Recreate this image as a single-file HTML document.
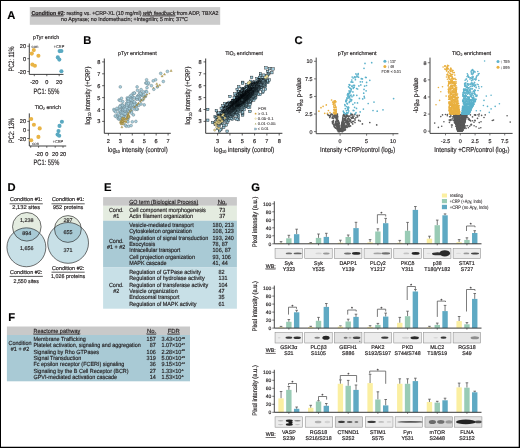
<!DOCTYPE html><html><head><meta charset="utf-8"><style>html,body{margin:0;padding:0;background:#fff;width:520px;height:448px;overflow:hidden}svg{display:block;will-change:transform;font-family:"Liberation Sans",sans-serif}text{stroke:#231f20;stroke-width:0.17px;text-rendering:geometricPrecision}</style></head><body><svg width="520" height="448" viewBox="0 0 520 448" font-family="Liberation Sans, sans-serif" fill="#231f20"><rect x="0.00" y="0.00" width="520.00" height="448.00" fill="#fff"/>
<defs><filter id="blr" x="-20%" y="-50%" width="140%" height="200%"><feGaussianBlur stdDeviation="0.55"/></filter></defs>
<rect x="29.80" y="7.10" width="190.40" height="17.70" fill="#cbcbcb"/>
<text x="125" y="14.6" font-size="5.6" text-anchor="middle" textLength="187" lengthAdjust="spacingAndGlyphs"><tspan font-weight="bold" text-decoration="underline">Condition #2</tspan>: resting vs. +CRP-XL (10 mg/ml) <tspan font-style="italic" text-decoration="underline">with feedback</tspan> from ADP, TBXA2</text>
<text x="124.5" y="20.5" font-size="5.6" text-anchor="middle" textLength="127" lengthAdjust="spacingAndGlyphs">no Apyrase; no Indomethacin; +Integrilin; 5 min; 37&#176;C</text>
<text x="7.2" y="19.2" font-size="11.2" font-weight="bold" fill="#000">A</text>
<text x="83.2" y="44.2" font-size="11.2" font-weight="bold" fill="#000">B</text>
<text x="294.6" y="44.2" font-size="11.2" font-weight="bold" fill="#000">C</text>
<text x="7.4" y="190.8" font-size="11.2" font-weight="bold" fill="#000">D</text>
<text x="104.0" y="191.3" font-size="11.2" font-weight="bold" fill="#000">E</text>
<text x="8.3" y="320.5" font-size="11.2" font-weight="bold" fill="#000">F</text>
<text x="251.3" y="190.9" font-size="11.2" font-weight="bold" fill="#000">G</text>
<line x1="29.30" y1="43.50" x2="29.30" y2="74.40" stroke="#2b2b2b" stroke-width="0.9"/>
<line x1="29.30" y1="74.40" x2="63.50" y2="74.40" stroke="#2b2b2b" stroke-width="0.9"/>
<line x1="27.30" y1="46.20" x2="29.30" y2="46.20" stroke="#2b2b2b" stroke-width="0.7"/>
<text x="26.10" y="48.22" font-size="5.6" text-anchor="end">20</text>
<line x1="27.30" y1="58.70" x2="29.30" y2="58.70" stroke="#2b2b2b" stroke-width="0.7"/>
<text x="26.10" y="60.72" font-size="5.6" text-anchor="end">0</text>
<line x1="27.30" y1="71.50" x2="29.30" y2="71.50" stroke="#2b2b2b" stroke-width="0.7"/>
<text x="26.10" y="73.52" font-size="5.6" text-anchor="end">-20</text>
<line x1="34.30" y1="74.40" x2="34.30" y2="76.20" stroke="#2b2b2b" stroke-width="0.7"/>
<line x1="46.80" y1="74.40" x2="46.80" y2="76.20" stroke="#2b2b2b" stroke-width="0.7"/>
<line x1="59.20" y1="74.40" x2="59.20" y2="76.20" stroke="#2b2b2b" stroke-width="0.7"/>
<text x="34.30" y="84.02" font-size="5.6" text-anchor="middle">-20</text>
<text x="46.80" y="84.02" font-size="5.6" text-anchor="middle">0</text>
<text x="59.20" y="84.02" font-size="5.6" text-anchor="middle">20</text>
<text x="46.10" y="38.91" font-size="5.3" text-anchor="middle">pTyr enrich</text>
<text x="46.40" y="93.71" font-size="7.8" text-anchor="middle" textLength="25.80" lengthAdjust="spacingAndGlyphs">PC1: 55%</text>
<text x="0" y="2.81" font-size="7.8" text-anchor="middle" textLength="25.00" lengthAdjust="spacingAndGlyphs" transform="translate(11.60,59.00) rotate(-90)">PC2: 11%</text>
<circle cx="33.8" cy="50.1" r="2.05" fill="#e9b445"/>
<circle cx="31.8" cy="53.6" r="2.05" fill="#e9b445"/>
<circle cx="38.4" cy="55.7" r="2.05" fill="#e9b445"/>
<circle cx="32.4" cy="64.6" r="2.05" fill="#e9b445"/>
<circle cx="34.9" cy="65.7" r="2.05" fill="#e9b445"/>
<circle cx="59.6" cy="51.1" r="2.05" fill="#5aa9c1"/>
<circle cx="61.4" cy="51.0" r="2.05" fill="#5aa9c1"/>
<circle cx="57.8" cy="57.4" r="2.05" fill="#5aa9c1"/>
<circle cx="59.3" cy="59.6" r="2.05" fill="#5aa9c1"/>
<circle cx="61.4" cy="71.3" r="2.05" fill="#5aa9c1"/>
<text x="35.00" y="47.71" font-size="4.2" text-anchor="middle" textLength="7.00" lengthAdjust="spacingAndGlyphs" style="stroke-width:0.05px">con</text>
<text x="59.00" y="47.71" font-size="4.2" text-anchor="middle" textLength="10.50" lengthAdjust="spacingAndGlyphs" style="stroke-width:0.05px">+CRP</text>
<line x1="29.30" y1="113.40" x2="29.30" y2="146.00" stroke="#2b2b2b" stroke-width="0.9"/>
<line x1="29.30" y1="146.00" x2="66.20" y2="146.00" stroke="#2b2b2b" stroke-width="0.9"/>
<line x1="27.30" y1="121.40" x2="29.30" y2="121.40" stroke="#2b2b2b" stroke-width="0.7"/>
<text x="26.10" y="123.42" font-size="5.6" text-anchor="end">20</text>
<line x1="27.30" y1="130.20" x2="29.30" y2="130.20" stroke="#2b2b2b" stroke-width="0.7"/>
<text x="26.10" y="132.22" font-size="5.6" text-anchor="end">0</text>
<line x1="27.30" y1="138.50" x2="29.30" y2="138.50" stroke="#2b2b2b" stroke-width="0.7"/>
<text x="26.10" y="140.52" font-size="5.6" text-anchor="end">-20</text>
<line x1="30.70" y1="146.00" x2="30.70" y2="147.80" stroke="#2b2b2b" stroke-width="0.7"/>
<line x1="38.60" y1="146.00" x2="38.60" y2="147.80" stroke="#2b2b2b" stroke-width="0.7"/>
<line x1="46.80" y1="146.00" x2="46.80" y2="147.80" stroke="#2b2b2b" stroke-width="0.7"/>
<line x1="55.20" y1="146.00" x2="55.20" y2="147.80" stroke="#2b2b2b" stroke-width="0.7"/>
<line x1="63.00" y1="146.00" x2="63.00" y2="147.80" stroke="#2b2b2b" stroke-width="0.7"/>
<text x="39.00" y="155.72" font-size="5.6" text-anchor="middle">-20</text>
<text x="46.80" y="155.72" font-size="5.6" text-anchor="middle">0</text>
<text x="55.20" y="155.72" font-size="5.6" text-anchor="middle">20</text>
<text x="63.00" y="155.72" font-size="5.6" text-anchor="middle">20</text>
<text x="47.80" y="108.81" font-size="5.3" text-anchor="middle">TiO<tspan font-size="3.4" dy="1.2">2</tspan><tspan dy="-1.2"> enrich</tspan></text>
<text x="46.40" y="164.61" font-size="7.8" text-anchor="middle" textLength="25.80" lengthAdjust="spacingAndGlyphs">PC1: 55%</text>
<text x="0" y="2.81" font-size="7.8" text-anchor="middle" textLength="25.00" lengthAdjust="spacingAndGlyphs" transform="translate(11.60,130.50) rotate(-90)">PC2: 13%</text>
<circle cx="31.2" cy="119.0" r="2.05" fill="#e9b445"/>
<circle cx="33.9" cy="124.8" r="2.05" fill="#e9b445"/>
<circle cx="39.7" cy="128.4" r="2.05" fill="#e9b445"/>
<circle cx="38.4" cy="136.9" r="2.05" fill="#e9b445"/>
<circle cx="31.2" cy="140.3" r="2.05" fill="#e9b445"/>
<circle cx="61.9" cy="121.7" r="2.05" fill="#5aa9c1"/>
<circle cx="59.5" cy="125.9" r="2.05" fill="#5aa9c1"/>
<circle cx="58.5" cy="131.1" r="2.05" fill="#5aa9c1"/>
<circle cx="57.6" cy="134.6" r="2.05" fill="#5aa9c1"/>
<circle cx="59.2" cy="135.8" r="2.05" fill="#5aa9c1"/>
<text x="35.70" y="145.11" font-size="4.2" text-anchor="middle" textLength="7.00" lengthAdjust="spacingAndGlyphs" style="stroke-width:0.05px">con</text>
<text x="57.90" y="142.71" font-size="4.2" text-anchor="middle" textLength="10.50" lengthAdjust="spacingAndGlyphs" style="stroke-width:0.05px">+CRP</text>
<line x1="104.30" y1="58.50" x2="104.30" y2="133.30" stroke="#222" stroke-width="0.9"/>
<line x1="104.30" y1="133.30" x2="170.80" y2="133.30" stroke="#222" stroke-width="0.9"/>
<line x1="102.10" y1="121.40" x2="104.30" y2="121.40" stroke="#222" stroke-width="0.7"/>
<text x="100.30" y="123.42" font-size="5.6" text-anchor="end">3</text>
<line x1="102.10" y1="109.50" x2="104.30" y2="109.50" stroke="#222" stroke-width="0.7"/>
<text x="100.30" y="111.52" font-size="5.6" text-anchor="end">4</text>
<line x1="102.10" y1="97.60" x2="104.30" y2="97.60" stroke="#222" stroke-width="0.7"/>
<text x="100.30" y="99.62" font-size="5.6" text-anchor="end">5</text>
<line x1="102.10" y1="85.70" x2="104.30" y2="85.70" stroke="#222" stroke-width="0.7"/>
<text x="100.30" y="87.72" font-size="5.6" text-anchor="end">6</text>
<line x1="102.10" y1="73.80" x2="104.30" y2="73.80" stroke="#222" stroke-width="0.7"/>
<text x="100.30" y="75.82" font-size="5.6" text-anchor="end">7</text>
<line x1="102.10" y1="61.90" x2="104.30" y2="61.90" stroke="#222" stroke-width="0.7"/>
<text x="100.30" y="63.92" font-size="5.6" text-anchor="end">8</text>
<line x1="108.40" y1="133.30" x2="108.40" y2="135.50" stroke="#222" stroke-width="0.7"/>
<text x="108.40" y="142.92" font-size="5.6" text-anchor="middle">2</text>
<line x1="120.34" y1="133.30" x2="120.34" y2="135.50" stroke="#222" stroke-width="0.7"/>
<text x="120.34" y="142.92" font-size="5.6" text-anchor="middle">3</text>
<line x1="132.28" y1="133.30" x2="132.28" y2="135.50" stroke="#222" stroke-width="0.7"/>
<text x="132.28" y="142.92" font-size="5.6" text-anchor="middle">4</text>
<line x1="144.22" y1="133.30" x2="144.22" y2="135.50" stroke="#222" stroke-width="0.7"/>
<text x="144.22" y="142.92" font-size="5.6" text-anchor="middle">5</text>
<line x1="156.16" y1="133.30" x2="156.16" y2="135.50" stroke="#222" stroke-width="0.7"/>
<text x="156.16" y="142.92" font-size="5.6" text-anchor="middle">6</text>
<line x1="168.10" y1="133.30" x2="168.10" y2="135.50" stroke="#222" stroke-width="0.7"/>
<text x="168.10" y="142.92" font-size="5.6" text-anchor="middle">7</text>
<text x="118.00" y="54.91" font-size="5.3" textLength="38.70" lengthAdjust="spacingAndGlyphs">pTyr enrichment</text>
<text x="137.70" y="151.7" font-size="7.0" text-anchor="middle" textLength="60.0" lengthAdjust="spacingAndGlyphs">log<tspan font-size="4.4" dy="1.5">10</tspan><tspan dy="-1.5"> intensity (control)</tspan></text>
<text transform="translate(87.1,95.6) rotate(-90)" x="0" y="2.4" font-size="7.0" text-anchor="middle" textLength="58" lengthAdjust="spacingAndGlyphs">log<tspan font-size="4.4" dy="1.5">10</tspan><tspan dy="-1.5"> intensity (+CRP)</tspan></text>
<line x1="205.70" y1="58.50" x2="205.70" y2="133.30" stroke="#222" stroke-width="0.9"/>
<line x1="205.70" y1="133.30" x2="282.40" y2="133.30" stroke="#222" stroke-width="0.9"/>
<line x1="203.50" y1="121.40" x2="205.70" y2="121.40" stroke="#222" stroke-width="0.7"/>
<text x="201.70" y="123.42" font-size="5.6" text-anchor="end">3</text>
<line x1="203.50" y1="109.50" x2="205.70" y2="109.50" stroke="#222" stroke-width="0.7"/>
<text x="201.70" y="111.52" font-size="5.6" text-anchor="end">4</text>
<line x1="203.50" y1="97.60" x2="205.70" y2="97.60" stroke="#222" stroke-width="0.7"/>
<text x="201.70" y="99.62" font-size="5.6" text-anchor="end">5</text>
<line x1="203.50" y1="85.70" x2="205.70" y2="85.70" stroke="#222" stroke-width="0.7"/>
<text x="201.70" y="87.72" font-size="5.6" text-anchor="end">6</text>
<line x1="203.50" y1="73.80" x2="205.70" y2="73.80" stroke="#222" stroke-width="0.7"/>
<text x="201.70" y="75.82" font-size="5.6" text-anchor="end">7</text>
<line x1="203.50" y1="61.90" x2="205.70" y2="61.90" stroke="#222" stroke-width="0.7"/>
<text x="201.70" y="63.92" font-size="5.6" text-anchor="end">8</text>
<line x1="217.60" y1="133.30" x2="217.60" y2="135.50" stroke="#222" stroke-width="0.7"/>
<text x="217.60" y="142.92" font-size="5.6" text-anchor="middle">3</text>
<line x1="229.92" y1="133.30" x2="229.92" y2="135.50" stroke="#222" stroke-width="0.7"/>
<text x="229.92" y="142.92" font-size="5.6" text-anchor="middle">4</text>
<line x1="242.24" y1="133.30" x2="242.24" y2="135.50" stroke="#222" stroke-width="0.7"/>
<text x="242.24" y="142.92" font-size="5.6" text-anchor="middle">5</text>
<line x1="254.56" y1="133.30" x2="254.56" y2="135.50" stroke="#222" stroke-width="0.7"/>
<text x="254.56" y="142.92" font-size="5.6" text-anchor="middle">6</text>
<line x1="266.88" y1="133.30" x2="266.88" y2="135.50" stroke="#222" stroke-width="0.7"/>
<text x="266.88" y="142.92" font-size="5.6" text-anchor="middle">7</text>
<line x1="279.20" y1="133.30" x2="279.20" y2="135.50" stroke="#222" stroke-width="0.7"/>
<text x="279.20" y="142.92" font-size="5.6" text-anchor="middle">8</text>
<text x="225.20" y="54.91" font-size="5.3" textLength="37.80" lengthAdjust="spacingAndGlyphs">TiO<tspan font-size="3.4" dy="1.2">2</tspan><tspan dy="-1.2"> enrichment</tspan></text>
<text x="244.10" y="151.7" font-size="7.0" text-anchor="middle" textLength="60.4" lengthAdjust="spacingAndGlyphs">log<tspan font-size="4.4" dy="1.5">10</tspan><tspan dy="-1.5"> intensity (control)</tspan></text>
<text transform="translate(187.9,95.6) rotate(-90)" x="0" y="2.4" font-size="7.0" text-anchor="middle" textLength="58" lengthAdjust="spacingAndGlyphs">log<tspan font-size="4.4" dy="1.5">10</tspan><tspan dy="-1.5"> intensity (+CRP)</tspan></text>
<g fill="#a8cfdd" stroke="#5d7780" stroke-width="0.42"><circle cx="126.5" cy="103.7" r="1.4"/><circle cx="119.8" cy="107.4" r="1.4"/><circle cx="130.6" cy="105.8" r="1.4"/><circle cx="130.0" cy="103.8" r="1.4"/><circle cx="118.1" cy="116.4" r="1.4"/><circle cx="120.5" cy="111.9" r="1.4"/><circle cx="128.4" cy="105.2" r="1.4"/><circle cx="124.3" cy="111.9" r="1.4"/><circle cx="132.6" cy="96.8" r="1.4"/><circle cx="127.9" cy="108.9" r="1.4"/><circle cx="145.8" cy="83.1" r="1.4"/><circle cx="125.8" cy="105.6" r="1.4"/><circle cx="122.3" cy="108.1" r="1.4"/><circle cx="137.9" cy="96.0" r="1.4"/><circle cx="123.3" cy="116.7" r="1.4"/><circle cx="127.4" cy="110.7" r="1.4"/><circle cx="130.9" cy="102.8" r="1.4"/><circle cx="123.9" cy="109.3" r="1.4"/><circle cx="133.9" cy="105.9" r="1.4"/><circle cx="131.7" cy="101.9" r="1.4"/><circle cx="128.9" cy="108.7" r="1.4"/><circle cx="134.4" cy="93.1" r="1.4"/><circle cx="124.8" cy="114.7" r="1.4"/><circle cx="140.0" cy="99.9" r="1.4"/><circle cx="135.2" cy="104.3" r="1.4"/><circle cx="121.5" cy="98.3" r="1.4"/><circle cx="128.3" cy="106.4" r="1.4"/><circle cx="129.6" cy="108.3" r="1.4"/><circle cx="118.2" cy="118.7" r="1.4"/><circle cx="131.4" cy="111.4" r="1.4"/><circle cx="140.0" cy="100.1" r="1.4"/><circle cx="131.9" cy="96.5" r="1.4"/><circle cx="131.6" cy="113.1" r="1.4"/><circle cx="143.4" cy="91.8" r="1.4"/><circle cx="129.3" cy="106.6" r="1.4"/><circle cx="134.5" cy="103.1" r="1.4"/><circle cx="133.1" cy="93.4" r="1.4"/><circle cx="125.7" cy="109.0" r="1.4"/><circle cx="127.7" cy="107.5" r="1.4"/><circle cx="129.1" cy="106.8" r="1.4"/><circle cx="122.9" cy="109.5" r="1.4"/><circle cx="136.4" cy="98.9" r="1.4"/><circle cx="121.8" cy="111.6" r="1.4"/><circle cx="139.9" cy="92.3" r="1.4"/><circle cx="120.1" cy="119.0" r="1.4"/><circle cx="140.4" cy="94.9" r="1.4"/><circle cx="138.0" cy="96.1" r="1.4"/><circle cx="128.2" cy="109.6" r="1.4"/><circle cx="127.2" cy="98.0" r="1.4"/><circle cx="122.5" cy="119.5" r="1.4"/><circle cx="123.2" cy="110.2" r="1.4"/><circle cx="129.6" cy="101.9" r="1.4"/><circle cx="131.8" cy="103.8" r="1.4"/><circle cx="128.3" cy="106.0" r="1.4"/><circle cx="127.4" cy="118.5" r="1.4"/><circle cx="134.2" cy="106.8" r="1.4"/><circle cx="130.2" cy="110.5" r="1.4"/><circle cx="119.0" cy="119.0" r="1.4"/><circle cx="141.1" cy="94.4" r="1.4"/><circle cx="137.3" cy="109.3" r="1.4"/><circle cx="127.8" cy="108.8" r="1.4"/><circle cx="132.8" cy="101.5" r="1.4"/><circle cx="119.4" cy="110.5" r="1.4"/><circle cx="122.8" cy="109.5" r="1.4"/><circle cx="126.8" cy="107.6" r="1.4"/><circle cx="122.5" cy="111.1" r="1.4"/><circle cx="120.9" cy="113.1" r="1.4"/><circle cx="140.0" cy="96.3" r="1.4"/><circle cx="132.3" cy="101.0" r="1.4"/><circle cx="127.0" cy="104.5" r="1.4"/><circle cx="127.3" cy="100.3" r="1.4"/><circle cx="147.8" cy="84.2" r="1.4"/><circle cx="129.2" cy="107.9" r="1.4"/><circle cx="120.9" cy="112.2" r="1.4"/><circle cx="126.9" cy="108.5" r="1.4"/><circle cx="122.8" cy="101.6" r="1.4"/><circle cx="117.2" cy="109.5" r="1.4"/><circle cx="122.3" cy="113.1" r="1.4"/><circle cx="130.8" cy="98.5" r="1.4"/><circle cx="146.0" cy="91.4" r="1.4"/><circle cx="139.6" cy="98.8" r="1.4"/><circle cx="127.3" cy="110.9" r="1.4"/><circle cx="122.9" cy="109.9" r="1.4"/><circle cx="136.7" cy="105.9" r="1.4"/><circle cx="126.6" cy="106.3" r="1.4"/><circle cx="146.7" cy="82.8" r="1.4"/><circle cx="139.2" cy="94.6" r="1.4"/><circle cx="135.5" cy="109.4" r="1.4"/><circle cx="124.4" cy="114.2" r="1.4"/><circle cx="117.6" cy="115.6" r="1.4"/><circle cx="117.5" cy="115.8" r="1.4"/><circle cx="134.3" cy="97.9" r="1.4"/><circle cx="144.2" cy="104.9" r="1.4"/><circle cx="147.0" cy="87.7" r="1.4"/><circle cx="144.1" cy="96.2" r="1.4"/><circle cx="124.4" cy="106.9" r="1.4"/><circle cx="123.7" cy="108.2" r="1.4"/><circle cx="141.1" cy="89.6" r="1.4"/><circle cx="138.7" cy="105.4" r="1.4"/><circle cx="137.3" cy="98.4" r="1.4"/><circle cx="120.3" cy="118.7" r="1.4"/><circle cx="136.8" cy="109.0" r="1.4"/><circle cx="135.8" cy="103.6" r="1.4"/><circle cx="137.0" cy="99.1" r="1.4"/><circle cx="126.7" cy="103.6" r="1.4"/><circle cx="127.8" cy="119.5" r="1.4"/><circle cx="128.0" cy="99.2" r="1.4"/><circle cx="123.0" cy="113.4" r="1.4"/><circle cx="121.7" cy="105.4" r="1.4"/><circle cx="137.5" cy="90.3" r="1.4"/><circle cx="122.3" cy="104.8" r="1.4"/><circle cx="133.4" cy="114.9" r="1.4"/><circle cx="127.0" cy="110.0" r="1.4"/><circle cx="116.4" cy="116.7" r="1.4"/><circle cx="145.3" cy="96.5" r="1.4"/><circle cx="142.8" cy="99.9" r="1.4"/><circle cx="128.6" cy="99.8" r="1.4"/><circle cx="124.0" cy="116.6" r="1.4"/><circle cx="125.0" cy="110.1" r="1.4"/><circle cx="131.7" cy="100.2" r="1.4"/><circle cx="125.2" cy="111.3" r="1.4"/><circle cx="141.6" cy="94.6" r="1.4"/><circle cx="127.1" cy="113.8" r="1.4"/><circle cx="141.3" cy="94.4" r="1.4"/><circle cx="128.3" cy="101.3" r="1.4"/><circle cx="130.5" cy="107.6" r="1.4"/><circle cx="130.3" cy="99.5" r="1.4"/><circle cx="123.3" cy="109.8" r="1.4"/><circle cx="115.2" cy="116.0" r="1.4"/><circle cx="129.3" cy="108.6" r="1.4"/><circle cx="135.1" cy="105.2" r="1.4"/><circle cx="130.2" cy="106.5" r="1.4"/><circle cx="131.0" cy="103.8" r="1.4"/><circle cx="131.1" cy="106.5" r="1.4"/><circle cx="124.9" cy="110.6" r="1.4"/><circle cx="130.0" cy="96.6" r="1.4"/><circle cx="131.2" cy="103.5" r="1.4"/><circle cx="128.7" cy="117.1" r="1.4"/><circle cx="132.3" cy="109.3" r="1.4"/><circle cx="134.3" cy="101.9" r="1.4"/><circle cx="128.9" cy="111.6" r="1.4"/><circle cx="143.2" cy="95.8" r="1.4"/><circle cx="134.4" cy="93.1" r="1.4"/><circle cx="125.2" cy="117.3" r="1.4"/><circle cx="131.1" cy="95.3" r="1.4"/><circle cx="122.1" cy="114.8" r="1.4"/><circle cx="121.6" cy="113.7" r="1.4"/><circle cx="124.7" cy="108.6" r="1.4"/><circle cx="119.8" cy="117.5" r="1.4"/><circle cx="141.0" cy="104.0" r="1.4"/><circle cx="122.6" cy="112.6" r="1.4"/><circle cx="122.2" cy="118.5" r="1.4"/><circle cx="140.4" cy="93.4" r="1.4"/><circle cx="143.9" cy="94.7" r="1.4"/><circle cx="127.9" cy="121.9" r="1.4"/><circle cx="138.4" cy="97.2" r="1.4"/><circle cx="122.8" cy="116.4" r="1.4"/><circle cx="126.8" cy="105.2" r="1.4"/><circle cx="123.7" cy="113.5" r="1.4"/><circle cx="116.9" cy="108.3" r="1.4"/><circle cx="131.0" cy="105.2" r="1.4"/><circle cx="126.6" cy="107.5" r="1.4"/><circle cx="132.6" cy="104.9" r="1.4"/><circle cx="146.7" cy="92.0" r="1.4"/><circle cx="137.0" cy="97.3" r="1.4"/><circle cx="125.3" cy="109.3" r="1.4"/><circle cx="118.2" cy="113.8" r="1.4"/><circle cx="121.8" cy="115.6" r="1.4"/><circle cx="128.3" cy="98.6" r="1.4"/><circle cx="125.1" cy="113.9" r="1.4"/><circle cx="122.4" cy="105.5" r="1.4"/><circle cx="134.5" cy="104.7" r="1.4"/><circle cx="120.5" cy="105.6" r="1.4"/><circle cx="128.4" cy="103.7" r="1.4"/><circle cx="119.8" cy="106.7" r="1.4"/><circle cx="120.3" cy="86.9" r="1.4"/><circle cx="167.4" cy="71.4" r="1.4"/><circle cx="160.7" cy="73.4" r="1.4"/><circle cx="148.5" cy="83.0" r="1.4"/><circle cx="153.2" cy="80.9" r="1.4"/><circle cx="155.6" cy="79.8" r="1.4"/><circle cx="163.3" cy="81.5" r="1.4"/><circle cx="137.1" cy="86.9" r="1.4"/><circle cx="146.6" cy="79.8" r="1.4"/><circle cx="151.4" cy="85.7" r="1.4"/><circle cx="126.3" cy="126.2" r="1.4"/><circle cx="128.7" cy="126.2" r="1.4"/><circle cx="131.1" cy="125.6" r="1.4"/><circle cx="125.1" cy="125.0" r="1.4"/><circle cx="132.3" cy="121.8" r="1.4"/><circle cx="135.9" cy="121.4" r="1.4"/><circle cx="113.9" cy="109.5" r="1.4"/><circle cx="114.4" cy="110.7" r="1.4"/><circle cx="115.6" cy="111.9" r="1.4"/><circle cx="119.1" cy="100.0" r="1.4"/><circle cx="120.3" cy="100.6" r="1.4"/><circle cx="153.8" cy="89.3" r="1.4"/><circle cx="157.4" cy="86.9" r="1.4"/></g>
<g fill="#d3bb66" stroke="#7a6a30" stroke-width="0.3"><path d="M127.0 117.1l1.10 1.90h-2.20z"/><path d="M121.0 121.4l1.10 1.90h-2.20z"/><path d="M127.6 116.0l1.10 1.90h-2.20z"/><path d="M124.1 120.2l1.10 1.90h-2.20z"/><path d="M128.1 112.6l1.10 1.90h-2.20z"/><path d="M122.6 118.5l1.10 1.90h-2.20z"/><path d="M122.3 118.7l1.10 1.90h-2.20z"/><path d="M121.3 121.3l1.10 1.90h-2.20z"/><path d="M122.0 120.3l1.10 1.90h-2.20z"/><path d="M122.9 121.2l1.10 1.90h-2.20z"/><path d="M122.8 116.8l1.10 1.90h-2.20z"/><path d="M124.5 117.5l1.10 1.90h-2.20z"/><path d="M120.5 120.7l1.10 1.90h-2.20z"/><path d="M122.4 117.0l1.10 1.90h-2.20z"/><path d="M124.9 117.7l1.10 1.90h-2.20z"/><path d="M121.9 125.9l1.10 1.90h-2.20z"/><path d="M121.2 120.9l1.10 1.90h-2.20z"/><path d="M127.2 118.0l1.10 1.90h-2.20z"/><path d="M127.3 114.6l1.10 1.90h-2.20z"/><path d="M123.6 122.6l1.10 1.90h-2.20z"/><path d="M128.6 114.5l1.10 1.90h-2.20z"/><path d="M123.2 118.1l1.10 1.90h-2.20z"/><path d="M125.7 120.2l1.10 1.90h-2.20z"/><path d="M123.7 119.6l1.10 1.90h-2.20z"/><path d="M121.4 120.9l1.10 1.90h-2.20z"/><path d="M120.9 122.1l1.10 1.90h-2.20z"/><path d="M121.7 122.9l1.10 1.90h-2.20z"/><path d="M121.0 119.5l1.10 1.90h-2.20z"/><path d="M125.9 120.6l1.10 1.90h-2.20z"/><path d="M122.7 120.1l1.10 1.90h-2.20z"/><path d="M124.2 117.0l1.10 1.90h-2.20z"/><path d="M121.7 122.8l1.10 1.90h-2.20z"/><path d="M128.4 114.0l1.10 1.90h-2.20z"/><path d="M128.5 116.0l1.10 1.90h-2.20z"/><path d="M128.4 115.0l1.10 1.90h-2.20z"/><path d="M136.5 104.6l0.66 1.14h-1.32z"/><path d="M138.3 102.8l0.66 1.14h-1.32z"/><path d="M140.6 101.0l0.66 1.14h-1.32z"/><path d="M141.4 99.7l0.66 1.14h-1.32z"/><path d="M128.8 112.3l0.66 1.14h-1.32z"/><path d="M138.7 102.1l0.66 1.14h-1.32z"/><path d="M129.7 110.7l0.66 1.14h-1.32z"/><path d="M134.5 106.4l0.66 1.14h-1.32z"/><path d="M143.4 98.9l0.66 1.14h-1.32z"/><path d="M145.2 96.1l0.66 1.14h-1.32z"/><path d="M146.7 93.9l0.66 1.14h-1.32z"/><path d="M136.9 104.7l0.66 1.14h-1.32z"/><path d="M153.4 87.1l0.66 1.14h-1.32z"/><path d="M144.8 95.4l0.66 1.14h-1.32z"/><path d="M129.8 110.5l0.66 1.14h-1.32z"/><path d="M144.4 98.0l0.66 1.14h-1.32z"/><path d="M147.1 93.9l0.66 1.14h-1.32z"/><path d="M141.8 99.6l0.66 1.14h-1.32z"/><path d="M141.3 99.1l0.66 1.14h-1.32z"/><path d="M149.4 92.8l0.66 1.14h-1.32z"/><path d="M143.3 96.9l0.66 1.14h-1.32z"/><path d="M146.1 95.7l0.66 1.14h-1.32z"/><path d="M134.5 106.2l0.66 1.14h-1.32z"/><path d="M137.7 103.3l0.66 1.14h-1.32z"/><path d="M131.3 109.3l0.66 1.14h-1.32z"/><path d="M162.1 75.0l1.1 1.9h-2.2z"/><path d="M156.8 82.7l1.1 1.9h-2.2z"/><path d="M159.7 83.9l1.1 1.9h-2.2z"/><path d="M171.1 69.6l1.1 1.9h-2.2z"/><path d="M157.4 85.1l1.1 1.9h-2.2z"/><path d="M164.5 73.2l1.1 1.9h-2.2z"/></g>
<g stroke="#050a0c" stroke-width="0.38"><rect x="206.5" y="108.2" width="2.5" height="2.5" fill="#9cc8d8"/><rect x="225.9" y="130.0" width="2.5" height="2.5" fill="#9cc8d8"/><rect x="248.7" y="110.2" width="2.5" height="2.5" fill="#9cc8d8"/><rect x="241.5" y="81.1" width="2.5" height="2.5" fill="#9cc8d8"/><rect x="237.2" y="118.4" width="2.5" height="2.5" fill="#9cc8d8"/><rect x="241.4" y="82.0" width="2.5" height="2.5" fill="#9cc8d8"/><rect x="237.5" y="85.5" width="2.5" height="2.5" fill="#9cc8d8"/><rect x="241.4" y="113.7" width="2.5" height="2.5" fill="#9cc8d8"/><rect x="250.4" y="76.1" width="2.5" height="2.5" fill="#9cc8d8"/><rect x="235.8" y="117.9" width="2.5" height="2.5" fill="#9cc8d8"/><rect x="235.9" y="88.2" width="2.5" height="2.5" fill="#9cc8d8"/><rect x="228.7" y="95.2" width="2.5" height="2.5" fill="#9cc8d8"/><rect x="241.4" y="112.4" width="2.5" height="2.5" fill="#9cc8d8"/><rect x="237.3" y="115.4" width="2.5" height="2.5" fill="#9cc8d8"/><rect x="264.8" y="66.6" width="2.5" height="2.5" fill="#9cc8d8"/><rect x="248.4" y="105.9" width="2.5" height="2.5" fill="#9cc8d8"/><rect x="241.0" y="111.8" width="2.5" height="2.5" fill="#9cc8d8"/><rect x="234.3" y="117.3" width="2.5" height="2.5" fill="#9cc8d8"/><rect x="218.2" y="129.7" width="2.5" height="2.5" fill="#9cc8d8"/><rect x="222.5" y="126.1" width="2.5" height="2.5" fill="#9cc8d8"/><rect x="247.0" y="106.3" width="2.5" height="2.5" fill="#9cc8d8"/><rect x="219.7" y="127.9" width="2.5" height="2.5" fill="#9cc8d8"/><rect x="241.4" y="110.8" width="2.5" height="2.5" fill="#9cc8d8"/><rect x="218.8" y="128.5" width="2.5" height="2.5" fill="#9cc8d8"/><rect x="237.3" y="114.1" width="2.5" height="2.5" fill="#9cc8d8"/><rect x="215.1" y="109.4" width="2.5" height="2.5" fill="#9cc8d8"/><rect x="225.0" y="123.7" width="2.5" height="2.5" fill="#9cc8d8"/><rect x="233.6" y="92.8" width="2.5" height="2.5" fill="#9cc8d8"/><rect x="259.3" y="72.5" width="2.5" height="2.5" fill="#9cc8d8"/><rect x="240.7" y="87.3" width="2.5" height="2.5" fill="#9cc8d8"/><rect x="249.6" y="80.1" width="2.5" height="2.5" fill="#9cc8d8"/><rect x="247.2" y="82.1" width="2.5" height="2.5" fill="#9cc8d8"/><rect x="245.8" y="83.3" width="2.5" height="2.5" fill="#9cc8d8"/><rect x="223.7" y="102.3" width="2.5" height="2.5" fill="#9cc8d8"/><rect x="206.5" y="119.0" width="2.5" height="2.5" fill="#9cc8d8"/><rect x="237.5" y="90.5" width="2.5" height="2.5" fill="#9cc8d8"/><rect x="231.1" y="117.8" width="2.5" height="2.5" fill="#9cc8d8"/><rect x="237.8" y="90.3" width="2.5" height="2.5" fill="#9cc8d8"/><rect x="242.7" y="108.4" width="2.5" height="2.5" fill="#9cc8d8"/><rect x="221.6" y="104.7" width="2.5" height="2.5" fill="#9cc8d8"/><rect x="236.1" y="91.9" width="2.5" height="2.5" fill="#9cc8d8"/><rect x="248.8" y="103.0" width="2.5" height="2.5" fill="#9cc8d8"/><rect x="222.5" y="124.1" width="2.5" height="2.5" fill="#9cc8d8"/><rect x="268.4" y="67.4" width="2.5" height="2.5" fill="#9cc8d8"/><rect x="261.5" y="91.0" width="2.5" height="2.5" fill="#9cc8d8"/><rect x="226.4" y="120.7" width="2.5" height="2.5" fill="#9cc8d8"/><rect x="236.3" y="112.9" width="2.5" height="2.5" fill="#9cc8d8"/><rect x="220.0" y="107.1" width="2.5" height="2.5" fill="#9cc8d8"/><rect x="259.2" y="74.3" width="2.5" height="2.5" fill="#9cc8d8"/><rect x="242.3" y="87.5" width="2.5" height="2.5" fill="#9cc8d8"/><rect x="258.8" y="93.2" width="2.5" height="2.5" fill="#9cc8d8"/><rect x="244.2" y="86.0" width="2.5" height="2.5" fill="#9cc8d8"/><rect x="249.7" y="81.6" width="2.5" height="2.5" fill="#9cc8d8"/><rect x="264.3" y="87.9" width="2.5" height="2.5" fill="#9cc8d8"/><rect x="247.2" y="83.8" width="2.5" height="2.5" fill="#9cc8d8"/><rect x="262.0" y="90.0" width="2.5" height="2.5" fill="#9cc8d8"/><rect x="252.5" y="98.7" width="2.5" height="2.5" fill="#9cc8d8"/><rect x="235.7" y="112.9" width="2.5" height="2.5" fill="#9cc8d8"/><rect x="216.3" y="127.3" width="2.5" height="2.5" fill="#9cc8d8"/><rect x="244.8" y="105.3" width="2.5" height="2.5" fill="#9cc8d8"/><rect x="255.8" y="77.3" width="2.5" height="2.5" fill="#9cc8d8"/><rect x="249.4" y="101.3" width="2.5" height="2.5" fill="#9cc8d8"/><rect x="230.0" y="117.3" width="2.5" height="2.5" fill="#9cc8d8"/><rect x="241.8" y="88.3" width="2.5" height="2.5" fill="#9cc8d8"/><rect x="234.4" y="113.6" width="2.5" height="2.5" fill="#9cc8d8"/><rect x="242.0" y="88.4" width="2.5" height="2.5" fill="#9cc8d8"/><rect x="242.2" y="88.2" width="2.5" height="2.5" fill="#9cc8d8"/><rect x="245.2" y="104.7" width="2.5" height="2.5" fill="#9cc8d8"/><rect x="229.8" y="117.2" width="2.5" height="2.5" fill="#9cc8d8"/><rect x="227.4" y="119.0" width="2.5" height="2.5" fill="#9cc8d8"/><rect x="253.7" y="97.2" width="2.5" height="2.5" fill="#9cc8d8"/><rect x="254.5" y="96.3" width="2.5" height="2.5" fill="#9cc8d8"/><rect x="266.4" y="70.2" width="2.5" height="2.5" fill="#9cc8d8"/><rect x="237.2" y="111.2" width="2.5" height="2.5" fill="#9cc8d8"/><rect x="240.3" y="90.1" width="2.5" height="2.5" fill="#9cc8d8"/><rect x="239.5" y="90.8" width="2.5" height="2.5" fill="#9cc8d8"/><rect x="244.9" y="104.6" width="2.5" height="2.5" fill="#9cc8d8"/><rect x="250.8" y="81.7" width="2.5" height="2.5" fill="#9cc8d8"/><rect x="234.8" y="94.9" width="2.5" height="2.5" fill="#9cc8d8"/><rect x="238.4" y="110.0" width="2.5" height="2.5" fill="#9cc8d8"/><rect x="258.2" y="76.1" width="2.5" height="2.5" fill="#9cc8d8"/><rect x="233.0" y="96.5" width="2.5" height="2.5" fill="#9cc8d8"/><rect x="227.9" y="101.1" width="2.5" height="2.5" fill="#9cc8d8"/><rect x="245.7" y="85.9" width="2.5" height="2.5" fill="#9cc8d8"/><rect x="243.0" y="106.0" width="2.5" height="2.5" fill="#9cc8d8"/><rect x="243.7" y="87.5" width="2.5" height="2.5" fill="#9cc8d8"/><rect x="237.7" y="92.6" width="2.5" height="2.5" fill="#9cc8d8"/><rect x="240.8" y="107.8" width="2.5" height="2.5" fill="#9cc8d8"/><rect x="235.8" y="111.9" width="2.5" height="2.5" fill="#9cc8d8"/><rect x="239.5" y="91.2" width="2.5" height="2.5" fill="#9cc8d8"/><rect x="271.8" y="67.7" width="2.5" height="2.5" fill="#9cc8d8"/><rect x="240.5" y="90.4" width="2.5" height="2.5" fill="#9cc8d8"/><rect x="246.0" y="85.9" width="2.5" height="2.5" fill="#9cc8d8"/><rect x="216.5" y="112.3" width="2.5" height="2.5" fill="#9cc8d8"/><rect x="237.3" y="93.1" width="2.5" height="2.5" fill="#9cc8d8"/><rect x="240.6" y="107.7" width="2.5" height="2.5" fill="#9cc8d8"/><rect x="249.6" y="83.1" width="2.5" height="2.5" fill="#9cc8d8"/><rect x="242.9" y="88.5" width="2.5" height="2.5" fill="#9cc8d8"/><rect x="249.1" y="83.6" width="2.5" height="2.5" fill="#9cc8d8"/><rect x="227.1" y="102.3" width="2.5" height="2.5" fill="#9cc8d8"/><rect x="248.9" y="100.5" width="2.5" height="2.5" fill="#9cc8d8"/><rect x="235.0" y="112.2" width="2.5" height="2.5" fill="#9cc8d8"/><rect x="224.6" y="120.1" width="2.5" height="2.5" fill="#9cc8d8"/><rect x="225.8" y="103.5" width="2.5" height="2.5" fill="#9cc8d8"/><rect x="236.6" y="94.0" width="2.5" height="2.5" fill="#9cc8d8"/><rect x="262.5" y="73.9" width="2.5" height="2.5" fill="#9cc8d8"/><rect x="238.5" y="109.3" width="2.5" height="2.5" fill="#9cc8d8"/><rect x="213.9" y="115.4" width="2.5" height="2.5" fill="#9cc8d8"/><rect x="226.8" y="102.7" width="2.5" height="2.5" fill="#9cc8d8"/><rect x="222.5" y="106.8" width="2.5" height="2.5" fill="#9cc8d8"/><rect x="257.2" y="92.8" width="2.5" height="2.5" fill="#9cc8d8"/><rect x="248.3" y="84.5" width="2.5" height="2.5" fill="#9cc8d8"/><rect x="236.7" y="94.0" width="2.5" height="2.5" fill="#9cc8d8"/><rect x="235.9" y="111.2" width="2.5" height="2.5" fill="#9cc8d8"/><rect x="253.7" y="80.4" width="2.5" height="2.5" fill="#9cc8d8"/><rect x="217.8" y="124.4" width="2.5" height="2.5" fill="#9cc8d8"/><rect x="246.1" y="102.7" width="2.5" height="2.5" fill="#9cc8d8"/><rect x="243.5" y="104.9" width="2.5" height="2.5" fill="#9cc8d8"/><rect x="242.4" y="89.4" width="2.5" height="2.5" fill="#9cc8d8"/><rect x="245.2" y="87.0" width="2.5" height="2.5" fill="#9cc8d8"/><rect x="217.6" y="111.8" width="2.5" height="2.5" fill="#9cc8d8"/><rect x="254.1" y="95.5" width="2.5" height="2.5" fill="#9cc8d8"/><rect x="249.8" y="99.4" width="2.5" height="2.5" fill="#9cc8d8"/><rect x="236.6" y="94.3" width="2.5" height="2.5" fill="#9cc8d8"/><rect x="238.8" y="92.4" width="2.5" height="2.5" fill="#9cc8d8"/><rect x="244.7" y="103.7" width="2.5" height="2.5" fill="#9cc8d8"/><rect x="235.3" y="111.4" width="2.5" height="2.5" fill="#9cc8d8"/><rect x="239.5" y="108.1" width="2.5" height="2.5" fill="#9cc8d8"/><rect x="236.1" y="110.8" width="2.5" height="2.5" fill="#9cc8d8"/><rect x="225.0" y="119.2" width="2.5" height="2.5" fill="#9cc8d8"/><rect x="231.3" y="114.5" width="2.5" height="2.5" fill="#9cc8d8"/><rect x="248.3" y="100.5" width="2.5" height="2.5" fill="#9cc8d8"/><rect x="243.6" y="88.6" width="2.5" height="2.5" fill="#9cc8d8"/><rect x="250.7" y="83.0" width="2.5" height="2.5" fill="#9cc8d8"/><rect x="243.4" y="88.7" width="2.5" height="2.5" fill="#9cc8d8"/><rect x="226.4" y="103.7" width="2.5" height="2.5" fill="#9cc8d8"/><rect x="253.9" y="95.3" width="2.5" height="2.5" fill="#9cc8d8"/><rect x="231.6" y="114.1" width="2.5" height="2.5" fill="#9cc8d8"/><rect x="257.1" y="78.4" width="2.5" height="2.5" fill="#9cc8d8"/><rect x="239.0" y="92.6" width="2.5" height="2.5" fill="#9cc8d8"/><rect x="247.8" y="85.5" width="2.5" height="2.5" fill="#9cc8d8"/><rect x="228.2" y="116.6" width="2.5" height="2.5" fill="#9cc8d8"/><rect x="240.0" y="91.8" width="2.5" height="2.5" fill="#9cc8d8"/><rect x="224.7" y="105.4" width="2.5" height="2.5" fill="#9cc8d8"/><rect x="244.9" y="103.1" width="2.5" height="2.5" fill="#9cc8d8"/><rect x="250.2" y="98.5" width="2.5" height="2.5" fill="#9cc8d8"/><rect x="227.6" y="102.8" width="2.5" height="2.5" fill="#9cc8d8"/><rect x="251.0" y="83.1" width="2.5" height="2.5" fill="#9cc8d8"/><rect x="230.3" y="114.9" width="2.5" height="2.5" fill="#9cc8d8"/><rect x="239.6" y="92.3" width="2.5" height="2.5" fill="#9cc8d8"/><rect x="221.1" y="121.5" width="2.5" height="2.5" fill="#9cc8d8"/><rect x="232.1" y="113.4" width="2.5" height="2.5" fill="#9cc8d8"/><rect x="248.7" y="99.8" width="2.5" height="2.5" fill="#9cc8d8"/><rect x="248.5" y="99.9" width="2.5" height="2.5" fill="#9cc8d8"/><rect x="248.6" y="99.8" width="2.5" height="2.5" fill="#9cc8d8"/><rect x="224.4" y="106.0" width="2.5" height="2.5" fill="#9cc8d8"/><rect x="232.2" y="113.3" width="2.5" height="2.5" fill="#9cc8d8"/><rect x="238.2" y="93.5" width="2.5" height="2.5" fill="#9cc8d8"/><rect x="264.3" y="84.7" width="2.5" height="2.5" fill="#9cc8d8"/><rect x="239.5" y="107.4" width="2.5" height="2.5" fill="#9cc8d8"/><rect x="223.2" y="107.2" width="2.5" height="2.5" fill="#9cc8d8"/><rect x="251.7" y="82.8" width="2.5" height="2.5" fill="#9cc8d8"/><rect x="244.3" y="88.6" width="2.5" height="2.5" fill="#9cc8d8"/><rect x="249.8" y="84.3" width="2.5" height="2.5" fill="#9cc8d8"/><rect x="218.0" y="123.2" width="2.5" height="2.5" fill="#9cc8d8"/><rect x="244.2" y="88.6" width="2.5" height="2.5" fill="#9cc8d8"/><rect x="248.9" y="85.0" width="2.5" height="2.5" fill="#9cc8d8"/><rect x="219.2" y="122.4" width="2.5" height="2.5" fill="#9cc8d8"/><rect x="244.2" y="103.4" width="2.5" height="2.5" fill="#9cc8d8"/><rect x="246.9" y="101.1" width="2.5" height="2.5" fill="#9cc8d8"/><rect x="246.1" y="87.3" width="2.5" height="2.5" fill="#9cc8d8"/><rect x="267.5" y="72.5" width="2.5" height="2.5" fill="#9cc8d8"/><rect x="235.7" y="96.0" width="2.5" height="2.5" fill="#9cc8d8"/><rect x="223.6" y="107.1" width="2.5" height="2.5" fill="#9cc8d8"/><rect x="231.1" y="100.1" width="2.5" height="2.5" fill="#9cc8d8"/><rect x="240.7" y="91.8" width="2.5" height="2.5" fill="#9cc8d8"/><rect x="248.2" y="85.7" width="2.5" height="2.5" fill="#9cc8d8"/><rect x="270.6" y="71.4" width="2.5" height="2.5" fill="#9cc8d8"/><rect x="242.2" y="104.9" width="2.5" height="2.5" fill="#9cc8d8"/><rect x="241.1" y="105.8" width="2.5" height="2.5" fill="#9cc8d8"/><rect x="245.7" y="87.8" width="2.5" height="2.5" fill="#9cc8d8"/><rect x="230.7" y="114.0" width="2.5" height="2.5" fill="#9cc8d8"/><rect x="253.1" y="82.1" width="2.5" height="2.5" fill="#9cc8d8"/><rect x="238.0" y="108.2" width="2.5" height="2.5" fill="#9cc8d8"/><rect x="240.2" y="92.3" width="2.5" height="2.5" fill="#9cc8d8"/><rect x="250.6" y="97.5" width="2.5" height="2.5" fill="#9cc8d8"/><rect x="240.8" y="106.0" width="2.5" height="2.5" fill="#9cc8d8"/><rect x="243.3" y="89.8" width="2.5" height="2.5" fill="#9cc8d8"/><rect x="244.7" y="102.7" width="2.5" height="2.5" fill="#9cc8d8"/><rect x="261.3" y="76.5" width="2.5" height="2.5" fill="#9cc8d8"/><rect x="231.6" y="99.8" width="2.5" height="2.5" fill="#9cc8d8"/><rect x="250.8" y="97.3" width="2.5" height="2.5" fill="#9cc8d8"/><rect x="225.6" y="117.7" width="2.5" height="2.5" fill="#9cc8d8"/><rect x="251.4" y="83.5" width="2.5" height="2.5" fill="#9cc8d8"/><rect x="218.9" y="122.1" width="2.5" height="2.5" fill="#9cc8d8"/><rect x="254.4" y="81.3" width="2.5" height="2.5" fill="#9cc8d8"/><rect x="266.9" y="73.3" width="2.5" height="2.5" fill="#9cc8d8"/><rect x="230.8" y="113.8" width="2.5" height="2.5" fill="#9cc8d8"/><rect x="247.9" y="86.2" width="2.5" height="2.5" fill="#9cc8d8"/><rect x="225.9" y="117.3" width="2.5" height="2.5" fill="#9cc8d8"/><rect x="249.7" y="84.8" width="2.5" height="2.5" fill="#9cc8d8"/><rect x="238.6" y="107.6" width="2.5" height="2.5" fill="#9cc8d8"/><rect x="258.1" y="78.8" width="2.5" height="2.5" fill="#9cc8d8"/><rect x="211.4" y="121.3" width="2.5" height="2.5" fill="#9cc8d8"/><rect x="266.6" y="81.3" width="2.5" height="2.5" fill="#9cc8d8"/><rect x="231.7" y="99.9" width="2.5" height="2.5" fill="#9cc8d8"/><rect x="252.4" y="82.9" width="2.5" height="2.5" fill="#9cc8d8"/><rect x="244.1" y="89.3" width="2.5" height="2.5" fill="#9cc8d8"/><rect x="238.2" y="94.3" width="2.5" height="2.5" fill="#9cc8d8"/><rect x="248.2" y="86.1" width="2.5" height="2.5" fill="#9cc8d8"/><rect x="234.7" y="110.6" width="2.5" height="2.5" fill="#9cc8d8"/><rect x="220.2" y="111.0" width="2.5" height="2.5" fill="#9cc8d8"/><rect x="225.9" y="105.3" width="2.5" height="2.5" fill="#9cc8d8"/><rect x="247.0" y="87.1" width="2.5" height="2.5" fill="#9cc8d8"/><rect x="247.2" y="100.2" width="2.5" height="2.5" fill="#9cc8d8"/><rect x="218.6" y="121.9" width="2.5" height="2.5" fill="#9cc8d8"/><rect x="220.0" y="111.3" width="2.5" height="2.5" fill="#9cc8d8"/><rect x="238.9" y="107.3" width="2.5" height="2.5" fill="#9cc8d8"/><rect x="215.0" y="116.8" width="2.5" height="2.5" fill="#9cc8d8"/><rect x="224.8" y="106.4" width="2.5" height="2.5" fill="#9cc8d8"/><rect x="229.2" y="102.3" width="2.5" height="2.5" fill="#9cc8d8"/><rect x="251.8" y="83.4" width="2.5" height="2.5" fill="#9cc8d8"/><rect x="252.7" y="95.2" width="2.5" height="2.5" fill="#9cc8d8"/><rect x="234.2" y="111.0" width="2.5" height="2.5" fill="#9cc8d8"/><rect x="223.5" y="107.7" width="2.5" height="2.5" fill="#9cc8d8"/><rect x="224.8" y="106.5" width="2.5" height="2.5" fill="#9cc8d8"/><rect x="238.7" y="93.9" width="2.5" height="2.5" fill="#9cc8d8"/><rect x="235.7" y="96.5" width="2.5" height="2.5" fill="#9cc8d8"/><rect x="240.4" y="106.0" width="2.5" height="2.5" fill="#9cc8d8"/><rect x="240.5" y="92.4" width="2.5" height="2.5" fill="#9cc8d8"/><rect x="252.9" y="95.0" width="2.5" height="2.5" fill="#9cc8d8"/><rect x="258.3" y="78.8" width="2.5" height="2.5" fill="#9cc8d8"/><rect x="260.1" y="88.0" width="2.5" height="2.5" fill="#9cc8d8"/><rect x="249.9" y="84.9" width="2.5" height="2.5" fill="#9cc8d8"/><rect x="243.2" y="103.6" width="2.5" height="2.5" fill="#9cc8d8"/><rect x="244.0" y="102.9" width="2.5" height="2.5" fill="#9cc8d8"/><rect x="231.7" y="112.8" width="2.5" height="2.5" fill="#9cc8d8"/><rect x="246.7" y="100.5" width="2.5" height="2.5" fill="#9cc8d8"/><rect x="215.1" y="117.0" width="2.5" height="2.5" fill="#9cc8d8"/><rect x="234.6" y="110.6" width="2.5" height="2.5" fill="#9cc8d8"/><rect x="241.2" y="105.2" width="2.5" height="2.5" fill="#9cc8d8"/><rect x="243.1" y="103.6" width="2.5" height="2.5" fill="#9cc8d8"/><rect x="265.7" y="74.6" width="2.5" height="2.5" fill="#9cc8d8"/><rect x="220.1" y="111.4" width="2.5" height="2.5" fill="#9cc8d8"/><rect x="266.1" y="81.2" width="2.5" height="2.5" fill="#9cc8d8"/><rect x="249.3" y="98.1" width="2.5" height="2.5" fill="#9cc8d8"/><rect x="221.9" y="109.6" width="2.5" height="2.5" fill="#9cc8d8"/><rect x="220.0" y="120.7" width="2.5" height="2.5" fill="#9cc8d8"/><rect x="250.8" y="96.8" width="2.5" height="2.5" fill="#9cc8d8"/><rect x="236.1" y="96.4" width="2.5" height="2.5" fill="#9cc8d8"/><rect x="268.0" y="78.8" width="2.5" height="2.5" fill="#9cc8d8"/><rect x="251.7" y="95.9" width="2.5" height="2.5" fill="#9cc8d8"/><rect x="250.3" y="97.1" width="2.5" height="2.5" fill="#9cc8d8"/><rect x="252.2" y="83.4" width="2.5" height="2.5" fill="#9cc8d8"/><rect x="237.3" y="95.4" width="2.5" height="2.5" fill="#9cc8d8"/><rect x="241.5" y="104.8" width="2.5" height="2.5" fill="#9cc8d8"/><rect x="254.1" y="93.6" width="2.5" height="2.5" fill="#9cc8d8"/><rect x="229.0" y="114.6" width="2.5" height="2.5" fill="#9cc8d8"/><rect x="228.2" y="115.2" width="2.5" height="2.5" fill="#9cc8d8"/><rect x="225.1" y="106.5" width="2.5" height="2.5" fill="#9cc8d8"/><rect x="223.5" y="108.1" width="2.5" height="2.5" fill="#9cc8d8"/><rect x="243.1" y="90.5" width="2.5" height="2.5" fill="#9cc8d8"/><rect x="248.9" y="98.3" width="2.5" height="2.5" fill="#9cc8d8"/><rect x="235.3" y="109.8" width="2.5" height="2.5" fill="#9cc8d8"/><rect x="247.9" y="86.8" width="2.5" height="2.5" fill="#9cc8d8"/><rect x="263.1" y="84.5" width="2.5" height="2.5" fill="#9cc8d8"/><rect x="230.6" y="113.3" width="2.5" height="2.5" fill="#9cc8d8"/><rect x="226.9" y="116.0" width="2.5" height="2.5" fill="#9cc8d8"/><rect x="250.9" y="96.6" width="2.5" height="2.5" fill="#9cc8d8"/><rect x="252.1" y="83.6" width="2.5" height="2.5" fill="#9cc8d8"/><rect x="232.5" y="99.7" width="2.5" height="2.5" fill="#9cc8d8"/><rect x="225.8" y="116.7" width="2.5" height="2.5" fill="#9cc8d8"/><rect x="253.4" y="82.7" width="2.5" height="2.5" fill="#9cc8d8"/><rect x="251.6" y="84.0" width="2.5" height="2.5" fill="#9cc8d8"/><rect x="258.7" y="79.0" width="2.5" height="2.5" fill="#9cc8d8"/><rect x="218.0" y="114.0" width="2.5" height="2.5" fill="#9cc8d8"/><rect x="235.8" y="109.3" width="2.5" height="2.5" fill="#9cc8d8"/><rect x="232.9" y="99.3" width="2.5" height="2.5" fill="#9cc8d8"/><rect x="255.0" y="92.6" width="2.5" height="2.5" fill="#9cc8d8"/><rect x="238.1" y="94.8" width="2.5" height="2.5" fill="#9cc8d8"/><rect x="239.9" y="93.3" width="2.5" height="2.5" fill="#9cc8d8"/><rect x="238.4" y="94.6" width="2.5" height="2.5" fill="#9cc8d8"/><rect x="236.6" y="108.6" width="2.5" height="2.5" fill="#9cc8d8"/><rect x="239.9" y="105.9" width="2.5" height="2.5" fill="#9cc8d8"/><rect x="248.4" y="86.5" width="2.5" height="2.5" fill="#9cc8d8"/><rect x="232.2" y="100.0" width="2.5" height="2.5" fill="#9cc8d8"/><rect x="232.6" y="99.7" width="2.5" height="2.5" fill="#9cc8d8"/><rect x="241.7" y="91.9" width="2.5" height="2.5" fill="#9cc8d8"/><rect x="259.6" y="78.6" width="2.5" height="2.5" fill="#9cc8d8"/><rect x="236.3" y="96.5" width="2.5" height="2.5" fill="#9cc8d8"/><rect x="214.1" y="122.8" width="2.5" height="2.5" fill="#9cc8d8"/><rect x="214.0" y="122.8" width="2.5" height="2.5" fill="#9cc8d8"/><rect x="249.0" y="98.1" width="2.5" height="2.5" fill="#9cc8d8"/><rect x="248.8" y="98.2" width="2.5" height="2.5" fill="#9cc8d8"/><rect x="251.4" y="84.3" width="2.5" height="2.5" fill="#9cc8d8"/><rect x="220.5" y="119.9" width="2.5" height="2.5" fill="#9cc8d8"/><rect x="237.0" y="95.9" width="2.5" height="2.5" fill="#9cc8d8"/><rect x="231.3" y="112.6" width="2.5" height="2.5" fill="#9cc8d8"/><rect x="234.3" y="110.3" width="2.5" height="2.5" fill="#9cc8d8"/><rect x="242.5" y="91.3" width="2.5" height="2.5" fill="#9cc8d8"/><rect x="230.8" y="101.4" width="2.5" height="2.5" fill="#9cc8d8"/><rect x="252.5" y="83.5" width="2.5" height="2.5" fill="#9cc8d8"/><rect x="238.2" y="94.9" width="2.5" height="2.5" fill="#9cc8d8"/><rect x="254.0" y="93.4" width="2.5" height="2.5" fill="#9cc8d8"/><rect x="242.4" y="103.7" width="2.5" height="2.5" fill="#9cc8d8"/><rect x="248.1" y="86.9" width="2.5" height="2.5" fill="#9cc8d8"/><rect x="245.5" y="101.0" width="2.5" height="2.5" fill="#9cc8d8"/><rect x="221.6" y="110.5" width="2.5" height="2.5" fill="#9cc8d8"/><rect x="230.2" y="102.0" width="2.5" height="2.5" fill="#9cc8d8"/><rect x="231.7" y="112.2" width="2.5" height="2.5" fill="#9cc8d8"/><rect x="261.2" y="86.1" width="2.5" height="2.5" fill="#9cc8d8"/><rect x="243.5" y="90.6" width="2.5" height="2.5" fill="#9cc8d8"/><rect x="248.3" y="86.8" width="2.5" height="2.5" fill="#9cc8d8"/><rect x="246.6" y="100.0" width="2.5" height="2.5" fill="#9cc8d8"/><rect x="217.7" y="115.0" width="2.5" height="2.5" fill="#9cc8d8"/><rect x="229.5" y="102.8" width="2.5" height="2.5" fill="#9cc8d8"/><rect x="252.3" y="83.8" width="2.5" height="2.5" fill="#9cc8d8"/><rect x="247.5" y="99.2" width="2.5" height="2.5" fill="#9cc8d8"/><rect x="244.0" y="102.2" width="2.5" height="2.5" fill="#9cc8d8"/><rect x="242.8" y="103.2" width="2.5" height="2.5" fill="#9cc8d8"/><rect x="265.5" y="75.9" width="2.5" height="2.5" fill="#9cc8d8"/><rect x="256.1" y="91.2" width="2.5" height="2.5" fill="#9cc8d8"/><rect x="224.5" y="107.7" width="2.5" height="2.5" fill="#9cc8d8"/><rect x="235.4" y="109.3" width="2.5" height="2.5" fill="#9cc8d8"/><rect x="241.5" y="92.3" width="2.5" height="2.5" fill="#9cc8d8"/><rect x="223.3" y="117.9" width="2.5" height="2.5" fill="#9cc8d8"/><rect x="227.5" y="115.1" width="2.5" height="2.5" fill="#9cc8d8"/><rect x="238.9" y="106.4" width="2.5" height="2.5" fill="#9cc8d8"/><rect x="230.7" y="101.7" width="2.5" height="2.5" fill="#9cc8d8"/><rect x="228.1" y="114.7" width="2.5" height="2.5" fill="#9cc8d8"/><rect x="254.6" y="82.3" width="2.5" height="2.5" fill="#9cc8d8"/><rect x="262.8" y="84.0" width="2.5" height="2.5" fill="#9cc8d8"/><rect x="236.2" y="108.6" width="2.5" height="2.5" fill="#9cc8d8"/><rect x="238.2" y="95.1" width="2.5" height="2.5" fill="#9cc8d8"/><rect x="255.0" y="82.0" width="2.5" height="2.5" fill="#9cc8d8"/><rect x="241.2" y="92.6" width="2.5" height="2.5" fill="#9cc8d8"/><rect x="217.9" y="114.9" width="2.5" height="2.5" fill="#9cc8d8"/><rect x="248.4" y="86.8" width="2.5" height="2.5" fill="#9cc8d8"/><rect x="243.7" y="90.5" width="2.5" height="2.5" fill="#9cc8d8"/><rect x="230.0" y="102.4" width="2.5" height="2.5" fill="#9cc8d8"/><rect x="243.8" y="90.5" width="2.5" height="2.5" fill="#9cc8d8"/><rect x="251.5" y="95.4" width="2.5" height="2.5" fill="#9cc8d8"/><rect x="248.6" y="98.0" width="2.5" height="2.5" fill="#9cc8d8"/><rect x="242.4" y="91.7" width="2.5" height="2.5" fill="#9cc8d8"/><rect x="228.8" y="103.6" width="2.5" height="2.5" fill="#9cc8d8"/><rect x="214.8" y="120.2" width="2.5" height="2.5" fill="#9cc8d8"/><rect x="228.5" y="103.9" width="2.5" height="2.5" fill="#9cc8d8"/><rect x="221.3" y="119.0" width="2.5" height="2.5" fill="#9cc8d8"/><rect x="240.0" y="93.7" width="2.5" height="2.5" fill="#9cc8d8"/><rect x="246.0" y="100.4" width="2.5" height="2.5" fill="#9cc8d8"/><rect x="253.7" y="83.1" width="2.5" height="2.5" fill="#9cc8d8"/><rect x="226.0" y="116.0" width="2.5" height="2.5" fill="#9cc8d8"/><rect x="228.3" y="104.2" width="2.5" height="2.5" fill="#9cc8d8"/><rect x="265.8" y="79.8" width="2.5" height="2.5" fill="#9cc8d8"/><rect x="254.5" y="92.4" width="2.5" height="2.5" fill="#9cc8d8"/><rect x="237.6" y="107.3" width="2.5" height="2.5" fill="#9cc8d8"/><rect x="242.1" y="103.6" width="2.5" height="2.5" fill="#9cc8d8"/><rect x="218.8" y="120.2" width="2.5" height="2.5" fill="#9cc8d8"/><rect x="255.1" y="91.9" width="2.5" height="2.5" fill="#9cc8d8"/><rect x="263.4" y="83.0" width="2.5" height="2.5" fill="#9cc8d8"/><rect x="218.1" y="115.0" width="2.5" height="2.5" fill="#9cc8d8"/><rect x="242.6" y="103.1" width="2.5" height="2.5" fill="#9cc8d8"/><rect x="252.8" y="83.8" width="2.5" height="2.5" fill="#9cc8d8"/><rect x="252.9" y="83.7" width="2.5" height="2.5" fill="#9cc8d8"/><rect x="249.8" y="86.0" width="2.5" height="2.5" fill="#9cc8d8"/><rect x="248.5" y="98.0" width="2.5" height="2.5" fill="#9cc8d8"/><rect x="236.3" y="97.0" width="2.5" height="2.5" fill="#9cc8d8"/><rect x="265.9" y="79.5" width="2.5" height="2.5" fill="#9cc8d8"/><rect x="228.6" y="114.1" width="2.5" height="2.5" fill="#9cc8d8"/><rect x="237.9" y="95.6" width="2.5" height="2.5" fill="#9cc8d8"/><rect x="241.3" y="92.8" width="2.5" height="2.5" fill="#9cc8d8"/><rect x="237.6" y="107.2" width="2.5" height="2.5" fill="#9cc8d8"/><rect x="251.6" y="95.1" width="2.5" height="2.5" fill="#9cc8d8"/><rect x="220.7" y="119.1" width="2.5" height="2.5" fill="#9cc8d8"/><rect x="253.8" y="83.2" width="2.5" height="2.5" fill="#9cc8d8"/><rect x="226.4" y="115.5" width="2.5" height="2.5" fill="#9cc8d8"/><rect x="232.5" y="111.1" width="2.5" height="2.5" fill="#9cc8d8"/><rect x="254.7" y="82.5" width="2.5" height="2.5" fill="#9cc8d8"/><rect x="221.3" y="118.7" width="2.5" height="2.5" fill="#9cc8d8"/><rect x="254.4" y="92.4" width="2.5" height="2.5" fill="#9cc8d8"/><rect x="250.4" y="96.2" width="2.5" height="2.5" fill="#9cc8d8"/><rect x="255.9" y="91.0" width="2.5" height="2.5" fill="#9cc8d8"/><rect x="237.2" y="96.2" width="2.5" height="2.5" fill="#9cc8d8"/><rect x="250.2" y="85.8" width="2.5" height="2.5" fill="#9cc8d8"/><rect x="228.1" y="114.3" width="2.5" height="2.5" fill="#9cc8d8"/><rect x="259.3" y="79.6" width="2.5" height="2.5" fill="#9cc8d8"/><rect x="239.3" y="105.8" width="2.5" height="2.5" fill="#9cc8d8"/><rect x="231.8" y="101.1" width="2.5" height="2.5" fill="#9cc8d8"/><rect x="230.4" y="112.6" width="2.5" height="2.5" fill="#9cc8d8"/><rect x="248.0" y="87.5" width="2.5" height="2.5" fill="#9cc8d8"/><rect x="250.5" y="96.0" width="2.5" height="2.5" fill="#9cc8d8"/><rect x="228.8" y="104.0" width="2.5" height="2.5" fill="#9cc8d8"/><rect x="236.5" y="97.0" width="2.5" height="2.5" fill="#9cc8d8"/><rect x="243.3" y="102.4" width="2.5" height="2.5" fill="#9cc8d8"/><rect x="216.3" y="120.2" width="2.5" height="2.5" fill="#9cc8d8"/><rect x="243.0" y="102.7" width="2.5" height="2.5" fill="#9cc8d8"/><rect x="219.0" y="119.7" width="2.5" height="2.5" fill="#9cc8d8"/><rect x="263.5" y="82.4" width="2.5" height="2.5" fill="#9cc8d8"/><rect x="251.8" y="84.7" width="2.5" height="2.5" fill="#9cc8d8"/><rect x="231.2" y="101.7" width="2.5" height="2.5" fill="#9cc8d8"/><rect x="251.3" y="85.1" width="2.5" height="2.5" fill="#9cc8d8"/><rect x="246.7" y="99.4" width="2.5" height="2.5" fill="#9cc8d8"/><rect x="242.7" y="91.7" width="2.5" height="2.5" fill="#9cc8d8"/><rect x="262.1" y="78.3" width="2.5" height="2.5" fill="#9cc8d8"/><rect x="224.8" y="116.4" width="2.5" height="2.5" fill="#9cc8d8"/><rect x="250.5" y="96.0" width="2.5" height="2.5" fill="#9cc8d8"/><rect x="239.2" y="94.6" width="2.5" height="2.5" fill="#9cc8d8"/><rect x="248.9" y="86.9" width="2.5" height="2.5" fill="#9cc8d8"/><rect x="258.4" y="80.3" width="2.5" height="2.5" fill="#9cc8d8"/><rect x="242.9" y="102.6" width="2.5" height="2.5" fill="#9cc8d8"/><rect x="245.5" y="100.4" width="2.5" height="2.5" fill="#9cc8d8"/><rect x="216.3" y="118.8" width="2.5" height="2.5" fill="#9cc8d8"/><rect x="260.3" y="86.2" width="2.5" height="2.5" fill="#9cc8d8"/><rect x="231.5" y="111.7" width="2.5" height="2.5" fill="#9cc8d8"/><rect x="220.5" y="118.9" width="2.5" height="2.5" fill="#9cc8d8"/><rect x="216.3" y="118.9" width="2.5" height="2.5" fill="#9cc8d8"/><rect x="251.0" y="95.4" width="2.5" height="2.5" fill="#9cc8d8"/><rect x="249.4" y="96.9" width="2.5" height="2.5" fill="#9cc8d8"/><rect x="251.6" y="94.8" width="2.5" height="2.5" fill="#9cc8d8"/><rect x="230.5" y="102.5" width="2.5" height="2.5" fill="#9cc8d8"/><rect x="248.6" y="87.2" width="2.5" height="2.5" fill="#9cc8d8"/><rect x="230.8" y="112.2" width="2.5" height="2.5" fill="#9cc8d8"/><rect x="257.7" y="80.9" width="2.5" height="2.5" fill="#9cc8d8"/><rect x="218.9" y="114.7" width="2.5" height="2.5" fill="#9cc8d8"/><rect x="248.8" y="97.4" width="2.5" height="2.5" fill="#9cc8d8"/><rect x="218.5" y="115.3" width="2.5" height="2.5" fill="#9cc8d8"/><rect x="262.2" y="78.4" width="2.5" height="2.5" fill="#9cc8d8"/><rect x="218.5" y="115.2" width="2.5" height="2.5" fill="#9cc8d8"/><rect x="235.6" y="97.9" width="2.5" height="2.5" fill="#9cc8d8"/><rect x="221.0" y="112.2" width="2.5" height="2.5" fill="#9cc8d8"/><rect x="264.0" y="81.3" width="2.5" height="2.5" fill="#9cc8d8"/><rect x="249.2" y="97.0" width="2.5" height="2.5" fill="#9cc8d8"/><rect x="236.6" y="107.7" width="2.5" height="2.5" fill="#9cc8d8"/><rect x="248.5" y="87.3" width="2.5" height="2.5" fill="#9cc8d8"/><rect x="242.7" y="91.9" width="2.5" height="2.5" fill="#9cc8d8"/><rect x="254.6" y="83.0" width="2.5" height="2.5" fill="#9cc8d8"/><rect x="238.3" y="106.3" width="2.5" height="2.5" fill="#9cc8d8"/><rect x="239.2" y="105.6" width="2.5" height="2.5" fill="#9cc8d8"/><rect x="247.2" y="98.7" width="2.5" height="2.5" fill="#9cc8d8"/><rect x="261.4" y="79.0" width="2.5" height="2.5" fill="#9cc8d8"/><rect x="260.6" y="79.3" width="2.5" height="2.5" fill="#9cc8d8"/><rect x="231.2" y="102.0" width="2.5" height="2.5" fill="#9cc8d8"/><rect x="230.9" y="112.0" width="2.5" height="2.5" fill="#9cc8d8"/><rect x="219.2" y="119.0" width="2.5" height="2.5" fill="#9cc8d8"/><rect x="263.3" y="78.3" width="2.5" height="2.5" fill="#9cc8d8"/><rect x="237.3" y="96.6" width="2.5" height="2.5" fill="#9cc8d8"/><rect x="222.7" y="110.5" width="2.5" height="2.5" fill="#9cc8d8"/><rect x="264.3" y="78.4" width="2.5" height="2.5" fill="#9cc8d8"/><rect x="234.6" y="109.1" width="2.5" height="2.5" fill="#9cc8d8"/><rect x="244.4" y="101.2" width="2.5" height="2.5" fill="#9cc8d8"/><rect x="232.7" y="110.6" width="2.5" height="2.5" fill="#9cc8d8"/><rect x="260.5" y="85.5" width="2.5" height="2.5" fill="#9cc8d8"/><rect x="243.5" y="91.4" width="2.5" height="2.5" fill="#9cc8d8"/><rect x="226.6" y="106.5" width="2.5" height="2.5" fill="#9cc8d8"/><rect x="235.7" y="108.2" width="2.5" height="2.5" fill="#9cc8d8"/><rect x="225.2" y="107.9" width="2.5" height="2.5" fill="#9cc8d8"/><rect x="232.0" y="101.3" width="2.5" height="2.5" fill="#9cc8d8"/><rect x="234.4" y="99.2" width="2.5" height="2.5" fill="#9cc8d8"/><rect x="230.3" y="103.0" width="2.5" height="2.5" fill="#9cc8d8"/><rect x="235.1" y="108.7" width="2.5" height="2.5" fill="#9cc8d8"/><rect x="233.8" y="99.7" width="2.5" height="2.5" fill="#9cc8d8"/><rect x="251.1" y="85.6" width="2.5" height="2.5" fill="#9cc8d8"/><rect x="240.7" y="104.2" width="2.5" height="2.5" fill="#9cc8d8"/><rect x="223.9" y="109.3" width="2.5" height="2.5" fill="#9cc8d8"/><rect x="262.7" y="82.6" width="2.5" height="2.5" fill="#9cc8d8"/><rect x="247.3" y="88.5" width="2.5" height="2.5" fill="#9cc8d8"/><rect x="257.1" y="81.6" width="2.5" height="2.5" fill="#9cc8d8"/><rect x="235.2" y="108.6" width="2.5" height="2.5" fill="#9cc8d8"/><rect x="237.8" y="106.5" width="2.5" height="2.5" fill="#9cc8d8"/><rect x="242.7" y="92.1" width="2.5" height="2.5" fill="#9cc8d8"/><rect x="228.8" y="104.4" width="2.5" height="2.5" fill="#9cc8d8"/><rect x="256.6" y="81.9" width="2.5" height="2.5" fill="#9cc8d8"/><rect x="246.1" y="99.6" width="2.5" height="2.5" fill="#9cc8d8"/><rect x="222.2" y="111.2" width="2.5" height="2.5" fill="#9cc8d8"/><rect x="232.8" y="110.4" width="2.5" height="2.5" fill="#9cc8d8"/><rect x="263.0" y="82.1" width="2.5" height="2.5" fill="#9cc8d8"/><rect x="230.5" y="102.8" width="2.5" height="2.5" fill="#9cc8d8"/><rect x="238.0" y="96.1" width="2.5" height="2.5" fill="#9cc8d8"/><rect x="217.9" y="117.6" width="2.5" height="2.5" fill="#9cc8d8"/><rect x="257.2" y="88.9" width="2.5" height="2.5" fill="#9cc8d8"/><rect x="233.3" y="110.0" width="2.5" height="2.5" fill="#9cc8d8"/><rect x="240.9" y="103.9" width="2.5" height="2.5" fill="#9cc8d8"/><rect x="258.1" y="81.0" width="2.5" height="2.5" fill="#9cc8d8"/><rect x="236.2" y="107.8" width="2.5" height="2.5" fill="#9cc8d8"/><rect x="264.0" y="80.1" width="2.5" height="2.5" fill="#9cc8d8"/><rect x="262.0" y="83.4" width="2.5" height="2.5" fill="#9cc8d8"/><rect x="250.6" y="86.0" width="2.5" height="2.5" fill="#9cc8d8"/><rect x="235.2" y="98.6" width="2.5" height="2.5" fill="#9cc8d8"/><rect x="247.1" y="98.6" width="2.5" height="2.5" fill="#9cc8d8"/><rect x="225.2" y="108.1" width="2.5" height="2.5" fill="#9cc8d8"/><rect x="232.4" y="110.6" width="2.5" height="2.5" fill="#9cc8d8"/><rect x="231.6" y="111.2" width="2.5" height="2.5" fill="#9cc8d8"/><rect x="246.3" y="89.3" width="2.5" height="2.5" fill="#9cc8d8"/><rect x="225.7" y="115.2" width="2.5" height="2.5" fill="#9cc8d8"/><rect x="252.3" y="93.8" width="2.5" height="2.5" fill="#9cc8d8"/><rect x="228.1" y="105.2" width="2.5" height="2.5" fill="#9cc8d8"/><rect x="262.1" y="83.1" width="2.5" height="2.5" fill="#9cc8d8"/><rect x="222.0" y="111.8" width="2.5" height="2.5" fill="#9cc8d8"/><rect x="244.7" y="100.6" width="2.5" height="2.5" fill="#9cc8d8"/><rect x="255.2" y="90.9" width="2.5" height="2.5" fill="#9cc8d8"/><rect x="227.9" y="105.4" width="2.5" height="2.5" fill="#9cc8d8"/><rect x="263.5" y="79.6" width="2.5" height="2.5" fill="#9cc8d8"/><rect x="263.5" y="80.5" width="2.5" height="2.5" fill="#9cc8d8"/><rect x="260.5" y="85.0" width="2.5" height="2.5" fill="#9cc8d8"/><rect x="254.4" y="83.6" width="2.5" height="2.5" fill="#9cc8d8"/><rect x="238.7" y="95.6" width="2.5" height="2.5" fill="#9cc8d8"/><rect x="248.8" y="87.5" width="2.5" height="2.5" fill="#9cc8d8"/><rect x="255.7" y="82.7" width="2.5" height="2.5" fill="#9cc8d8"/><rect x="241.0" y="93.7" width="2.5" height="2.5" fill="#9cc8d8"/><rect x="220.3" y="117.9" width="2.5" height="2.5" fill="#9cc8d8"/><rect x="253.8" y="92.2" width="2.5" height="2.5" fill="#9cc8d8"/><rect x="247.9" y="88.2" width="2.5" height="2.5" fill="#9cc8d8"/><rect x="238.0" y="96.3" width="2.5" height="2.5" fill="#9cc8d8"/><rect x="227.0" y="106.4" width="2.5" height="2.5" fill="#9cc8d8"/><rect x="233.7" y="109.5" width="2.5" height="2.5" fill="#9cc8d8"/><rect x="226.6" y="106.8" width="2.5" height="2.5" fill="#9cc8d8"/><rect x="246.0" y="99.4" width="2.5" height="2.5" fill="#9cc8d8"/><rect x="263.2" y="80.9" width="2.5" height="2.5" fill="#9cc8d8"/><rect x="252.2" y="85.1" width="2.5" height="2.5" fill="#9cc8d8"/><rect x="257.4" y="88.5" width="2.5" height="2.5" fill="#9cc8d8"/><rect x="225.2" y="115.4" width="2.5" height="2.5" fill="#9cc8d8"/><rect x="254.2" y="91.7" width="2.5" height="2.5" fill="#9cc8d8"/><rect x="254.4" y="83.6" width="2.5" height="2.5" fill="#9cc8d8"/><rect x="249.5" y="96.2" width="2.5" height="2.5" fill="#9cc8d8"/><rect x="262.3" y="79.6" width="2.5" height="2.5" fill="#9cc8d8"/><rect x="219.6" y="117.8" width="2.5" height="2.5" fill="#9cc8d8"/><rect x="260.9" y="84.4" width="2.5" height="2.5" fill="#9cc8d8"/><rect x="234.7" y="99.2" width="2.5" height="2.5" fill="#9cc8d8"/><rect x="262.2" y="82.5" width="2.5" height="2.5" fill="#9cc8d8"/><rect x="244.2" y="101.0" width="2.5" height="2.5" fill="#9cc8d8"/><rect x="242.0" y="102.9" width="2.5" height="2.5" fill="#9cc8d8"/><rect x="241.9" y="102.9" width="2.5" height="2.5" fill="#9cc8d8"/><rect x="256.9" y="82.1" width="2.5" height="2.5" fill="#9cc8d8"/><rect x="227.1" y="106.5" width="2.5" height="2.5" fill="#9cc8d8"/><rect x="244.5" y="100.7" width="2.5" height="2.5" fill="#9cc8d8"/><rect x="254.6" y="83.5" width="2.5" height="2.5" fill="#9cc8d8"/><rect x="236.2" y="97.9" width="2.5" height="2.5" fill="#9cc8d8"/><rect x="248.9" y="87.6" width="2.5" height="2.5" fill="#9cc8d8"/><rect x="253.1" y="84.6" width="2.5" height="2.5" fill="#9cc8d8"/><rect x="235.7" y="98.4" width="2.5" height="2.5" fill="#9cc8d8"/><rect x="240.6" y="94.2" width="2.5" height="2.5" fill="#9cc8d8"/><rect x="251.3" y="85.8" width="2.5" height="2.5" fill="#9cc8d8"/><rect x="256.3" y="82.5" width="2.5" height="2.5" fill="#9cc8d8"/><rect x="262.5" y="81.8" width="2.5" height="2.5" fill="#9cc8d8"/><rect x="259.4" y="80.8" width="2.5" height="2.5" fill="#9cc8d8"/><rect x="229.7" y="103.9" width="2.5" height="2.5" fill="#9cc8d8"/><rect x="262.8" y="80.7" width="2.5" height="2.5" fill="#9cc8d8"/><rect x="231.5" y="102.2" width="2.5" height="2.5" fill="#9cc8d8"/><rect x="244.6" y="90.9" width="2.5" height="2.5" fill="#9cc8d8"/><rect x="247.3" y="98.2" width="2.5" height="2.5" fill="#9cc8d8"/><rect x="262.7" y="80.3" width="2.5" height="2.5" fill="#9cc8d8"/><rect x="231.7" y="102.0" width="2.5" height="2.5" fill="#9cc8d8"/><rect x="220.5" y="117.4" width="2.5" height="2.5" fill="#9cc8d8"/><rect x="225.5" y="115.0" width="2.5" height="2.5" fill="#9cc8d8"/><rect x="242.2" y="102.5" width="2.5" height="2.5" fill="#9cc8d8"/><rect x="261.7" y="80.1" width="2.5" height="2.5" fill="#9cc8d8"/><rect x="232.4" y="101.4" width="2.5" height="2.5" fill="#9cc8d8"/><rect x="222.3" y="111.8" width="2.5" height="2.5" fill="#9cc8d8"/><rect x="233.4" y="109.5" width="2.5" height="2.5" fill="#9cc8d8"/><rect x="232.8" y="101.1" width="2.5" height="2.5" fill="#9cc8d8"/><rect x="234.8" y="99.2" width="2.5" height="2.5" fill="#9cc8d8"/><rect x="262.3" y="81.8" width="2.5" height="2.5" fill="#9cc8d8"/><rect x="255.4" y="90.4" width="2.5" height="2.5" fill="#9cc8d8"/><rect x="246.5" y="98.8" width="2.5" height="2.5" fill="#9cc8d8"/><rect x="247.0" y="89.1" width="2.5" height="2.5" fill="#9cc8d8"/><rect x="232.6" y="110.1" width="2.5" height="2.5" fill="#9cc8d8"/><rect x="227.5" y="106.2" width="2.5" height="2.5" fill="#9cc8d8"/><rect x="256.3" y="82.7" width="2.5" height="2.5" fill="#9cc8d8"/><rect x="242.3" y="92.8" width="2.5" height="2.5" fill="#9cc8d8"/><rect x="243.8" y="101.2" width="2.5" height="2.5" fill="#9cc8d8"/><rect x="236.3" y="98.0" width="2.5" height="2.5" fill="#9cc8d8"/><rect x="255.7" y="90.0" width="2.5" height="2.5" fill="#9cc8d8"/><rect x="253.4" y="92.2" width="2.5" height="2.5" fill="#9cc8d8"/><rect x="220.0" y="115.4" width="2.5" height="2.5" fill="#9cc8d8"/><rect x="222.4" y="116.5" width="2.5" height="2.5" fill="#9cc8d8"/><rect x="257.4" y="82.1" width="2.5" height="2.5" fill="#9cc8d8"/><rect x="238.8" y="105.3" width="2.5" height="2.5" fill="#9cc8d8"/><rect x="259.6" y="85.6" width="2.5" height="2.5" fill="#9cc8d8"/><rect x="224.0" y="110.0" width="2.5" height="2.5" fill="#9cc8d8"/><rect x="225.8" y="114.6" width="2.5" height="2.5" fill="#9cc8d8"/><rect x="231.0" y="111.2" width="2.5" height="2.5" fill="#9cc8d8"/><rect x="224.8" y="109.1" width="2.5" height="2.5" fill="#9cc8d8"/><rect x="231.3" y="111.0" width="2.5" height="2.5" fill="#9cc8d8"/><rect x="219.9" y="116.1" width="2.5" height="2.5" fill="#9cc8d8"/><rect x="242.4" y="92.9" width="2.5" height="2.5" fill="#9cc8d8"/><rect x="244.1" y="100.8" width="2.5" height="2.5" fill="#9cc8d8"/><rect x="228.0" y="105.8" width="2.5" height="2.5" fill="#9cc8d8"/><rect x="261.0" y="83.6" width="2.5" height="2.5" fill="#9cc8d8"/><rect x="235.5" y="98.7" width="2.5" height="2.5" fill="#9cc8d8"/><rect x="249.3" y="96.1" width="2.5" height="2.5" fill="#9cc8d8"/><rect x="261.3" y="83.1" width="2.5" height="2.5" fill="#9cc8d8"/><rect x="240.6" y="94.3" width="2.5" height="2.5" fill="#9cc8d8"/><rect x="255.5" y="90.0" width="2.5" height="2.5" fill="#9cc8d8"/><rect x="256.8" y="82.5" width="2.5" height="2.5" fill="#9cc8d8"/><rect x="233.9" y="100.2" width="2.5" height="2.5" fill="#9cc8d8"/><rect x="242.4" y="92.9" width="2.5" height="2.5" fill="#9cc8d8"/><rect x="226.9" y="113.9" width="2.5" height="2.5" fill="#9cc8d8"/><rect x="249.1" y="87.7" width="2.5" height="2.5" fill="#9cc8d8"/><rect x="221.4" y="116.7" width="2.5" height="2.5" fill="#9cc8d8"/><rect x="250.1" y="95.4" width="2.5" height="2.5" fill="#9cc8d8"/><rect x="261.9" y="81.1" width="2.5" height="2.5" fill="#9cc8d8"/><rect x="245.1" y="99.9" width="2.5" height="2.5" fill="#9cc8d8"/><rect x="220.1" y="116.2" width="2.5" height="2.5" fill="#9cc8d8"/><rect x="254.7" y="83.8" width="2.5" height="2.5" fill="#9cc8d8"/><rect x="231.4" y="110.8" width="2.5" height="2.5" fill="#9cc8d8"/><rect x="254.1" y="91.5" width="2.5" height="2.5" fill="#9cc8d8"/><rect x="241.5" y="102.9" width="2.5" height="2.5" fill="#9cc8d8"/><rect x="247.5" y="97.8" width="2.5" height="2.5" fill="#9cc8d8"/><rect x="246.0" y="99.1" width="2.5" height="2.5" fill="#9cc8d8"/><rect x="248.4" y="88.3" width="2.5" height="2.5" fill="#9cc8d8"/><rect x="243.0" y="101.6" width="2.5" height="2.5" fill="#9cc8d8"/><rect x="240.8" y="103.6" width="2.5" height="2.5" fill="#9cc8d8"/><rect x="230.7" y="111.3" width="2.5" height="2.5" fill="#9cc8d8"/><rect x="223.5" y="110.8" width="2.5" height="2.5" fill="#9cc8d8"/><rect x="243.6" y="92.0" width="2.5" height="2.5" fill="#9cc8d8"/><rect x="242.9" y="92.6" width="2.5" height="2.5" fill="#9cc8d8"/><rect x="240.0" y="94.9" width="2.5" height="2.5" fill="#9cc8d8"/><rect x="243.6" y="101.1" width="2.5" height="2.5" fill="#9cc8d8"/><rect x="227.5" y="113.5" width="2.5" height="2.5" fill="#9cc8d8"/><rect x="240.5" y="94.6" width="2.5" height="2.5" fill="#9cc8d8"/><rect x="241.6" y="102.9" width="2.5" height="2.5" fill="#9cc8d8"/><rect x="231.8" y="102.3" width="2.5" height="2.5" fill="#9cc8d8"/><rect x="230.4" y="111.5" width="2.5" height="2.5" fill="#9cc8d8"/><rect x="254.5" y="84.0" width="2.5" height="2.5" fill="#9cc8d8"/><rect x="239.0" y="105.0" width="2.5" height="2.5" fill="#9cc8d8"/><rect x="258.4" y="81.8" width="2.5" height="2.5" fill="#9cc8d8"/><rect x="248.5" y="96.8" width="2.5" height="2.5" fill="#9cc8d8"/><rect x="223.4" y="111.0" width="2.5" height="2.5" fill="#9cc8d8"/><rect x="235.4" y="99.0" width="2.5" height="2.5" fill="#9cc8d8"/><rect x="233.6" y="109.1" width="2.5" height="2.5" fill="#9cc8d8"/><rect x="223.7" y="110.6" width="2.5" height="2.5" fill="#9cc8d8"/><rect x="258.5" y="81.8" width="2.5" height="2.5" fill="#9cc8d8"/><rect x="234.8" y="108.2" width="2.5" height="2.5" fill="#9cc8d8"/><rect x="253.3" y="92.1" width="2.5" height="2.5" fill="#9cc8d8"/><rect x="243.7" y="92.0" width="2.5" height="2.5" fill="#9cc8d8"/><rect x="235.0" y="99.3" width="2.5" height="2.5" fill="#9cc8d8"/><rect x="236.4" y="98.1" width="2.5" height="2.5" fill="#9cc8d8"/><rect x="242.9" y="92.6" width="2.5" height="2.5" fill="#9cc8d8"/><rect x="237.0" y="106.5" width="2.5" height="2.5" fill="#9cc8d8"/><rect x="256.2" y="83.1" width="2.5" height="2.5" fill="#9cc8d8"/><rect x="220.8" y="114.7" width="2.5" height="2.5" fill="#9cc8d8"/><rect x="223.2" y="111.3" width="2.5" height="2.5" fill="#9cc8d8"/><rect x="244.5" y="91.3" width="2.5" height="2.5" fill="#9cc8d8"/><rect x="254.1" y="91.4" width="2.5" height="2.5" fill="#9cc8d8"/><rect x="232.6" y="101.5" width="2.5" height="2.5" fill="#9cc8d8"/><rect x="223.3" y="111.1" width="2.5" height="2.5" fill="#9cc8d8"/><rect x="254.9" y="90.5" width="2.5" height="2.5" fill="#9cc8d8"/><rect x="244.4" y="91.4" width="2.5" height="2.5" fill="#9cc8d8"/><rect x="243.7" y="101.0" width="2.5" height="2.5" fill="#9cc8d8"/><rect x="244.1" y="91.6" width="2.5" height="2.5" fill="#9cc8d8"/><rect x="241.2" y="103.1" width="2.5" height="2.5" fill="#9cc8d8"/><rect x="221.8" y="116.1" width="2.5" height="2.5" fill="#9cc8d8"/><rect x="228.6" y="112.6" width="2.5" height="2.5" fill="#9cc8d8"/><rect x="260.9" y="83.0" width="2.5" height="2.5" fill="#9cc8d8"/><rect x="231.3" y="102.8" width="2.5" height="2.5" fill="#9cc8d8"/><rect x="232.1" y="110.2" width="2.5" height="2.5" fill="#9cc8d8"/><rect x="235.8" y="107.4" width="2.5" height="2.5" fill="#9cc8d8"/><rect x="228.0" y="106.1" width="2.5" height="2.5" fill="#9cc8d8"/><rect x="239.7" y="95.3" width="2.5" height="2.5" fill="#9cc8d8"/><rect x="253.4" y="84.9" width="2.5" height="2.5" fill="#9cc8d8"/><rect x="231.6" y="110.5" width="2.5" height="2.5" fill="#9cc8d8"/><rect x="246.6" y="98.4" width="2.5" height="2.5" fill="#9cc8d8"/><rect x="222.9" y="115.7" width="2.5" height="2.5" fill="#9cc8d8"/><rect x="245.4" y="90.7" width="2.5" height="2.5" fill="#9cc8d8"/><rect x="230.3" y="103.8" width="2.5" height="2.5" fill="#9cc8d8"/><rect x="229.2" y="112.1" width="2.5" height="2.5" fill="#9cc8d8"/><rect x="245.7" y="99.2" width="2.5" height="2.5" fill="#9cc8d8"/><rect x="253.9" y="91.4" width="2.5" height="2.5" fill="#9cc8d8"/><rect x="260.9" y="81.7" width="2.5" height="2.5" fill="#9cc8d8"/><rect x="228.5" y="112.6" width="2.5" height="2.5" fill="#9cc8d8"/><rect x="221.8" y="116.0" width="2.5" height="2.5" fill="#9cc8d8"/><rect x="221.0" y="115.4" width="2.5" height="2.5" fill="#9cc8d8"/><rect x="230.7" y="103.4" width="2.5" height="2.5" fill="#9cc8d8"/><rect x="233.8" y="100.6" width="2.5" height="2.5" fill="#9cc8d8"/><rect x="257.8" y="82.4" width="2.5" height="2.5" fill="#9cc8d8"/><rect x="227.2" y="113.4" width="2.5" height="2.5" fill="#9cc8d8"/><rect x="257.7" y="82.4" width="2.5" height="2.5" fill="#9cc8d8"/><rect x="238.1" y="96.7" width="2.5" height="2.5" fill="#9cc8d8"/><rect x="223.8" y="115.3" width="2.5" height="2.5" fill="#9cc8d8"/><rect x="240.9" y="94.4" width="2.5" height="2.5" fill="#9cc8d8"/><rect x="239.9" y="104.1" width="2.5" height="2.5" fill="#9cc8d8"/><rect x="243.6" y="100.9" width="2.5" height="2.5" fill="#9cc8d8"/><rect x="257.7" y="87.3" width="2.5" height="2.5" fill="#9cc8d8"/><rect x="238.7" y="96.2" width="2.5" height="2.5" fill="#9cc8d8"/><rect x="244.2" y="100.4" width="2.5" height="2.5" fill="#9cc8d8"/><rect x="246.3" y="90.1" width="2.5" height="2.5" fill="#9cc8d8"/><rect x="221.4" y="114.3" width="2.5" height="2.5" fill="#9cc8d8"/><rect x="260.8" y="82.2" width="2.5" height="2.5" fill="#9cc8d8"/><rect x="245.7" y="99.1" width="2.5" height="2.5" fill="#9cc8d8"/><rect x="227.0" y="107.3" width="2.5" height="2.5" fill="#9cc8d8"/><rect x="250.3" y="94.8" width="2.5" height="2.5" fill="#9cc8d8"/><rect x="259.1" y="81.9" width="2.5" height="2.5" fill="#9cc8d8"/><rect x="253.4" y="91.9" width="2.5" height="2.5" fill="#9cc8d8"/><rect x="237.1" y="106.3" width="2.5" height="2.5" fill="#9cc8d8"/><rect x="232.5" y="109.8" width="2.5" height="2.5" fill="#9cc8d8"/><rect x="254.9" y="84.0" width="2.5" height="2.5" fill="#9cc8d8"/><rect x="236.1" y="98.5" width="2.5" height="2.5" fill="#9cc8d8"/><rect x="222.4" y="112.7" width="2.5" height="2.5" fill="#9cc8d8"/><rect x="259.0" y="82.0" width="2.5" height="2.5" fill="#9cc8d8"/><rect x="257.0" y="87.9" width="2.5" height="2.5" fill="#9cc8d8"/><rect x="259.3" y="81.9" width="2.5" height="2.5" fill="#9cc8d8"/><rect x="233.3" y="101.1" width="2.5" height="2.5" fill="#9cc8d8"/><rect x="254.4" y="90.8" width="2.5" height="2.5" fill="#9cc8d8"/><rect x="230.3" y="111.3" width="2.5" height="2.5" fill="#9cc8d8"/><rect x="246.1" y="98.7" width="2.5" height="2.5" fill="#9cc8d8"/><rect x="258.6" y="82.2" width="2.5" height="2.5" fill="#9cc8d8"/><rect x="250.8" y="86.8" width="2.5" height="2.5" fill="#9cc8d8"/><rect x="234.4" y="100.1" width="2.5" height="2.5" fill="#9cc8d8"/><rect x="233.6" y="108.9" width="2.5" height="2.5" fill="#9cc8d8"/><rect x="224.7" y="109.9" width="2.5" height="2.5" fill="#9cc8d8"/><rect x="260.3" y="83.2" width="2.5" height="2.5" fill="#9cc8d8"/><rect x="257.0" y="87.9" width="2.5" height="2.5" fill="#9cc8d8"/><rect x="253.9" y="84.8" width="2.5" height="2.5" fill="#9cc8d8"/><rect x="231.3" y="110.5" width="2.5" height="2.5" fill="#9cc8d8"/><rect x="228.6" y="112.4" width="2.5" height="2.5" fill="#9cc8d8"/><rect x="242.5" y="101.8" width="2.5" height="2.5" fill="#9cc8d8"/><rect x="229.3" y="111.9" width="2.5" height="2.5" fill="#9cc8d8"/><rect x="247.3" y="97.6" width="2.5" height="2.5" fill="#9cc8d8"/><rect x="243.7" y="92.2" width="2.5" height="2.5" fill="#9cc8d8"/><rect x="225.4" y="114.2" width="2.5" height="2.5" fill="#9cc8d8"/><rect x="228.9" y="112.1" width="2.5" height="2.5" fill="#9cc8d8"/><rect x="254.1" y="91.0" width="2.5" height="2.5" fill="#9cc8d8"/><rect x="258.7" y="82.3" width="2.5" height="2.5" fill="#9cc8d8"/><rect x="229.0" y="105.4" width="2.5" height="2.5" fill="#9cc8d8"/><rect x="221.7" y="114.8" width="2.5" height="2.5" fill="#9cc8d8"/><rect x="238.9" y="96.2" width="2.5" height="2.5" fill="#9cc8d8"/><rect x="235.9" y="107.1" width="2.5" height="2.5" fill="#9cc8d8"/><rect x="257.8" y="86.9" width="2.5" height="2.5" fill="#9cc8d8"/><rect x="246.9" y="97.9" width="2.5" height="2.5" fill="#9cc8d8"/><rect x="233.9" y="108.6" width="2.5" height="2.5" fill="#9cc8d8"/><rect x="228.4" y="106.0" width="2.5" height="2.5" fill="#9cc8d8"/><rect x="241.1" y="94.3" width="2.5" height="2.5" fill="#9cc8d8"/><rect x="250.5" y="87.1" width="2.5" height="2.5" fill="#9cc8d8"/><rect x="238.9" y="104.8" width="2.5" height="2.5" fill="#9cc8d8"/><rect x="234.8" y="107.9" width="2.5" height="2.5" fill="#9cc8d8"/><rect x="245.8" y="90.6" width="2.5" height="2.5" fill="#9cc8d8"/><rect x="233.7" y="108.8" width="2.5" height="2.5" fill="#9cc8d8"/><rect x="238.5" y="96.6" width="2.5" height="2.5" fill="#9cc8d8"/><rect x="247.1" y="97.7" width="2.5" height="2.5" fill="#9cc8d8"/><rect x="243.9" y="100.6" width="2.5" height="2.5" fill="#9cc8d8"/><rect x="260.1" y="83.0" width="2.5" height="2.5" fill="#9cc8d8"/><rect x="246.7" y="89.9" width="2.5" height="2.5" fill="#9cc8d8"/><rect x="223.8" y="114.8" width="2.5" height="2.5" fill="#9cc8d8"/><rect x="260.0" y="82.7" width="2.5" height="2.5" fill="#9cc8d8"/><rect x="242.9" y="92.9" width="2.5" height="2.5" fill="#9cc8d8"/><rect x="242.9" y="101.4" width="2.5" height="2.5" fill="#9cc8d8"/><rect x="222.1" y="114.0" width="2.5" height="2.5" fill="#9cc8d8"/><rect x="252.7" y="85.7" width="2.5" height="2.5" fill="#9cc8d8"/><rect x="235.1" y="107.6" width="2.5" height="2.5" fill="#9cc8d8"/><rect x="251.8" y="93.2" width="2.5" height="2.5" fill="#9cc8d8"/><rect x="232.8" y="109.4" width="2.5" height="2.5" fill="#9cc8d8"/><rect x="230.2" y="111.2" width="2.5" height="2.5" fill="#9cc8d8"/><rect x="254.9" y="84.3" width="2.5" height="2.5" fill="#9cc8d8"/><rect x="259.4" y="84.4" width="2.5" height="2.5" fill="#9cc8d8"/><rect x="248.3" y="96.6" width="2.5" height="2.5" fill="#9cc8d8"/><rect x="256.2" y="88.6" width="2.5" height="2.5" fill="#9cc8d8"/><rect x="258.1" y="82.7" width="2.5" height="2.5" fill="#9cc8d8"/><rect x="253.5" y="85.2" width="2.5" height="2.5" fill="#9cc8d8"/><rect x="241.2" y="102.8" width="2.5" height="2.5" fill="#9cc8d8"/><rect x="222.5" y="114.9" width="2.5" height="2.5" fill="#9cc8d8"/><rect x="249.9" y="87.6" width="2.5" height="2.5" fill="#9cc8d8"/><rect x="244.8" y="99.7" width="2.5" height="2.5" fill="#9cc8d8"/><rect x="241.3" y="102.7" width="2.5" height="2.5" fill="#9cc8d8"/><rect x="256.4" y="83.5" width="2.5" height="2.5" fill="#9cc8d8"/><rect x="250.1" y="94.9" width="2.5" height="2.5" fill="#9cc8d8"/><rect x="252.1" y="92.9" width="2.5" height="2.5" fill="#9cc8d8"/><rect x="225.5" y="109.2" width="2.5" height="2.5" fill="#9cc8d8"/><rect x="223.3" y="112.1" width="2.5" height="2.5" fill="#9cc8d8"/><rect x="222.9" y="114.8" width="2.5" height="2.5" fill="#9cc8d8"/><rect x="244.9" y="99.6" width="2.5" height="2.5" fill="#9cc8d8"/><rect x="232.4" y="109.6" width="2.5" height="2.5" fill="#9cc8d8"/><rect x="245.8" y="90.7" width="2.5" height="2.5" fill="#9cc8d8"/><rect x="259.7" y="83.2" width="2.5" height="2.5" fill="#9cc8d8"/><rect x="233.7" y="100.9" width="2.5" height="2.5" fill="#9cc8d8"/><rect x="237.6" y="105.7" width="2.5" height="2.5" fill="#9cc8d8"/><rect x="236.1" y="98.7" width="2.5" height="2.5" fill="#9cc8d8"/><rect x="255.9" y="83.8" width="2.5" height="2.5" fill="#9cc8d8"/><rect x="222.9" y="114.7" width="2.5" height="2.5" fill="#9cc8d8"/><rect x="252.6" y="92.4" width="2.5" height="2.5" fill="#9cc8d8"/><rect x="232.7" y="101.9" width="2.5" height="2.5" fill="#9cc8d8"/><rect x="229.4" y="105.2" width="2.5" height="2.5" fill="#9cc8d8"/><rect x="244.3" y="91.9" width="2.5" height="2.5" fill="#9cc8d8"/><rect x="253.3" y="85.4" width="2.5" height="2.5" fill="#9cc8d8"/><rect x="255.5" y="84.1" width="2.5" height="2.5" fill="#9cc8d8"/><rect x="229.8" y="111.3" width="2.5" height="2.5" fill="#9cc8d8"/><rect x="259.5" y="83.7" width="2.5" height="2.5" fill="#9cc8d8"/><rect x="225.6" y="113.8" width="2.5" height="2.5" fill="#9cc8d8"/><rect x="226.2" y="108.6" width="2.5" height="2.5" fill="#9cc8d8"/><rect x="240.9" y="94.7" width="2.5" height="2.5" fill="#9cc8d8"/><rect x="254.6" y="90.2" width="2.5" height="2.5" fill="#9cc8d8"/><rect x="222.9" y="114.6" width="2.5" height="2.5" fill="#9cc8d8"/><rect x="241.3" y="102.5" width="2.5" height="2.5" fill="#9cc8d8"/><rect x="244.7" y="99.7" width="2.5" height="2.5" fill="#9cc8d8"/><rect x="234.6" y="100.2" width="2.5" height="2.5" fill="#9cc8d8"/><rect x="239.3" y="104.2" width="2.5" height="2.5" fill="#9cc8d8"/><rect x="232.5" y="102.1" width="2.5" height="2.5" fill="#9cc8d8"/><rect x="248.4" y="96.3" width="2.5" height="2.5" fill="#9cc8d8"/><rect x="228.7" y="112.0" width="2.5" height="2.5" fill="#9cc8d8"/><rect x="253.3" y="85.5" width="2.5" height="2.5" fill="#9cc8d8"/><rect x="257.7" y="86.5" width="2.5" height="2.5" fill="#9cc8d8"/><rect x="226.4" y="108.4" width="2.5" height="2.5" fill="#9cc8d8"/><rect x="258.5" y="83.1" width="2.5" height="2.5" fill="#9cc8d8"/><rect x="235.0" y="107.6" width="2.5" height="2.5" fill="#9cc8d8"/><rect x="246.7" y="97.9" width="2.5" height="2.5" fill="#9bc7d7"/><rect x="229.2" y="105.4" width="2.5" height="2.5" fill="#9bc7d7"/><rect x="225.2" y="113.8" width="2.5" height="2.5" fill="#9bc7d7"/><rect x="236.3" y="106.5" width="2.5" height="2.5" fill="#9bc7d7"/><rect x="258.5" y="85.2" width="2.5" height="2.5" fill="#9bc7d7"/><rect x="242.1" y="93.8" width="2.5" height="2.5" fill="#9bc7d7"/><rect x="229.5" y="111.4" width="2.5" height="2.5" fill="#9bc7d6"/><rect x="226.1" y="113.4" width="2.5" height="2.5" fill="#9bc6d6"/><rect x="257.7" y="83.3" width="2.5" height="2.5" fill="#9bc7d7"/><rect x="243.1" y="101.0" width="2.5" height="2.5" fill="#9bc6d6"/><rect x="234.7" y="107.7" width="2.5" height="2.5" fill="#9ac6d6"/><rect x="229.8" y="104.9" width="2.5" height="2.5" fill="#9ac6d6"/><rect x="224.1" y="111.3" width="2.5" height="2.5" fill="#9ac6d6"/><rect x="246.9" y="97.6" width="2.5" height="2.5" fill="#9ac6d6"/><rect x="247.2" y="89.8" width="2.5" height="2.5" fill="#9ac6d6"/><rect x="247.4" y="97.2" width="2.5" height="2.5" fill="#9ac6d6"/><rect x="258.3" y="83.3" width="2.5" height="2.5" fill="#9ac6d5"/><rect x="240.6" y="95.0" width="2.5" height="2.5" fill="#9ac6d5"/><rect x="244.7" y="99.6" width="2.5" height="2.5" fill="#9ac5d5"/><rect x="233.8" y="108.4" width="2.5" height="2.5" fill="#9ac6d5"/><rect x="229.3" y="105.4" width="2.5" height="2.5" fill="#9ac5d5"/><rect x="243.9" y="100.3" width="2.5" height="2.5" fill="#99c5d5"/><rect x="255.8" y="88.7" width="2.5" height="2.5" fill="#99c5d4"/><rect x="229.4" y="111.4" width="2.5" height="2.5" fill="#9ac5d5"/><rect x="249.7" y="95.0" width="2.5" height="2.5" fill="#99c5d5"/><rect x="226.8" y="112.9" width="2.5" height="2.5" fill="#99c4d4"/><rect x="229.1" y="111.6" width="2.5" height="2.5" fill="#99c5d5"/><rect x="256.5" y="87.8" width="2.5" height="2.5" fill="#99c4d4"/><rect x="242.2" y="93.7" width="2.5" height="2.5" fill="#99c4d4"/><rect x="255.9" y="84.2" width="2.5" height="2.5" fill="#98c4d3"/><rect x="245.6" y="91.1" width="2.5" height="2.5" fill="#98c4d3"/><rect x="233.4" y="108.6" width="2.5" height="2.5" fill="#98c3d3"/><rect x="252.0" y="92.7" width="2.5" height="2.5" fill="#98c4d3"/><rect x="228.9" y="105.9" width="2.5" height="2.5" fill="#98c3d3"/><rect x="223.9" y="111.9" width="2.5" height="2.5" fill="#98c4d3"/><rect x="237.4" y="97.9" width="2.5" height="2.5" fill="#98c4d3"/><rect x="249.6" y="95.0" width="2.5" height="2.5" fill="#98c4d3"/><rect x="241.1" y="94.7" width="2.5" height="2.5" fill="#98c4d3"/><rect x="258.6" y="83.9" width="2.5" height="2.5" fill="#98c3d3"/><rect x="232.0" y="102.8" width="2.5" height="2.5" fill="#97c2d2"/><rect x="224.9" y="110.5" width="2.5" height="2.5" fill="#98c3d3"/><rect x="249.2" y="88.4" width="2.5" height="2.5" fill="#97c2d2"/><rect x="256.7" y="87.4" width="2.5" height="2.5" fill="#98c3d3"/><rect x="231.3" y="110.0" width="2.5" height="2.5" fill="#97c2d2"/><rect x="231.3" y="110.0" width="2.5" height="2.5" fill="#97c2d2"/><rect x="235.8" y="106.8" width="2.5" height="2.5" fill="#97c2d2"/><rect x="228.9" y="111.6" width="2.5" height="2.5" fill="#97c2d1"/><rect x="243.0" y="100.9" width="2.5" height="2.5" fill="#97c2d1"/><rect x="234.0" y="101.0" width="2.5" height="2.5" fill="#97c2d1"/><rect x="238.7" y="104.5" width="2.5" height="2.5" fill="#96c1d0"/><rect x="257.4" y="83.8" width="2.5" height="2.5" fill="#96c1d0"/><rect x="236.4" y="106.3" width="2.5" height="2.5" fill="#97c2d1"/><rect x="231.3" y="110.0" width="2.5" height="2.5" fill="#97c2d1"/><rect x="232.9" y="108.9" width="2.5" height="2.5" fill="#97c2d1"/><rect x="238.3" y="104.8" width="2.5" height="2.5" fill="#97c1d1"/><rect x="224.5" y="113.7" width="2.5" height="2.5" fill="#96c0d0"/><rect x="238.2" y="104.9" width="2.5" height="2.5" fill="#95c0cf"/><rect x="250.0" y="94.5" width="2.5" height="2.5" fill="#95c0cf"/><rect x="229.9" y="110.9" width="2.5" height="2.5" fill="#95c0cf"/><rect x="231.7" y="103.2" width="2.5" height="2.5" fill="#96c1d1"/><rect x="252.6" y="86.2" width="2.5" height="2.5" fill="#95c0cf"/><rect x="251.4" y="93.1" width="2.5" height="2.5" fill="#95c0cf"/><rect x="257.0" y="86.9" width="2.5" height="2.5" fill="#95c0cf"/><rect x="244.5" y="92.1" width="2.5" height="2.5" fill="#94becd"/><rect x="253.3" y="91.2" width="2.5" height="2.5" fill="#95bfce"/><rect x="223.8" y="112.8" width="2.5" height="2.5" fill="#95c0cf"/><rect x="242.2" y="93.9" width="2.5" height="2.5" fill="#95bfcf"/><rect x="240.2" y="95.6" width="2.5" height="2.5" fill="#95bfcf"/><rect x="247.7" y="89.7" width="2.5" height="2.5" fill="#94becd"/><rect x="254.4" y="90.0" width="2.5" height="2.5" fill="#94becd"/><rect x="224.4" y="113.4" width="2.5" height="2.5" fill="#93bdcc"/><rect x="246.0" y="98.2" width="2.5" height="2.5" fill="#95bfce"/><rect x="242.4" y="93.8" width="2.5" height="2.5" fill="#95bfce"/><rect x="248.4" y="89.1" width="2.5" height="2.5" fill="#92bccb"/><rect x="235.4" y="99.8" width="2.5" height="2.5" fill="#94becd"/><rect x="250.7" y="93.8" width="2.5" height="2.5" fill="#94becd"/><rect x="246.5" y="90.5" width="2.5" height="2.5" fill="#92bccb"/><rect x="250.0" y="88.0" width="2.5" height="2.5" fill="#94becd"/><rect x="249.5" y="94.9" width="2.5" height="2.5" fill="#92bccb"/><rect x="226.8" y="112.6" width="2.5" height="2.5" fill="#92bbca"/><rect x="239.3" y="96.4" width="2.5" height="2.5" fill="#92bccb"/><rect x="252.3" y="92.2" width="2.5" height="2.5" fill="#92bccb"/><rect x="238.6" y="97.0" width="2.5" height="2.5" fill="#94becd"/><rect x="244.0" y="100.0" width="2.5" height="2.5" fill="#92bccb"/><rect x="247.5" y="96.8" width="2.5" height="2.5" fill="#92bbca"/><rect x="225.2" y="110.6" width="2.5" height="2.5" fill="#91bbca"/><rect x="228.9" y="111.4" width="2.5" height="2.5" fill="#92bbca"/><rect x="237.3" y="105.4" width="2.5" height="2.5" fill="#93bdcc"/><rect x="251.1" y="87.4" width="2.5" height="2.5" fill="#92bccb"/><rect x="242.5" y="93.7" width="2.5" height="2.5" fill="#91bbca"/><rect x="227.3" y="108.0" width="2.5" height="2.5" fill="#93bdcc"/><rect x="248.1" y="96.2" width="2.5" height="2.5" fill="#93bccc"/><rect x="246.7" y="97.5" width="2.5" height="2.5" fill="#92bccb"/><rect x="257.5" y="84.4" width="2.5" height="2.5" fill="#91bac9"/><rect x="229.0" y="111.3" width="2.5" height="2.5" fill="#91bbca"/><rect x="237.8" y="105.1" width="2.5" height="2.5" fill="#92bbca"/><rect x="227.0" y="108.3" width="2.5" height="2.5" fill="#90b9c8"/><rect x="244.5" y="92.2" width="2.5" height="2.5" fill="#91bac9"/><rect x="229.3" y="111.1" width="2.5" height="2.5" fill="#92bccb"/><rect x="241.0" y="95.0" width="2.5" height="2.5" fill="#91bac9"/><rect x="225.1" y="113.1" width="2.5" height="2.5" fill="#90b9c8"/><rect x="257.5" y="85.5" width="2.5" height="2.5" fill="#91bbca"/><rect x="238.9" y="96.8" width="2.5" height="2.5" fill="#91bbca"/><rect x="228.1" y="107.1" width="2.5" height="2.5" fill="#90bac9"/><rect x="245.8" y="98.3" width="2.5" height="2.5" fill="#8fb8c7"/><rect x="232.7" y="108.8" width="2.5" height="2.5" fill="#90b9c8"/><rect x="241.9" y="101.7" width="2.5" height="2.5" fill="#91bbca"/><rect x="224.4" y="112.5" width="2.5" height="2.5" fill="#90b9c8"/><rect x="256.3" y="84.6" width="2.5" height="2.5" fill="#90bac9"/><rect x="248.4" y="89.3" width="2.5" height="2.5" fill="#90b9c8"/><rect x="257.3" y="85.8" width="2.5" height="2.5" fill="#8fb8c7"/><rect x="233.3" y="101.8" width="2.5" height="2.5" fill="#91bbca"/><rect x="234.8" y="107.3" width="2.5" height="2.5" fill="#90b9c8"/><rect x="250.3" y="94.1" width="2.5" height="2.5" fill="#90b9c8"/><rect x="249.4" y="94.9" width="2.5" height="2.5" fill="#8fb8c7"/><rect x="257.5" y="85.3" width="2.5" height="2.5" fill="#8eb7c6"/><rect x="253.9" y="85.7" width="2.5" height="2.5" fill="#8fb9c7"/><rect x="253.2" y="91.1" width="2.5" height="2.5" fill="#8fb8c6"/><rect x="251.4" y="87.2" width="2.5" height="2.5" fill="#90b9c8"/><rect x="227.4" y="108.0" width="2.5" height="2.5" fill="#90b9c8"/><rect x="232.8" y="102.4" width="2.5" height="2.5" fill="#8fb8c7"/><rect x="252.4" y="91.9" width="2.5" height="2.5" fill="#8fb8c6"/><rect x="227.8" y="111.8" width="2.5" height="2.5" fill="#90b9c8"/><rect x="241.7" y="94.5" width="2.5" height="2.5" fill="#8eb6c5"/><rect x="224.6" y="112.4" width="2.5" height="2.5" fill="#8eb7c6"/><rect x="227.9" y="111.8" width="2.5" height="2.5" fill="#8fb8c7"/><rect x="255.4" y="88.5" width="2.5" height="2.5" fill="#8fb8c7"/><rect x="233.6" y="101.6" width="2.5" height="2.5" fill="#8db5c4"/><rect x="256.7" y="86.7" width="2.5" height="2.5" fill="#8cb5c3"/><rect x="245.2" y="91.7" width="2.5" height="2.5" fill="#8cb4c3"/><rect x="255.4" y="85.0" width="2.5" height="2.5" fill="#8fb8c7"/><rect x="228.1" y="111.7" width="2.5" height="2.5" fill="#8fb8c7"/><rect x="234.5" y="107.5" width="2.5" height="2.5" fill="#8db6c4"/><rect x="242.2" y="94.1" width="2.5" height="2.5" fill="#8fb8c7"/><rect x="227.9" y="111.7" width="2.5" height="2.5" fill="#8cb4c3"/><rect x="241.6" y="101.8" width="2.5" height="2.5" fill="#8cb5c4"/><rect x="253.5" y="90.6" width="2.5" height="2.5" fill="#8eb6c5"/><rect x="237.2" y="98.3" width="2.5" height="2.5" fill="#8db6c5"/><rect x="256.6" y="84.9" width="2.5" height="2.5" fill="#8cb4c3"/><rect x="225.1" y="111.3" width="2.5" height="2.5" fill="#8eb7c6"/><rect x="255.9" y="87.7" width="2.5" height="2.5" fill="#8db6c4"/><rect x="238.3" y="104.6" width="2.5" height="2.5" fill="#8bb3c2"/><rect x="232.3" y="102.9" width="2.5" height="2.5" fill="#8cb4c2"/><rect x="235.2" y="100.2" width="2.5" height="2.5" fill="#8cb4c3"/><rect x="240.3" y="102.9" width="2.5" height="2.5" fill="#8eb7c5"/><rect x="235.0" y="107.0" width="2.5" height="2.5" fill="#8db6c5"/><rect x="251.7" y="92.5" width="2.5" height="2.5" fill="#8db6c4"/><rect x="236.6" y="98.9" width="2.5" height="2.5" fill="#8eb7c6"/><rect x="239.7" y="103.4" width="2.5" height="2.5" fill="#8bb3c2"/><rect x="225.0" y="112.2" width="2.5" height="2.5" fill="#8bb4c2"/><rect x="237.4" y="98.2" width="2.5" height="2.5" fill="#8ab2c0"/><rect x="239.0" y="96.9" width="2.5" height="2.5" fill="#8bb4c2"/><rect x="233.8" y="101.5" width="2.5" height="2.5" fill="#8ab1c0"/><rect x="242.7" y="93.8" width="2.5" height="2.5" fill="#8cb4c2"/><rect x="236.6" y="98.9" width="2.5" height="2.5" fill="#8bb4c2"/><rect x="243.0" y="100.6" width="2.5" height="2.5" fill="#8cb5c3"/><rect x="237.7" y="104.9" width="2.5" height="2.5" fill="#8cb4c2"/><rect x="247.8" y="96.3" width="2.5" height="2.5" fill="#89b1bf"/><rect x="254.9" y="85.4" width="2.5" height="2.5" fill="#8bb3c2"/><rect x="256.3" y="87.0" width="2.5" height="2.5" fill="#8db6c5"/><rect x="255.6" y="85.2" width="2.5" height="2.5" fill="#8cb4c3"/><rect x="238.2" y="97.6" width="2.5" height="2.5" fill="#8cb5c3"/><rect x="236.5" y="105.9" width="2.5" height="2.5" fill="#8ab2c1"/><rect x="232.7" y="102.6" width="2.5" height="2.5" fill="#8bb3c1"/><rect x="232.9" y="102.3" width="2.5" height="2.5" fill="#8bb3c1"/><rect x="250.2" y="94.0" width="2.5" height="2.5" fill="#89b0be"/><rect x="232.8" y="102.5" width="2.5" height="2.5" fill="#89b1bf"/><rect x="242.5" y="101.0" width="2.5" height="2.5" fill="#8cb5c4"/><rect x="256.5" y="85.1" width="2.5" height="2.5" fill="#8db5c4"/><rect x="236.5" y="99.0" width="2.5" height="2.5" fill="#89b1bf"/><rect x="256.3" y="87.0" width="2.5" height="2.5" fill="#8ab2c0"/><rect x="244.9" y="98.9" width="2.5" height="2.5" fill="#8ab1c0"/><rect x="244.9" y="92.0" width="2.5" height="2.5" fill="#8ab2c1"/><rect x="233.5" y="108.1" width="2.5" height="2.5" fill="#8db5c4"/><rect x="243.2" y="93.4" width="2.5" height="2.5" fill="#8ab2c1"/><rect x="228.8" y="111.1" width="2.5" height="2.5" fill="#88b0be"/><rect x="235.1" y="100.4" width="2.5" height="2.5" fill="#89b1bf"/><rect x="256.6" y="85.3" width="2.5" height="2.5" fill="#8cb4c3"/><rect x="243.5" y="100.1" width="2.5" height="2.5" fill="#8cb4c2"/><rect x="236.4" y="105.9" width="2.5" height="2.5" fill="#87afbd"/><rect x="256.7" y="85.4" width="2.5" height="2.5" fill="#89b1bf"/><rect x="247.0" y="90.5" width="2.5" height="2.5" fill="#8bb3c2"/><rect x="256.7" y="85.8" width="2.5" height="2.5" fill="#88b0be"/><rect x="250.8" y="87.8" width="2.5" height="2.5" fill="#87aebc"/><rect x="242.3" y="101.1" width="2.5" height="2.5" fill="#87aebc"/><rect x="236.6" y="99.0" width="2.5" height="2.5" fill="#88afbd"/><rect x="248.5" y="89.4" width="2.5" height="2.5" fill="#87aebc"/><rect x="225.8" y="112.1" width="2.5" height="2.5" fill="#8bb3c1"/><rect x="229.6" y="110.6" width="2.5" height="2.5" fill="#89b0be"/><rect x="236.4" y="99.2" width="2.5" height="2.5" fill="#86adbc"/><rect x="227.4" y="111.7" width="2.5" height="2.5" fill="#89b1bf"/><rect x="240.6" y="102.5" width="2.5" height="2.5" fill="#8ab2c0"/><rect x="238.5" y="97.4" width="2.5" height="2.5" fill="#86adbb"/><rect x="236.8" y="105.6" width="2.5" height="2.5" fill="#87aebc"/><rect x="226.3" y="109.8" width="2.5" height="2.5" fill="#8bb3c1"/><rect x="253.3" y="90.7" width="2.5" height="2.5" fill="#8ab2c1"/><rect x="249.4" y="94.7" width="2.5" height="2.5" fill="#88afbd"/><rect x="230.9" y="109.8" width="2.5" height="2.5" fill="#85acba"/><rect x="246.2" y="97.6" width="2.5" height="2.5" fill="#87aebc"/><rect x="232.5" y="102.9" width="2.5" height="2.5" fill="#86acba"/><rect x="250.1" y="94.0" width="2.5" height="2.5" fill="#8ab2c0"/><rect x="225.9" y="110.5" width="2.5" height="2.5" fill="#87aebc"/><rect x="255.9" y="85.4" width="2.5" height="2.5" fill="#89b1bf"/><rect x="236.5" y="105.7" width="2.5" height="2.5" fill="#88b0be"/><rect x="232.0" y="109.0" width="2.5" height="2.5" fill="#89b1bf"/><rect x="232.2" y="103.2" width="2.5" height="2.5" fill="#87afbd"/><rect x="237.6" y="104.9" width="2.5" height="2.5" fill="#8ab2c0"/><rect x="230.3" y="105.1" width="2.5" height="2.5" fill="#86adbb"/><rect x="229.8" y="110.4" width="2.5" height="2.5" fill="#86adbb"/><rect x="233.5" y="101.9" width="2.5" height="2.5" fill="#84abb9"/><rect x="227.0" y="111.8" width="2.5" height="2.5" fill="#85acba"/><rect x="254.7" y="88.9" width="2.5" height="2.5" fill="#89b1bf"/><rect x="249.2" y="89.0" width="2.5" height="2.5" fill="#85abb9"/><rect x="225.8" y="111.9" width="2.5" height="2.5" fill="#86adbc"/><rect x="240.3" y="102.7" width="2.5" height="2.5" fill="#84abb8"/><rect x="244.2" y="99.4" width="2.5" height="2.5" fill="#86aebc"/><rect x="238.2" y="97.6" width="2.5" height="2.5" fill="#89b0bf"/><rect x="231.5" y="103.9" width="2.5" height="2.5" fill="#85acba"/><rect x="241.7" y="94.7" width="2.5" height="2.5" fill="#88b0be"/><rect x="244.5" y="99.1" width="2.5" height="2.5" fill="#83a9b7"/><rect x="230.5" y="105.0" width="2.5" height="2.5" fill="#86adbb"/><rect x="245.4" y="91.8" width="2.5" height="2.5" fill="#83aab8"/><rect x="242.2" y="101.2" width="2.5" height="2.5" fill="#86adbb"/><rect x="242.4" y="100.9" width="2.5" height="2.5" fill="#87aebc"/><rect x="251.9" y="92.1" width="2.5" height="2.5" fill="#84abb9"/><rect x="250.8" y="93.2" width="2.5" height="2.5" fill="#84abb8"/><rect x="242.4" y="100.9" width="2.5" height="2.5" fill="#86acba"/><rect x="249.0" y="95.0" width="2.5" height="2.5" fill="#87aebc"/><rect x="233.9" y="107.6" width="2.5" height="2.5" fill="#86acba"/><rect x="244.8" y="92.3" width="2.5" height="2.5" fill="#84aab8"/><rect x="227.6" y="108.3" width="2.5" height="2.5" fill="#87aebc"/><rect x="252.9" y="86.7" width="2.5" height="2.5" fill="#87aebc"/><rect x="231.7" y="103.8" width="2.5" height="2.5" fill="#85acba"/><rect x="244.5" y="92.5" width="2.5" height="2.5" fill="#84aab8"/><rect x="249.3" y="89.0" width="2.5" height="2.5" fill="#87afbd"/><rect x="255.9" y="85.8" width="2.5" height="2.5" fill="#86adbb"/><rect x="250.7" y="93.2" width="2.5" height="2.5" fill="#81a7b5"/><rect x="255.4" y="85.8" width="2.5" height="2.5" fill="#86adbb"/><rect x="256.0" y="85.9" width="2.5" height="2.5" fill="#82a9b6"/><rect x="256.0" y="86.6" width="2.5" height="2.5" fill="#85acba"/><rect x="254.0" y="89.6" width="2.5" height="2.5" fill="#87aebc"/><rect x="245.2" y="92.0" width="2.5" height="2.5" fill="#84abb8"/><rect x="248.2" y="95.7" width="2.5" height="2.5" fill="#81a7b5"/><rect x="250.0" y="88.5" width="2.5" height="2.5" fill="#82a8b6"/><rect x="226.3" y="111.7" width="2.5" height="2.5" fill="#87aebc"/><rect x="236.6" y="99.1" width="2.5" height="2.5" fill="#82a8b6"/><rect x="233.0" y="108.2" width="2.5" height="2.5" fill="#83a9b6"/><rect x="236.8" y="105.5" width="2.5" height="2.5" fill="#84aab8"/><rect x="230.6" y="109.8" width="2.5" height="2.5" fill="#82a8b6"/><rect x="233.9" y="101.7" width="2.5" height="2.5" fill="#83a9b6"/><rect x="254.7" y="88.7" width="2.5" height="2.5" fill="#85acb9"/><rect x="235.8" y="106.2" width="2.5" height="2.5" fill="#81a7b5"/><rect x="240.9" y="95.4" width="2.5" height="2.5" fill="#85acba"/><rect x="255.8" y="86.7" width="2.5" height="2.5" fill="#84aab8"/><rect x="239.5" y="96.6" width="2.5" height="2.5" fill="#80a5b3"/><rect x="233.3" y="102.3" width="2.5" height="2.5" fill="#82a8b5"/><rect x="252.0" y="87.4" width="2.5" height="2.5" fill="#82a8b6"/><rect x="240.7" y="95.7" width="2.5" height="2.5" fill="#81a6b4"/><rect x="245.3" y="98.3" width="2.5" height="2.5" fill="#82a8b6"/><rect x="250.9" y="88.0" width="2.5" height="2.5" fill="#83a9b7"/><rect x="235.2" y="100.5" width="2.5" height="2.5" fill="#82a8b5"/><rect x="227.0" y="109.3" width="2.5" height="2.5" fill="#85acba"/><rect x="229.4" y="106.3" width="2.5" height="2.5" fill="#83a9b7"/><rect x="230.5" y="105.2" width="2.5" height="2.5" fill="#85acba"/><rect x="239.2" y="96.9" width="2.5" height="2.5" fill="#7ea3b0"/><rect x="243.8" y="93.2" width="2.5" height="2.5" fill="#7ea4b1"/><rect x="226.2" y="110.9" width="2.5" height="2.5" fill="#80a6b3"/><rect x="252.2" y="91.6" width="2.5" height="2.5" fill="#84aab8"/><rect x="243.4" y="93.5" width="2.5" height="2.5" fill="#7ea3b1"/><rect x="255.6" y="86.2" width="2.5" height="2.5" fill="#83a9b6"/><rect x="233.5" y="107.8" width="2.5" height="2.5" fill="#7fa4b1"/><rect x="249.9" y="88.7" width="2.5" height="2.5" fill="#80a5b2"/><rect x="247.4" y="90.4" width="2.5" height="2.5" fill="#80a5b3"/><rect x="255.2" y="87.8" width="2.5" height="2.5" fill="#7fa4b1"/><rect x="242.5" y="100.7" width="2.5" height="2.5" fill="#82a8b5"/><rect x="249.0" y="89.3" width="2.5" height="2.5" fill="#7da2af"/><rect x="226.8" y="109.7" width="2.5" height="2.5" fill="#80a5b2"/><rect x="229.9" y="105.8" width="2.5" height="2.5" fill="#7ea3b0"/><rect x="240.6" y="102.3" width="2.5" height="2.5" fill="#7da2af"/><rect x="239.8" y="103.0" width="2.5" height="2.5" fill="#82a8b5"/><rect x="253.9" y="89.4" width="2.5" height="2.5" fill="#80a6b3"/><rect x="246.3" y="97.3" width="2.5" height="2.5" fill="#81a6b4"/><rect x="227.9" y="111.0" width="2.5" height="2.5" fill="#83a9b7"/><rect x="254.7" y="88.4" width="2.5" height="2.5" fill="#7ca0ad"/><rect x="238.3" y="97.8" width="2.5" height="2.5" fill="#7da2af"/><rect x="252.1" y="91.5" width="2.5" height="2.5" fill="#7fa4b1"/><rect x="229.8" y="110.0" width="2.5" height="2.5" fill="#7ea3b1"/><rect x="249.1" y="94.7" width="2.5" height="2.5" fill="#7ba0ad"/><rect x="232.6" y="108.3" width="2.5" height="2.5" fill="#82a8b6"/><rect x="237.0" y="105.1" width="2.5" height="2.5" fill="#7fa5b2"/><rect x="244.5" y="98.9" width="2.5" height="2.5" fill="#7da1ae"/><rect x="230.7" y="105.0" width="2.5" height="2.5" fill="#7ea3b0"/><rect x="255.2" y="86.5" width="2.5" height="2.5" fill="#7ea3b0"/><rect x="250.5" y="88.4" width="2.5" height="2.5" fill="#80a5b2"/><rect x="235.9" y="99.9" width="2.5" height="2.5" fill="#80a5b3"/><rect x="228.7" y="110.5" width="2.5" height="2.5" fill="#7ca0ad"/><rect x="235.4" y="100.4" width="2.5" height="2.5" fill="#7fa4b1"/><rect x="228.5" y="107.6" width="2.5" height="2.5" fill="#799daa"/><rect x="244.1" y="99.2" width="2.5" height="2.5" fill="#7a9eab"/><rect x="255.1" y="86.6" width="2.5" height="2.5" fill="#799daa"/><rect x="244.4" y="99.0" width="2.5" height="2.5" fill="#7fa4b1"/><rect x="244.3" y="92.9" width="2.5" height="2.5" fill="#7da1af"/><rect x="227.6" y="110.9" width="2.5" height="2.5" fill="#80a6b3"/><rect x="238.2" y="97.9" width="2.5" height="2.5" fill="#7ea3b0"/><rect x="227.0" y="110.9" width="2.5" height="2.5" fill="#80a6b3"/><rect x="240.8" y="102.1" width="2.5" height="2.5" fill="#7da1ae"/><rect x="230.4" y="105.4" width="2.5" height="2.5" fill="#799ca9"/><rect x="227.6" y="108.8" width="2.5" height="2.5" fill="#7a9eab"/><rect x="227.1" y="109.5" width="2.5" height="2.5" fill="#7ea3b0"/><rect x="238.8" y="97.4" width="2.5" height="2.5" fill="#7ea3b1"/><rect x="250.4" y="93.2" width="2.5" height="2.5" fill="#789ca9"/><rect x="252.2" y="87.5" width="2.5" height="2.5" fill="#80a6b3"/><rect x="227.2" y="110.9" width="2.5" height="2.5" fill="#799daa"/><rect x="243.0" y="93.9" width="2.5" height="2.5" fill="#799da9"/><rect x="252.9" y="87.1" width="2.5" height="2.5" fill="#80a5b3"/><rect x="250.7" y="88.4" width="2.5" height="2.5" fill="#779ba7"/><rect x="247.8" y="95.8" width="2.5" height="2.5" fill="#7a9eab"/><rect x="235.0" y="100.9" width="2.5" height="2.5" fill="#7ca1ae"/><rect x="246.1" y="97.4" width="2.5" height="2.5" fill="#7ca0ad"/><rect x="230.4" y="105.4" width="2.5" height="2.5" fill="#7a9eab"/><rect x="245.5" y="92.0" width="2.5" height="2.5" fill="#7a9fac"/><rect x="229.9" y="109.8" width="2.5" height="2.5" fill="#779aa7"/><rect x="252.5" y="90.9" width="2.5" height="2.5" fill="#769aa6"/><rect x="241.0" y="95.6" width="2.5" height="2.5" fill="#7ca0ad"/><rect x="242.0" y="94.8" width="2.5" height="2.5" fill="#7fa4b1"/><rect x="230.1" y="109.7" width="2.5" height="2.5" fill="#779ba7"/><rect x="254.9" y="87.2" width="2.5" height="2.5" fill="#789ca9"/><rect x="228.6" y="107.7" width="2.5" height="2.5" fill="#789ca8"/><rect x="244.5" y="98.8" width="2.5" height="2.5" fill="#7ea3b0"/><rect x="239.5" y="103.0" width="2.5" height="2.5" fill="#7ea3b0"/><rect x="242.1" y="100.9" width="2.5" height="2.5" fill="#7699a5"/><rect x="243.4" y="93.7" width="2.5" height="2.5" fill="#7b9fac"/><rect x="254.7" y="87.0" width="2.5" height="2.5" fill="#7a9eaa"/><rect x="238.2" y="98.0" width="2.5" height="2.5" fill="#7597a4"/><rect x="247.3" y="90.8" width="2.5" height="2.5" fill="#7ca1ae"/><rect x="227.8" y="110.6" width="2.5" height="2.5" fill="#789ba8"/><rect x="236.8" y="105.1" width="2.5" height="2.5" fill="#7da2b0"/><rect x="253.0" y="90.2" width="2.5" height="2.5" fill="#789ca9"/><rect x="241.8" y="101.2" width="2.5" height="2.5" fill="#779aa6"/><rect x="250.2" y="93.4" width="2.5" height="2.5" fill="#7ca1ae"/><rect x="228.2" y="110.5" width="2.5" height="2.5" fill="#7699a6"/><rect x="250.7" y="92.8" width="2.5" height="2.5" fill="#7497a3"/><rect x="252.2" y="87.6" width="2.5" height="2.5" fill="#7598a5"/><rect x="233.0" y="107.9" width="2.5" height="2.5" fill="#7598a5"/><rect x="233.7" y="102.2" width="2.5" height="2.5" fill="#7496a3"/><rect x="251.9" y="87.8" width="2.5" height="2.5" fill="#7699a6"/><rect x="241.0" y="95.7" width="2.5" height="2.5" fill="#779ba8"/><rect x="232.5" y="103.4" width="2.5" height="2.5" fill="#7597a4"/><rect x="247.6" y="90.6" width="2.5" height="2.5" fill="#7597a4"/><rect x="227.9" y="110.4" width="2.5" height="2.5" fill="#769aa6"/><rect x="240.4" y="96.1" width="2.5" height="2.5" fill="#7699a6"/><rect x="241.6" y="95.2" width="2.5" height="2.5" fill="#7b9fac"/><rect x="250.7" y="88.5" width="2.5" height="2.5" fill="#799ca9"/><rect x="239.4" y="103.1" width="2.5" height="2.5" fill="#799da9"/><rect x="240.6" y="96.1" width="2.5" height="2.5" fill="#7396a2"/><rect x="239.2" y="97.2" width="2.5" height="2.5" fill="#7496a3"/><rect x="254.5" y="87.4" width="2.5" height="2.5" fill="#799da9"/><rect x="236.0" y="100.0" width="2.5" height="2.5" fill="#71939f"/><rect x="246.0" y="91.8" width="2.5" height="2.5" fill="#7b9fac"/><rect x="228.5" y="108.0" width="2.5" height="2.5" fill="#7b9fac"/><rect x="254.5" y="87.5" width="2.5" height="2.5" fill="#789ca9"/><rect x="228.8" y="107.5" width="2.5" height="2.5" fill="#7b9fac"/><rect x="254.2" y="87.2" width="2.5" height="2.5" fill="#7294a0"/><rect x="247.5" y="95.9" width="2.5" height="2.5" fill="#789ba8"/><rect x="236.2" y="99.9" width="2.5" height="2.5" fill="#779ba7"/><rect x="239.4" y="103.0" width="2.5" height="2.5" fill="#7294a0"/><rect x="230.2" y="105.9" width="2.5" height="2.5" fill="#7598a4"/><rect x="245.1" y="98.1" width="2.5" height="2.5" fill="#7496a3"/><rect x="253.2" y="87.4" width="2.5" height="2.5" fill="#7699a5"/><rect x="237.8" y="98.4" width="2.5" height="2.5" fill="#7598a5"/><rect x="238.3" y="98.1" width="2.5" height="2.5" fill="#70919d"/><rect x="237.5" y="104.5" width="2.5" height="2.5" fill="#779aa7"/><rect x="246.8" y="96.6" width="2.5" height="2.5" fill="#7496a3"/><rect x="228.1" y="110.1" width="2.5" height="2.5" fill="#7497a3"/><rect x="237.2" y="104.7" width="2.5" height="2.5" fill="#789ca8"/><rect x="228.0" y="110.0" width="2.5" height="2.5" fill="#789ba8"/><rect x="250.4" y="88.8" width="2.5" height="2.5" fill="#7496a3"/><rect x="237.8" y="98.5" width="2.5" height="2.5" fill="#70929e"/><rect x="235.9" y="100.2" width="2.5" height="2.5" fill="#7597a4"/><rect x="229.0" y="109.9" width="2.5" height="2.5" fill="#799ca9"/><rect x="236.8" y="105.0" width="2.5" height="2.5" fill="#6f909c"/><rect x="247.2" y="91.0" width="2.5" height="2.5" fill="#789ba8"/><rect x="242.4" y="100.5" width="2.5" height="2.5" fill="#6f919c"/><rect x="244.4" y="93.1" width="2.5" height="2.5" fill="#799ca9"/><rect x="242.7" y="100.2" width="2.5" height="2.5" fill="#7294a0"/><rect x="234.4" y="101.7" width="2.5" height="2.5" fill="#779ba7"/><rect x="238.6" y="103.6" width="2.5" height="2.5" fill="#7699a6"/><rect x="251.2" y="92.0" width="2.5" height="2.5" fill="#7497a3"/><rect x="249.8" y="93.6" width="2.5" height="2.5" fill="#70929e"/><rect x="230.6" y="105.6" width="2.5" height="2.5" fill="#7496a3"/><rect x="228.6" y="108.1" width="2.5" height="2.5" fill="#7497a3"/><rect x="228.5" y="110.0" width="2.5" height="2.5" fill="#7497a3"/><rect x="230.7" y="109.1" width="2.5" height="2.5" fill="#7395a1"/><rect x="247.4" y="96.0" width="2.5" height="2.5" fill="#7598a4"/><rect x="236.9" y="99.3" width="2.5" height="2.5" fill="#6d8e9a"/><rect x="253.8" y="87.6" width="2.5" height="2.5" fill="#7699a5"/><rect x="240.5" y="96.2" width="2.5" height="2.5" fill="#769aa6"/><rect x="253.9" y="87.8" width="2.5" height="2.5" fill="#7294a0"/><rect x="247.9" y="95.4" width="2.5" height="2.5" fill="#7496a2"/><rect x="231.7" y="108.5" width="2.5" height="2.5" fill="#6f909c"/><rect x="242.9" y="94.3" width="2.5" height="2.5" fill="#779aa7"/><rect x="228.8" y="109.8" width="2.5" height="2.5" fill="#6f919d"/><rect x="241.1" y="101.5" width="2.5" height="2.5" fill="#7395a2"/><rect x="236.8" y="99.5" width="2.5" height="2.5" fill="#6c8d98"/><rect x="229.9" y="109.4" width="2.5" height="2.5" fill="#7396a2"/><rect x="238.4" y="98.1" width="2.5" height="2.5" fill="#7294a0"/><rect x="251.8" y="88.2" width="2.5" height="2.5" fill="#7396a2"/><rect x="234.9" y="106.3" width="2.5" height="2.5" fill="#71929e"/><rect x="239.6" y="102.8" width="2.5" height="2.5" fill="#7496a2"/><rect x="236.9" y="99.4" width="2.5" height="2.5" fill="#6f909c"/><rect x="245.8" y="92.1" width="2.5" height="2.5" fill="#7294a0"/><rect x="241.6" y="101.1" width="2.5" height="2.5" fill="#6e8f9b"/><rect x="248.8" y="94.5" width="2.5" height="2.5" fill="#7395a2"/><rect x="233.3" y="102.8" width="2.5" height="2.5" fill="#71939f"/><rect x="245.0" y="92.7" width="2.5" height="2.5" fill="#70919d"/><rect x="253.4" y="89.1" width="2.5" height="2.5" fill="#6e8f9a"/><rect x="229.2" y="107.5" width="2.5" height="2.5" fill="#6e8f9b"/><rect x="246.3" y="91.7" width="2.5" height="2.5" fill="#71939f"/><rect x="242.4" y="94.8" width="2.5" height="2.5" fill="#7598a5"/><rect x="253.1" y="87.8" width="2.5" height="2.5" fill="#7597a4"/><rect x="234.1" y="102.1" width="2.5" height="2.5" fill="#7497a3"/><rect x="239.9" y="96.8" width="2.5" height="2.5" fill="#7396a2"/><rect x="236.0" y="105.4" width="2.5" height="2.5" fill="#7396a2"/><rect x="253.6" y="88.2" width="2.5" height="2.5" fill="#6d8e9a"/><rect x="239.4" y="102.8" width="2.5" height="2.5" fill="#71939f"/><rect x="248.2" y="90.4" width="2.5" height="2.5" fill="#6a8a95"/><rect x="230.3" y="106.1" width="2.5" height="2.5" fill="#7294a1"/><rect x="238.5" y="98.0" width="2.5" height="2.5" fill="#7294a0"/><rect x="237.3" y="104.5" width="2.5" height="2.5" fill="#7395a1"/><rect x="229.2" y="107.5" width="2.5" height="2.5" fill="#7396a2"/><rect x="234.6" y="101.6" width="2.5" height="2.5" fill="#6c8d99"/><rect x="253.4" y="88.0" width="2.5" height="2.5" fill="#6d8f9a"/><rect x="248.7" y="94.5" width="2.5" height="2.5" fill="#7294a0"/><rect x="253.5" y="88.1" width="2.5" height="2.5" fill="#6a8b96"/><rect x="232.7" y="103.5" width="2.5" height="2.5" fill="#6c8d98"/><rect x="252.1" y="90.8" width="2.5" height="2.5" fill="#6f909c"/><rect x="228.7" y="109.5" width="2.5" height="2.5" fill="#6d8e99"/><rect x="228.9" y="108.1" width="2.5" height="2.5" fill="#6c8c98"/><rect x="236.0" y="105.4" width="2.5" height="2.5" fill="#6e909c"/><rect x="238.9" y="97.7" width="2.5" height="2.5" fill="#7395a2"/><rect x="233.5" y="102.8" width="2.5" height="2.5" fill="#6f919d"/><rect x="240.9" y="96.0" width="2.5" height="2.5" fill="#688792"/><rect x="229.8" y="106.7" width="2.5" height="2.5" fill="#6f909c"/><rect x="241.4" y="101.2" width="2.5" height="2.5" fill="#6b8c98"/><rect x="231.4" y="104.9" width="2.5" height="2.5" fill="#7395a1"/><rect x="246.8" y="91.5" width="2.5" height="2.5" fill="#698a95"/><rect x="252.3" y="90.5" width="2.5" height="2.5" fill="#688893"/><rect x="249.0" y="90.0" width="2.5" height="2.5" fill="#6f909c"/><rect x="228.8" y="108.3" width="2.5" height="2.5" fill="#6f909c"/><rect x="228.7" y="109.3" width="2.5" height="2.5" fill="#6d8e99"/><rect x="240.3" y="96.5" width="2.5" height="2.5" fill="#70929e"/><rect x="253.3" y="88.9" width="2.5" height="2.5" fill="#70929e"/><rect x="243.3" y="99.5" width="2.5" height="2.5" fill="#71939f"/><rect x="241.5" y="95.5" width="2.5" height="2.5" fill="#6a8a95"/><rect x="244.7" y="98.3" width="2.5" height="2.5" fill="#6c8d98"/><rect x="229.2" y="109.3" width="2.5" height="2.5" fill="#668590"/><rect x="240.6" y="101.8" width="2.5" height="2.5" fill="#668590"/><rect x="233.0" y="103.3" width="2.5" height="2.5" fill="#678691"/><rect x="236.5" y="105.0" width="2.5" height="2.5" fill="#668590"/><rect x="250.3" y="89.2" width="2.5" height="2.5" fill="#678792"/><rect x="237.3" y="104.4" width="2.5" height="2.5" fill="#7294a0"/><rect x="231.6" y="108.3" width="2.5" height="2.5" fill="#71929e"/><rect x="245.2" y="92.7" width="2.5" height="2.5" fill="#65848f"/><rect x="237.3" y="99.2" width="2.5" height="2.5" fill="#668691"/><rect x="230.4" y="106.1" width="2.5" height="2.5" fill="#698a95"/><rect x="251.3" y="88.7" width="2.5" height="2.5" fill="#698995"/><rect x="250.4" y="92.7" width="2.5" height="2.5" fill="#6c8c98"/><rect x="243.9" y="93.7" width="2.5" height="2.5" fill="#6c8c98"/><rect x="252.6" y="89.9" width="2.5" height="2.5" fill="#70919d"/><rect x="242.1" y="95.1" width="2.5" height="2.5" fill="#6a8a95"/><rect x="250.9" y="92.1" width="2.5" height="2.5" fill="#6e8f9a"/><rect x="243.9" y="99.0" width="2.5" height="2.5" fill="#70919d"/><rect x="229.3" y="109.1" width="2.5" height="2.5" fill="#65848f"/><rect x="234.7" y="106.3" width="2.5" height="2.5" fill="#698994"/><rect x="236.0" y="105.3" width="2.5" height="2.5" fill="#65848f"/><rect x="241.1" y="101.3" width="2.5" height="2.5" fill="#6d8e99"/><rect x="252.4" y="88.4" width="2.5" height="2.5" fill="#698994"/><rect x="245.4" y="97.5" width="2.5" height="2.5" fill="#6d8e9a"/><rect x="245.9" y="97.2" width="2.5" height="2.5" fill="#65848f"/><rect x="251.8" y="91.0" width="2.5" height="2.5" fill="#6e8f9b"/><rect x="230.6" y="106.0" width="2.5" height="2.5" fill="#688792"/><rect x="252.5" y="88.4" width="2.5" height="2.5" fill="#698994"/><rect x="240.0" y="96.9" width="2.5" height="2.5" fill="#6c8d98"/><rect x="229.1" y="108.9" width="2.5" height="2.5" fill="#6f919d"/><rect x="239.9" y="102.3" width="2.5" height="2.5" fill="#6a8a95"/><rect x="241.1" y="96.0" width="2.5" height="2.5" fill="#698994"/><rect x="251.6" y="88.7" width="2.5" height="2.5" fill="#65848e"/><rect x="237.7" y="104.0" width="2.5" height="2.5" fill="#6d8e9a"/><rect x="248.0" y="90.7" width="2.5" height="2.5" fill="#6d8f9a"/><rect x="229.5" y="107.6" width="2.5" height="2.5" fill="#6c8c98"/><rect x="244.5" y="98.3" width="2.5" height="2.5" fill="#64838e"/><rect x="252.7" y="89.5" width="2.5" height="2.5" fill="#6c8d99"/><rect x="229.5" y="107.6" width="2.5" height="2.5" fill="#678691"/><rect x="249.4" y="89.9" width="2.5" height="2.5" fill="#6f919d"/><rect x="243.9" y="98.9" width="2.5" height="2.5" fill="#6f909c"/><rect x="236.0" y="105.3" width="2.5" height="2.5" fill="#65858f"/><rect x="238.4" y="103.5" width="2.5" height="2.5" fill="#688894"/><rect x="234.6" y="106.2" width="2.5" height="2.5" fill="#6e8f9b"/><rect x="231.8" y="104.7" width="2.5" height="2.5" fill="#698994"/><rect x="241.3" y="101.1" width="2.5" height="2.5" fill="#62808b"/><rect x="241.2" y="101.2" width="2.5" height="2.5" fill="#6a8a95"/><rect x="234.1" y="102.2" width="2.5" height="2.5" fill="#678792"/><rect x="248.6" y="90.4" width="2.5" height="2.5" fill="#698994"/><rect x="251.2" y="91.6" width="2.5" height="2.5" fill="#688793"/><rect x="248.3" y="90.6" width="2.5" height="2.5" fill="#6e909b"/><rect x="233.1" y="107.3" width="2.5" height="2.5" fill="#62808b"/><rect x="243.4" y="99.3" width="2.5" height="2.5" fill="#668691"/><rect x="252.7" y="89.3" width="2.5" height="2.5" fill="#6a8a95"/><rect x="243.0" y="94.5" width="2.5" height="2.5" fill="#6b8b97"/><rect x="248.3" y="90.6" width="2.5" height="2.5" fill="#6c8d98"/><rect x="230.9" y="108.5" width="2.5" height="2.5" fill="#617f8a"/><rect x="237.0" y="104.6" width="2.5" height="2.5" fill="#62818b"/><rect x="252.5" y="88.6" width="2.5" height="2.5" fill="#698994"/><rect x="230.8" y="105.9" width="2.5" height="2.5" fill="#668590"/><rect x="248.0" y="90.8" width="2.5" height="2.5" fill="#668691"/><rect x="240.0" y="102.1" width="2.5" height="2.5" fill="#6c8c98"/><rect x="252.7" y="88.8" width="2.5" height="2.5" fill="#6e8f9b"/><rect x="235.8" y="105.4" width="2.5" height="2.5" fill="#63828d"/><rect x="246.6" y="91.8" width="2.5" height="2.5" fill="#6c8d98"/><rect x="232.1" y="107.8" width="2.5" height="2.5" fill="#668590"/><rect x="252.0" y="88.7" width="2.5" height="2.5" fill="#6e8f9b"/><rect x="238.1" y="98.6" width="2.5" height="2.5" fill="#6e8f9b"/><rect x="248.2" y="90.7" width="2.5" height="2.5" fill="#6b8c97"/><rect x="233.7" y="102.7" width="2.5" height="2.5" fill="#64828d"/><rect x="229.4" y="108.4" width="2.5" height="2.5" fill="#64838e"/><rect x="229.4" y="108.1" width="2.5" height="2.5" fill="#5e7c86"/><rect x="229.6" y="108.7" width="2.5" height="2.5" fill="#63828d"/><rect x="245.0" y="97.8" width="2.5" height="2.5" fill="#65848f"/><rect x="252.3" y="89.9" width="2.5" height="2.5" fill="#6d8e9a"/><rect x="249.8" y="89.8" width="2.5" height="2.5" fill="#5f7c86"/><rect x="240.3" y="101.8" width="2.5" height="2.5" fill="#668590"/><rect x="234.2" y="102.3" width="2.5" height="2.5" fill="#607e88"/><rect x="245.2" y="92.8" width="2.5" height="2.5" fill="#6c8d99"/><rect x="241.2" y="101.1" width="2.5" height="2.5" fill="#607e89"/><rect x="230.2" y="106.8" width="2.5" height="2.5" fill="#658590"/><rect x="237.0" y="99.6" width="2.5" height="2.5" fill="#698a95"/><rect x="246.5" y="96.4" width="2.5" height="2.5" fill="#668691"/><rect x="229.5" y="108.0" width="2.5" height="2.5" fill="#6c8c98"/><rect x="234.0" y="102.5" width="2.5" height="2.5" fill="#64828d"/><rect x="242.7" y="99.9" width="2.5" height="2.5" fill="#698994"/><rect x="229.7" y="108.6" width="2.5" height="2.5" fill="#617f8a"/><rect x="244.8" y="98.0" width="2.5" height="2.5" fill="#6a8a95"/><rect x="237.6" y="104.0" width="2.5" height="2.5" fill="#61808a"/><rect x="242.9" y="94.6" width="2.5" height="2.5" fill="#62808b"/><rect x="237.9" y="103.8" width="2.5" height="2.5" fill="#617f89"/><rect x="233.6" y="102.9" width="2.5" height="2.5" fill="#5d7a84"/><rect x="232.3" y="107.6" width="2.5" height="2.5" fill="#678691"/><rect x="250.6" y="89.4" width="2.5" height="2.5" fill="#617f89"/><rect x="231.7" y="107.9" width="2.5" height="2.5" fill="#65848f"/><rect x="237.0" y="104.4" width="2.5" height="2.5" fill="#5d7a84"/><rect x="241.3" y="95.9" width="2.5" height="2.5" fill="#5e7b85"/><rect x="251.4" y="89.1" width="2.5" height="2.5" fill="#5f7c87"/><rect x="250.9" y="91.7" width="2.5" height="2.5" fill="#617f8a"/><rect x="235.2" y="105.7" width="2.5" height="2.5" fill="#678691"/><rect x="252.0" y="90.1" width="2.5" height="2.5" fill="#5c7983"/><rect x="251.5" y="89.1" width="2.5" height="2.5" fill="#5b7882"/><rect x="251.7" y="89.1" width="2.5" height="2.5" fill="#5b7882"/><rect x="243.8" y="98.8" width="2.5" height="2.5" fill="#65848f"/><rect x="250.4" y="92.2" width="2.5" height="2.5" fill="#5d7a84"/><rect x="246.1" y="92.3" width="2.5" height="2.5" fill="#5f7d87"/><rect x="241.6" y="100.7" width="2.5" height="2.5" fill="#5d7a84"/><rect x="239.9" y="102.1" width="2.5" height="2.5" fill="#5d7a85"/><rect x="251.9" y="89.1" width="2.5" height="2.5" fill="#63818c"/><rect x="232.5" y="107.4" width="2.5" height="2.5" fill="#64838d"/><rect x="232.9" y="107.2" width="2.5" height="2.5" fill="#5d7a84"/><rect x="245.4" y="92.7" width="2.5" height="2.5" fill="#5f7d87"/><rect x="251.3" y="89.2" width="2.5" height="2.5" fill="#617f8a"/><rect x="232.9" y="103.8" width="2.5" height="2.5" fill="#5b7882"/><rect x="244.1" y="93.8" width="2.5" height="2.5" fill="#698994"/><rect x="244.3" y="93.6" width="2.5" height="2.5" fill="#698995"/><rect x="251.8" y="89.2" width="2.5" height="2.5" fill="#62808b"/><rect x="237.3" y="99.5" width="2.5" height="2.5" fill="#688893"/><rect x="238.0" y="103.6" width="2.5" height="2.5" fill="#5b7882"/><rect x="239.7" y="102.3" width="2.5" height="2.5" fill="#688893"/><rect x="230.4" y="106.9" width="2.5" height="2.5" fill="#5a7781"/><rect x="252.0" y="89.5" width="2.5" height="2.5" fill="#65848f"/><rect x="250.5" y="92.1" width="2.5" height="2.5" fill="#678691"/><rect x="234.2" y="102.4" width="2.5" height="2.5" fill="#5c7983"/><rect x="237.6" y="99.2" width="2.5" height="2.5" fill="#5d7b85"/><rect x="237.5" y="99.3" width="2.5" height="2.5" fill="#62808a"/><rect x="235.9" y="105.1" width="2.5" height="2.5" fill="#5e7c86"/><rect x="239.5" y="97.5" width="2.5" height="2.5" fill="#5f7d87"/><rect x="250.7" y="91.8" width="2.5" height="2.5" fill="#58747e"/><rect x="233.4" y="106.8" width="2.5" height="2.5" fill="#607e88"/><rect x="241.9" y="100.4" width="2.5" height="2.5" fill="#5f7d87"/><rect x="240.6" y="101.5" width="2.5" height="2.5" fill="#607e89"/><rect x="247.4" y="91.4" width="2.5" height="2.5" fill="#617f8a"/><rect x="232.5" y="104.3" width="2.5" height="2.5" fill="#5c7984"/><rect x="247.5" y="95.2" width="2.5" height="2.5" fill="#668691"/><rect x="251.4" y="89.4" width="2.5" height="2.5" fill="#5c7983"/><rect x="244.6" y="93.5" width="2.5" height="2.5" fill="#58747e"/><rect x="231.6" y="105.3" width="2.5" height="2.5" fill="#5b7781"/><rect x="243.2" y="99.3" width="2.5" height="2.5" fill="#5f7c86"/><rect x="240.8" y="96.5" width="2.5" height="2.5" fill="#62808a"/><rect x="249.6" y="93.0" width="2.5" height="2.5" fill="#668590"/><rect x="241.8" y="95.7" width="2.5" height="2.5" fill="#668590"/><rect x="234.0" y="102.7" width="2.5" height="2.5" fill="#5e7b86"/><rect x="251.7" y="89.5" width="2.5" height="2.5" fill="#58747e"/><rect x="240.1" y="101.9" width="2.5" height="2.5" fill="#58747e"/><rect x="249.0" y="93.7" width="2.5" height="2.5" fill="#64838e"/><rect x="245.5" y="92.8" width="2.5" height="2.5" fill="#5a7780"/><rect x="230.5" y="106.9" width="2.5" height="2.5" fill="#59757f"/><rect x="244.9" y="97.7" width="2.5" height="2.5" fill="#5f7c87"/><rect x="244.8" y="93.3" width="2.5" height="2.5" fill="#58747d"/><rect x="247.5" y="91.4" width="2.5" height="2.5" fill="#64828d"/><rect x="239.1" y="97.9" width="2.5" height="2.5" fill="#617f8a"/><rect x="241.8" y="95.7" width="2.5" height="2.5" fill="#5e7b85"/><rect x="249.0" y="90.5" width="2.5" height="2.5" fill="#5a7680"/><rect x="238.8" y="102.9" width="2.5" height="2.5" fill="#5f7c86"/><rect x="244.3" y="98.3" width="2.5" height="2.5" fill="#617f8a"/><rect x="230.5" y="107.9" width="2.5" height="2.5" fill="#57737d"/><rect x="230.4" y="107.8" width="2.5" height="2.5" fill="#607d88"/><rect x="249.0" y="90.5" width="2.5" height="2.5" fill="#5f7d87"/><rect x="234.2" y="106.2" width="2.5" height="2.5" fill="#62818c"/><rect x="249.5" y="93.1" width="2.5" height="2.5" fill="#5e7b85"/><rect x="234.6" y="105.9" width="2.5" height="2.5" fill="#5a7680"/><rect x="241.4" y="96.0" width="2.5" height="2.5" fill="#5f7d88"/><rect x="243.8" y="94.1" width="2.5" height="2.5" fill="#5a7780"/><rect x="232.4" y="107.3" width="2.5" height="2.5" fill="#5d7a84"/><rect x="230.5" y="107.3" width="2.5" height="2.5" fill="#658590"/><rect x="242.8" y="94.9" width="2.5" height="2.5" fill="#546f79"/><rect x="246.5" y="92.1" width="2.5" height="2.5" fill="#607e89"/><rect x="232.0" y="105.0" width="2.5" height="2.5" fill="#5c7983"/><rect x="251.5" y="90.2" width="2.5" height="2.5" fill="#546f78"/><rect x="248.3" y="94.4" width="2.5" height="2.5" fill="#61808a"/><rect x="230.7" y="107.7" width="2.5" height="2.5" fill="#64838e"/><rect x="233.1" y="103.7" width="2.5" height="2.5" fill="#617f8a"/><rect x="231.0" y="106.3" width="2.5" height="2.5" fill="#62808b"/><rect x="235.4" y="101.4" width="2.5" height="2.5" fill="#55717a"/><rect x="238.0" y="103.5" width="2.5" height="2.5" fill="#5b7882"/><rect x="238.1" y="103.3" width="2.5" height="2.5" fill="#64828d"/><rect x="245.6" y="97.0" width="2.5" height="2.5" fill="#5f7d88"/><rect x="239.3" y="97.9" width="2.5" height="2.5" fill="#5b7882"/><rect x="248.5" y="90.9" width="2.5" height="2.5" fill="#617f8a"/><rect x="244.5" y="93.6" width="2.5" height="2.5" fill="#5f7c86"/><rect x="232.4" y="107.2" width="2.5" height="2.5" fill="#536e78"/><rect x="250.3" y="92.0" width="2.5" height="2.5" fill="#5c7983"/><rect x="232.1" y="105.0" width="2.5" height="2.5" fill="#607e88"/><rect x="239.7" y="97.5" width="2.5" height="2.5" fill="#59757f"/><rect x="232.3" y="107.2" width="2.5" height="2.5" fill="#62808b"/><rect x="246.6" y="96.0" width="2.5" height="2.5" fill="#5a7781"/><rect x="232.2" y="104.9" width="2.5" height="2.5" fill="#58747e"/><rect x="233.0" y="103.9" width="2.5" height="2.5" fill="#62808b"/><rect x="230.8" y="106.8" width="2.5" height="2.5" fill="#597680"/><rect x="239.1" y="102.5" width="2.5" height="2.5" fill="#5e7b85"/><rect x="234.5" y="105.9" width="2.5" height="2.5" fill="#56717b"/><rect x="234.1" y="106.2" width="2.5" height="2.5" fill="#58747e"/><rect x="232.9" y="104.0" width="2.5" height="2.5" fill="#536d76"/><rect x="249.4" y="90.4" width="2.5" height="2.5" fill="#58747e"/><rect x="251.1" y="90.7" width="2.5" height="2.5" fill="#607e88"/><rect x="230.7" y="107.3" width="2.5" height="2.5" fill="#607e88"/><rect x="244.2" y="98.2" width="2.5" height="2.5" fill="#56727b"/><rect x="245.2" y="93.1" width="2.5" height="2.5" fill="#546f79"/><rect x="233.2" y="103.7" width="2.5" height="2.5" fill="#62808b"/><rect x="243.2" y="94.7" width="2.5" height="2.5" fill="#5b7882"/><rect x="251.2" y="90.0" width="2.5" height="2.5" fill="#5e7b86"/><rect x="238.6" y="98.5" width="2.5" height="2.5" fill="#5a7781"/><rect x="238.2" y="98.8" width="2.5" height="2.5" fill="#536d77"/><rect x="238.1" y="99.0" width="2.5" height="2.5" fill="#59757e"/><rect x="248.6" y="93.9" width="2.5" height="2.5" fill="#55707a"/><rect x="242.5" y="99.7" width="2.5" height="2.5" fill="#557079"/><rect x="248.5" y="94.0" width="2.5" height="2.5" fill="#5e7b85"/><rect x="250.3" y="90.1" width="2.5" height="2.5" fill="#57737d"/><rect x="245.7" y="92.8" width="2.5" height="2.5" fill="#5c7882"/><rect x="244.5" y="97.9" width="2.5" height="2.5" fill="#5a7680"/><rect x="232.6" y="107.0" width="2.5" height="2.5" fill="#59757e"/><rect x="236.0" y="100.9" width="2.5" height="2.5" fill="#56717b"/><rect x="232.4" y="104.7" width="2.5" height="2.5" fill="#5f7d87"/><rect x="246.2" y="96.4" width="2.5" height="2.5" fill="#526d76"/><rect x="250.8" y="90.1" width="2.5" height="2.5" fill="#5f7d87"/><rect x="231.8" y="107.3" width="2.5" height="2.5" fill="#5c7983"/><rect x="231.0" y="107.3" width="2.5" height="2.5" fill="#526c75"/><rect x="233.6" y="103.3" width="2.5" height="2.5" fill="#4f6871"/><rect x="231.0" y="107.3" width="2.5" height="2.5" fill="#5b7781"/><rect x="235.2" y="101.7" width="2.5" height="2.5" fill="#4f6972"/><rect x="232.9" y="106.7" width="2.5" height="2.5" fill="#617f89"/><rect x="237.6" y="103.7" width="2.5" height="2.5" fill="#4f6971"/><rect x="250.6" y="91.3" width="2.5" height="2.5" fill="#5d7b85"/><rect x="250.4" y="90.2" width="2.5" height="2.5" fill="#607e89"/><rect x="247.5" y="91.6" width="2.5" height="2.5" fill="#526d76"/><rect x="248.2" y="94.3" width="2.5" height="2.5" fill="#5e7b86"/><rect x="243.6" y="98.7" width="2.5" height="2.5" fill="#526d76"/><rect x="231.8" y="105.6" width="2.5" height="2.5" fill="#617f89"/><rect x="231.8" y="105.6" width="2.5" height="2.5" fill="#5e7c86"/><rect x="250.7" y="90.2" width="2.5" height="2.5" fill="#5a7680"/><rect x="232.1" y="105.1" width="2.5" height="2.5" fill="#5f7d87"/><rect x="240.1" y="97.3" width="2.5" height="2.5" fill="#57737d"/><rect x="243.0" y="99.3" width="2.5" height="2.5" fill="#5a7680"/><rect x="245.8" y="92.8" width="2.5" height="2.5" fill="#526d76"/><rect x="236.7" y="100.4" width="2.5" height="2.5" fill="#57727c"/><rect x="248.2" y="94.2" width="2.5" height="2.5" fill="#4d676f"/><rect x="238.8" y="98.4" width="2.5" height="2.5" fill="#506a72"/><rect x="235.2" y="105.3" width="2.5" height="2.5" fill="#5d7a84"/><rect x="239.2" y="102.4" width="2.5" height="2.5" fill="#4e6870"/><rect x="243.4" y="94.6" width="2.5" height="2.5" fill="#4e6871"/><rect x="250.7" y="90.3" width="2.5" height="2.5" fill="#557079"/><rect x="231.9" y="105.5" width="2.5" height="2.5" fill="#56717a"/><rect x="248.7" y="93.7" width="2.5" height="2.5" fill="#5c7a84"/><rect x="244.7" y="93.6" width="2.5" height="2.5" fill="#597680"/><rect x="231.4" y="107.1" width="2.5" height="2.5" fill="#5b7882"/><rect x="250.5" y="91.3" width="2.5" height="2.5" fill="#5c7983"/><rect x="249.8" y="92.4" width="2.5" height="2.5" fill="#546e78"/><rect x="236.1" y="100.9" width="2.5" height="2.5" fill="#59767f"/><rect x="245.0" y="97.4" width="2.5" height="2.5" fill="#506b74"/><rect x="250.4" y="91.6" width="2.5" height="2.5" fill="#546f79"/><rect x="237.0" y="104.0" width="2.5" height="2.5" fill="#4f6972"/><rect x="243.0" y="99.2" width="2.5" height="2.5" fill="#5e7b85"/><rect x="244.4" y="97.9" width="2.5" height="2.5" fill="#4e6871"/><rect x="245.8" y="92.9" width="2.5" height="2.5" fill="#55707a"/><rect x="246.5" y="92.4" width="2.5" height="2.5" fill="#526d76"/><rect x="250.5" y="90.4" width="2.5" height="2.5" fill="#5a7781"/><rect x="240.9" y="96.7" width="2.5" height="2.5" fill="#516b74"/><rect x="232.3" y="105.0" width="2.5" height="2.5" fill="#57727c"/><rect x="239.1" y="102.4" width="2.5" height="2.5" fill="#506a73"/><rect x="244.4" y="93.9" width="2.5" height="2.5" fill="#536e77"/><rect x="250.3" y="90.5" width="2.5" height="2.5" fill="#5c7983"/><rect x="244.5" y="97.9" width="2.5" height="2.5" fill="#58757e"/><rect x="250.5" y="91.0" width="2.5" height="2.5" fill="#4f6972"/><rect x="232.8" y="104.4" width="2.5" height="2.5" fill="#5e7c86"/><rect x="233.2" y="106.4" width="2.5" height="2.5" fill="#526c75"/><rect x="231.5" y="106.9" width="2.5" height="2.5" fill="#536e77"/><rect x="244.3" y="94.0" width="2.5" height="2.5" fill="#506a72"/><rect x="240.2" y="101.5" width="2.5" height="2.5" fill="#57737d"/><rect x="250.4" y="90.5" width="2.5" height="2.5" fill="#547079"/><rect x="237.7" y="103.4" width="2.5" height="2.5" fill="#546f78"/><rect x="233.8" y="103.3" width="2.5" height="2.5" fill="#4e6871"/><rect x="235.4" y="101.6" width="2.5" height="2.5" fill="#5c7983"/><rect x="243.0" y="95.0" width="2.5" height="2.5" fill="#536e77"/><rect x="238.1" y="103.1" width="2.5" height="2.5" fill="#58747e"/><rect x="238.0" y="99.2" width="2.5" height="2.5" fill="#516c75"/><rect x="235.0" y="102.1" width="2.5" height="2.5" fill="#58747d"/><rect x="232.8" y="104.4" width="2.5" height="2.5" fill="#59757f"/><rect x="232.4" y="105.0" width="2.5" height="2.5" fill="#58747e"/><rect x="248.3" y="94.0" width="2.5" height="2.5" fill="#4a636b"/><rect x="234.2" y="105.8" width="2.5" height="2.5" fill="#55717a"/><rect x="248.4" y="91.3" width="2.5" height="2.5" fill="#4a636c"/><rect x="249.0" y="93.1" width="2.5" height="2.5" fill="#4d6770"/><rect x="231.6" y="106.5" width="2.5" height="2.5" fill="#57737c"/><rect x="232.4" y="106.7" width="2.5" height="2.5" fill="#516b74"/><rect x="241.3" y="100.6" width="2.5" height="2.5" fill="#5c7a84"/><rect x="245.2" y="93.4" width="2.5" height="2.5" fill="#49626a"/><rect x="237.5" y="99.7" width="2.5" height="2.5" fill="#4f6972"/><rect x="247.0" y="92.1" width="2.5" height="2.5" fill="#5a7781"/><rect x="245.7" y="96.7" width="2.5" height="2.5" fill="#526c75"/><rect x="235.8" y="101.3" width="2.5" height="2.5" fill="#526d76"/><rect x="248.8" y="91.1" width="2.5" height="2.5" fill="#4e6871"/><rect x="249.6" y="90.8" width="2.5" height="2.5" fill="#56727b"/><rect x="233.1" y="104.2" width="2.5" height="2.5" fill="#49626a"/><rect x="231.7" y="106.5" width="2.5" height="2.5" fill="#4f6972"/><rect x="248.6" y="91.2" width="2.5" height="2.5" fill="#5a7781"/><rect x="245.9" y="96.4" width="2.5" height="2.5" fill="#4a636c"/><rect x="248.4" y="93.8" width="2.5" height="2.5" fill="#49616a"/><rect x="249.1" y="91.0" width="2.5" height="2.5" fill="#55707a"/><rect x="245.2" y="93.4" width="2.5" height="2.5" fill="#4c656e"/><rect x="248.5" y="91.3" width="2.5" height="2.5" fill="#496169"/><rect x="247.8" y="91.7" width="2.5" height="2.5" fill="#486169"/><rect x="236.0" y="104.6" width="2.5" height="2.5" fill="#5a7680"/><rect x="239.3" y="98.1" width="2.5" height="2.5" fill="#49626a"/><rect x="246.8" y="95.5" width="2.5" height="2.5" fill="#56717b"/><rect x="243.1" y="99.0" width="2.5" height="2.5" fill="#4a626b"/><rect x="249.6" y="92.3" width="2.5" height="2.5" fill="#4c656e"/><rect x="238.4" y="99.0" width="2.5" height="2.5" fill="#516b74"/><rect x="236.7" y="104.1" width="2.5" height="2.5" fill="#475f68"/><rect x="244.0" y="94.3" width="2.5" height="2.5" fill="#49626a"/><rect x="245.9" y="92.9" width="2.5" height="2.5" fill="#455d65"/><rect x="239.8" y="97.7" width="2.5" height="2.5" fill="#465e66"/><rect x="245.3" y="96.9" width="2.5" height="2.5" fill="#4e6871"/><rect x="235.6" y="101.5" width="2.5" height="2.5" fill="#4b646c"/><rect x="250.0" y="91.0" width="2.5" height="2.5" fill="#4c656e"/><rect x="249.5" y="91.0" width="2.5" height="2.5" fill="#526c76"/><rect x="239.4" y="102.1" width="2.5" height="2.5" fill="#506a73"/><rect x="233.8" y="105.9" width="2.5" height="2.5" fill="#506972"/><rect x="236.7" y="100.5" width="2.5" height="2.5" fill="#56717b"/><rect x="233.3" y="104.0" width="2.5" height="2.5" fill="#557079"/><rect x="249.0" y="91.1" width="2.5" height="2.5" fill="#486068"/><rect x="247.7" y="94.5" width="2.5" height="2.5" fill="#486068"/><rect x="248.1" y="94.1" width="2.5" height="2.5" fill="#4b646d"/><rect x="238.1" y="103.1" width="2.5" height="2.5" fill="#4b646d"/><rect x="241.4" y="100.4" width="2.5" height="2.5" fill="#4f6972"/><rect x="249.2" y="92.8" width="2.5" height="2.5" fill="#4e6770"/><rect x="248.1" y="94.1" width="2.5" height="2.5" fill="#4b646d"/><rect x="243.9" y="94.4" width="2.5" height="2.5" fill="#5a7680"/><rect x="245.7" y="96.6" width="2.5" height="2.5" fill="#506a73"/><rect x="237.0" y="100.3" width="2.5" height="2.5" fill="#445b63"/><rect x="244.5" y="97.7" width="2.5" height="2.5" fill="#55707a"/><rect x="234.3" y="102.9" width="2.5" height="2.5" fill="#4f6972"/><rect x="245.5" y="96.7" width="2.5" height="2.5" fill="#58737d"/><rect x="247.3" y="92.1" width="2.5" height="2.5" fill="#546e78"/><rect x="243.6" y="94.7" width="2.5" height="2.5" fill="#475f67"/><rect x="240.3" y="101.3" width="2.5" height="2.5" fill="#58747e"/><rect x="240.6" y="101.0" width="2.5" height="2.5" fill="#475f68"/><rect x="249.8" y="91.6" width="2.5" height="2.5" fill="#475f67"/><rect x="244.6" y="93.9" width="2.5" height="2.5" fill="#455d65"/><rect x="249.8" y="91.3" width="2.5" height="2.5" fill="#536e77"/><rect x="249.7" y="91.2" width="2.5" height="2.5" fill="#445b63"/><rect x="249.4" y="92.4" width="2.5" height="2.5" fill="#506a73"/><rect x="240.1" y="101.5" width="2.5" height="2.5" fill="#4e6871"/><rect x="233.6" y="103.8" width="2.5" height="2.5" fill="#435a62"/><rect x="245.5" y="93.3" width="2.5" height="2.5" fill="#4c656e"/><rect x="242.7" y="95.4" width="2.5" height="2.5" fill="#49616a"/><rect x="239.5" y="98.0" width="2.5" height="2.5" fill="#56717b"/><rect x="236.9" y="103.9" width="2.5" height="2.5" fill="#58747e"/><rect x="242.0" y="96.0" width="2.5" height="2.5" fill="#526d76"/><rect x="237.9" y="99.4" width="2.5" height="2.5" fill="#56717b"/><rect x="232.5" y="106.2" width="2.5" height="2.5" fill="#455d65"/><rect x="241.5" y="96.3" width="2.5" height="2.5" fill="#526d76"/><rect x="234.2" y="103.1" width="2.5" height="2.5" fill="#425961"/><rect x="232.6" y="105.3" width="2.5" height="2.5" fill="#496169"/><rect x="249.0" y="92.8" width="2.5" height="2.5" fill="#536e77"/><rect x="239.8" y="101.6" width="2.5" height="2.5" fill="#475f68"/><rect x="237.0" y="103.8" width="2.5" height="2.5" fill="#506a73"/><rect x="247.7" y="94.3" width="2.5" height="2.5" fill="#4b656d"/><rect x="247.6" y="94.5" width="2.5" height="2.5" fill="#56717b"/><rect x="248.9" y="91.4" width="2.5" height="2.5" fill="#445c64"/><rect x="249.6" y="91.8" width="2.5" height="2.5" fill="#455d65"/><rect x="237.2" y="103.6" width="2.5" height="2.5" fill="#4a636b"/><rect x="238.5" y="102.6" width="2.5" height="2.5" fill="#475f68"/><rect x="246.6" y="95.6" width="2.5" height="2.5" fill="#4f6972"/><rect x="248.6" y="93.3" width="2.5" height="2.5" fill="#546f79"/><rect x="232.4" y="106.0" width="2.5" height="2.5" fill="#506a73"/><rect x="234.7" y="105.3" width="2.5" height="2.5" fill="#465e66"/><rect x="238.3" y="99.1" width="2.5" height="2.5" fill="#4a636b"/><rect x="248.2" y="93.8" width="2.5" height="2.5" fill="#546f78"/><rect x="241.8" y="96.2" width="2.5" height="2.5" fill="#516c75"/><rect x="233.8" y="105.7" width="2.5" height="2.5" fill="#4b646d"/><rect x="243.2" y="98.7" width="2.5" height="2.5" fill="#56717b"/><rect x="237.5" y="99.9" width="2.5" height="2.5" fill="#55707a"/><rect x="242.4" y="99.5" width="2.5" height="2.5" fill="#4b646d"/><rect x="248.4" y="93.4" width="2.5" height="2.5" fill="#536d77"/><rect x="245.6" y="93.3" width="2.5" height="2.5" fill="#41575f"/><rect x="247.6" y="92.1" width="2.5" height="2.5" fill="#536d77"/><rect x="247.4" y="92.2" width="2.5" height="2.5" fill="#445b63"/><rect x="249.3" y="91.6" width="2.5" height="2.5" fill="#435a62"/><rect x="237.2" y="103.5" width="2.5" height="2.5" fill="#4e6871"/><rect x="246.9" y="95.1" width="2.5" height="2.5" fill="#49616a"/><rect x="237.1" y="100.3" width="2.5" height="2.5" fill="#3e545c"/><rect x="239.2" y="98.4" width="2.5" height="2.5" fill="#475f67"/><rect x="244.0" y="98.0" width="2.5" height="2.5" fill="#4c656e"/><rect x="246.9" y="95.1" width="2.5" height="2.5" fill="#3e545b"/><rect x="246.4" y="95.6" width="2.5" height="2.5" fill="#4f6971"/><rect x="242.1" y="95.9" width="2.5" height="2.5" fill="#3e545b"/><rect x="244.0" y="94.5" width="2.5" height="2.5" fill="#4d6770"/><rect x="235.7" y="101.7" width="2.5" height="2.5" fill="#4b646c"/><rect x="248.5" y="93.2" width="2.5" height="2.5" fill="#4d676f"/><rect x="241.4" y="96.6" width="2.5" height="2.5" fill="#455d65"/><rect x="233.7" y="103.9" width="2.5" height="2.5" fill="#40565d"/><rect x="241.7" y="96.3" width="2.5" height="2.5" fill="#445c63"/><rect x="233.0" y="105.0" width="2.5" height="2.5" fill="#506a73"/><rect x="243.1" y="95.2" width="2.5" height="2.5" fill="#3d535a"/><rect x="233.9" y="105.6" width="2.5" height="2.5" fill="#435a62"/><rect x="248.6" y="93.0" width="2.5" height="2.5" fill="#486169"/><rect x="247.8" y="94.1" width="2.5" height="2.5" fill="#40575e"/><rect x="240.8" y="97.1" width="2.5" height="2.5" fill="#526c76"/><rect x="232.8" y="105.7" width="2.5" height="2.5" fill="#465e66"/><rect x="238.3" y="102.7" width="2.5" height="2.5" fill="#425860"/><rect x="234.3" y="105.3" width="2.5" height="2.5" fill="#425860"/><rect x="233.5" y="104.2" width="2.5" height="2.5" fill="#445b63"/><rect x="233.0" y="105.7" width="2.5" height="2.5" fill="#536d76"/><rect x="243.5" y="98.3" width="2.5" height="2.5" fill="#496169"/><rect x="245.7" y="93.4" width="2.5" height="2.5" fill="#4d676f"/><rect x="244.1" y="94.5" width="2.5" height="2.5" fill="#455d65"/><rect x="245.9" y="96.1" width="2.5" height="2.5" fill="#4a636b"/><rect x="243.9" y="94.6" width="2.5" height="2.5" fill="#496169"/><rect x="241.3" y="100.2" width="2.5" height="2.5" fill="#475e66"/><rect x="239.3" y="98.4" width="2.5" height="2.5" fill="#455d65"/><rect x="234.8" y="105.0" width="2.5" height="2.5" fill="#3e545b"/><rect x="238.1" y="99.5" width="2.5" height="2.5" fill="#4c666e"/><rect x="243.6" y="94.8" width="2.5" height="2.5" fill="#4c656e"/><rect x="234.7" y="105.1" width="2.5" height="2.5" fill="#4e6871"/><rect x="244.0" y="94.6" width="2.5" height="2.5" fill="#506a73"/><rect x="240.3" y="101.1" width="2.5" height="2.5" fill="#3e545b"/><rect x="248.1" y="93.6" width="2.5" height="2.5" fill="#3c5259"/><rect x="234.5" y="103.1" width="2.5" height="2.5" fill="#506972"/><rect x="243.2" y="98.6" width="2.5" height="2.5" fill="#4a626b"/><rect x="248.9" y="92.4" width="2.5" height="2.5" fill="#3d5259"/><rect x="247.0" y="94.9" width="2.5" height="2.5" fill="#3d535a"/><rect x="236.9" y="100.6" width="2.5" height="2.5" fill="#3b5056"/><rect x="246.9" y="95.0" width="2.5" height="2.5" fill="#3a4f56"/><rect x="233.1" y="105.2" width="2.5" height="2.5" fill="#4b646c"/><rect x="247.7" y="92.2" width="2.5" height="2.5" fill="#516b74"/><rect x="233.2" y="105.1" width="2.5" height="2.5" fill="#4c656e"/><rect x="246.9" y="95.0" width="2.5" height="2.5" fill="#465d65"/><rect x="243.3" y="95.1" width="2.5" height="2.5" fill="#526c75"/><rect x="233.1" y="105.3" width="2.5" height="2.5" fill="#4c656d"/><rect x="238.1" y="99.5" width="2.5" height="2.5" fill="#465e66"/><rect x="234.2" y="103.5" width="2.5" height="2.5" fill="#41575f"/><rect x="233.2" y="105.1" width="2.5" height="2.5" fill="#4e6770"/><rect x="240.2" y="101.1" width="2.5" height="2.5" fill="#4e6871"/><rect x="242.7" y="99.0" width="2.5" height="2.5" fill="#49626a"/><rect x="246.3" y="95.5" width="2.5" height="2.5" fill="#4f6972"/><rect x="233.3" y="105.4" width="2.5" height="2.5" fill="#4e6871"/><rect x="240.1" y="97.8" width="2.5" height="2.5" fill="#4f6871"/><rect x="243.1" y="98.7" width="2.5" height="2.5" fill="#3d535a"/><rect x="233.3" y="105.2" width="2.5" height="2.5" fill="#3b5158"/><rect x="234.3" y="105.2" width="2.5" height="2.5" fill="#506a73"/><rect x="233.4" y="105.3" width="2.5" height="2.5" fill="#3d535a"/><rect x="247.3" y="92.5" width="2.5" height="2.5" fill="#3c5259"/><rect x="248.7" y="92.3" width="2.5" height="2.5" fill="#41575f"/><rect x="248.6" y="92.2" width="2.5" height="2.5" fill="#49626a"/><rect x="234.8" y="104.9" width="2.5" height="2.5" fill="#3d5259"/><rect x="243.9" y="94.7" width="2.5" height="2.5" fill="#4f6971"/><rect x="244.5" y="97.3" width="2.5" height="2.5" fill="#4f6972"/><rect x="238.3" y="99.4" width="2.5" height="2.5" fill="#394d54"/><rect x="233.5" y="105.2" width="2.5" height="2.5" fill="#4b646c"/><rect x="238.5" y="99.2" width="2.5" height="2.5" fill="#394e55"/><rect x="246.6" y="95.2" width="2.5" height="2.5" fill="#3d535a"/><rect x="242.6" y="99.1" width="2.5" height="2.5" fill="#4f6971"/><rect x="233.6" y="105.2" width="2.5" height="2.5" fill="#4d6770"/><rect x="241.2" y="100.2" width="2.5" height="2.5" fill="#40565d"/><rect x="243.1" y="95.4" width="2.5" height="2.5" fill="#4c656e"/><rect x="233.5" y="104.8" width="2.5" height="2.5" fill="#3f555c"/><rect x="248.5" y="92.4" width="2.5" height="2.5" fill="#3f555c"/><rect x="241.7" y="96.5" width="2.5" height="2.5" fill="#4a626b"/><rect x="240.9" y="97.1" width="2.5" height="2.5" fill="#435a62"/><rect x="247.3" y="92.6" width="2.5" height="2.5" fill="#4a626b"/><rect x="234.2" y="105.0" width="2.5" height="2.5" fill="#394d54"/><rect x="246.3" y="93.2" width="2.5" height="2.5" fill="#3f545c"/><rect x="233.9" y="104.2" width="2.5" height="2.5" fill="#3d525a"/><rect x="241.0" y="97.1" width="2.5" height="2.5" fill="#3f555c"/><rect x="246.0" y="95.7" width="2.5" height="2.5" fill="#4d666f"/><rect x="245.4" y="93.8" width="2.5" height="2.5" fill="#384c53"/><rect x="248.2" y="92.5" width="2.5" height="2.5" fill="#3a4f56"/><rect x="245.6" y="96.1" width="2.5" height="2.5" fill="#41585f"/><rect x="235.7" y="104.2" width="2.5" height="2.5" fill="#3f555c"/><rect x="233.8" y="104.5" width="2.5" height="2.5" fill="#41585f"/><rect x="239.0" y="101.9" width="2.5" height="2.5" fill="#3a4f56"/><rect x="240.6" y="100.7" width="2.5" height="2.5" fill="#40565e"/><rect x="248.2" y="92.8" width="2.5" height="2.5" fill="#475e66"/><rect x="247.7" y="93.8" width="2.5" height="2.5" fill="#40575e"/><rect x="245.6" y="93.7" width="2.5" height="2.5" fill="#486069"/><rect x="245.3" y="93.9" width="2.5" height="2.5" fill="#4d6770"/><rect x="241.0" y="100.4" width="2.5" height="2.5" fill="#40565e"/><rect x="242.7" y="95.8" width="2.5" height="2.5" fill="#374b52"/><rect x="235.7" y="102.0" width="2.5" height="2.5" fill="#3b5057"/><rect x="240.9" y="97.2" width="2.5" height="2.5" fill="#486068"/><rect x="240.6" y="100.7" width="2.5" height="2.5" fill="#40565e"/><rect x="248.1" y="93.0" width="2.5" height="2.5" fill="#3e545b"/><rect x="243.1" y="95.5" width="2.5" height="2.5" fill="#3e545b"/><rect x="237.0" y="100.7" width="2.5" height="2.5" fill="#41585f"/><rect x="240.3" y="100.9" width="2.5" height="2.5" fill="#40565d"/><rect x="235.4" y="102.4" width="2.5" height="2.5" fill="#3b5057"/><rect x="240.0" y="101.1" width="2.5" height="2.5" fill="#354950"/><rect x="242.7" y="95.8" width="2.5" height="2.5" fill="#3f555c"/><rect x="241.2" y="97.0" width="2.5" height="2.5" fill="#384c53"/><rect x="241.7" y="96.6" width="2.5" height="2.5" fill="#3b5057"/><rect x="237.6" y="100.2" width="2.5" height="2.5" fill="#49626a"/><rect x="245.1" y="96.6" width="2.5" height="2.5" fill="#465d65"/><rect x="247.5" y="93.8" width="2.5" height="2.5" fill="#445b63"/><rect x="238.9" y="102.0" width="2.5" height="2.5" fill="#435a61"/><rect x="246.9" y="93.0" width="2.5" height="2.5" fill="#3f555d"/><rect x="237.8" y="100.0" width="2.5" height="2.5" fill="#445c63"/><rect x="246.0" y="95.6" width="2.5" height="2.5" fill="#31444a"/><rect x="243.1" y="98.4" width="2.5" height="2.5" fill="#384c53"/><rect x="245.4" y="93.9" width="2.5" height="2.5" fill="#425860"/><rect x="245.8" y="93.6" width="2.5" height="2.5" fill="#394d54"/><rect x="245.9" y="95.8" width="2.5" height="2.5" fill="#33464c"/><rect x="235.9" y="101.9" width="2.5" height="2.5" fill="#475f67"/><rect x="236.7" y="101.1" width="2.5" height="2.5" fill="#3b4f56"/><rect x="247.4" y="93.9" width="2.5" height="2.5" fill="#31444a"/><rect x="247.0" y="94.4" width="2.5" height="2.5" fill="#41575f"/><rect x="235.0" y="103.0" width="2.5" height="2.5" fill="#33464d"/><rect x="239.1" y="101.8" width="2.5" height="2.5" fill="#35494f"/><rect x="245.0" y="96.6" width="2.5" height="2.5" fill="#425960"/><rect x="236.8" y="101.0" width="2.5" height="2.5" fill="#475f67"/><rect x="239.9" y="98.2" width="2.5" height="2.5" fill="#35484f"/><rect x="239.0" y="99.0" width="2.5" height="2.5" fill="#3f555d"/><rect x="240.5" y="100.7" width="2.5" height="2.5" fill="#41575f"/><rect x="236.4" y="101.5" width="2.5" height="2.5" fill="#3e535a"/><rect x="236.7" y="103.4" width="2.5" height="2.5" fill="#364a50"/><rect x="239.2" y="101.6" width="2.5" height="2.5" fill="#31444a"/><rect x="246.9" y="93.2" width="2.5" height="2.5" fill="#314349"/><rect x="247.3" y="93.1" width="2.5" height="2.5" fill="#35484f"/><rect x="242.5" y="96.1" width="2.5" height="2.5" fill="#455c64"/><rect x="244.0" y="95.0" width="2.5" height="2.5" fill="#3f555d"/><rect x="247.1" y="93.2" width="2.5" height="2.5" fill="#49626a"/><rect x="245.3" y="94.1" width="2.5" height="2.5" fill="#445b62"/><rect x="244.4" y="97.1" width="2.5" height="2.5" fill="#40565d"/><rect x="247.4" y="93.3" width="2.5" height="2.5" fill="#445b63"/><rect x="241.8" y="99.5" width="2.5" height="2.5" fill="#3c5158"/><rect x="242.9" y="98.5" width="2.5" height="2.5" fill="#455c64"/><rect x="243.8" y="97.6" width="2.5" height="2.5" fill="#364a51"/><rect x="235.4" y="104.0" width="2.5" height="2.5" fill="#3d535a"/><rect x="240.8" y="97.5" width="2.5" height="2.5" fill="#415860"/><rect x="242.7" y="95.9" width="2.5" height="2.5" fill="#35494f"/><rect x="244.0" y="97.5" width="2.5" height="2.5" fill="#3f555d"/><rect x="235.7" y="103.9" width="2.5" height="2.5" fill="#486068"/><rect x="246.6" y="93.4" width="2.5" height="2.5" fill="#314349"/><rect x="247.1" y="94.0" width="2.5" height="2.5" fill="#33464d"/><rect x="241.7" y="96.7" width="2.5" height="2.5" fill="#304248"/><rect x="240.5" y="100.5" width="2.5" height="2.5" fill="#40565d"/><rect x="234.8" y="103.6" width="2.5" height="2.5" fill="#40575e"/><rect x="247.1" y="93.8" width="2.5" height="2.5" fill="#34474e"/><rect x="242.6" y="98.7" width="2.5" height="2.5" fill="#435a62"/><rect x="236.1" y="103.6" width="2.5" height="2.5" fill="#2c3e43"/><rect x="235.0" y="104.0" width="2.5" height="2.5" fill="#35484f"/><rect x="240.8" y="100.3" width="2.5" height="2.5" fill="#374c52"/><rect x="239.5" y="101.3" width="2.5" height="2.5" fill="#455d65"/><rect x="241.8" y="96.7" width="2.5" height="2.5" fill="#3f555c"/><rect x="236.7" y="101.4" width="2.5" height="2.5" fill="#3a4f56"/><rect x="236.7" y="103.2" width="2.5" height="2.5" fill="#2b3c41"/><rect x="244.0" y="97.4" width="2.5" height="2.5" fill="#425961"/><rect x="239.8" y="101.0" width="2.5" height="2.5" fill="#364950"/><rect x="235.5" y="102.7" width="2.5" height="2.5" fill="#445b63"/><rect x="240.6" y="100.4" width="2.5" height="2.5" fill="#2b3c41"/><rect x="245.3" y="96.1" width="2.5" height="2.5" fill="#31444a"/><rect x="239.5" y="98.7" width="2.5" height="2.5" fill="#2f4147"/><rect x="240.4" y="97.9" width="2.5" height="2.5" fill="#314349"/><rect x="245.8" y="95.5" width="2.5" height="2.5" fill="#41575f"/><rect x="246.3" y="93.8" width="2.5" height="2.5" fill="#3f555c"/><rect x="246.4" y="94.7" width="2.5" height="2.5" fill="#455c64"/><rect x="246.7" y="93.7" width="2.5" height="2.5" fill="#364a50"/><rect x="243.4" y="97.9" width="2.5" height="2.5" fill="#435a62"/><rect x="239.0" y="101.6" width="2.5" height="2.5" fill="#40565e"/><rect x="235.7" y="103.7" width="2.5" height="2.5" fill="#40575e"/><rect x="246.5" y="93.7" width="2.5" height="2.5" fill="#2b3c42"/><rect x="239.6" y="98.7" width="2.5" height="2.5" fill="#2e4046"/><rect x="241.7" y="99.4" width="2.5" height="2.5" fill="#3d5259"/><rect x="239.9" y="98.3" width="2.5" height="2.5" fill="#293a3f"/><rect x="236.5" y="101.7" width="2.5" height="2.5" fill="#40575e"/><rect x="242.9" y="95.9" width="2.5" height="2.5" fill="#41575f"/><rect x="237.4" y="102.7" width="2.5" height="2.5" fill="#3a4f55"/><rect x="239.8" y="101.0" width="2.5" height="2.5" fill="#2d3f45"/><rect x="243.0" y="95.9" width="2.5" height="2.5" fill="#425860"/><rect x="240.1" y="100.7" width="2.5" height="2.5" fill="#2e4045"/><rect x="237.2" y="100.9" width="2.5" height="2.5" fill="#35484f"/><rect x="235.4" y="103.5" width="2.5" height="2.5" fill="#2d3f45"/><rect x="240.1" y="100.7" width="2.5" height="2.5" fill="#3a4f56"/><rect x="236.0" y="102.3" width="2.5" height="2.5" fill="#435a62"/><rect x="244.5" y="94.8" width="2.5" height="2.5" fill="#41575f"/><rect x="235.7" y="103.5" width="2.5" height="2.5" fill="#2f4147"/><rect x="244.3" y="95.0" width="2.5" height="2.5" fill="#35484f"/><rect x="241.6" y="99.5" width="2.5" height="2.5" fill="#2d3f45"/><rect x="237.1" y="101.1" width="2.5" height="2.5" fill="#3e545b"/><rect x="246.4" y="94.4" width="2.5" height="2.5" fill="#3b5158"/><rect x="237.3" y="102.7" width="2.5" height="2.5" fill="#3d535a"/><rect x="242.2" y="96.6" width="2.5" height="2.5" fill="#2a3b40"/><rect x="242.3" y="98.8" width="2.5" height="2.5" fill="#2e4046"/><rect x="235.8" y="102.8" width="2.5" height="2.5" fill="#3e545c"/><rect x="235.7" y="103.3" width="2.5" height="2.5" fill="#2e4045"/><rect x="239.1" y="99.2" width="2.5" height="2.5" fill="#425960"/><rect x="237.0" y="102.8" width="2.5" height="2.5" fill="#35494f"/><rect x="246.2" y="94.7" width="2.5" height="2.5" fill="#3b5158"/><rect x="244.2" y="97.0" width="2.5" height="2.5" fill="#2c3e44"/><rect x="244.2" y="97.0" width="2.5" height="2.5" fill="#2e4046"/><rect x="238.1" y="100.2" width="2.5" height="2.5" fill="#2f4147"/><rect x="235.7" y="103.2" width="2.5" height="2.5" fill="#3d535a"/><rect x="238.6" y="101.8" width="2.5" height="2.5" fill="#425860"/><rect x="239.9" y="100.8" width="2.5" height="2.5" fill="#304349"/><rect x="246.0" y="94.9" width="2.5" height="2.5" fill="#2f4146"/><rect x="239.1" y="99.2" width="2.5" height="2.5" fill="#435a61"/><rect x="245.8" y="94.3" width="2.5" height="2.5" fill="#2a3b41"/><rect x="241.9" y="96.9" width="2.5" height="2.5" fill="#29393f"/><rect x="238.1" y="100.2" width="2.5" height="2.5" fill="#384d54"/><rect x="244.6" y="96.6" width="2.5" height="2.5" fill="#34474d"/><rect x="236.4" y="103.1" width="2.5" height="2.5" fill="#304248"/><rect x="238.9" y="99.5" width="2.5" height="2.5" fill="#28383d"/><rect x="241.9" y="96.8" width="2.5" height="2.5" fill="#304248"/><rect x="245.4" y="95.6" width="2.5" height="2.5" fill="#34474e"/><rect x="246.0" y="94.7" width="2.5" height="2.5" fill="#2c3e44"/><rect x="246.0" y="94.7" width="2.5" height="2.5" fill="#35484f"/><rect x="245.9" y="94.9" width="2.5" height="2.5" fill="#425960"/><rect x="242.0" y="99.0" width="2.5" height="2.5" fill="#33464c"/><rect x="236.1" y="102.9" width="2.5" height="2.5" fill="#374b52"/><rect x="244.7" y="94.9" width="2.5" height="2.5" fill="#394e55"/><rect x="245.9" y="94.6" width="2.5" height="2.5" fill="#374c52"/><rect x="237.1" y="101.3" width="2.5" height="2.5" fill="#3c5259"/><rect x="236.8" y="101.7" width="2.5" height="2.5" fill="#3a4f56"/><rect x="242.9" y="96.1" width="2.5" height="2.5" fill="#2d3f44"/><rect x="245.7" y="94.5" width="2.5" height="2.5" fill="#293a3f"/><rect x="241.2" y="99.7" width="2.5" height="2.5" fill="#364950"/><rect x="236.9" y="102.7" width="2.5" height="2.5" fill="#2a3b41"/><rect x="237.1" y="101.4" width="2.5" height="2.5" fill="#3f555d"/><rect x="245.4" y="95.5" width="2.5" height="2.5" fill="#34474e"/><rect x="241.3" y="99.5" width="2.5" height="2.5" fill="#2d3f45"/><rect x="236.4" y="102.3" width="2.5" height="2.5" fill="#2c3d43"/><rect x="245.3" y="94.7" width="2.5" height="2.5" fill="#384c53"/><rect x="236.2" y="102.7" width="2.5" height="2.5" fill="#3e545b"/><rect x="236.2" y="102.6" width="2.5" height="2.5" fill="#27373c"/><rect x="240.3" y="98.2" width="2.5" height="2.5" fill="#31444a"/><rect x="237.1" y="101.4" width="2.5" height="2.5" fill="#304248"/><rect x="237.4" y="102.4" width="2.5" height="2.5" fill="#394d54"/><rect x="240.6" y="100.1" width="2.5" height="2.5" fill="#40565d"/><rect x="245.6" y="95.0" width="2.5" height="2.5" fill="#32454b"/><rect x="236.4" y="102.5" width="2.5" height="2.5" fill="#374b52"/><rect x="237.0" y="102.5" width="2.5" height="2.5" fill="#293a3f"/><rect x="243.4" y="97.5" width="2.5" height="2.5" fill="#2f4248"/><rect x="237.1" y="101.5" width="2.5" height="2.5" fill="#2d3e44"/><rect x="242.3" y="98.6" width="2.5" height="2.5" fill="#32454b"/><rect x="245.2" y="94.9" width="2.5" height="2.5" fill="#2d3f44"/><rect x="236.9" y="102.5" width="2.5" height="2.5" fill="#3f555c"/><rect x="239.0" y="101.3" width="2.5" height="2.5" fill="#26363b"/><rect x="245.0" y="95.7" width="2.5" height="2.5" fill="#32454b"/><rect x="244.8" y="95.1" width="2.5" height="2.5" fill="#31444a"/><rect x="237.1" y="101.6" width="2.5" height="2.5" fill="#3d535a"/><rect x="241.7" y="97.2" width="2.5" height="2.5" fill="#40575e"/><rect x="236.7" y="102.3" width="2.5" height="2.5" fill="#2e4046"/><rect x="238.2" y="100.4" width="2.5" height="2.5" fill="#2e3f45"/><rect x="244.3" y="95.4" width="2.5" height="2.5" fill="#2f4248"/><rect x="243.8" y="95.7" width="2.5" height="2.5" fill="#3b5158"/><rect x="241.9" y="97.1" width="2.5" height="2.5" fill="#35484f"/><rect x="243.9" y="96.9" width="2.5" height="2.5" fill="#2c3e44"/><rect x="240.5" y="100.1" width="2.5" height="2.5" fill="#304349"/><rect x="242.0" y="98.8" width="2.5" height="2.5" fill="#28393e"/><rect x="242.1" y="96.9" width="2.5" height="2.5" fill="#40575e"/><rect x="239.9" y="98.8" width="2.5" height="2.5" fill="#2c3e43"/><rect x="244.9" y="95.8" width="2.5" height="2.5" fill="#435a61"/><rect x="244.2" y="96.6" width="2.5" height="2.5" fill="#314349"/><rect x="244.8" y="95.9" width="2.5" height="2.5" fill="#33474d"/><rect x="239.8" y="98.8" width="2.5" height="2.5" fill="#41575f"/><rect x="240.9" y="99.7" width="2.5" height="2.5" fill="#374b51"/><rect x="237.0" y="102.0" width="2.5" height="2.5" fill="#2f4248"/><rect x="237.4" y="101.4" width="2.5" height="2.5" fill="#293a40"/><rect x="244.3" y="95.5" width="2.5" height="2.5" fill="#41575f"/><rect x="238.4" y="101.6" width="2.5" height="2.5" fill="#34474e"/><rect x="238.6" y="101.4" width="2.5" height="2.5" fill="#2c3d43"/><rect x="238.3" y="100.3" width="2.5" height="2.5" fill="#40565d"/><rect x="238.8" y="99.8" width="2.5" height="2.5" fill="#29393f"/><rect x="237.9" y="101.8" width="2.5" height="2.5" fill="#27383d"/><rect x="243.9" y="95.8" width="2.5" height="2.5" fill="#394d54"/><rect x="240.4" y="100.0" width="2.5" height="2.5" fill="#3d525a"/><rect x="238.2" y="100.5" width="2.5" height="2.5" fill="#3f555c"/><rect x="244.7" y="95.8" width="2.5" height="2.5" fill="#3d5259"/><rect x="239.5" y="99.2" width="2.5" height="2.5" fill="#374b51"/><rect x="243.2" y="96.2" width="2.5" height="2.5" fill="#2e4046"/><rect x="244.0" y="96.7" width="2.5" height="2.5" fill="#27383d"/><rect x="244.5" y="96.0" width="2.5" height="2.5" fill="#33464c"/><rect x="238.9" y="99.7" width="2.5" height="2.5" fill="#27373c"/><rect x="244.7" y="95.7" width="2.5" height="2.5" fill="#364a51"/><rect x="244.7" y="95.7" width="2.5" height="2.5" fill="#304248"/><rect x="239.0" y="99.7" width="2.5" height="2.5" fill="#435a62"/><rect x="243.4" y="97.3" width="2.5" height="2.5" fill="#374b51"/><rect x="239.4" y="99.3" width="2.5" height="2.5" fill="#425961"/><rect x="243.8" y="95.9" width="2.5" height="2.5" fill="#3f555d"/><rect x="244.5" y="95.8" width="2.5" height="2.5" fill="#2b3c42"/><rect x="237.5" y="101.5" width="2.5" height="2.5" fill="#40565d"/><rect x="239.7" y="100.6" width="2.5" height="2.5" fill="#3a4f56"/><rect x="240.9" y="98.0" width="2.5" height="2.5" fill="#33474d"/><rect x="242.6" y="98.1" width="2.5" height="2.5" fill="#34474d"/><rect x="241.4" y="99.1" width="2.5" height="2.5" fill="#425961"/><rect x="238.0" y="101.6" width="2.5" height="2.5" fill="#40565d"/><rect x="243.6" y="96.1" width="2.5" height="2.5" fill="#2f4147"/><rect x="239.0" y="101.0" width="2.5" height="2.5" fill="#374b52"/><rect x="237.7" y="101.5" width="2.5" height="2.5" fill="#40575e"/><rect x="237.7" y="101.4" width="2.5" height="2.5" fill="#35494f"/><rect x="239.4" y="100.7" width="2.5" height="2.5" fill="#384c53"/><rect x="243.1" y="97.6" width="2.5" height="2.5" fill="#26363b"/><rect x="241.4" y="99.1" width="2.5" height="2.5" fill="#425860"/><rect x="244.0" y="96.5" width="2.5" height="2.5" fill="#3e535b"/><rect x="244.1" y="96.1" width="2.5" height="2.5" fill="#41575f"/><rect x="238.7" y="100.2" width="2.5" height="2.5" fill="#33464c"/><rect x="242.9" y="97.6" width="2.5" height="2.5" fill="#27373c"/><rect x="238.8" y="100.1" width="2.5" height="2.5" fill="#2c3e43"/><rect x="237.9" y="101.3" width="2.5" height="2.5" fill="#40565d"/><rect x="238.3" y="101.3" width="2.5" height="2.5" fill="#33464d"/><rect x="238.1" y="101.0" width="2.5" height="2.5" fill="#384d54"/><rect x="243.9" y="96.3" width="2.5" height="2.5" fill="#26363b"/><rect x="238.4" y="100.6" width="2.5" height="2.5" fill="#2e4046"/><rect x="238.2" y="101.2" width="2.5" height="2.5" fill="#31444a"/><rect x="243.0" y="96.6" width="2.5" height="2.5" fill="#3b5158"/><rect x="243.7" y="96.4" width="2.5" height="2.5" fill="#364a51"/><rect x="241.3" y="97.9" width="2.5" height="2.5" fill="#33474d"/><rect x="238.3" y="100.9" width="2.5" height="2.5" fill="#384c53"/><rect x="238.3" y="101.0" width="2.5" height="2.5" fill="#32454c"/><rect x="238.3" y="100.9" width="2.5" height="2.5" fill="#40575e"/><rect x="243.6" y="96.5" width="2.5" height="2.5" fill="#374b51"/><rect x="242.5" y="97.0" width="2.5" height="2.5" fill="#26363b"/><rect x="243.0" y="97.5" width="2.5" height="2.5" fill="#374b52"/><rect x="243.5" y="96.7" width="2.5" height="2.5" fill="#34484e"/><rect x="241.8" y="97.5" width="2.5" height="2.5" fill="#2d3e44"/><rect x="240.5" y="98.6" width="2.5" height="2.5" fill="#2b3c42"/><rect x="239.6" y="99.4" width="2.5" height="2.5" fill="#2d3f45"/><rect x="243.4" y="96.9" width="2.5" height="2.5" fill="#384c53"/><rect x="238.7" y="100.5" width="2.5" height="2.5" fill="#2e4046"/><rect x="240.3" y="99.8" width="2.5" height="2.5" fill="#3d535a"/><rect x="239.0" y="100.1" width="2.5" height="2.5" fill="#31434a"/><rect x="242.5" y="97.1" width="2.5" height="2.5" fill="#435961"/><rect x="239.6" y="99.4" width="2.5" height="2.5" fill="#3d535a"/><rect x="242.2" y="98.1" width="2.5" height="2.5" fill="#3e545b"/><rect x="239.3" y="99.8" width="2.5" height="2.5" fill="#394d54"/><rect x="242.5" y="97.1" width="2.5" height="2.5" fill="#2d3f45"/><rect x="242.5" y="97.8" width="2.5" height="2.5" fill="#425961"/><rect x="239.0" y="100.6" width="2.5" height="2.5" fill="#293a3f"/><rect x="242.7" y="97.5" width="2.5" height="2.5" fill="#40575e"/><rect x="239.2" y="100.0" width="2.5" height="2.5" fill="#27373c"/><rect x="239.4" y="99.8" width="2.5" height="2.5" fill="#27373d"/><rect x="239.8" y="99.3" width="2.5" height="2.5" fill="#31444a"/><rect x="240.8" y="99.4" width="2.5" height="2.5" fill="#2a3b41"/><rect x="239.2" y="100.0" width="2.5" height="2.5" fill="#27383d"/><rect x="239.8" y="99.4" width="2.5" height="2.5" fill="#364a50"/><rect x="239.1" y="100.2" width="2.5" height="2.5" fill="#2a3b40"/><rect x="241.9" y="97.6" width="2.5" height="2.5" fill="#425960"/><rect x="239.3" y="100.1" width="2.5" height="2.5" fill="#2c3d43"/><rect x="239.2" y="100.2" width="2.5" height="2.5" fill="#304248"/><rect x="241.8" y="97.7" width="2.5" height="2.5" fill="#2c3e43"/><rect x="239.2" y="100.3" width="2.5" height="2.5" fill="#3f555c"/><rect x="240.5" y="98.7" width="2.5" height="2.5" fill="#41575e"/><rect x="239.3" y="100.1" width="2.5" height="2.5" fill="#34474d"/><rect x="242.7" y="97.3" width="2.5" height="2.5" fill="#31444a"/><rect x="241.3" y="98.1" width="2.5" height="2.5" fill="#2f4147"/><rect x="241.5" y="98.6" width="2.5" height="2.5" fill="#3e535b"/><rect x="239.7" y="100.0" width="2.5" height="2.5" fill="#32454b"/><rect x="241.7" y="98.4" width="2.5" height="2.5" fill="#26373c"/><rect x="242.4" y="97.5" width="2.5" height="2.5" fill="#3c5158"/><rect x="240.8" y="99.2" width="2.5" height="2.5" fill="#2b3c42"/><rect x="242.0" y="97.7" width="2.5" height="2.5" fill="#27373c"/><rect x="242.4" y="97.6" width="2.5" height="2.5" fill="#2f4147"/><rect x="241.9" y="98.1" width="2.5" height="2.5" fill="#364a50"/><rect x="240.4" y="99.5" width="2.5" height="2.5" fill="#374b51"/><rect x="240.6" y="98.8" width="2.5" height="2.5" fill="#35494f"/><rect x="240.9" y="99.1" width="2.5" height="2.5" fill="#3f555d"/><rect x="241.4" y="98.2" width="2.5" height="2.5" fill="#41575f"/><rect x="241.7" y="98.3" width="2.5" height="2.5" fill="#3b5057"/><rect x="240.2" y="99.3" width="2.5" height="2.5" fill="#3e545b"/><rect x="241.6" y="98.4" width="2.5" height="2.5" fill="#28393e"/><rect x="241.7" y="98.1" width="2.5" height="2.5" fill="#384d54"/><rect x="240.4" y="99.1" width="2.5" height="2.5" fill="#293a3f"/><rect x="241.4" y="98.4" width="2.5" height="2.5" fill="#32454c"/><rect x="240.8" y="98.8" width="2.5" height="2.5" fill="#29393f"/><rect x="240.7" y="99.0" width="2.5" height="2.5" fill="#29393f"/><rect x="241.0" y="98.7" width="2.5" height="2.5" fill="#2e4046"/></g>
<g fill="#eedc98" stroke="#5e5225" stroke-width="0.35"><circle cx="219.2" cy="121.5" r="1.1"/><circle cx="217.8" cy="119.9" r="1.1"/><circle cx="223.2" cy="114.5" r="1.1"/><circle cx="218.1" cy="121.8" r="1.1"/><circle cx="218.9" cy="128.4" r="1.1"/><circle cx="224.9" cy="117.9" r="1.1"/><circle cx="218.3" cy="116.8" r="1.1"/><circle cx="220.0" cy="122.4" r="1.1"/><circle cx="220.4" cy="119.1" r="1.1"/><circle cx="219.6" cy="117.3" r="1.1"/><circle cx="222.5" cy="115.5" r="1.1"/><circle cx="221.8" cy="120.7" r="1.1"/><circle cx="220.3" cy="118.8" r="1.1"/><circle cx="215.2" cy="123.6" r="1.1"/><circle cx="216.4" cy="122.0" r="1.1"/><circle cx="215.9" cy="125.1" r="1.1"/><circle cx="219.1" cy="118.7" r="1.1"/><circle cx="216.9" cy="122.7" r="1.1"/><circle cx="216.8" cy="127.5" r="1.1"/><circle cx="214.7" cy="130.1" r="1.1"/><circle cx="222.0" cy="121.3" r="1.1"/><circle cx="218.9" cy="123.3" r="1.1"/></g>
<circle cx="249.6" cy="82.1" r="1.2" fill="#f5eaa8" stroke="#8b7a3a" stroke-width="0.3"/>
<circle cx="248.4" cy="83.3" r="1.2" fill="#f5eaa8" stroke="#8b7a3a" stroke-width="0.3"/>
<circle cx="265.6" cy="77.4" r="1.2" fill="#f5eaa8" stroke="#8b7a3a" stroke-width="0.3"/>
<circle cx="266.9" cy="76.2" r="1.2" fill="#f5eaa8" stroke="#8b7a3a" stroke-width="0.3"/>
<text x="258.20" y="109.84" font-size="4.0" style="stroke-width:0.05px">FDR</text>
<circle cx="255.6" cy="113.7" r="0.9" fill="#d4a640"/>
<circle cx="255.6" cy="118.6" r="0.9" fill="#f7f0c0" stroke="#b5a86a" stroke-width="0.2"/>
<path d="M255.6 122.8l0.9 1.7h-1.8z" fill="#b0b070"/>
<rect x="254.6" y="128" width="2" height="2" fill="#9fc6d6" stroke="#456" stroke-width="0.2"/>
<text x="257.80" y="115.14" font-size="4.0" textLength="10.00" lengthAdjust="spacingAndGlyphs" style="stroke-width:0.05px">&gt; 0.1</text>
<text x="257.80" y="120.04" font-size="4.0" textLength="16.00" lengthAdjust="spacingAndGlyphs" style="stroke-width:0.05px">0.05-0.1</text>
<text x="257.80" y="125.24" font-size="4.0" textLength="17.70" lengthAdjust="spacingAndGlyphs" style="stroke-width:0.05px">0.01-0.05</text>
<text x="257.80" y="130.44" font-size="4.0" textLength="11.00" lengthAdjust="spacingAndGlyphs" style="stroke-width:0.05px">&lt; 0.01</text>
<line x1="316.20" y1="57.60" x2="316.20" y2="133.70" stroke="#444" stroke-width="1.0"/>
<line x1="316.20" y1="133.70" x2="398.40" y2="133.70" stroke="#444" stroke-width="1.0"/>
<line x1="314.00" y1="61.30" x2="316.20" y2="61.30" stroke="#444" stroke-width="0.7"/>
<text x="312.60" y="63.24" font-size="5.4" text-anchor="end">10</text>
<line x1="314.00" y1="78.88" x2="316.20" y2="78.88" stroke="#444" stroke-width="0.7"/>
<text x="312.60" y="80.82" font-size="5.4" text-anchor="end">7.5</text>
<line x1="314.00" y1="96.45" x2="316.20" y2="96.45" stroke="#444" stroke-width="0.7"/>
<text x="312.60" y="98.39" font-size="5.4" text-anchor="end">5</text>
<line x1="314.00" y1="114.02" x2="316.20" y2="114.02" stroke="#444" stroke-width="0.7"/>
<text x="312.60" y="115.97" font-size="5.4" text-anchor="end">2.5</text>
<line x1="314.00" y1="131.60" x2="316.20" y2="131.60" stroke="#444" stroke-width="0.7"/>
<text x="312.60" y="133.54" font-size="5.4" text-anchor="end">0</text>
<line x1="340.10" y1="133.70" x2="340.10" y2="135.70" stroke="#444" stroke-width="0.7"/>
<text x="340.10" y="142.74" font-size="5.4" text-anchor="middle">0</text>
<line x1="366.60" y1="133.70" x2="366.60" y2="135.70" stroke="#444" stroke-width="0.7"/>
<text x="366.60" y="142.74" font-size="5.4" text-anchor="middle">5</text>
<line x1="393.10" y1="133.70" x2="393.10" y2="135.70" stroke="#444" stroke-width="0.7"/>
<text x="393.10" y="142.74" font-size="5.4" text-anchor="middle">10</text>
<text x="337.80" y="54.71" font-size="5.3" textLength="38.70" lengthAdjust="spacingAndGlyphs">pTyr enrichment</text>
<text x="357.60" y="151.5" font-size="7.0" text-anchor="middle" textLength="75.2" lengthAdjust="spacingAndGlyphs">Intensity +CRP/control (log<tspan font-size="4.4" dy="1.5">2</tspan><tspan dy="-1.5">)</tspan></text>
<text transform="translate(298.7,95.5) rotate(-90)" x="0" y="2.3" font-size="6.8" text-anchor="middle" textLength="35.5" lengthAdjust="spacingAndGlyphs">-log<tspan font-size="4.4" dy="1.5">10</tspan><tspan dy="-1.5"> p-value</tspan></text>
<line x1="430.00" y1="57.60" x2="430.00" y2="133.40" stroke="#444" stroke-width="1.0"/>
<line x1="430.00" y1="133.40" x2="512.60" y2="133.40" stroke="#444" stroke-width="1.0"/>
<line x1="427.80" y1="62.72" x2="430.00" y2="62.72" stroke="#444" stroke-width="0.7"/>
<text x="426.40" y="64.66" font-size="5.4" text-anchor="end">8</text>
<line x1="427.80" y1="79.84" x2="430.00" y2="79.84" stroke="#444" stroke-width="0.7"/>
<text x="426.40" y="81.78" font-size="5.4" text-anchor="end">6</text>
<line x1="427.80" y1="96.96" x2="430.00" y2="96.96" stroke="#444" stroke-width="0.7"/>
<text x="426.40" y="98.90" font-size="5.4" text-anchor="end">4</text>
<line x1="427.80" y1="114.08" x2="430.00" y2="114.08" stroke="#444" stroke-width="0.7"/>
<text x="426.40" y="116.02" font-size="5.4" text-anchor="end">2</text>
<line x1="427.80" y1="131.20" x2="430.00" y2="131.20" stroke="#444" stroke-width="0.7"/>
<text x="426.40" y="133.14" font-size="5.4" text-anchor="end">0</text>
<line x1="445.50" y1="133.40" x2="445.50" y2="135.40" stroke="#444" stroke-width="0.7"/>
<text x="445.50" y="142.74" font-size="5.4" text-anchor="middle">-2.5</text>
<line x1="460.30" y1="133.40" x2="460.30" y2="135.40" stroke="#444" stroke-width="0.7"/>
<text x="460.30" y="142.74" font-size="5.4" text-anchor="middle">0</text>
<line x1="475.10" y1="133.40" x2="475.10" y2="135.40" stroke="#444" stroke-width="0.7"/>
<text x="475.10" y="142.74" font-size="5.4" text-anchor="middle">2.5</text>
<line x1="489.90" y1="133.40" x2="489.90" y2="135.40" stroke="#444" stroke-width="0.7"/>
<text x="489.90" y="142.74" font-size="5.4" text-anchor="middle">5</text>
<line x1="504.70" y1="133.40" x2="504.70" y2="135.40" stroke="#444" stroke-width="0.7"/>
<text x="504.70" y="142.74" font-size="5.4" text-anchor="middle">7.5</text>
<text x="452.00" y="54.71" font-size="5.3" textLength="39.00" lengthAdjust="spacingAndGlyphs">TiO<tspan font-size="3.4" dy="1.2">2</tspan><tspan dy="-1.2"> enrichment</tspan></text>
<text x="471.85" y="151.5" font-size="7.0" text-anchor="middle" textLength="75.1" lengthAdjust="spacingAndGlyphs">Intensity +CRP/control (log<tspan font-size="4.4" dy="1.5">2</tspan><tspan dy="-1.5">)</tspan></text>
<text transform="translate(415.5,95.5) rotate(-90)" x="0" y="2.3" font-size="6.8" text-anchor="middle" textLength="35.5" lengthAdjust="spacingAndGlyphs">-log<tspan font-size="4.4" dy="1.5">10</tspan><tspan dy="-1.5"> p-value</tspan></text>
<g fill="#595959"><circle cx="339.2" cy="131.5" r="0.85"/><circle cx="342.5" cy="126.6" r="0.85"/><circle cx="352.6" cy="117.1" r="0.85"/><circle cx="349.0" cy="123.8" r="0.85"/><circle cx="339.9" cy="130.1" r="0.85"/><circle cx="334.4" cy="115.4" r="0.85"/><circle cx="341.9" cy="130.3" r="0.85"/><circle cx="340.8" cy="129.3" r="0.85"/><circle cx="337.4" cy="129.8" r="0.85"/><circle cx="341.3" cy="126.6" r="0.85"/><circle cx="336.0" cy="128.2" r="0.85"/><circle cx="344.4" cy="130.3" r="0.85"/><circle cx="343.6" cy="114.5" r="0.85"/><circle cx="338.6" cy="124.0" r="0.85"/><circle cx="343.1" cy="128.1" r="0.85"/><circle cx="339.7" cy="129.9" r="0.85"/><circle cx="347.4" cy="115.5" r="0.85"/><circle cx="344.8" cy="114.8" r="0.85"/><circle cx="337.6" cy="128.0" r="0.85"/><circle cx="348.8" cy="121.9" r="0.85"/><circle cx="335.4" cy="123.1" r="0.85"/><circle cx="334.3" cy="115.0" r="0.85"/><circle cx="341.8" cy="129.8" r="0.85"/><circle cx="337.6" cy="117.9" r="0.85"/><circle cx="346.3" cy="121.7" r="0.85"/><circle cx="337.1" cy="128.5" r="0.85"/><circle cx="336.8" cy="124.6" r="0.85"/><circle cx="335.3" cy="127.8" r="0.85"/><circle cx="350.1" cy="121.5" r="0.85"/><circle cx="337.6" cy="124.8" r="0.85"/><circle cx="348.1" cy="126.2" r="0.85"/><circle cx="341.8" cy="127.2" r="0.85"/><circle cx="342.4" cy="131.5" r="0.85"/><circle cx="345.0" cy="126.7" r="0.85"/><circle cx="346.6" cy="126.8" r="0.85"/><circle cx="341.8" cy="129.8" r="0.85"/><circle cx="337.9" cy="127.6" r="0.85"/><circle cx="338.6" cy="123.2" r="0.85"/><circle cx="347.8" cy="121.3" r="0.85"/><circle cx="341.4" cy="125.5" r="0.85"/><circle cx="338.6" cy="129.9" r="0.85"/><circle cx="336.6" cy="123.3" r="0.85"/><circle cx="332.9" cy="116.3" r="0.85"/><circle cx="349.2" cy="123.5" r="0.85"/><circle cx="347.7" cy="121.1" r="0.85"/><circle cx="329.5" cy="115.7" r="0.85"/><circle cx="345.7" cy="126.9" r="0.85"/><circle cx="346.7" cy="114.7" r="0.85"/><circle cx="342.0" cy="123.2" r="0.85"/><circle cx="347.2" cy="123.0" r="0.85"/><circle cx="345.3" cy="126.5" r="0.85"/><circle cx="349.0" cy="125.8" r="0.85"/><circle cx="343.4" cy="126.0" r="0.85"/><circle cx="336.4" cy="117.2" r="0.85"/><circle cx="341.9" cy="125.6" r="0.85"/><circle cx="352.6" cy="114.5" r="0.85"/><circle cx="337.9" cy="125.3" r="0.85"/><circle cx="338.6" cy="122.1" r="0.85"/><circle cx="337.5" cy="128.1" r="0.85"/><circle cx="341.4" cy="129.2" r="0.85"/><circle cx="345.1" cy="122.5" r="0.85"/><circle cx="342.9" cy="119.0" r="0.85"/><circle cx="349.3" cy="120.8" r="0.85"/><circle cx="328.4" cy="115.3" r="0.85"/><circle cx="340.9" cy="128.4" r="0.85"/><circle cx="335.3" cy="117.5" r="0.85"/><circle cx="338.1" cy="123.7" r="0.85"/><circle cx="342.6" cy="120.1" r="0.85"/><circle cx="341.9" cy="127.7" r="0.85"/><circle cx="342.4" cy="127.3" r="0.85"/><circle cx="344.1" cy="115.1" r="0.85"/><circle cx="338.5" cy="128.4" r="0.85"/><circle cx="347.0" cy="127.5" r="0.85"/><circle cx="339.8" cy="130.8" r="0.85"/><circle cx="338.2" cy="127.0" r="0.85"/><circle cx="332.3" cy="114.5" r="0.85"/><circle cx="344.8" cy="129.9" r="0.85"/><circle cx="337.0" cy="116.3" r="0.85"/><circle cx="352.5" cy="116.0" r="0.85"/><circle cx="340.5" cy="130.8" r="0.85"/><circle cx="344.6" cy="119.2" r="0.85"/><circle cx="337.2" cy="121.4" r="0.85"/><circle cx="345.4" cy="117.8" r="0.85"/><circle cx="342.2" cy="128.5" r="0.85"/><circle cx="335.6" cy="124.7" r="0.85"/><circle cx="327.7" cy="114.4" r="0.85"/><circle cx="335.0" cy="125.5" r="0.85"/><circle cx="351.8" cy="114.6" r="0.85"/><circle cx="338.8" cy="123.1" r="0.85"/><circle cx="338.8" cy="123.2" r="0.85"/><circle cx="338.2" cy="131.5" r="0.85"/><circle cx="345.6" cy="120.5" r="0.85"/><circle cx="343.0" cy="130.5" r="0.85"/><circle cx="347.9" cy="124.1" r="0.85"/><circle cx="344.3" cy="123.8" r="0.85"/><circle cx="344.7" cy="119.2" r="0.85"/><circle cx="333.5" cy="118.5" r="0.85"/><circle cx="350.5" cy="125.9" r="0.85"/><circle cx="336.3" cy="118.4" r="0.85"/><circle cx="341.6" cy="124.9" r="0.85"/><circle cx="342.1" cy="122.8" r="0.85"/><circle cx="350.0" cy="119.5" r="0.85"/><circle cx="334.0" cy="125.1" r="0.85"/><circle cx="344.5" cy="116.5" r="0.85"/><circle cx="343.5" cy="123.7" r="0.85"/><circle cx="353.6" cy="121.3" r="0.85"/><circle cx="341.8" cy="129.2" r="0.85"/><circle cx="348.2" cy="121.9" r="0.85"/><circle cx="342.4" cy="127.2" r="0.85"/><circle cx="348.6" cy="118.3" r="0.85"/><circle cx="337.4" cy="114.1" r="0.85"/><circle cx="349.8" cy="116.1" r="0.85"/><circle cx="345.7" cy="117.4" r="0.85"/><circle cx="330.9" cy="114.3" r="0.85"/><circle cx="335.6" cy="117.4" r="0.85"/><circle cx="338.0" cy="126.1" r="0.85"/><circle cx="348.6" cy="118.2" r="0.85"/><circle cx="346.9" cy="127.2" r="0.85"/><circle cx="342.1" cy="125.8" r="0.85"/><circle cx="343.6" cy="128.0" r="0.85"/><circle cx="342.3" cy="124.6" r="0.85"/><circle cx="339.1" cy="131.6" r="0.85"/><circle cx="341.6" cy="129.1" r="0.85"/><circle cx="342.2" cy="127.8" r="0.85"/><circle cx="345.1" cy="119.1" r="0.85"/><circle cx="341.6" cy="131.3" r="0.85"/><circle cx="345.5" cy="122.2" r="0.85"/><circle cx="343.0" cy="116.1" r="0.85"/><circle cx="335.6" cy="121.4" r="0.85"/><circle cx="329.8" cy="117.4" r="0.85"/><circle cx="339.3" cy="127.0" r="0.85"/><circle cx="338.8" cy="130.3" r="0.85"/><circle cx="336.0" cy="115.2" r="0.85"/><circle cx="342.7" cy="125.9" r="0.85"/><circle cx="338.3" cy="120.5" r="0.85"/><circle cx="342.6" cy="122.2" r="0.85"/><circle cx="340.6" cy="131.1" r="0.85"/><circle cx="344.2" cy="115.5" r="0.85"/><circle cx="338.9" cy="125.3" r="0.85"/><circle cx="348.7" cy="126.3" r="0.85"/><circle cx="347.4" cy="118.9" r="0.85"/><circle cx="344.5" cy="123.5" r="0.85"/><circle cx="342.6" cy="125.5" r="0.85"/><circle cx="338.1" cy="126.4" r="0.85"/><circle cx="336.8" cy="128.7" r="0.85"/><circle cx="341.5" cy="129.0" r="0.85"/><circle cx="342.5" cy="122.2" r="0.85"/><circle cx="335.9" cy="123.9" r="0.85"/><circle cx="337.4" cy="120.4" r="0.85"/><circle cx="334.6" cy="127.1" r="0.85"/><circle cx="346.1" cy="116.5" r="0.85"/><circle cx="337.3" cy="124.5" r="0.85"/><circle cx="335.1" cy="115.0" r="0.85"/><circle cx="341.6" cy="128.9" r="0.85"/><circle cx="335.5" cy="123.9" r="0.85"/><circle cx="347.0" cy="123.4" r="0.85"/><circle cx="337.1" cy="119.1" r="0.85"/><circle cx="344.8" cy="119.5" r="0.85"/><circle cx="343.0" cy="130.7" r="0.85"/><circle cx="338.1" cy="130.1" r="0.85"/><circle cx="343.6" cy="124.2" r="0.85"/><circle cx="346.0" cy="114.4" r="0.85"/><circle cx="344.3" cy="123.0" r="0.85"/><circle cx="353.0" cy="117.7" r="0.85"/><circle cx="343.0" cy="128.0" r="0.85"/><circle cx="333.1" cy="122.1" r="0.85"/><circle cx="333.7" cy="124.6" r="0.85"/><circle cx="347.7" cy="122.6" r="0.85"/><circle cx="342.3" cy="121.4" r="0.85"/><circle cx="337.0" cy="126.6" r="0.85"/><circle cx="339.4" cy="128.5" r="0.85"/><circle cx="342.0" cy="129.2" r="0.85"/><circle cx="336.9" cy="124.3" r="0.85"/><circle cx="339.4" cy="128.0" r="0.85"/><circle cx="339.5" cy="129.6" r="0.85"/><circle cx="335.3" cy="124.3" r="0.85"/><circle cx="337.5" cy="116.5" r="0.85"/><circle cx="332.3" cy="114.7" r="0.85"/><circle cx="355.0" cy="118.8" r="0.85"/><circle cx="345.4" cy="129.7" r="0.85"/><circle cx="346.7" cy="116.1" r="0.85"/><circle cx="343.7" cy="123.5" r="0.85"/><circle cx="339.1" cy="127.9" r="0.85"/><circle cx="341.4" cy="129.8" r="0.85"/><circle cx="344.9" cy="126.3" r="0.85"/><circle cx="337.9" cy="124.9" r="0.85"/><circle cx="342.6" cy="127.4" r="0.85"/><circle cx="337.3" cy="114.6" r="0.85"/><circle cx="330.5" cy="116.0" r="0.85"/><circle cx="332.6" cy="121.9" r="0.85"/><circle cx="344.4" cy="125.0" r="0.85"/><circle cx="346.4" cy="115.2" r="0.85"/><circle cx="347.8" cy="120.1" r="0.85"/><circle cx="342.4" cy="131.4" r="0.85"/><circle cx="339.6" cy="128.9" r="0.85"/><circle cx="332.9" cy="122.9" r="0.85"/><circle cx="346.1" cy="125.2" r="0.85"/><circle cx="337.6" cy="125.0" r="0.85"/><circle cx="352.4" cy="121.7" r="0.85"/><circle cx="336.9" cy="126.8" r="0.85"/><circle cx="350.7" cy="120.2" r="0.85"/><circle cx="353.0" cy="117.8" r="0.85"/><circle cx="342.7" cy="130.0" r="0.85"/><circle cx="338.5" cy="130.4" r="0.85"/><circle cx="342.0" cy="127.1" r="0.85"/><circle cx="352.7" cy="123.9" r="0.85"/><circle cx="344.8" cy="127.1" r="0.85"/><circle cx="351.4" cy="122.4" r="0.85"/><circle cx="342.7" cy="119.0" r="0.85"/><circle cx="341.2" cy="128.5" r="0.85"/><circle cx="336.8" cy="121.0" r="0.85"/><circle cx="351.1" cy="117.6" r="0.85"/><circle cx="343.6" cy="115.5" r="0.85"/><circle cx="337.2" cy="116.0" r="0.85"/><circle cx="333.4" cy="120.7" r="0.85"/><circle cx="353.0" cy="118.0" r="0.85"/><circle cx="343.7" cy="115.3" r="0.85"/><circle cx="342.8" cy="126.0" r="0.85"/><circle cx="339.5" cy="129.4" r="0.85"/><circle cx="335.3" cy="124.1" r="0.85"/><circle cx="341.1" cy="128.6" r="0.85"/><circle cx="343.2" cy="121.2" r="0.85"/><circle cx="346.7" cy="121.3" r="0.85"/><circle cx="344.7" cy="129.1" r="0.85"/><circle cx="337.2" cy="121.5" r="0.85"/><circle cx="334.8" cy="116.4" r="0.85"/><circle cx="338.9" cy="123.4" r="0.85"/><circle cx="341.7" cy="130.3" r="0.85"/><circle cx="339.3" cy="127.3" r="0.85"/><circle cx="342.9" cy="130.6" r="0.85"/><circle cx="339.5" cy="128.9" r="0.85"/><circle cx="345.2" cy="126.9" r="0.85"/><circle cx="338.3" cy="122.4" r="0.85"/><circle cx="344.5" cy="125.4" r="0.85"/><circle cx="339.2" cy="130.1" r="0.85"/><circle cx="349.0" cy="119.2" r="0.85"/><circle cx="338.1" cy="129.2" r="0.85"/><circle cx="331.4" cy="114.1" r="0.85"/><circle cx="348.5" cy="124.4" r="0.85"/><circle cx="341.2" cy="130.4" r="0.85"/><circle cx="345.5" cy="118.9" r="0.85"/><circle cx="343.1" cy="129.6" r="0.85"/><circle cx="355.0" cy="122.5" r="0.85"/><circle cx="345.1" cy="128.1" r="0.85"/><circle cx="342.0" cy="127.8" r="0.85"/><circle cx="345.9" cy="116.3" r="0.85"/><circle cx="347.7" cy="124.4" r="0.85"/><circle cx="342.3" cy="125.2" r="0.85"/><circle cx="338.3" cy="123.3" r="0.85"/><circle cx="337.7" cy="127.4" r="0.85"/><circle cx="333.0" cy="121.5" r="0.85"/><circle cx="342.2" cy="122.8" r="0.85"/><circle cx="339.0" cy="126.7" r="0.85"/><circle cx="333.9" cy="117.0" r="0.85"/><circle cx="348.0" cy="125.9" r="0.85"/><circle cx="346.3" cy="125.5" r="0.85"/><circle cx="338.0" cy="127.6" r="0.85"/><circle cx="344.9" cy="120.5" r="0.85"/><circle cx="336.1" cy="125.8" r="0.85"/><circle cx="349.2" cy="124.7" r="0.85"/><circle cx="342.0" cy="128.9" r="0.85"/><circle cx="338.6" cy="128.4" r="0.85"/><circle cx="338.6" cy="121.8" r="0.85"/><circle cx="344.9" cy="127.4" r="0.85"/><circle cx="338.5" cy="127.9" r="0.85"/><circle cx="336.6" cy="119.8" r="0.85"/><circle cx="337.2" cy="123.6" r="0.85"/><circle cx="342.8" cy="119.0" r="0.85"/><circle cx="342.1" cy="126.4" r="0.85"/><circle cx="342.9" cy="125.7" r="0.85"/><circle cx="340.9" cy="129.1" r="0.85"/><circle cx="333.9" cy="115.9" r="0.85"/><circle cx="335.7" cy="122.9" r="0.85"/><circle cx="337.5" cy="116.4" r="0.85"/><circle cx="342.9" cy="128.8" r="0.85"/><circle cx="336.6" cy="118.9" r="0.85"/><circle cx="355.0" cy="120.1" r="0.85"/><circle cx="337.8" cy="129.5" r="0.85"/><circle cx="330.4" cy="115.9" r="0.85"/><circle cx="341.3" cy="130.2" r="0.85"/><circle cx="337.6" cy="120.1" r="0.85"/><circle cx="344.3" cy="127.7" r="0.85"/><circle cx="337.4" cy="115.8" r="0.85"/><circle cx="332.6" cy="117.8" r="0.85"/><circle cx="338.8" cy="123.9" r="0.85"/><circle cx="342.4" cy="128.4" r="0.85"/><circle cx="347.8" cy="116.4" r="0.85"/><circle cx="334.9" cy="114.4" r="0.85"/><circle cx="332.5" cy="123.1" r="0.85"/><circle cx="341.3" cy="129.6" r="0.85"/><circle cx="338.4" cy="125.8" r="0.85"/><circle cx="342.8" cy="129.3" r="0.85"/><circle cx="340.7" cy="130.6" r="0.85"/><circle cx="338.8" cy="128.5" r="0.85"/><circle cx="342.1" cy="123.9" r="0.85"/><circle cx="343.2" cy="122.3" r="0.85"/><circle cx="334.1" cy="126.3" r="0.85"/><circle cx="343.0" cy="118.5" r="0.85"/><circle cx="343.1" cy="126.2" r="0.85"/><circle cx="341.5" cy="125.6" r="0.85"/><circle cx="342.7" cy="120.9" r="0.85"/><circle cx="342.5" cy="125.2" r="0.85"/><circle cx="336.3" cy="123.1" r="0.85"/><circle cx="344.4" cy="120.1" r="0.85"/><circle cx="333.3" cy="124.3" r="0.85"/><circle cx="341.9" cy="126.0" r="0.85"/><circle cx="344.0" cy="126.1" r="0.85"/><circle cx="349.4" cy="126.5" r="0.85"/><circle cx="346.7" cy="120.1" r="0.85"/><circle cx="332.4" cy="121.5" r="0.85"/><circle cx="343.9" cy="121.1" r="0.85"/><circle cx="344.7" cy="118.7" r="0.85"/><circle cx="351.5" cy="114.2" r="0.85"/><circle cx="345.8" cy="117.2" r="0.85"/><circle cx="350.9" cy="114.9" r="0.85"/><circle cx="341.7" cy="124.9" r="0.85"/><circle cx="348.8" cy="116.2" r="0.85"/><circle cx="341.7" cy="124.3" r="0.85"/><circle cx="336.8" cy="125.5" r="0.85"/><circle cx="348.4" cy="126.3" r="0.85"/><circle cx="339.1" cy="125.3" r="0.85"/><circle cx="335.4" cy="117.3" r="0.85"/><circle cx="340.1" cy="131.3" r="0.85"/><circle cx="336.0" cy="116.1" r="0.85"/><circle cx="342.6" cy="124.2" r="0.85"/><circle cx="339.8" cy="130.4" r="0.85"/><circle cx="339.4" cy="127.4" r="0.85"/><circle cx="332.2" cy="117.9" r="0.85"/><circle cx="342.8" cy="117.7" r="0.85"/><circle cx="346.5" cy="122.1" r="0.85"/><circle cx="358.7" cy="120.4" r="0.85"/><circle cx="360.2" cy="121.1" r="0.85"/><circle cx="369.8" cy="122.5" r="0.85"/><circle cx="376.7" cy="124.9" r="0.85"/><circle cx="353.9" cy="116.1" r="0.85"/><circle cx="356.0" cy="117.5" r="0.85"/><circle cx="351.8" cy="118.2" r="0.85"/><circle cx="362.4" cy="123.9" r="0.85"/><circle cx="357.1" cy="115.4" r="0.85"/><circle cx="354.9" cy="114.4" r="0.85"/><circle cx="359.2" cy="115.4" r="0.85"/><circle cx="357.6" cy="116.8" r="0.85"/></g>
<g fill="#5cb2cb"><circle cx="349.8" cy="92.9" r="0.85"/><circle cx="348.7" cy="96.0" r="0.85"/><circle cx="347.1" cy="98.7" r="0.85"/><circle cx="360.3" cy="81.8" r="0.85"/><circle cx="349.7" cy="85.2" r="0.85"/><circle cx="351.3" cy="89.2" r="0.85"/><circle cx="355.4" cy="113.8" r="0.85"/><circle cx="364.2" cy="96.4" r="0.85"/><circle cx="364.6" cy="86.1" r="0.85"/><circle cx="349.2" cy="102.5" r="0.85"/><circle cx="350.9" cy="101.3" r="0.85"/><circle cx="362.7" cy="98.9" r="0.85"/><circle cx="352.9" cy="104.3" r="0.85"/><circle cx="348.6" cy="93.5" r="0.85"/><circle cx="347.8" cy="109.0" r="0.85"/><circle cx="357.6" cy="89.0" r="0.85"/><circle cx="346.9" cy="112.5" r="0.85"/><circle cx="356.1" cy="76.8" r="0.85"/><circle cx="352.8" cy="82.2" r="0.85"/><circle cx="346.7" cy="112.9" r="0.85"/><circle cx="350.6" cy="91.5" r="0.85"/><circle cx="366.2" cy="77.5" r="0.85"/><circle cx="354.5" cy="85.4" r="0.85"/><circle cx="346.6" cy="100.1" r="0.85"/><circle cx="348.4" cy="97.9" r="0.85"/><circle cx="354.6" cy="107.3" r="0.85"/><circle cx="351.0" cy="82.0" r="0.85"/><circle cx="346.6" cy="106.5" r="0.85"/><circle cx="348.7" cy="107.4" r="0.85"/><circle cx="358.5" cy="77.2" r="0.85"/><circle cx="352.0" cy="86.4" r="0.85"/><circle cx="355.9" cy="73.9" r="0.85"/><circle cx="345.8" cy="101.6" r="0.85"/><circle cx="358.9" cy="85.9" r="0.85"/><circle cx="361.3" cy="78.7" r="0.85"/><circle cx="348.5" cy="108.0" r="0.85"/><circle cx="350.9" cy="99.9" r="0.85"/><circle cx="351.5" cy="99.6" r="0.85"/><circle cx="350.5" cy="95.7" r="0.85"/><circle cx="350.0" cy="91.7" r="0.85"/><circle cx="351.1" cy="95.0" r="0.85"/><circle cx="356.6" cy="88.5" r="0.85"/><circle cx="344.8" cy="104.5" r="0.85"/><circle cx="349.3" cy="96.4" r="0.85"/><circle cx="343.7" cy="112.8" r="0.85"/><circle cx="347.5" cy="113.4" r="0.85"/><circle cx="356.8" cy="75.0" r="0.85"/><circle cx="347.4" cy="103.9" r="0.85"/><circle cx="350.1" cy="99.1" r="0.85"/><circle cx="351.9" cy="86.0" r="0.85"/><circle cx="349.6" cy="97.7" r="0.85"/><circle cx="357.3" cy="76.6" r="0.85"/><circle cx="347.4" cy="94.9" r="0.85"/><circle cx="352.2" cy="77.0" r="0.85"/><circle cx="348.2" cy="107.1" r="0.85"/><circle cx="363.7" cy="93.2" r="0.85"/><circle cx="347.9" cy="96.4" r="0.85"/><circle cx="353.7" cy="95.1" r="0.85"/><circle cx="347.5" cy="107.9" r="0.85"/><circle cx="353.4" cy="85.3" r="0.85"/><circle cx="348.0" cy="93.5" r="0.85"/><circle cx="349.1" cy="90.9" r="0.85"/><circle cx="348.7" cy="110.9" r="0.85"/><circle cx="365.5" cy="77.3" r="0.85"/><circle cx="349.6" cy="92.4" r="0.85"/><circle cx="366.5" cy="85.5" r="0.85"/><circle cx="353.2" cy="78.0" r="0.85"/><circle cx="358.2" cy="73.6" r="0.85"/><circle cx="347.0" cy="97.9" r="0.85"/><circle cx="348.6" cy="86.8" r="0.85"/><circle cx="349.5" cy="101.3" r="0.85"/><circle cx="359.4" cy="98.4" r="0.85"/><circle cx="346.8" cy="103.0" r="0.85"/><circle cx="354.8" cy="102.8" r="0.85"/><circle cx="355.4" cy="79.7" r="0.85"/><circle cx="355.1" cy="77.7" r="0.85"/><circle cx="351.0" cy="90.7" r="0.85"/><circle cx="349.7" cy="87.8" r="0.85"/><circle cx="346.3" cy="100.9" r="0.85"/><circle cx="348.1" cy="109.5" r="0.85"/><circle cx="351.6" cy="100.1" r="0.85"/><circle cx="350.4" cy="88.6" r="0.85"/><circle cx="357.5" cy="102.9" r="0.85"/><circle cx="346.5" cy="100.3" r="0.85"/><circle cx="353.2" cy="110.4" r="0.85"/><circle cx="349.2" cy="84.6" r="0.85"/><circle cx="353.4" cy="88.3" r="0.85"/><circle cx="346.2" cy="100.1" r="0.85"/><circle cx="351.8" cy="80.0" r="0.85"/><circle cx="362.3" cy="81.8" r="0.85"/><circle cx="351.6" cy="81.8" r="0.85"/><circle cx="345.6" cy="113.8" r="0.85"/><circle cx="345.3" cy="108.6" r="0.85"/><circle cx="347.9" cy="109.9" r="0.85"/><circle cx="346.3" cy="100.8" r="0.85"/><circle cx="345.1" cy="105.7" r="0.85"/><circle cx="348.4" cy="94.9" r="0.85"/><circle cx="354.2" cy="87.2" r="0.85"/><circle cx="348.4" cy="93.7" r="0.85"/><circle cx="348.8" cy="93.9" r="0.85"/><circle cx="353.5" cy="95.6" r="0.85"/><circle cx="346.4" cy="110.6" r="0.85"/><circle cx="352.9" cy="91.9" r="0.85"/><circle cx="349.6" cy="84.9" r="0.85"/><circle cx="354.5" cy="76.9" r="0.85"/><circle cx="356.8" cy="95.3" r="0.85"/><circle cx="353.3" cy="87.7" r="0.85"/><circle cx="352.0" cy="96.7" r="0.85"/><circle cx="345.1" cy="113.8" r="0.85"/><circle cx="360.8" cy="84.9" r="0.85"/><circle cx="364.0" cy="68.3" r="0.85"/><circle cx="365.0" cy="63.4" r="0.85"/><circle cx="371.7" cy="62.7" r="0.85"/><circle cx="366.6" cy="82.4" r="0.85"/><circle cx="364.0" cy="89.4" r="0.85"/><circle cx="366.1" cy="90.8" r="0.85"/><circle cx="368.2" cy="103.5" r="0.85"/><circle cx="374.0" cy="102.1" r="0.85"/><circle cx="377.2" cy="111.2" r="0.85"/><circle cx="383.0" cy="109.8" r="0.85"/><circle cx="393.6" cy="98.6" r="0.85"/><circle cx="364.5" cy="97.9" r="0.85"/><circle cx="369.8" cy="80.3" r="0.85"/><circle cx="362.4" cy="78.9" r="0.85"/><circle cx="358.1" cy="74.7" r="0.85"/><circle cx="356.5" cy="108.4" r="0.85"/><circle cx="373.0" cy="110.5" r="0.85"/><circle cx="363.4" cy="109.1" r="0.85"/><circle cx="360.2" cy="111.9" r="0.85"/><circle cx="350.7" cy="113.3" r="0.85"/><circle cx="346.5" cy="113.3" r="0.85"/><circle cx="344.3" cy="112.6" r="0.85"/><circle cx="343.3" cy="111.2" r="0.85"/><circle cx="348.1" cy="112.6" r="0.85"/><circle cx="356.0" cy="112.6" r="0.85"/><circle cx="353.9" cy="110.5" r="0.85"/></g>
<g fill="#e9b040"><circle cx="318.9" cy="111.2" r="0.85"/><circle cx="321.0" cy="107.7" r="0.85"/><circle cx="323.1" cy="106.3" r="0.85"/><circle cx="326.3" cy="104.9" r="0.85"/><circle cx="324.7" cy="113.3" r="0.85"/><circle cx="331.6" cy="100.0" r="0.85"/><circle cx="332.7" cy="102.1" r="0.85"/><circle cx="333.2" cy="104.2" r="0.85"/><circle cx="328.4" cy="110.5" r="0.85"/><circle cx="330.0" cy="112.6" r="0.85"/><circle cx="327.4" cy="113.3" r="0.85"/><circle cx="334.0" cy="102.8" r="0.85"/><circle cx="335.1" cy="112.7" r="0.85"/><circle cx="335.0" cy="104.1" r="0.85"/><circle cx="334.1" cy="101.1" r="0.85"/><circle cx="333.6" cy="112.6" r="0.85"/><circle cx="335.2" cy="105.6" r="0.85"/><circle cx="335.2" cy="101.6" r="0.85"/><circle cx="334.1" cy="113.4" r="0.85"/><circle cx="335.0" cy="110.2" r="0.85"/><circle cx="334.6" cy="109.7" r="0.85"/><circle cx="336.0" cy="111.1" r="0.85"/><circle cx="335.5" cy="107.3" r="0.85"/><circle cx="334.3" cy="101.8" r="0.85"/><circle cx="334.2" cy="110.9" r="0.85"/><circle cx="334.0" cy="105.3" r="0.85"/><circle cx="335.5" cy="110.1" r="0.85"/><circle cx="333.8" cy="106.9" r="0.85"/><circle cx="334.5" cy="107.5" r="0.85"/><circle cx="335.4" cy="113.7" r="0.85"/><circle cx="333.6" cy="103.4" r="0.85"/><circle cx="336.0" cy="113.1" r="0.85"/><circle cx="334.1" cy="109.3" r="0.85"/><circle cx="335.9" cy="110.8" r="0.85"/><circle cx="336.3" cy="113.1" r="0.85"/><circle cx="336.1" cy="113.4" r="0.85"/><circle cx="335.2" cy="100.8" r="0.85"/><circle cx="335.6" cy="101.8" r="0.85"/><circle cx="334.5" cy="101.1" r="0.85"/><circle cx="336.1" cy="111.2" r="0.85"/><circle cx="335.7" cy="101.7" r="0.85"/><circle cx="334.1" cy="109.7" r="0.85"/><circle cx="335.7" cy="107.2" r="0.85"/><circle cx="336.2" cy="109.2" r="0.85"/><circle cx="334.8" cy="112.4" r="0.85"/><circle cx="334.3" cy="102.4" r="0.85"/><circle cx="334.2" cy="102.1" r="0.85"/><circle cx="335.8" cy="107.2" r="0.85"/><circle cx="334.4" cy="113.7" r="0.85"/></g>
<g fill="#595959"><circle cx="462.2" cy="128.4" r="0.8"/><circle cx="466.2" cy="114.7" r="0.8"/><circle cx="463.6" cy="125.4" r="0.8"/><circle cx="458.8" cy="122.7" r="0.8"/><circle cx="464.1" cy="115.4" r="0.8"/><circle cx="457.6" cy="118.9" r="0.8"/><circle cx="458.1" cy="128.6" r="0.8"/><circle cx="457.7" cy="125.7" r="0.8"/><circle cx="458.1" cy="120.6" r="0.8"/><circle cx="462.9" cy="126.6" r="0.8"/><circle cx="455.7" cy="123.9" r="0.8"/><circle cx="460.4" cy="130.9" r="0.8"/><circle cx="460.5" cy="130.3" r="0.8"/><circle cx="460.0" cy="130.4" r="0.8"/><circle cx="462.6" cy="126.5" r="0.8"/><circle cx="464.2" cy="114.5" r="0.8"/><circle cx="466.2" cy="115.1" r="0.8"/><circle cx="462.7" cy="123.1" r="0.8"/><circle cx="458.2" cy="127.4" r="0.8"/><circle cx="457.7" cy="114.2" r="0.8"/><circle cx="459.6" cy="131.0" r="0.8"/><circle cx="454.8" cy="115.9" r="0.8"/><circle cx="461.0" cy="121.4" r="0.8"/><circle cx="457.8" cy="116.5" r="0.8"/><circle cx="464.9" cy="120.0" r="0.8"/><circle cx="460.9" cy="114.5" r="0.8"/><circle cx="461.4" cy="124.4" r="0.8"/><circle cx="462.1" cy="118.1" r="0.8"/><circle cx="458.7" cy="118.9" r="0.8"/><circle cx="458.3" cy="118.3" r="0.8"/><circle cx="457.1" cy="126.2" r="0.8"/><circle cx="456.7" cy="120.8" r="0.8"/><circle cx="458.5" cy="125.4" r="0.8"/><circle cx="459.3" cy="123.8" r="0.8"/><circle cx="459.0" cy="120.9" r="0.8"/><circle cx="463.3" cy="120.9" r="0.8"/><circle cx="457.4" cy="124.2" r="0.8"/><circle cx="457.1" cy="126.6" r="0.8"/><circle cx="456.4" cy="125.3" r="0.8"/><circle cx="461.8" cy="128.5" r="0.8"/><circle cx="461.2" cy="122.5" r="0.8"/><circle cx="462.8" cy="122.8" r="0.8"/><circle cx="455.8" cy="118.9" r="0.8"/><circle cx="457.6" cy="120.9" r="0.8"/><circle cx="458.5" cy="117.8" r="0.8"/><circle cx="456.6" cy="126.4" r="0.8"/><circle cx="454.8" cy="114.3" r="0.8"/><circle cx="463.4" cy="125.9" r="0.8"/><circle cx="459.6" cy="129.8" r="0.8"/><circle cx="461.7" cy="122.8" r="0.8"/><circle cx="465.7" cy="117.3" r="0.8"/><circle cx="456.6" cy="124.7" r="0.8"/><circle cx="456.5" cy="126.6" r="0.8"/><circle cx="461.0" cy="125.6" r="0.8"/><circle cx="454.8" cy="115.6" r="0.8"/><circle cx="463.2" cy="125.6" r="0.8"/><circle cx="459.0" cy="120.3" r="0.8"/><circle cx="457.5" cy="129.4" r="0.8"/><circle cx="461.0" cy="126.5" r="0.8"/><circle cx="460.2" cy="129.7" r="0.8"/><circle cx="453.9" cy="116.8" r="0.8"/><circle cx="459.4" cy="125.3" r="0.8"/><circle cx="462.6" cy="120.0" r="0.8"/><circle cx="459.3" cy="118.9" r="0.8"/><circle cx="461.2" cy="124.4" r="0.8"/><circle cx="464.1" cy="122.4" r="0.8"/><circle cx="460.9" cy="121.2" r="0.8"/><circle cx="461.7" cy="121.8" r="0.8"/><circle cx="465.3" cy="120.1" r="0.8"/><circle cx="464.2" cy="114.5" r="0.8"/><circle cx="458.0" cy="120.8" r="0.8"/><circle cx="459.5" cy="127.2" r="0.8"/><circle cx="459.4" cy="122.9" r="0.8"/><circle cx="455.9" cy="120.5" r="0.8"/><circle cx="462.4" cy="119.2" r="0.8"/><circle cx="458.3" cy="126.9" r="0.8"/><circle cx="460.0" cy="130.1" r="0.8"/><circle cx="459.0" cy="118.9" r="0.8"/><circle cx="461.1" cy="120.3" r="0.8"/><circle cx="457.6" cy="130.0" r="0.8"/><circle cx="464.3" cy="121.6" r="0.8"/><circle cx="459.4" cy="118.5" r="0.8"/><circle cx="457.2" cy="125.8" r="0.8"/><circle cx="462.9" cy="119.4" r="0.8"/><circle cx="456.4" cy="123.5" r="0.8"/><circle cx="461.7" cy="125.4" r="0.8"/><circle cx="458.8" cy="117.5" r="0.8"/><circle cx="458.6" cy="115.7" r="0.8"/><circle cx="458.6" cy="130.5" r="0.8"/><circle cx="462.6" cy="115.7" r="0.8"/><circle cx="458.8" cy="129.1" r="0.8"/><circle cx="462.4" cy="130.4" r="0.8"/><circle cx="457.7" cy="121.2" r="0.8"/><circle cx="460.5" cy="130.3" r="0.8"/><circle cx="462.9" cy="115.1" r="0.8"/><circle cx="464.7" cy="116.2" r="0.8"/><circle cx="455.1" cy="119.1" r="0.8"/><circle cx="457.5" cy="123.1" r="0.8"/><circle cx="462.3" cy="129.5" r="0.8"/><circle cx="457.8" cy="119.1" r="0.8"/><circle cx="463.6" cy="122.2" r="0.8"/><circle cx="461.0" cy="127.9" r="0.8"/><circle cx="463.2" cy="126.2" r="0.8"/><circle cx="465.5" cy="117.0" r="0.8"/><circle cx="458.8" cy="124.7" r="0.8"/><circle cx="466.2" cy="114.8" r="0.8"/><circle cx="465.5" cy="114.2" r="0.8"/><circle cx="461.6" cy="121.9" r="0.8"/><circle cx="459.1" cy="115.4" r="0.8"/><circle cx="463.9" cy="115.3" r="0.8"/><circle cx="459.0" cy="125.3" r="0.8"/><circle cx="456.2" cy="118.7" r="0.8"/><circle cx="457.7" cy="125.8" r="0.8"/><circle cx="462.7" cy="128.6" r="0.8"/><circle cx="464.4" cy="114.1" r="0.8"/><circle cx="462.5" cy="121.6" r="0.8"/><circle cx="459.4" cy="118.8" r="0.8"/><circle cx="456.3" cy="121.4" r="0.8"/><circle cx="458.9" cy="126.1" r="0.8"/><circle cx="461.5" cy="124.1" r="0.8"/><circle cx="458.1" cy="126.1" r="0.8"/><circle cx="463.6" cy="115.9" r="0.8"/><circle cx="463.7" cy="115.1" r="0.8"/><circle cx="463.8" cy="116.5" r="0.8"/><circle cx="454.9" cy="120.3" r="0.8"/><circle cx="461.9" cy="126.0" r="0.8"/><circle cx="459.4" cy="119.1" r="0.8"/><circle cx="456.5" cy="124.3" r="0.8"/><circle cx="463.2" cy="117.9" r="0.8"/><circle cx="462.6" cy="122.8" r="0.8"/><circle cx="462.4" cy="116.6" r="0.8"/><circle cx="465.7" cy="116.9" r="0.8"/><circle cx="462.6" cy="130.1" r="0.8"/><circle cx="462.7" cy="122.5" r="0.8"/><circle cx="455.3" cy="118.0" r="0.8"/><circle cx="455.7" cy="120.3" r="0.8"/><circle cx="458.1" cy="118.1" r="0.8"/><circle cx="458.1" cy="123.7" r="0.8"/><circle cx="461.7" cy="116.9" r="0.8"/><circle cx="462.0" cy="125.1" r="0.8"/><circle cx="462.3" cy="127.1" r="0.8"/><circle cx="462.9" cy="120.0" r="0.8"/><circle cx="465.3" cy="119.9" r="0.8"/><circle cx="459.6" cy="118.6" r="0.8"/><circle cx="458.5" cy="125.3" r="0.8"/><circle cx="463.9" cy="117.1" r="0.8"/><circle cx="462.5" cy="114.6" r="0.8"/><circle cx="459.0" cy="121.6" r="0.8"/><circle cx="461.7" cy="118.5" r="0.8"/><circle cx="463.3" cy="114.9" r="0.8"/><circle cx="458.1" cy="123.6" r="0.8"/><circle cx="461.7" cy="130.0" r="0.8"/><circle cx="459.1" cy="122.9" r="0.8"/><circle cx="460.1" cy="129.8" r="0.8"/><circle cx="457.1" cy="115.6" r="0.8"/><circle cx="463.1" cy="117.9" r="0.8"/><circle cx="461.1" cy="119.2" r="0.8"/><circle cx="461.4" cy="125.9" r="0.8"/><circle cx="464.9" cy="120.4" r="0.8"/><circle cx="458.6" cy="121.5" r="0.8"/><circle cx="461.6" cy="115.5" r="0.8"/><circle cx="461.4" cy="124.3" r="0.8"/><circle cx="458.0" cy="127.7" r="0.8"/><circle cx="459.5" cy="115.8" r="0.8"/><circle cx="456.5" cy="117.0" r="0.8"/><circle cx="457.5" cy="122.2" r="0.8"/><circle cx="461.2" cy="117.0" r="0.8"/><circle cx="459.0" cy="123.5" r="0.8"/><circle cx="458.0" cy="126.6" r="0.8"/><circle cx="457.9" cy="118.7" r="0.8"/><circle cx="459.4" cy="128.7" r="0.8"/><circle cx="464.7" cy="122.5" r="0.8"/><circle cx="459.2" cy="123.6" r="0.8"/><circle cx="463.0" cy="114.5" r="0.8"/><circle cx="459.1" cy="122.4" r="0.8"/><circle cx="457.5" cy="126.4" r="0.8"/><circle cx="461.4" cy="122.2" r="0.8"/><circle cx="460.0" cy="128.7" r="0.8"/><circle cx="461.5" cy="124.3" r="0.8"/><circle cx="458.9" cy="117.3" r="0.8"/><circle cx="456.3" cy="123.6" r="0.8"/><circle cx="461.0" cy="126.6" r="0.8"/><circle cx="455.6" cy="116.9" r="0.8"/><circle cx="465.6" cy="114.4" r="0.8"/><circle cx="458.1" cy="119.0" r="0.8"/><circle cx="462.0" cy="123.9" r="0.8"/><circle cx="459.4" cy="122.0" r="0.8"/><circle cx="456.1" cy="120.7" r="0.8"/><circle cx="458.1" cy="122.2" r="0.8"/><circle cx="461.7" cy="121.7" r="0.8"/><circle cx="464.5" cy="123.0" r="0.8"/><circle cx="456.5" cy="126.6" r="0.8"/><circle cx="462.1" cy="120.6" r="0.8"/><circle cx="459.2" cy="123.6" r="0.8"/><circle cx="457.9" cy="124.3" r="0.8"/><circle cx="464.4" cy="117.2" r="0.8"/><circle cx="456.6" cy="122.4" r="0.8"/><circle cx="465.6" cy="114.2" r="0.8"/><circle cx="456.9" cy="115.5" r="0.8"/><circle cx="462.1" cy="128.6" r="0.8"/><circle cx="461.3" cy="128.6" r="0.8"/><circle cx="461.5" cy="127.3" r="0.8"/><circle cx="457.8" cy="129.8" r="0.8"/><circle cx="464.5" cy="122.5" r="0.8"/><circle cx="456.7" cy="117.3" r="0.8"/><circle cx="458.7" cy="118.5" r="0.8"/><circle cx="458.3" cy="122.3" r="0.8"/><circle cx="458.6" cy="126.3" r="0.8"/><circle cx="457.6" cy="125.5" r="0.8"/><circle cx="458.5" cy="115.9" r="0.8"/><circle cx="463.3" cy="120.7" r="0.8"/><circle cx="456.2" cy="118.9" r="0.8"/><circle cx="465.7" cy="114.8" r="0.8"/><circle cx="457.9" cy="116.4" r="0.8"/><circle cx="461.8" cy="116.6" r="0.8"/><circle cx="459.5" cy="130.3" r="0.8"/><circle cx="463.8" cy="114.8" r="0.8"/><circle cx="466.0" cy="116.5" r="0.8"/><circle cx="463.6" cy="124.3" r="0.8"/><circle cx="461.7" cy="131.1" r="0.8"/><circle cx="460.1" cy="129.0" r="0.8"/><circle cx="456.1" cy="122.7" r="0.8"/><circle cx="463.2" cy="119.5" r="0.8"/><circle cx="458.2" cy="126.4" r="0.8"/><circle cx="459.1" cy="130.6" r="0.8"/><circle cx="457.0" cy="114.9" r="0.8"/><circle cx="459.7" cy="125.2" r="0.8"/><circle cx="464.0" cy="115.7" r="0.8"/><circle cx="461.5" cy="123.6" r="0.8"/><circle cx="457.8" cy="130.4" r="0.8"/><circle cx="461.2" cy="123.8" r="0.8"/><circle cx="457.1" cy="128.0" r="0.8"/><circle cx="456.0" cy="116.2" r="0.8"/><circle cx="457.7" cy="129.8" r="0.8"/><circle cx="458.8" cy="129.2" r="0.8"/><circle cx="461.7" cy="120.4" r="0.8"/><circle cx="460.9" cy="128.6" r="0.8"/><circle cx="462.3" cy="131.2" r="0.8"/><circle cx="459.7" cy="127.1" r="0.8"/><circle cx="461.2" cy="125.7" r="0.8"/><circle cx="464.2" cy="117.4" r="0.8"/><circle cx="459.4" cy="114.5" r="0.8"/><circle cx="458.5" cy="120.9" r="0.8"/><circle cx="454.0" cy="114.5" r="0.8"/><circle cx="457.9" cy="117.8" r="0.8"/><circle cx="457.5" cy="120.1" r="0.8"/><circle cx="459.7" cy="124.9" r="0.8"/><circle cx="458.1" cy="131.0" r="0.8"/><circle cx="454.6" cy="115.4" r="0.8"/><circle cx="461.6" cy="123.4" r="0.8"/><circle cx="462.5" cy="130.2" r="0.8"/><circle cx="463.5" cy="126.7" r="0.8"/><circle cx="460.9" cy="122.8" r="0.8"/><circle cx="455.7" cy="120.1" r="0.8"/><circle cx="462.5" cy="121.6" r="0.8"/><circle cx="462.8" cy="117.2" r="0.8"/><circle cx="455.8" cy="118.9" r="0.8"/><circle cx="461.6" cy="130.1" r="0.8"/><circle cx="460.5" cy="128.7" r="0.8"/><circle cx="457.4" cy="125.6" r="0.8"/><circle cx="461.6" cy="114.8" r="0.8"/><circle cx="461.3" cy="118.1" r="0.8"/><circle cx="463.9" cy="120.7" r="0.8"/><circle cx="459.4" cy="129.6" r="0.8"/><circle cx="463.8" cy="123.4" r="0.8"/><circle cx="458.4" cy="126.2" r="0.8"/><circle cx="462.9" cy="115.3" r="0.8"/><circle cx="458.9" cy="122.9" r="0.8"/><circle cx="455.9" cy="118.0" r="0.8"/><circle cx="456.9" cy="118.2" r="0.8"/><circle cx="454.8" cy="116.9" r="0.8"/><circle cx="464.7" cy="115.3" r="0.8"/><circle cx="458.3" cy="130.5" r="0.8"/><circle cx="464.1" cy="115.3" r="0.8"/><circle cx="462.5" cy="125.2" r="0.8"/><circle cx="457.4" cy="120.4" r="0.8"/><circle cx="459.1" cy="118.7" r="0.8"/><circle cx="462.5" cy="127.9" r="0.8"/><circle cx="457.1" cy="118.3" r="0.8"/><circle cx="461.8" cy="122.9" r="0.8"/><circle cx="458.0" cy="123.8" r="0.8"/><circle cx="464.6" cy="121.3" r="0.8"/><circle cx="458.6" cy="128.9" r="0.8"/><circle cx="464.8" cy="122.0" r="0.8"/><circle cx="453.3" cy="114.2" r="0.8"/><circle cx="456.1" cy="119.5" r="0.8"/><circle cx="457.4" cy="126.7" r="0.8"/><circle cx="464.9" cy="121.7" r="0.8"/><circle cx="458.2" cy="114.6" r="0.8"/><circle cx="462.4" cy="115.6" r="0.8"/><circle cx="462.5" cy="129.3" r="0.8"/><circle cx="463.9" cy="125.5" r="0.8"/><circle cx="462.8" cy="128.1" r="0.8"/><circle cx="455.2" cy="115.5" r="0.8"/><circle cx="461.2" cy="118.0" r="0.8"/><circle cx="457.9" cy="115.8" r="0.8"/><circle cx="463.0" cy="122.3" r="0.8"/><circle cx="459.1" cy="125.8" r="0.8"/><circle cx="461.9" cy="116.3" r="0.8"/><circle cx="455.3" cy="121.9" r="0.8"/><circle cx="459.0" cy="117.6" r="0.8"/><circle cx="459.2" cy="126.2" r="0.8"/><circle cx="462.4" cy="128.0" r="0.8"/><circle cx="465.7" cy="117.1" r="0.8"/><circle cx="456.2" cy="119.0" r="0.8"/><circle cx="464.6" cy="123.0" r="0.8"/><circle cx="459.4" cy="131.2" r="0.8"/><circle cx="457.9" cy="127.8" r="0.8"/><circle cx="461.0" cy="125.5" r="0.8"/><circle cx="462.3" cy="129.5" r="0.8"/><circle cx="457.0" cy="122.8" r="0.8"/><circle cx="460.3" cy="128.8" r="0.8"/><circle cx="459.2" cy="128.6" r="0.8"/><circle cx="455.9" cy="121.6" r="0.8"/><circle cx="463.4" cy="121.7" r="0.8"/><circle cx="456.1" cy="120.3" r="0.8"/><circle cx="455.5" cy="119.6" r="0.8"/><circle cx="456.8" cy="127.9" r="0.8"/><circle cx="456.8" cy="121.2" r="0.8"/><circle cx="457.1" cy="125.4" r="0.8"/><circle cx="455.4" cy="115.6" r="0.8"/><circle cx="463.5" cy="119.0" r="0.8"/><circle cx="460.8" cy="122.5" r="0.8"/><circle cx="462.8" cy="124.5" r="0.8"/><circle cx="455.3" cy="118.8" r="0.8"/><circle cx="455.9" cy="118.5" r="0.8"/><circle cx="457.0" cy="122.0" r="0.8"/><circle cx="461.6" cy="122.0" r="0.8"/><circle cx="458.0" cy="118.0" r="0.8"/><circle cx="459.9" cy="129.8" r="0.8"/><circle cx="462.9" cy="119.8" r="0.8"/><circle cx="464.9" cy="119.5" r="0.8"/><circle cx="463.2" cy="114.7" r="0.8"/><circle cx="455.6" cy="116.9" r="0.8"/><circle cx="461.7" cy="125.7" r="0.8"/><circle cx="463.8" cy="120.4" r="0.8"/><circle cx="458.0" cy="117.4" r="0.8"/><circle cx="461.2" cy="127.4" r="0.8"/><circle cx="459.3" cy="125.5" r="0.8"/><circle cx="461.5" cy="119.3" r="0.8"/><circle cx="455.3" cy="119.8" r="0.8"/><circle cx="462.6" cy="115.6" r="0.8"/><circle cx="461.5" cy="115.4" r="0.8"/><circle cx="464.3" cy="119.4" r="0.8"/><circle cx="461.6" cy="117.9" r="0.8"/><circle cx="457.5" cy="130.1" r="0.8"/><circle cx="464.0" cy="118.3" r="0.8"/><circle cx="457.5" cy="123.6" r="0.8"/><circle cx="463.3" cy="122.7" r="0.8"/><circle cx="455.6" cy="117.7" r="0.8"/><circle cx="458.0" cy="126.8" r="0.8"/><circle cx="457.1" cy="117.9" r="0.8"/><circle cx="458.9" cy="115.7" r="0.8"/><circle cx="459.5" cy="127.0" r="0.8"/><circle cx="462.6" cy="128.0" r="0.8"/><circle cx="459.7" cy="130.5" r="0.8"/><circle cx="456.0" cy="123.7" r="0.8"/><circle cx="463.7" cy="126.4" r="0.8"/><circle cx="459.0" cy="116.2" r="0.8"/><circle cx="465.2" cy="115.9" r="0.8"/><circle cx="462.8" cy="116.2" r="0.8"/><circle cx="461.2" cy="118.3" r="0.8"/><circle cx="455.7" cy="114.5" r="0.8"/><circle cx="463.3" cy="115.6" r="0.8"/><circle cx="463.3" cy="122.6" r="0.8"/><circle cx="459.2" cy="125.3" r="0.8"/><circle cx="464.9" cy="120.5" r="0.8"/><circle cx="462.7" cy="126.1" r="0.8"/><circle cx="464.7" cy="119.2" r="0.8"/><circle cx="461.4" cy="125.0" r="0.8"/><circle cx="464.9" cy="115.7" r="0.8"/><circle cx="463.9" cy="118.6" r="0.8"/><circle cx="466.0" cy="114.4" r="0.8"/><circle cx="459.0" cy="130.0" r="0.8"/><circle cx="462.7" cy="126.1" r="0.8"/><circle cx="462.0" cy="127.2" r="0.8"/><circle cx="459.0" cy="126.9" r="0.8"/><circle cx="454.9" cy="114.5" r="0.8"/><circle cx="457.7" cy="120.4" r="0.8"/><circle cx="454.9" cy="117.7" r="0.8"/><circle cx="457.3" cy="118.9" r="0.8"/><circle cx="457.7" cy="114.7" r="0.8"/><circle cx="454.8" cy="119.0" r="0.8"/><circle cx="461.8" cy="115.0" r="0.8"/><circle cx="463.2" cy="115.3" r="0.8"/><circle cx="461.6" cy="129.6" r="0.8"/><circle cx="457.4" cy="123.7" r="0.8"/><circle cx="462.1" cy="115.7" r="0.8"/><circle cx="456.4" cy="124.2" r="0.8"/><circle cx="455.2" cy="119.3" r="0.8"/><circle cx="456.7" cy="126.1" r="0.8"/><circle cx="461.8" cy="127.4" r="0.8"/><circle cx="463.9" cy="125.6" r="0.8"/><circle cx="462.5" cy="125.4" r="0.8"/><circle cx="461.7" cy="118.0" r="0.8"/><circle cx="456.2" cy="120.0" r="0.8"/><circle cx="465.2" cy="116.6" r="0.8"/><circle cx="456.9" cy="121.2" r="0.8"/><circle cx="458.6" cy="129.1" r="0.8"/><circle cx="457.5" cy="114.5" r="0.8"/><circle cx="461.7" cy="130.2" r="0.8"/><circle cx="457.7" cy="117.3" r="0.8"/><circle cx="462.3" cy="130.3" r="0.8"/><circle cx="463.2" cy="116.9" r="0.8"/><circle cx="463.4" cy="126.6" r="0.8"/><circle cx="454.9" cy="119.5" r="0.8"/><circle cx="462.7" cy="114.4" r="0.8"/><circle cx="462.9" cy="127.1" r="0.8"/><circle cx="461.5" cy="120.2" r="0.8"/><circle cx="458.6" cy="130.4" r="0.8"/><circle cx="454.1" cy="117.2" r="0.8"/><circle cx="457.0" cy="127.0" r="0.8"/><circle cx="456.2" cy="120.4" r="0.8"/><circle cx="459.4" cy="117.3" r="0.8"/><circle cx="465.0" cy="117.3" r="0.8"/><circle cx="455.8" cy="114.5" r="0.8"/><circle cx="462.6" cy="123.9" r="0.8"/><circle cx="463.8" cy="124.5" r="0.8"/><circle cx="461.2" cy="124.4" r="0.8"/><circle cx="461.8" cy="125.8" r="0.8"/><circle cx="459.5" cy="125.3" r="0.8"/><circle cx="463.8" cy="118.2" r="0.8"/><circle cx="457.9" cy="128.0" r="0.8"/><circle cx="462.1" cy="126.6" r="0.8"/><circle cx="462.5" cy="119.0" r="0.8"/><circle cx="456.7" cy="116.9" r="0.8"/><circle cx="455.2" cy="121.8" r="0.8"/><circle cx="460.9" cy="124.1" r="0.8"/><circle cx="462.4" cy="125.7" r="0.8"/><circle cx="459.7" cy="126.6" r="0.8"/><circle cx="456.9" cy="118.8" r="0.8"/><circle cx="458.9" cy="119.1" r="0.8"/><circle cx="457.9" cy="129.9" r="0.8"/><circle cx="463.6" cy="119.3" r="0.8"/><circle cx="464.1" cy="118.9" r="0.8"/><circle cx="463.1" cy="119.1" r="0.8"/><circle cx="461.2" cy="116.5" r="0.8"/><circle cx="456.6" cy="121.2" r="0.8"/><circle cx="457.0" cy="126.2" r="0.8"/><circle cx="459.4" cy="128.6" r="0.8"/><circle cx="457.1" cy="116.6" r="0.8"/><circle cx="464.3" cy="115.6" r="0.8"/><circle cx="457.0" cy="126.9" r="0.8"/><circle cx="457.9" cy="126.5" r="0.8"/><circle cx="457.7" cy="130.9" r="0.8"/><circle cx="464.5" cy="116.9" r="0.8"/><circle cx="454.6" cy="116.1" r="0.8"/><circle cx="462.1" cy="130.5" r="0.8"/><circle cx="458.7" cy="123.8" r="0.8"/><circle cx="457.1" cy="124.5" r="0.8"/><circle cx="461.5" cy="128.5" r="0.8"/><circle cx="454.0" cy="115.5" r="0.8"/><circle cx="457.7" cy="121.7" r="0.8"/><circle cx="459.6" cy="128.4" r="0.8"/><circle cx="455.6" cy="116.9" r="0.8"/><circle cx="463.2" cy="121.1" r="0.8"/><circle cx="458.4" cy="120.6" r="0.8"/><circle cx="463.7" cy="115.1" r="0.8"/><circle cx="457.2" cy="114.1" r="0.8"/><circle cx="459.6" cy="122.0" r="0.8"/><circle cx="461.5" cy="116.4" r="0.8"/><circle cx="458.1" cy="115.7" r="0.8"/><circle cx="458.0" cy="128.2" r="0.8"/><circle cx="457.0" cy="126.0" r="0.8"/><circle cx="459.4" cy="117.1" r="0.8"/><circle cx="457.3" cy="121.4" r="0.8"/><circle cx="459.0" cy="115.7" r="0.8"/><circle cx="462.3" cy="123.2" r="0.8"/><circle cx="466.3" cy="116.0" r="0.8"/><circle cx="459.3" cy="122.0" r="0.8"/><circle cx="459.1" cy="116.6" r="0.8"/><circle cx="458.1" cy="124.9" r="0.8"/><circle cx="458.2" cy="117.5" r="0.8"/><circle cx="457.9" cy="119.7" r="0.8"/><circle cx="461.9" cy="128.5" r="0.8"/><circle cx="462.5" cy="117.4" r="0.8"/><circle cx="456.5" cy="120.0" r="0.8"/><circle cx="463.3" cy="121.7" r="0.8"/><circle cx="461.1" cy="117.3" r="0.8"/><circle cx="456.4" cy="119.6" r="0.8"/><circle cx="462.1" cy="129.7" r="0.8"/><circle cx="458.8" cy="130.6" r="0.8"/><circle cx="461.9" cy="123.3" r="0.8"/><circle cx="464.2" cy="118.6" r="0.8"/><circle cx="457.0" cy="115.1" r="0.8"/><circle cx="457.2" cy="126.0" r="0.8"/><circle cx="456.7" cy="124.5" r="0.8"/><circle cx="461.0" cy="114.6" r="0.8"/><circle cx="455.7" cy="121.8" r="0.8"/><circle cx="456.7" cy="115.4" r="0.8"/><circle cx="456.5" cy="117.5" r="0.8"/><circle cx="457.2" cy="125.6" r="0.8"/><circle cx="457.9" cy="121.1" r="0.8"/><circle cx="462.3" cy="120.6" r="0.8"/><circle cx="457.3" cy="126.4" r="0.8"/><circle cx="459.1" cy="121.5" r="0.8"/><circle cx="458.8" cy="122.6" r="0.8"/><circle cx="457.5" cy="127.5" r="0.8"/><circle cx="461.6" cy="118.1" r="0.8"/><circle cx="461.6" cy="118.7" r="0.8"/><circle cx="457.0" cy="121.5" r="0.8"/><circle cx="457.8" cy="122.4" r="0.8"/><circle cx="464.3" cy="123.7" r="0.8"/><circle cx="462.8" cy="123.2" r="0.8"/><circle cx="458.0" cy="125.5" r="0.8"/><circle cx="459.2" cy="125.0" r="0.8"/><circle cx="459.0" cy="119.4" r="0.8"/><circle cx="455.6" cy="116.1" r="0.8"/><circle cx="459.2" cy="116.2" r="0.8"/><circle cx="458.7" cy="117.2" r="0.8"/><circle cx="463.2" cy="125.8" r="0.8"/><circle cx="462.5" cy="119.5" r="0.8"/><circle cx="462.2" cy="121.3" r="0.8"/><circle cx="463.2" cy="114.7" r="0.8"/><circle cx="458.0" cy="114.5" r="0.8"/><circle cx="463.2" cy="125.1" r="0.8"/><circle cx="464.8" cy="116.5" r="0.8"/><circle cx="459.3" cy="122.8" r="0.8"/><circle cx="456.0" cy="114.8" r="0.8"/><circle cx="457.8" cy="127.5" r="0.8"/><circle cx="459.4" cy="125.0" r="0.8"/><circle cx="459.7" cy="123.6" r="0.8"/><circle cx="459.3" cy="130.2" r="0.8"/><circle cx="455.6" cy="121.6" r="0.8"/><circle cx="464.0" cy="122.0" r="0.8"/><circle cx="465.0" cy="119.3" r="0.8"/><circle cx="457.8" cy="130.6" r="0.8"/><circle cx="463.6" cy="120.5" r="0.8"/><circle cx="457.0" cy="124.5" r="0.8"/><circle cx="456.5" cy="122.2" r="0.8"/><circle cx="464.6" cy="118.4" r="0.8"/><circle cx="462.1" cy="129.3" r="0.8"/><circle cx="459.4" cy="124.7" r="0.8"/><circle cx="462.7" cy="124.3" r="0.8"/><circle cx="456.1" cy="122.7" r="0.8"/><circle cx="456.7" cy="122.1" r="0.8"/><circle cx="457.8" cy="130.7" r="0.8"/><circle cx="459.6" cy="123.7" r="0.8"/><circle cx="458.3" cy="131.2" r="0.8"/><circle cx="462.5" cy="114.7" r="0.8"/><circle cx="456.1" cy="123.6" r="0.8"/><circle cx="462.1" cy="127.8" r="0.8"/><circle cx="457.8" cy="119.1" r="0.8"/><circle cx="461.1" cy="127.5" r="0.8"/><circle cx="456.7" cy="115.1" r="0.8"/><circle cx="457.8" cy="126.7" r="0.8"/><circle cx="464.9" cy="118.4" r="0.8"/><circle cx="458.2" cy="126.8" r="0.8"/><circle cx="458.2" cy="127.9" r="0.8"/><circle cx="459.5" cy="126.4" r="0.8"/><circle cx="461.3" cy="126.2" r="0.8"/><circle cx="458.3" cy="126.1" r="0.8"/><circle cx="457.0" cy="123.0" r="0.8"/><circle cx="457.8" cy="129.8" r="0.8"/><circle cx="461.0" cy="131.0" r="0.8"/><circle cx="460.0" cy="129.9" r="0.8"/><circle cx="461.5" cy="115.7" r="0.8"/><circle cx="459.3" cy="124.9" r="0.8"/><circle cx="458.4" cy="122.9" r="0.8"/><circle cx="458.2" cy="129.8" r="0.8"/><circle cx="458.2" cy="127.9" r="0.8"/><circle cx="456.7" cy="124.5" r="0.8"/><circle cx="456.8" cy="119.9" r="0.8"/><circle cx="462.0" cy="121.5" r="0.8"/><circle cx="462.4" cy="121.7" r="0.8"/><circle cx="459.4" cy="117.3" r="0.8"/><circle cx="456.7" cy="126.6" r="0.8"/><circle cx="458.5" cy="118.7" r="0.8"/><circle cx="456.7" cy="125.2" r="0.8"/><circle cx="462.9" cy="127.2" r="0.8"/><circle cx="463.4" cy="122.2" r="0.8"/><circle cx="456.8" cy="116.4" r="0.8"/><circle cx="463.0" cy="126.4" r="0.8"/><circle cx="460.8" cy="126.2" r="0.8"/><circle cx="459.5" cy="115.0" r="0.8"/><circle cx="464.3" cy="122.9" r="0.8"/><circle cx="465.4" cy="116.1" r="0.8"/><circle cx="456.9" cy="118.4" r="0.8"/><circle cx="457.4" cy="129.9" r="0.8"/><circle cx="465.9" cy="115.8" r="0.8"/><circle cx="463.7" cy="126.2" r="0.8"/><circle cx="457.6" cy="125.5" r="0.8"/><circle cx="464.0" cy="125.5" r="0.8"/><circle cx="458.0" cy="115.0" r="0.8"/><circle cx="463.2" cy="122.0" r="0.8"/><circle cx="464.9" cy="117.0" r="0.8"/><circle cx="457.8" cy="124.0" r="0.8"/><circle cx="464.4" cy="121.5" r="0.8"/><circle cx="464.0" cy="119.9" r="0.8"/><circle cx="460.9" cy="115.3" r="0.8"/><circle cx="463.7" cy="117.1" r="0.8"/><circle cx="461.8" cy="122.6" r="0.8"/><circle cx="459.3" cy="118.7" r="0.8"/><circle cx="463.1" cy="121.4" r="0.8"/><circle cx="466.2" cy="115.8" r="0.8"/><circle cx="461.6" cy="123.9" r="0.8"/><circle cx="463.6" cy="120.9" r="0.8"/><circle cx="462.4" cy="125.8" r="0.8"/><circle cx="454.3" cy="118.4" r="0.8"/><circle cx="457.9" cy="128.6" r="0.8"/><circle cx="462.9" cy="120.2" r="0.8"/><circle cx="456.5" cy="124.3" r="0.8"/><circle cx="461.2" cy="120.3" r="0.8"/><circle cx="457.9" cy="122.8" r="0.8"/><circle cx="457.8" cy="124.2" r="0.8"/><circle cx="458.5" cy="116.8" r="0.8"/><circle cx="458.4" cy="126.3" r="0.8"/><circle cx="464.1" cy="119.0" r="0.8"/><circle cx="455.5" cy="115.3" r="0.8"/><circle cx="457.0" cy="125.8" r="0.8"/><circle cx="459.3" cy="127.0" r="0.8"/><circle cx="464.8" cy="118.3" r="0.8"/><circle cx="456.3" cy="120.3" r="0.8"/><circle cx="456.9" cy="123.7" r="0.8"/><circle cx="456.8" cy="121.7" r="0.8"/><circle cx="463.2" cy="125.5" r="0.8"/><circle cx="461.1" cy="119.6" r="0.8"/><circle cx="458.4" cy="124.7" r="0.8"/><circle cx="454.2" cy="117.6" r="0.8"/><circle cx="465.1" cy="119.3" r="0.8"/><circle cx="455.1" cy="119.6" r="0.8"/><circle cx="461.7" cy="130.2" r="0.8"/><circle cx="459.6" cy="127.1" r="0.8"/><circle cx="462.0" cy="119.3" r="0.8"/><circle cx="461.6" cy="125.3" r="0.8"/><circle cx="459.6" cy="115.3" r="0.8"/><circle cx="461.7" cy="123.4" r="0.8"/><circle cx="462.4" cy="115.9" r="0.8"/><circle cx="463.7" cy="115.1" r="0.8"/><circle cx="456.6" cy="114.7" r="0.8"/><circle cx="456.8" cy="119.0" r="0.8"/><circle cx="459.1" cy="128.4" r="0.8"/><circle cx="457.3" cy="114.9" r="0.8"/><circle cx="463.6" cy="124.9" r="0.8"/><circle cx="463.5" cy="114.3" r="0.8"/><circle cx="462.9" cy="124.1" r="0.8"/><circle cx="457.3" cy="129.5" r="0.8"/><circle cx="459.2" cy="129.6" r="0.8"/><circle cx="462.8" cy="126.1" r="0.8"/><circle cx="463.4" cy="122.6" r="0.8"/><circle cx="458.8" cy="121.9" r="0.8"/><circle cx="456.2" cy="124.4" r="0.8"/><circle cx="464.3" cy="122.4" r="0.8"/><circle cx="465.8" cy="114.5" r="0.8"/><circle cx="459.8" cy="128.8" r="0.8"/><circle cx="455.7" cy="116.5" r="0.8"/><circle cx="458.4" cy="129.5" r="0.8"/><circle cx="461.6" cy="129.1" r="0.8"/><circle cx="465.6" cy="118.4" r="0.8"/><circle cx="461.3" cy="129.8" r="0.8"/><circle cx="456.1" cy="117.1" r="0.8"/><circle cx="463.0" cy="129.2" r="0.8"/><circle cx="454.8" cy="117.2" r="0.8"/><circle cx="461.2" cy="127.1" r="0.8"/><circle cx="459.7" cy="127.4" r="0.8"/><circle cx="457.4" cy="127.8" r="0.8"/><circle cx="453.8" cy="116.3" r="0.8"/><circle cx="456.4" cy="124.1" r="0.8"/><circle cx="456.6" cy="120.9" r="0.8"/><circle cx="464.0" cy="124.5" r="0.8"/><circle cx="461.9" cy="119.3" r="0.8"/><circle cx="456.9" cy="120.0" r="0.8"/><circle cx="465.3" cy="118.8" r="0.8"/><circle cx="462.2" cy="129.0" r="0.8"/><circle cx="457.5" cy="124.3" r="0.8"/><circle cx="463.9" cy="119.2" r="0.8"/><circle cx="458.0" cy="127.5" r="0.8"/><circle cx="457.1" cy="121.7" r="0.8"/><circle cx="464.9" cy="121.6" r="0.8"/><circle cx="459.8" cy="130.4" r="0.8"/><circle cx="457.7" cy="126.8" r="0.8"/><circle cx="464.8" cy="120.3" r="0.8"/><circle cx="464.1" cy="118.6" r="0.8"/><circle cx="457.7" cy="114.6" r="0.8"/><circle cx="463.0" cy="127.3" r="0.8"/><circle cx="464.1" cy="120.0" r="0.8"/><circle cx="462.1" cy="127.9" r="0.8"/><circle cx="457.8" cy="128.4" r="0.8"/><circle cx="459.2" cy="128.4" r="0.8"/><circle cx="461.5" cy="123.1" r="0.8"/><circle cx="459.1" cy="115.0" r="0.8"/><circle cx="459.1" cy="120.4" r="0.8"/><circle cx="458.0" cy="123.6" r="0.8"/><circle cx="458.9" cy="131.0" r="0.8"/><circle cx="463.5" cy="118.2" r="0.8"/><circle cx="459.4" cy="118.8" r="0.8"/><circle cx="457.2" cy="123.2" r="0.8"/><circle cx="463.9" cy="126.1" r="0.8"/><circle cx="459.0" cy="120.3" r="0.8"/><circle cx="459.4" cy="125.2" r="0.8"/><circle cx="463.8" cy="122.8" r="0.8"/><circle cx="457.3" cy="115.7" r="0.8"/><circle cx="457.4" cy="122.4" r="0.8"/><circle cx="455.1" cy="114.8" r="0.8"/><circle cx="455.3" cy="122.0" r="0.8"/><circle cx="459.7" cy="122.3" r="0.8"/><circle cx="458.3" cy="130.7" r="0.8"/><circle cx="456.4" cy="125.0" r="0.8"/><circle cx="458.8" cy="124.6" r="0.8"/><circle cx="460.8" cy="128.7" r="0.8"/><circle cx="454.4" cy="118.4" r="0.8"/><circle cx="461.4" cy="121.7" r="0.8"/><circle cx="462.4" cy="115.6" r="0.8"/><circle cx="462.0" cy="116.5" r="0.8"/><circle cx="462.4" cy="126.4" r="0.8"/><circle cx="454.1" cy="115.2" r="0.8"/><circle cx="458.1" cy="115.4" r="0.8"/><circle cx="463.1" cy="121.0" r="0.8"/><circle cx="457.7" cy="130.7" r="0.8"/><circle cx="456.2" cy="114.7" r="0.8"/><circle cx="456.6" cy="122.9" r="0.8"/><circle cx="457.1" cy="116.2" r="0.8"/><circle cx="457.6" cy="122.3" r="0.8"/><circle cx="462.2" cy="120.3" r="0.8"/><circle cx="460.9" cy="120.5" r="0.8"/><circle cx="463.8" cy="124.9" r="0.8"/><circle cx="458.4" cy="130.6" r="0.8"/><circle cx="465.3" cy="119.1" r="0.8"/><circle cx="456.8" cy="116.3" r="0.8"/><circle cx="459.4" cy="114.9" r="0.8"/><circle cx="461.6" cy="120.6" r="0.8"/><circle cx="464.1" cy="119.8" r="0.8"/><circle cx="457.6" cy="115.6" r="0.8"/><circle cx="457.6" cy="115.7" r="0.8"/><circle cx="456.2" cy="118.8" r="0.8"/><circle cx="457.9" cy="119.5" r="0.8"/><circle cx="462.2" cy="114.2" r="0.8"/><circle cx="464.2" cy="123.6" r="0.8"/><circle cx="461.7" cy="128.5" r="0.8"/><circle cx="454.7" cy="119.4" r="0.8"/><circle cx="456.4" cy="122.4" r="0.8"/><circle cx="454.5" cy="114.1" r="0.8"/><circle cx="462.9" cy="128.3" r="0.8"/><circle cx="461.3" cy="120.5" r="0.8"/><circle cx="457.4" cy="125.7" r="0.8"/><circle cx="456.2" cy="124.6" r="0.8"/><circle cx="462.4" cy="123.5" r="0.8"/><circle cx="458.2" cy="127.9" r="0.8"/><circle cx="461.9" cy="121.3" r="0.8"/><circle cx="457.7" cy="124.8" r="0.8"/><circle cx="459.2" cy="128.3" r="0.8"/><circle cx="462.7" cy="123.7" r="0.8"/><circle cx="458.9" cy="126.1" r="0.8"/><circle cx="456.6" cy="117.9" r="0.8"/><circle cx="462.8" cy="130.1" r="0.8"/><circle cx="457.6" cy="115.3" r="0.8"/><circle cx="462.2" cy="126.7" r="0.8"/><circle cx="462.7" cy="115.8" r="0.8"/><circle cx="463.1" cy="123.4" r="0.8"/><circle cx="455.8" cy="115.0" r="0.8"/><circle cx="456.4" cy="119.0" r="0.8"/><circle cx="464.0" cy="114.3" r="0.8"/><circle cx="462.3" cy="123.2" r="0.8"/><circle cx="456.6" cy="125.2" r="0.8"/><circle cx="455.8" cy="121.5" r="0.8"/><circle cx="463.4" cy="122.4" r="0.8"/><circle cx="457.6" cy="120.5" r="0.8"/><circle cx="464.0" cy="121.6" r="0.8"/><circle cx="458.9" cy="122.6" r="0.8"/><circle cx="459.3" cy="127.1" r="0.8"/><circle cx="456.9" cy="121.0" r="0.8"/><circle cx="459.8" cy="115.0" r="0.8"/><circle cx="456.1" cy="124.3" r="0.8"/><circle cx="458.5" cy="121.4" r="0.8"/><circle cx="458.4" cy="119.9" r="0.8"/><circle cx="461.6" cy="118.0" r="0.8"/><circle cx="457.5" cy="129.6" r="0.8"/><circle cx="461.1" cy="121.3" r="0.8"/><circle cx="457.3" cy="120.8" r="0.8"/><circle cx="461.9" cy="124.3" r="0.8"/><circle cx="461.1" cy="126.3" r="0.8"/><circle cx="455.3" cy="122.0" r="0.8"/><circle cx="463.6" cy="117.7" r="0.8"/><circle cx="466.0" cy="114.3" r="0.8"/><circle cx="459.6" cy="118.5" r="0.8"/><circle cx="461.7" cy="125.7" r="0.8"/><circle cx="458.4" cy="123.0" r="0.8"/><circle cx="463.1" cy="118.4" r="0.8"/><circle cx="458.1" cy="127.7" r="0.8"/><circle cx="456.0" cy="119.5" r="0.8"/><circle cx="465.5" cy="115.7" r="0.8"/><circle cx="457.4" cy="119.6" r="0.8"/><circle cx="462.8" cy="120.7" r="0.8"/><circle cx="461.4" cy="124.3" r="0.8"/><circle cx="464.4" cy="120.1" r="0.8"/><circle cx="462.0" cy="117.4" r="0.8"/><circle cx="464.0" cy="121.0" r="0.8"/><circle cx="462.1" cy="120.1" r="0.8"/><circle cx="456.9" cy="124.9" r="0.8"/><circle cx="457.2" cy="120.8" r="0.8"/><circle cx="456.2" cy="114.5" r="0.8"/><circle cx="457.8" cy="115.6" r="0.8"/><circle cx="464.2" cy="124.7" r="0.8"/><circle cx="455.7" cy="119.8" r="0.8"/><circle cx="456.9" cy="124.9" r="0.8"/><circle cx="461.5" cy="124.8" r="0.8"/><circle cx="463.1" cy="122.6" r="0.8"/><circle cx="457.3" cy="118.9" r="0.8"/><circle cx="454.2" cy="116.6" r="0.8"/><circle cx="456.5" cy="126.2" r="0.8"/><circle cx="466.1" cy="116.4" r="0.8"/><circle cx="462.6" cy="129.0" r="0.8"/><circle cx="461.2" cy="130.6" r="0.8"/><circle cx="458.6" cy="117.1" r="0.8"/><circle cx="463.4" cy="115.7" r="0.8"/><circle cx="457.9" cy="121.7" r="0.8"/><circle cx="457.2" cy="127.6" r="0.8"/><circle cx="458.9" cy="129.2" r="0.8"/><circle cx="456.1" cy="119.0" r="0.8"/><circle cx="456.4" cy="121.3" r="0.8"/><circle cx="456.3" cy="115.8" r="0.8"/><circle cx="465.5" cy="115.1" r="0.8"/><circle cx="457.1" cy="114.6" r="0.8"/><circle cx="455.2" cy="118.8" r="0.8"/><circle cx="462.6" cy="114.5" r="0.8"/><circle cx="458.1" cy="130.2" r="0.8"/><circle cx="459.2" cy="128.7" r="0.8"/><circle cx="463.8" cy="115.0" r="0.8"/><circle cx="462.7" cy="124.6" r="0.8"/><circle cx="460.4" cy="130.8" r="0.8"/><circle cx="456.3" cy="123.5" r="0.8"/><circle cx="462.0" cy="115.3" r="0.8"/><circle cx="461.9" cy="114.1" r="0.8"/><circle cx="456.0" cy="119.8" r="0.8"/><circle cx="463.9" cy="122.1" r="0.8"/><circle cx="461.5" cy="120.8" r="0.8"/><circle cx="458.7" cy="122.4" r="0.8"/><circle cx="458.7" cy="130.8" r="0.8"/><circle cx="457.2" cy="127.1" r="0.8"/><circle cx="461.6" cy="129.8" r="0.8"/><circle cx="462.7" cy="114.1" r="0.8"/><circle cx="456.4" cy="116.6" r="0.8"/><circle cx="458.5" cy="116.3" r="0.8"/><circle cx="456.7" cy="116.2" r="0.8"/><circle cx="458.3" cy="126.4" r="0.8"/><circle cx="463.4" cy="118.1" r="0.8"/><circle cx="462.1" cy="114.3" r="0.8"/><circle cx="461.0" cy="120.3" r="0.8"/><circle cx="460.9" cy="115.3" r="0.8"/><circle cx="459.7" cy="114.6" r="0.8"/><circle cx="455.6" cy="122.6" r="0.8"/><circle cx="459.8" cy="130.8" r="0.8"/><circle cx="458.6" cy="128.5" r="0.8"/><circle cx="465.3" cy="115.8" r="0.8"/><circle cx="455.7" cy="121.9" r="0.8"/><circle cx="460.8" cy="129.5" r="0.8"/><circle cx="456.7" cy="119.9" r="0.8"/><circle cx="464.5" cy="120.6" r="0.8"/><circle cx="461.5" cy="115.7" r="0.8"/><circle cx="462.5" cy="121.4" r="0.8"/><circle cx="462.0" cy="122.5" r="0.8"/><circle cx="461.0" cy="118.0" r="0.8"/><circle cx="458.8" cy="120.1" r="0.8"/><circle cx="461.4" cy="124.2" r="0.8"/><circle cx="459.5" cy="122.6" r="0.8"/><circle cx="458.2" cy="123.7" r="0.8"/><circle cx="464.1" cy="119.7" r="0.8"/><circle cx="461.2" cy="126.9" r="0.8"/><circle cx="461.4" cy="121.2" r="0.8"/><circle cx="458.9" cy="119.1" r="0.8"/><circle cx="459.4" cy="130.8" r="0.8"/><circle cx="461.3" cy="121.4" r="0.8"/><circle cx="462.1" cy="115.2" r="0.8"/><circle cx="458.4" cy="119.3" r="0.8"/><circle cx="455.5" cy="117.1" r="0.8"/><circle cx="461.9" cy="122.5" r="0.8"/><circle cx="465.1" cy="121.0" r="0.8"/><circle cx="457.3" cy="128.4" r="0.8"/><circle cx="457.1" cy="120.2" r="0.8"/><circle cx="463.8" cy="126.3" r="0.8"/><circle cx="458.0" cy="121.2" r="0.8"/><circle cx="457.7" cy="123.9" r="0.8"/><circle cx="457.3" cy="125.9" r="0.8"/><circle cx="463.1" cy="114.4" r="0.8"/><circle cx="456.7" cy="124.0" r="0.8"/><circle cx="465.2" cy="114.4" r="0.8"/><circle cx="462.4" cy="128.9" r="0.8"/><circle cx="465.0" cy="120.9" r="0.8"/><circle cx="459.5" cy="122.7" r="0.8"/><circle cx="460.5" cy="130.9" r="0.8"/><circle cx="463.0" cy="126.1" r="0.8"/><circle cx="463.0" cy="126.4" r="0.8"/><circle cx="462.7" cy="124.5" r="0.8"/><circle cx="465.0" cy="118.3" r="0.8"/><circle cx="458.6" cy="120.5" r="0.8"/><circle cx="458.0" cy="125.7" r="0.8"/><circle cx="458.9" cy="128.7" r="0.8"/><circle cx="462.8" cy="124.8" r="0.8"/><circle cx="460.2" cy="131.0" r="0.8"/><circle cx="456.7" cy="121.6" r="0.8"/><circle cx="456.7" cy="118.7" r="0.8"/><circle cx="456.1" cy="117.9" r="0.8"/><circle cx="457.6" cy="115.9" r="0.8"/><circle cx="458.0" cy="128.9" r="0.8"/><circle cx="457.4" cy="126.8" r="0.8"/><circle cx="464.0" cy="124.8" r="0.8"/><circle cx="459.1" cy="123.8" r="0.8"/><circle cx="455.0" cy="117.7" r="0.8"/><circle cx="462.4" cy="129.0" r="0.8"/><circle cx="457.4" cy="124.6" r="0.8"/><circle cx="461.8" cy="127.1" r="0.8"/><circle cx="458.6" cy="114.4" r="0.8"/><circle cx="459.6" cy="118.4" r="0.8"/><circle cx="458.8" cy="126.8" r="0.8"/><circle cx="458.0" cy="124.4" r="0.8"/><circle cx="455.0" cy="117.1" r="0.8"/><circle cx="462.2" cy="123.6" r="0.8"/><circle cx="462.7" cy="130.3" r="0.8"/><circle cx="461.7" cy="119.9" r="0.8"/><circle cx="458.0" cy="127.0" r="0.8"/><circle cx="465.9" cy="116.4" r="0.8"/><circle cx="461.8" cy="130.7" r="0.8"/><circle cx="457.0" cy="126.8" r="0.8"/><circle cx="455.7" cy="120.2" r="0.8"/><circle cx="464.3" cy="116.4" r="0.8"/><circle cx="457.2" cy="125.3" r="0.8"/><circle cx="462.5" cy="121.5" r="0.8"/><circle cx="461.3" cy="130.1" r="0.8"/><circle cx="459.3" cy="128.3" r="0.8"/><circle cx="457.2" cy="127.5" r="0.8"/><circle cx="458.0" cy="121.1" r="0.8"/><circle cx="465.2" cy="115.4" r="0.8"/><circle cx="458.2" cy="119.4" r="0.8"/><circle cx="459.6" cy="123.0" r="0.8"/><circle cx="466.1" cy="116.3" r="0.8"/><circle cx="464.2" cy="118.0" r="0.8"/><circle cx="456.6" cy="125.0" r="0.8"/><circle cx="462.8" cy="117.6" r="0.8"/><circle cx="463.6" cy="115.3" r="0.8"/><circle cx="456.5" cy="125.1" r="0.8"/><circle cx="458.4" cy="122.0" r="0.8"/><circle cx="465.1" cy="116.0" r="0.8"/><circle cx="462.8" cy="121.1" r="0.8"/><circle cx="464.3" cy="122.6" r="0.8"/><circle cx="460.9" cy="117.1" r="0.8"/><circle cx="455.2" cy="114.3" r="0.8"/><circle cx="457.0" cy="124.7" r="0.8"/><circle cx="463.9" cy="120.4" r="0.8"/><circle cx="462.9" cy="127.3" r="0.8"/><circle cx="455.8" cy="114.3" r="0.8"/><circle cx="456.9" cy="124.4" r="0.8"/><circle cx="463.6" cy="125.6" r="0.8"/><circle cx="465.6" cy="116.4" r="0.8"/><circle cx="459.7" cy="129.6" r="0.8"/><circle cx="465.2" cy="120.4" r="0.8"/><circle cx="461.1" cy="129.5" r="0.8"/><circle cx="462.8" cy="129.9" r="0.8"/><circle cx="461.5" cy="126.8" r="0.8"/><circle cx="456.8" cy="119.6" r="0.8"/><circle cx="459.3" cy="122.3" r="0.8"/><circle cx="459.4" cy="127.2" r="0.8"/><circle cx="461.4" cy="129.6" r="0.8"/><circle cx="461.7" cy="127.9" r="0.8"/><circle cx="455.5" cy="118.7" r="0.8"/><circle cx="456.7" cy="123.7" r="0.8"/><circle cx="454.5" cy="118.5" r="0.8"/><circle cx="454.5" cy="116.0" r="0.8"/><circle cx="456.2" cy="116.5" r="0.8"/><circle cx="462.2" cy="121.2" r="0.8"/><circle cx="464.9" cy="115.0" r="0.8"/><circle cx="461.6" cy="127.7" r="0.8"/><circle cx="457.0" cy="122.8" r="0.8"/><circle cx="464.2" cy="122.3" r="0.8"/><circle cx="461.2" cy="130.6" r="0.8"/><circle cx="463.9" cy="121.0" r="0.8"/><circle cx="457.6" cy="122.1" r="0.8"/><circle cx="455.1" cy="116.3" r="0.8"/><circle cx="457.7" cy="118.7" r="0.8"/><circle cx="458.2" cy="129.8" r="0.8"/><circle cx="455.7" cy="116.3" r="0.8"/><circle cx="455.4" cy="115.3" r="0.8"/><circle cx="454.1" cy="115.1" r="0.8"/><circle cx="464.5" cy="120.2" r="0.8"/><circle cx="463.8" cy="126.3" r="0.8"/><circle cx="463.3" cy="120.6" r="0.8"/><circle cx="463.9" cy="125.9" r="0.8"/><circle cx="459.7" cy="118.2" r="0.8"/><circle cx="462.9" cy="126.5" r="0.8"/><circle cx="465.1" cy="120.7" r="0.8"/><circle cx="463.2" cy="115.8" r="0.8"/><circle cx="456.2" cy="118.2" r="0.8"/><circle cx="462.7" cy="116.6" r="0.8"/><circle cx="457.4" cy="128.8" r="0.8"/><circle cx="458.4" cy="128.8" r="0.8"/><circle cx="463.2" cy="117.6" r="0.8"/><circle cx="458.5" cy="118.6" r="0.8"/><circle cx="455.4" cy="115.0" r="0.8"/><circle cx="459.7" cy="126.3" r="0.8"/><circle cx="461.9" cy="125.7" r="0.8"/><circle cx="463.0" cy="116.5" r="0.8"/><circle cx="456.5" cy="121.2" r="0.8"/><circle cx="463.9" cy="116.4" r="0.8"/><circle cx="455.1" cy="117.4" r="0.8"/><circle cx="462.0" cy="126.2" r="0.8"/><circle cx="461.4" cy="116.9" r="0.8"/><circle cx="459.0" cy="115.1" r="0.8"/><circle cx="459.1" cy="125.0" r="0.8"/><circle cx="457.9" cy="117.3" r="0.8"/><circle cx="461.1" cy="118.4" r="0.8"/><circle cx="460.2" cy="130.5" r="0.8"/><circle cx="478.9" cy="116.0" r="0.8"/><circle cx="465.8" cy="119.3" r="0.8"/><circle cx="449.4" cy="122.4" r="0.8"/><circle cx="471.3" cy="124.4" r="0.8"/><circle cx="466.0" cy="128.4" r="0.8"/><circle cx="470.8" cy="125.0" r="0.8"/><circle cx="464.6" cy="125.5" r="0.8"/><circle cx="480.8" cy="127.8" r="0.8"/><circle cx="475.5" cy="114.9" r="0.8"/><circle cx="470.3" cy="120.4" r="0.8"/><circle cx="470.4" cy="114.9" r="0.8"/><circle cx="467.6" cy="125.7" r="0.8"/><circle cx="472.5" cy="116.9" r="0.8"/><circle cx="464.5" cy="127.4" r="0.8"/><circle cx="472.5" cy="120.8" r="0.8"/><circle cx="443.9" cy="121.8" r="0.8"/><circle cx="466.7" cy="116.0" r="0.8"/><circle cx="452.2" cy="118.8" r="0.8"/><circle cx="454.9" cy="123.1" r="0.8"/><circle cx="469.3" cy="119.2" r="0.8"/><circle cx="467.1" cy="117.7" r="0.8"/><circle cx="471.5" cy="124.7" r="0.8"/><circle cx="468.4" cy="119.4" r="0.8"/><circle cx="467.9" cy="117.5" r="0.8"/><circle cx="476.1" cy="126.8" r="0.8"/><circle cx="478.0" cy="114.8" r="0.8"/><circle cx="453.2" cy="120.0" r="0.8"/><circle cx="450.9" cy="116.1" r="0.8"/><circle cx="454.4" cy="120.6" r="0.8"/><circle cx="474.1" cy="125.7" r="0.8"/><circle cx="438.4" cy="127.4" r="0.8"/><circle cx="469.7" cy="126.2" r="0.8"/><circle cx="467.0" cy="115.9" r="0.8"/><circle cx="466.3" cy="117.4" r="0.8"/><circle cx="450.7" cy="114.9" r="0.8"/><circle cx="470.7" cy="121.0" r="0.8"/><circle cx="468.4" cy="127.7" r="0.8"/><circle cx="465.0" cy="127.2" r="0.8"/><circle cx="474.0" cy="122.3" r="0.8"/><circle cx="441.7" cy="126.3" r="0.8"/><circle cx="450.6" cy="119.5" r="0.8"/><circle cx="451.5" cy="125.0" r="0.8"/><circle cx="451.7" cy="127.0" r="0.8"/><circle cx="447.4" cy="114.6" r="0.8"/><circle cx="456.3" cy="126.6" r="0.8"/><circle cx="479.0" cy="128.3" r="0.8"/><circle cx="456.7" cy="128.4" r="0.8"/><circle cx="454.5" cy="122.7" r="0.8"/><circle cx="449.6" cy="116.8" r="0.8"/><circle cx="464.7" cy="126.5" r="0.8"/><circle cx="466.0" cy="125.8" r="0.8"/><circle cx="510.2" cy="122.1" r="0.8"/><circle cx="450.2" cy="120.6" r="0.8"/><circle cx="468.9" cy="118.7" r="0.8"/><circle cx="450.5" cy="116.7" r="0.8"/><circle cx="475.1" cy="120.7" r="0.8"/><circle cx="452.2" cy="125.1" r="0.8"/><circle cx="434.7" cy="123.1" r="0.8"/><circle cx="454.5" cy="122.0" r="0.8"/><circle cx="464.3" cy="128.4" r="0.8"/><circle cx="474.9" cy="120.4" r="0.8"/><circle cx="450.0" cy="120.0" r="0.8"/><circle cx="452.8" cy="116.9" r="0.8"/><circle cx="479.2" cy="122.6" r="0.8"/><circle cx="449.2" cy="120.0" r="0.8"/><circle cx="456.3" cy="126.4" r="0.8"/><circle cx="469.4" cy="120.2" r="0.8"/><circle cx="453.8" cy="120.6" r="0.8"/><circle cx="451.8" cy="120.1" r="0.8"/><circle cx="475.5" cy="115.3" r="0.8"/><circle cx="507.1" cy="115.8" r="0.8"/><circle cx="493.5" cy="120.1" r="0.8"/><circle cx="492.3" cy="120.5" r="0.8"/><circle cx="484.0" cy="117.5" r="0.8"/><circle cx="481.0" cy="121.8" r="0.8"/><circle cx="479.2" cy="114.1" r="0.8"/><circle cx="442.5" cy="114.9" r="0.8"/><circle cx="440.8" cy="116.6" r="0.8"/><circle cx="474.5" cy="114.9" r="0.8"/><circle cx="477.5" cy="118.4" r="0.8"/><circle cx="445.5" cy="114.5" r="0.8"/><circle cx="447.3" cy="115.8" r="0.8"/><circle cx="481.6" cy="115.4" r="0.8"/><circle cx="485.2" cy="114.9" r="0.8"/></g>
<g fill="#5cb2cb"><circle cx="465.6" cy="113.7" r="0.8"/><circle cx="463.4" cy="113.8" r="0.8"/><circle cx="465.2" cy="111.5" r="0.8"/><circle cx="469.5" cy="112.1" r="0.8"/><circle cx="465.1" cy="108.3" r="0.8"/><circle cx="464.7" cy="113.6" r="0.8"/><circle cx="472.4" cy="84.6" r="0.8"/><circle cx="469.0" cy="110.6" r="0.8"/><circle cx="463.3" cy="113.7" r="0.8"/><circle cx="469.9" cy="92.5" r="0.8"/><circle cx="464.9" cy="113.9" r="0.8"/><circle cx="472.1" cy="104.1" r="0.8"/><circle cx="470.8" cy="106.5" r="0.8"/><circle cx="472.1" cy="106.1" r="0.8"/><circle cx="474.0" cy="101.0" r="0.8"/><circle cx="465.1" cy="112.7" r="0.8"/><circle cx="468.2" cy="113.9" r="0.8"/><circle cx="472.6" cy="77.6" r="0.8"/><circle cx="465.8" cy="105.2" r="0.8"/><circle cx="469.2" cy="112.6" r="0.8"/><circle cx="472.1" cy="83.5" r="0.8"/><circle cx="470.1" cy="103.6" r="0.8"/><circle cx="463.9" cy="111.4" r="0.8"/><circle cx="464.5" cy="112.1" r="0.8"/><circle cx="465.5" cy="90.3" r="0.8"/><circle cx="475.0" cy="94.3" r="0.8"/><circle cx="467.4" cy="81.1" r="0.8"/><circle cx="468.0" cy="110.2" r="0.8"/><circle cx="475.1" cy="78.7" r="0.8"/><circle cx="467.3" cy="109.8" r="0.8"/><circle cx="473.9" cy="99.9" r="0.8"/><circle cx="465.4" cy="111.1" r="0.8"/><circle cx="473.2" cy="70.9" r="0.8"/><circle cx="471.5" cy="80.3" r="0.8"/><circle cx="469.4" cy="104.7" r="0.8"/><circle cx="462.7" cy="108.3" r="0.8"/><circle cx="463.2" cy="101.1" r="0.8"/><circle cx="470.3" cy="108.4" r="0.8"/><circle cx="464.3" cy="102.6" r="0.8"/><circle cx="464.9" cy="92.9" r="0.8"/><circle cx="468.4" cy="76.9" r="0.8"/><circle cx="469.9" cy="111.6" r="0.8"/><circle cx="466.2" cy="93.5" r="0.8"/><circle cx="477.1" cy="75.5" r="0.8"/><circle cx="470.4" cy="90.1" r="0.8"/><circle cx="470.9" cy="84.6" r="0.8"/><circle cx="464.3" cy="110.6" r="0.8"/><circle cx="467.4" cy="109.7" r="0.8"/><circle cx="470.3" cy="86.5" r="0.8"/><circle cx="465.5" cy="107.2" r="0.8"/><circle cx="465.4" cy="111.9" r="0.8"/><circle cx="464.5" cy="96.5" r="0.8"/><circle cx="467.2" cy="114.1" r="0.8"/><circle cx="472.1" cy="106.7" r="0.8"/><circle cx="462.4" cy="108.8" r="0.8"/><circle cx="469.4" cy="90.4" r="0.8"/><circle cx="470.3" cy="91.7" r="0.8"/><circle cx="465.5" cy="112.1" r="0.8"/><circle cx="465.9" cy="113.3" r="0.8"/><circle cx="465.7" cy="104.9" r="0.8"/><circle cx="463.5" cy="110.3" r="0.8"/><circle cx="466.7" cy="109.7" r="0.8"/><circle cx="468.2" cy="114.1" r="0.8"/><circle cx="464.0" cy="112.6" r="0.8"/><circle cx="470.0" cy="108.2" r="0.8"/><circle cx="479.1" cy="73.6" r="0.8"/><circle cx="463.3" cy="101.6" r="0.8"/><circle cx="463.3" cy="110.3" r="0.8"/><circle cx="463.0" cy="112.9" r="0.8"/><circle cx="462.7" cy="107.7" r="0.8"/><circle cx="470.4" cy="108.5" r="0.8"/><circle cx="466.6" cy="110.1" r="0.8"/><circle cx="465.1" cy="80.3" r="0.8"/><circle cx="468.4" cy="114.0" r="0.8"/><circle cx="465.7" cy="83.9" r="0.8"/><circle cx="467.1" cy="114.0" r="0.8"/><circle cx="467.5" cy="96.7" r="0.8"/><circle cx="474.8" cy="89.9" r="0.8"/><circle cx="465.1" cy="108.3" r="0.8"/><circle cx="468.6" cy="103.5" r="0.8"/><circle cx="467.3" cy="113.0" r="0.8"/><circle cx="463.8" cy="113.8" r="0.8"/><circle cx="463.2" cy="96.2" r="0.8"/><circle cx="468.1" cy="112.0" r="0.8"/><circle cx="466.5" cy="79.0" r="0.8"/><circle cx="466.6" cy="90.2" r="0.8"/><circle cx="475.5" cy="94.9" r="0.8"/><circle cx="465.6" cy="109.2" r="0.8"/><circle cx="473.2" cy="76.7" r="0.8"/><circle cx="469.0" cy="87.7" r="0.8"/><circle cx="471.3" cy="101.3" r="0.8"/><circle cx="468.4" cy="104.6" r="0.8"/><circle cx="465.1" cy="111.7" r="0.8"/><circle cx="471.1" cy="104.2" r="0.8"/><circle cx="463.6" cy="112.1" r="0.8"/><circle cx="470.7" cy="93.0" r="0.8"/><circle cx="465.1" cy="114.0" r="0.8"/><circle cx="468.2" cy="99.6" r="0.8"/><circle cx="462.5" cy="114.1" r="0.8"/><circle cx="469.7" cy="110.5" r="0.8"/><circle cx="464.4" cy="111.4" r="0.8"/><circle cx="473.1" cy="97.6" r="0.8"/><circle cx="465.6" cy="108.0" r="0.8"/><circle cx="467.7" cy="114.1" r="0.8"/><circle cx="465.5" cy="105.6" r="0.8"/><circle cx="466.3" cy="111.0" r="0.8"/><circle cx="464.6" cy="112.3" r="0.8"/><circle cx="463.4" cy="113.1" r="0.8"/><circle cx="467.3" cy="99.1" r="0.8"/><circle cx="468.7" cy="113.1" r="0.8"/><circle cx="465.0" cy="113.7" r="0.8"/><circle cx="462.7" cy="108.6" r="0.8"/><circle cx="466.4" cy="108.5" r="0.8"/><circle cx="467.5" cy="90.4" r="0.8"/><circle cx="468.8" cy="110.9" r="0.8"/><circle cx="462.9" cy="101.4" r="0.8"/><circle cx="464.3" cy="110.1" r="0.8"/><circle cx="469.1" cy="111.1" r="0.8"/><circle cx="465.8" cy="96.4" r="0.8"/><circle cx="470.8" cy="99.7" r="0.8"/><circle cx="472.1" cy="84.0" r="0.8"/><circle cx="471.0" cy="89.1" r="0.8"/><circle cx="463.7" cy="108.4" r="0.8"/><circle cx="470.5" cy="110.6" r="0.8"/><circle cx="463.1" cy="95.9" r="0.8"/><circle cx="470.6" cy="96.3" r="0.8"/><circle cx="467.1" cy="76.6" r="0.8"/><circle cx="474.0" cy="93.8" r="0.8"/><circle cx="473.2" cy="83.9" r="0.8"/><circle cx="468.5" cy="107.5" r="0.8"/><circle cx="464.6" cy="112.2" r="0.8"/><circle cx="463.6" cy="92.6" r="0.8"/><circle cx="463.5" cy="112.9" r="0.8"/><circle cx="467.3" cy="109.0" r="0.8"/><circle cx="468.4" cy="113.4" r="0.8"/><circle cx="477.0" cy="95.9" r="0.8"/><circle cx="464.8" cy="112.7" r="0.8"/><circle cx="466.0" cy="110.7" r="0.8"/><circle cx="470.3" cy="108.8" r="0.8"/><circle cx="468.6" cy="77.2" r="0.8"/><circle cx="472.1" cy="105.3" r="0.8"/><circle cx="463.7" cy="101.5" r="0.8"/><circle cx="468.4" cy="112.2" r="0.8"/><circle cx="469.1" cy="108.0" r="0.8"/><circle cx="471.0" cy="103.5" r="0.8"/><circle cx="463.0" cy="108.8" r="0.8"/><circle cx="467.3" cy="91.7" r="0.8"/><circle cx="468.8" cy="102.0" r="0.8"/><circle cx="469.8" cy="103.0" r="0.8"/><circle cx="464.3" cy="112.7" r="0.8"/><circle cx="470.3" cy="111.0" r="0.8"/><circle cx="467.5" cy="83.9" r="0.8"/><circle cx="467.5" cy="113.9" r="0.8"/><circle cx="469.2" cy="110.7" r="0.8"/><circle cx="462.4" cy="110.1" r="0.8"/><circle cx="463.1" cy="95.7" r="0.8"/><circle cx="466.1" cy="85.3" r="0.8"/><circle cx="464.9" cy="98.4" r="0.8"/><circle cx="465.6" cy="94.8" r="0.8"/><circle cx="470.2" cy="110.7" r="0.8"/><circle cx="463.7" cy="114.0" r="0.8"/><circle cx="463.4" cy="92.7" r="0.8"/><circle cx="465.5" cy="108.8" r="0.8"/><circle cx="465.4" cy="107.9" r="0.8"/><circle cx="464.7" cy="113.9" r="0.8"/><circle cx="464.2" cy="109.9" r="0.8"/><circle cx="465.6" cy="106.6" r="0.8"/><circle cx="468.5" cy="112.4" r="0.8"/><circle cx="464.6" cy="90.2" r="0.8"/><circle cx="469.4" cy="110.7" r="0.8"/><circle cx="471.6" cy="80.8" r="0.8"/><circle cx="465.5" cy="90.8" r="0.8"/><circle cx="462.6" cy="113.4" r="0.8"/><circle cx="470.3" cy="111.6" r="0.8"/><circle cx="462.7" cy="112.2" r="0.8"/><circle cx="467.3" cy="113.3" r="0.8"/><circle cx="465.3" cy="113.8" r="0.8"/><circle cx="470.0" cy="106.4" r="0.8"/><circle cx="467.2" cy="113.8" r="0.8"/><circle cx="471.3" cy="72.7" r="0.8"/><circle cx="470.5" cy="108.2" r="0.8"/><circle cx="468.6" cy="97.6" r="0.8"/><circle cx="479.1" cy="88.2" r="0.8"/><circle cx="471.9" cy="106.7" r="0.8"/><circle cx="471.9" cy="78.3" r="0.8"/><circle cx="473.9" cy="71.1" r="0.8"/><circle cx="462.5" cy="110.4" r="0.8"/><circle cx="474.7" cy="82.8" r="0.8"/><circle cx="469.5" cy="111.2" r="0.8"/><circle cx="466.0" cy="79.3" r="0.8"/><circle cx="464.7" cy="107.4" r="0.8"/><circle cx="466.7" cy="98.8" r="0.8"/><circle cx="467.5" cy="90.0" r="0.8"/><circle cx="465.4" cy="104.5" r="0.8"/><circle cx="468.8" cy="87.8" r="0.8"/><circle cx="462.6" cy="108.3" r="0.8"/><circle cx="465.9" cy="114.1" r="0.8"/><circle cx="467.5" cy="94.1" r="0.8"/><circle cx="466.6" cy="104.4" r="0.8"/><circle cx="466.6" cy="111.4" r="0.8"/><circle cx="463.6" cy="91.8" r="0.8"/><circle cx="466.5" cy="109.6" r="0.8"/><circle cx="467.9" cy="110.7" r="0.8"/><circle cx="469.1" cy="104.5" r="0.8"/><circle cx="468.3" cy="104.4" r="0.8"/><circle cx="469.4" cy="113.4" r="0.8"/><circle cx="466.4" cy="103.7" r="0.8"/><circle cx="466.4" cy="112.9" r="0.8"/><circle cx="464.1" cy="109.0" r="0.8"/><circle cx="466.5" cy="112.7" r="0.8"/><circle cx="468.4" cy="111.4" r="0.8"/><circle cx="466.3" cy="95.7" r="0.8"/><circle cx="465.3" cy="114.0" r="0.8"/><circle cx="472.0" cy="106.5" r="0.8"/><circle cx="476.1" cy="99.3" r="0.8"/><circle cx="465.1" cy="112.1" r="0.8"/><circle cx="462.3" cy="114.0" r="0.8"/><circle cx="464.0" cy="89.1" r="0.8"/><circle cx="473.6" cy="103.3" r="0.8"/><circle cx="462.1" cy="110.3" r="0.8"/><circle cx="478.3" cy="74.9" r="0.8"/><circle cx="468.8" cy="93.0" r="0.8"/><circle cx="463.0" cy="107.9" r="0.8"/><circle cx="463.0" cy="99.8" r="0.8"/><circle cx="465.1" cy="98.2" r="0.8"/><circle cx="467.5" cy="107.7" r="0.8"/><circle cx="470.4" cy="109.5" r="0.8"/><circle cx="464.1" cy="114.1" r="0.8"/><circle cx="468.6" cy="110.5" r="0.8"/><circle cx="471.7" cy="105.8" r="0.8"/><circle cx="463.5" cy="107.4" r="0.8"/><circle cx="463.6" cy="102.4" r="0.8"/><circle cx="466.2" cy="112.3" r="0.8"/><circle cx="466.0" cy="96.7" r="0.8"/><circle cx="468.9" cy="99.4" r="0.8"/><circle cx="471.3" cy="101.2" r="0.8"/><circle cx="462.1" cy="112.5" r="0.8"/><circle cx="467.8" cy="113.7" r="0.8"/><circle cx="465.9" cy="89.7" r="0.8"/><circle cx="471.3" cy="108.1" r="0.8"/><circle cx="470.7" cy="104.2" r="0.8"/><circle cx="462.2" cy="113.4" r="0.8"/><circle cx="467.7" cy="110.6" r="0.8"/><circle cx="473.3" cy="102.8" r="0.8"/><circle cx="474.3" cy="82.2" r="0.8"/><circle cx="465.4" cy="113.5" r="0.8"/><circle cx="469.5" cy="94.1" r="0.8"/><circle cx="474.3" cy="93.5" r="0.8"/><circle cx="464.4" cy="104.1" r="0.8"/><circle cx="470.6" cy="99.7" r="0.8"/><circle cx="464.5" cy="90.6" r="0.8"/><circle cx="465.7" cy="109.3" r="0.8"/><circle cx="468.5" cy="112.8" r="0.8"/><circle cx="465.0" cy="113.0" r="0.8"/><circle cx="462.7" cy="113.5" r="0.8"/><circle cx="472.8" cy="106.1" r="0.8"/><circle cx="464.9" cy="109.8" r="0.8"/><circle cx="464.6" cy="114.1" r="0.8"/><circle cx="466.8" cy="104.3" r="0.8"/><circle cx="463.2" cy="95.0" r="0.8"/><circle cx="463.7" cy="107.9" r="0.8"/><circle cx="465.0" cy="102.6" r="0.8"/><circle cx="464.6" cy="110.5" r="0.8"/><circle cx="469.8" cy="104.9" r="0.8"/><circle cx="465.2" cy="111.3" r="0.8"/><circle cx="473.3" cy="73.1" r="0.8"/><circle cx="467.3" cy="102.2" r="0.8"/><circle cx="473.8" cy="85.2" r="0.8"/><circle cx="471.0" cy="109.3" r="0.8"/><circle cx="474.0" cy="101.0" r="0.8"/><circle cx="472.2" cy="93.2" r="0.8"/><circle cx="464.0" cy="113.5" r="0.8"/><circle cx="473.4" cy="101.0" r="0.8"/><circle cx="468.5" cy="111.5" r="0.8"/><circle cx="464.6" cy="113.4" r="0.8"/><circle cx="471.6" cy="102.0" r="0.8"/><circle cx="474.6" cy="99.3" r="0.8"/><circle cx="469.5" cy="90.2" r="0.8"/><circle cx="472.1" cy="105.1" r="0.8"/><circle cx="464.0" cy="108.2" r="0.8"/><circle cx="464.3" cy="110.0" r="0.8"/><circle cx="473.0" cy="103.9" r="0.8"/><circle cx="478.0" cy="90.5" r="0.8"/><circle cx="465.1" cy="96.9" r="0.8"/><circle cx="468.7" cy="106.8" r="0.8"/><circle cx="464.3" cy="108.2" r="0.8"/><circle cx="473.7" cy="101.7" r="0.8"/><circle cx="468.5" cy="110.5" r="0.8"/><circle cx="469.6" cy="109.6" r="0.8"/><circle cx="467.5" cy="84.0" r="0.8"/><circle cx="471.5" cy="103.1" r="0.8"/><circle cx="466.0" cy="104.8" r="0.8"/><circle cx="467.7" cy="89.0" r="0.8"/><circle cx="464.9" cy="111.5" r="0.8"/><circle cx="463.5" cy="104.0" r="0.8"/><circle cx="465.7" cy="107.9" r="0.8"/><circle cx="467.4" cy="107.4" r="0.8"/><circle cx="462.7" cy="112.6" r="0.8"/><circle cx="476.3" cy="77.9" r="0.8"/><circle cx="464.3" cy="104.7" r="0.8"/><circle cx="465.0" cy="113.3" r="0.8"/><circle cx="465.2" cy="85.7" r="0.8"/><circle cx="463.5" cy="113.5" r="0.8"/><circle cx="472.3" cy="97.8" r="0.8"/><circle cx="464.6" cy="107.7" r="0.8"/><circle cx="463.3" cy="113.7" r="0.8"/><circle cx="461.9" cy="113.9" r="0.8"/><circle cx="466.1" cy="112.9" r="0.8"/><circle cx="473.9" cy="102.3" r="0.8"/><circle cx="463.7" cy="101.0" r="0.8"/><circle cx="467.6" cy="112.4" r="0.8"/><circle cx="466.8" cy="106.8" r="0.8"/><circle cx="465.9" cy="103.3" r="0.8"/><circle cx="462.2" cy="112.2" r="0.8"/><circle cx="464.3" cy="114.1" r="0.8"/><circle cx="469.6" cy="101.2" r="0.8"/><circle cx="465.8" cy="111.3" r="0.8"/><circle cx="472.7" cy="74.8" r="0.8"/><circle cx="469.2" cy="112.7" r="0.8"/><circle cx="466.2" cy="92.2" r="0.8"/><circle cx="465.3" cy="112.3" r="0.8"/><circle cx="475.2" cy="72.0" r="0.8"/><circle cx="467.3" cy="110.9" r="0.8"/><circle cx="467.8" cy="108.5" r="0.8"/><circle cx="465.6" cy="113.8" r="0.8"/><circle cx="466.1" cy="111.2" r="0.8"/><circle cx="465.8" cy="112.7" r="0.8"/><circle cx="464.6" cy="84.0" r="0.8"/><circle cx="467.6" cy="113.6" r="0.8"/><circle cx="470.0" cy="99.9" r="0.8"/><circle cx="472.2" cy="106.0" r="0.8"/><circle cx="467.8" cy="113.5" r="0.8"/><circle cx="469.3" cy="102.1" r="0.8"/><circle cx="470.6" cy="109.8" r="0.8"/><circle cx="465.3" cy="108.2" r="0.8"/><circle cx="468.5" cy="113.7" r="0.8"/><circle cx="465.5" cy="114.0" r="0.8"/><circle cx="475.5" cy="100.7" r="0.8"/><circle cx="471.9" cy="100.5" r="0.8"/><circle cx="467.1" cy="111.1" r="0.8"/><circle cx="466.6" cy="100.3" r="0.8"/><circle cx="465.0" cy="100.5" r="0.8"/><circle cx="464.9" cy="93.1" r="0.8"/><circle cx="465.9" cy="113.8" r="0.8"/><circle cx="468.2" cy="113.2" r="0.8"/><circle cx="467.8" cy="114.0" r="0.8"/><circle cx="471.4" cy="108.4" r="0.8"/><circle cx="463.7" cy="107.4" r="0.8"/><circle cx="467.1" cy="91.6" r="0.8"/><circle cx="466.0" cy="101.4" r="0.8"/><circle cx="466.3" cy="95.9" r="0.8"/><circle cx="463.7" cy="113.4" r="0.8"/><circle cx="463.4" cy="110.7" r="0.8"/><circle cx="467.7" cy="104.1" r="0.8"/><circle cx="471.4" cy="95.7" r="0.8"/><circle cx="470.4" cy="94.7" r="0.8"/><circle cx="464.2" cy="112.5" r="0.8"/><circle cx="468.5" cy="114.1" r="0.8"/><circle cx="471.3" cy="78.3" r="0.8"/><circle cx="466.1" cy="109.0" r="0.8"/><circle cx="472.7" cy="105.3" r="0.8"/><circle cx="471.8" cy="103.9" r="0.8"/><circle cx="471.3" cy="108.3" r="0.8"/><circle cx="466.8" cy="107.4" r="0.8"/><circle cx="463.1" cy="109.8" r="0.8"/><circle cx="465.7" cy="112.3" r="0.8"/><circle cx="467.7" cy="114.1" r="0.8"/><circle cx="465.7" cy="104.0" r="0.8"/><circle cx="465.0" cy="109.8" r="0.8"/><circle cx="472.5" cy="88.9" r="0.8"/><circle cx="463.5" cy="106.6" r="0.8"/><circle cx="467.6" cy="112.3" r="0.8"/><circle cx="465.1" cy="111.5" r="0.8"/><circle cx="470.2" cy="103.1" r="0.8"/><circle cx="471.9" cy="99.5" r="0.8"/><circle cx="468.4" cy="103.6" r="0.8"/><circle cx="471.0" cy="106.7" r="0.8"/><circle cx="472.9" cy="98.1" r="0.8"/><circle cx="472.9" cy="80.1" r="0.8"/><circle cx="463.2" cy="109.6" r="0.8"/><circle cx="472.8" cy="99.0" r="0.8"/><circle cx="463.5" cy="96.8" r="0.8"/><circle cx="468.4" cy="91.2" r="0.8"/><circle cx="472.9" cy="100.6" r="0.8"/><circle cx="464.3" cy="113.3" r="0.8"/><circle cx="474.4" cy="86.4" r="0.8"/><circle cx="463.8" cy="90.2" r="0.8"/><circle cx="463.7" cy="113.9" r="0.8"/><circle cx="467.1" cy="108.2" r="0.8"/><circle cx="465.2" cy="113.3" r="0.8"/><circle cx="464.6" cy="112.5" r="0.8"/><circle cx="463.5" cy="106.8" r="0.8"/><circle cx="464.7" cy="83.4" r="0.8"/><circle cx="470.0" cy="99.5" r="0.8"/><circle cx="473.8" cy="104.5" r="0.8"/><circle cx="471.5" cy="104.6" r="0.8"/><circle cx="467.4" cy="100.0" r="0.8"/><circle cx="470.7" cy="104.5" r="0.8"/><circle cx="465.8" cy="112.2" r="0.8"/><circle cx="469.4" cy="111.2" r="0.8"/><circle cx="470.1" cy="84.5" r="0.8"/><circle cx="473.9" cy="85.4" r="0.8"/><circle cx="465.8" cy="109.5" r="0.8"/><circle cx="468.0" cy="84.9" r="0.8"/><circle cx="465.4" cy="109.2" r="0.8"/><circle cx="472.7" cy="79.3" r="0.8"/><circle cx="466.1" cy="110.9" r="0.8"/><circle cx="463.7" cy="89.2" r="0.8"/><circle cx="469.2" cy="98.4" r="0.8"/><circle cx="465.4" cy="113.4" r="0.8"/><circle cx="465.6" cy="112.7" r="0.8"/><circle cx="465.6" cy="111.9" r="0.8"/><circle cx="469.8" cy="112.6" r="0.8"/><circle cx="465.9" cy="111.0" r="0.8"/><circle cx="469.9" cy="103.5" r="0.8"/><circle cx="470.1" cy="106.2" r="0.8"/><circle cx="470.3" cy="108.0" r="0.8"/><circle cx="468.7" cy="103.9" r="0.8"/><circle cx="464.4" cy="105.4" r="0.8"/><circle cx="464.7" cy="96.0" r="0.8"/><circle cx="474.2" cy="104.0" r="0.8"/><circle cx="473.1" cy="105.4" r="0.8"/><circle cx="473.6" cy="91.4" r="0.8"/><circle cx="469.4" cy="97.5" r="0.8"/><circle cx="467.7" cy="106.4" r="0.8"/><circle cx="465.0" cy="110.4" r="0.8"/><circle cx="464.0" cy="113.0" r="0.8"/><circle cx="468.6" cy="109.0" r="0.8"/><circle cx="463.2" cy="112.4" r="0.8"/><circle cx="476.1" cy="79.3" r="0.8"/><circle cx="464.7" cy="98.8" r="0.8"/><circle cx="462.6" cy="114.1" r="0.8"/><circle cx="469.5" cy="102.0" r="0.8"/><circle cx="472.4" cy="106.1" r="0.8"/><circle cx="464.7" cy="84.9" r="0.8"/><circle cx="463.9" cy="111.6" r="0.8"/><circle cx="464.7" cy="107.6" r="0.8"/><circle cx="464.3" cy="108.5" r="0.8"/><circle cx="468.4" cy="106.8" r="0.8"/><circle cx="466.1" cy="114.0" r="0.8"/><circle cx="464.3" cy="107.9" r="0.8"/><circle cx="473.4" cy="104.3" r="0.8"/><circle cx="472.9" cy="98.3" r="0.8"/><circle cx="464.7" cy="86.1" r="0.8"/><circle cx="467.5" cy="114.0" r="0.8"/><circle cx="474.5" cy="101.7" r="0.8"/><circle cx="465.0" cy="92.9" r="0.8"/><circle cx="464.3" cy="112.7" r="0.8"/><circle cx="465.9" cy="113.8" r="0.8"/><circle cx="463.8" cy="113.3" r="0.8"/><circle cx="468.5" cy="85.1" r="0.8"/><circle cx="474.3" cy="79.3" r="0.8"/><circle cx="463.8" cy="110.0" r="0.8"/><circle cx="467.9" cy="75.0" r="0.8"/><circle cx="468.6" cy="113.1" r="0.8"/><circle cx="468.8" cy="110.6" r="0.8"/><circle cx="465.9" cy="112.7" r="0.8"/><circle cx="471.2" cy="96.7" r="0.8"/><circle cx="467.1" cy="113.9" r="0.8"/><circle cx="475.6" cy="85.3" r="0.8"/><circle cx="462.8" cy="100.7" r="0.8"/><circle cx="465.9" cy="114.0" r="0.8"/><circle cx="466.5" cy="113.9" r="0.8"/><circle cx="468.1" cy="112.6" r="0.8"/><circle cx="466.9" cy="114.0" r="0.8"/><circle cx="470.8" cy="110.6" r="0.8"/><circle cx="469.2" cy="101.5" r="0.8"/><circle cx="464.0" cy="113.9" r="0.8"/><circle cx="468.8" cy="106.0" r="0.8"/><circle cx="468.7" cy="113.6" r="0.8"/><circle cx="475.4" cy="85.1" r="0.8"/><circle cx="467.0" cy="113.8" r="0.8"/><circle cx="462.9" cy="109.3" r="0.8"/><circle cx="465.4" cy="107.7" r="0.8"/><circle cx="466.6" cy="112.8" r="0.8"/><circle cx="463.7" cy="112.2" r="0.8"/><circle cx="472.9" cy="106.2" r="0.8"/><circle cx="466.8" cy="89.3" r="0.8"/><circle cx="471.4" cy="74.1" r="0.8"/><circle cx="462.0" cy="113.1" r="0.8"/><circle cx="470.9" cy="88.4" r="0.8"/><circle cx="471.1" cy="71.6" r="0.8"/><circle cx="462.6" cy="114.0" r="0.8"/><circle cx="464.2" cy="113.5" r="0.8"/><circle cx="464.9" cy="103.0" r="0.8"/><circle cx="475.4" cy="90.5" r="0.8"/><circle cx="473.7" cy="98.1" r="0.8"/><circle cx="468.6" cy="88.1" r="0.8"/><circle cx="464.7" cy="95.3" r="0.8"/><circle cx="463.0" cy="111.5" r="0.8"/><circle cx="470.4" cy="77.7" r="0.8"/><circle cx="470.3" cy="96.1" r="0.8"/><circle cx="463.9" cy="111.5" r="0.8"/><circle cx="463.5" cy="111.8" r="0.8"/><circle cx="465.8" cy="108.1" r="0.8"/><circle cx="473.0" cy="78.0" r="0.8"/><circle cx="465.1" cy="111.7" r="0.8"/><circle cx="463.3" cy="103.0" r="0.8"/><circle cx="467.8" cy="108.1" r="0.8"/><circle cx="463.9" cy="113.9" r="0.8"/><circle cx="467.1" cy="105.7" r="0.8"/><circle cx="465.6" cy="96.8" r="0.8"/><circle cx="464.8" cy="114.0" r="0.8"/><circle cx="463.8" cy="112.9" r="0.8"/><circle cx="468.1" cy="114.0" r="0.8"/><circle cx="466.5" cy="110.5" r="0.8"/><circle cx="463.4" cy="96.5" r="0.8"/><circle cx="467.8" cy="83.5" r="0.8"/><circle cx="471.8" cy="99.8" r="0.8"/><circle cx="471.4" cy="103.2" r="0.8"/><circle cx="463.4" cy="112.4" r="0.8"/><circle cx="467.6" cy="108.4" r="0.8"/><circle cx="464.2" cy="113.7" r="0.8"/><circle cx="466.3" cy="112.4" r="0.8"/><circle cx="469.0" cy="111.2" r="0.8"/><circle cx="464.6" cy="113.7" r="0.8"/><circle cx="464.2" cy="107.3" r="0.8"/><circle cx="464.3" cy="90.5" r="0.8"/><circle cx="463.7" cy="110.4" r="0.8"/><circle cx="468.3" cy="112.3" r="0.8"/><circle cx="471.1" cy="105.2" r="0.8"/><circle cx="463.0" cy="94.4" r="0.8"/><circle cx="474.3" cy="92.7" r="0.8"/><circle cx="463.3" cy="113.0" r="0.8"/><circle cx="466.2" cy="101.5" r="0.8"/><circle cx="463.1" cy="112.7" r="0.8"/><circle cx="465.1" cy="113.9" r="0.8"/><circle cx="462.2" cy="112.6" r="0.8"/><circle cx="467.3" cy="113.3" r="0.8"/><circle cx="468.6" cy="92.9" r="0.8"/><circle cx="465.0" cy="113.9" r="0.8"/><circle cx="463.0" cy="106.6" r="0.8"/><circle cx="469.0" cy="104.0" r="0.8"/><circle cx="470.3" cy="100.4" r="0.8"/><circle cx="470.4" cy="107.6" r="0.8"/><circle cx="465.9" cy="99.5" r="0.8"/><circle cx="467.7" cy="107.5" r="0.8"/><circle cx="466.3" cy="90.4" r="0.8"/><circle cx="467.3" cy="104.3" r="0.8"/><circle cx="473.2" cy="99.5" r="0.8"/><circle cx="463.5" cy="111.9" r="0.8"/><circle cx="462.8" cy="100.9" r="0.8"/><circle cx="464.0" cy="103.3" r="0.8"/><circle cx="465.1" cy="111.2" r="0.8"/><circle cx="471.0" cy="103.1" r="0.8"/><circle cx="467.9" cy="99.7" r="0.8"/><circle cx="472.6" cy="102.8" r="0.8"/><circle cx="469.1" cy="103.2" r="0.8"/><circle cx="464.1" cy="99.1" r="0.8"/><circle cx="464.4" cy="105.6" r="0.8"/><circle cx="476.1" cy="96.5" r="0.8"/><circle cx="466.4" cy="105.6" r="0.8"/><circle cx="468.6" cy="98.9" r="0.8"/><circle cx="477.8" cy="71.5" r="0.8"/><circle cx="469.2" cy="113.1" r="0.8"/><circle cx="465.1" cy="106.2" r="0.8"/><circle cx="471.7" cy="105.0" r="0.8"/><circle cx="471.0" cy="83.3" r="0.8"/><circle cx="468.3" cy="112.5" r="0.8"/><circle cx="467.2" cy="86.3" r="0.8"/><circle cx="464.3" cy="114.1" r="0.8"/><circle cx="466.4" cy="89.5" r="0.8"/><circle cx="474.2" cy="91.2" r="0.8"/><circle cx="471.2" cy="105.9" r="0.8"/><circle cx="466.6" cy="87.2" r="0.8"/><circle cx="472.2" cy="70.5" r="0.8"/><circle cx="470.0" cy="79.1" r="0.8"/><circle cx="475.6" cy="79.9" r="0.8"/><circle cx="467.8" cy="75.4" r="0.8"/><circle cx="463.0" cy="113.6" r="0.8"/><circle cx="463.7" cy="92.5" r="0.8"/><circle cx="464.0" cy="108.9" r="0.8"/><circle cx="468.9" cy="101.0" r="0.8"/><circle cx="472.1" cy="100.9" r="0.8"/><circle cx="468.6" cy="111.6" r="0.8"/><circle cx="466.3" cy="107.5" r="0.8"/><circle cx="476.2" cy="77.1" r="0.8"/><circle cx="466.5" cy="103.8" r="0.8"/><circle cx="474.5" cy="99.3" r="0.8"/><circle cx="467.8" cy="111.8" r="0.8"/><circle cx="474.8" cy="101.5" r="0.8"/><circle cx="465.7" cy="102.1" r="0.8"/><circle cx="464.7" cy="111.0" r="0.8"/><circle cx="467.4" cy="110.9" r="0.8"/><circle cx="473.8" cy="97.0" r="0.8"/><circle cx="474.3" cy="71.8" r="0.8"/><circle cx="467.0" cy="101.4" r="0.8"/><circle cx="465.5" cy="108.0" r="0.8"/><circle cx="468.7" cy="100.0" r="0.8"/><circle cx="472.5" cy="98.1" r="0.8"/><circle cx="472.1" cy="94.9" r="0.8"/><circle cx="465.5" cy="102.2" r="0.8"/><circle cx="465.5" cy="106.7" r="0.8"/><circle cx="472.1" cy="92.0" r="0.8"/><circle cx="462.2" cy="113.1" r="0.8"/><circle cx="463.1" cy="92.7" r="0.8"/><circle cx="469.1" cy="109.0" r="0.8"/><circle cx="462.7" cy="107.5" r="0.8"/><circle cx="464.7" cy="112.1" r="0.8"/><circle cx="474.5" cy="92.9" r="0.8"/><circle cx="468.9" cy="91.8" r="0.8"/><circle cx="465.3" cy="111.8" r="0.8"/><circle cx="468.2" cy="110.0" r="0.8"/><circle cx="472.0" cy="73.5" r="0.8"/><circle cx="468.1" cy="92.4" r="0.8"/><circle cx="471.9" cy="93.8" r="0.8"/><circle cx="464.5" cy="106.7" r="0.8"/><circle cx="472.8" cy="104.4" r="0.8"/><circle cx="477.2" cy="84.3" r="0.8"/><circle cx="470.9" cy="106.7" r="0.8"/><circle cx="470.6" cy="109.6" r="0.8"/><circle cx="465.1" cy="112.5" r="0.8"/><circle cx="470.2" cy="108.2" r="0.8"/><circle cx="472.1" cy="85.9" r="0.8"/><circle cx="467.8" cy="108.6" r="0.8"/><circle cx="467.2" cy="113.8" r="0.8"/><circle cx="473.3" cy="72.9" r="0.8"/><circle cx="472.6" cy="105.5" r="0.8"/><circle cx="466.3" cy="110.8" r="0.8"/><circle cx="467.3" cy="112.8" r="0.8"/><circle cx="468.4" cy="112.8" r="0.8"/><circle cx="468.3" cy="114.0" r="0.8"/><circle cx="471.9" cy="82.6" r="0.8"/><circle cx="462.7" cy="112.9" r="0.8"/><circle cx="474.5" cy="91.3" r="0.8"/><circle cx="466.4" cy="105.4" r="0.8"/><circle cx="473.6" cy="98.4" r="0.8"/><circle cx="464.8" cy="90.1" r="0.8"/><circle cx="468.0" cy="113.8" r="0.8"/><circle cx="464.6" cy="105.7" r="0.8"/><circle cx="462.9" cy="113.9" r="0.8"/><circle cx="466.1" cy="112.2" r="0.8"/><circle cx="464.0" cy="101.2" r="0.8"/><circle cx="473.1" cy="104.0" r="0.8"/><circle cx="468.4" cy="103.7" r="0.8"/><circle cx="465.4" cy="89.3" r="0.8"/><circle cx="468.6" cy="113.4" r="0.8"/><circle cx="466.0" cy="113.0" r="0.8"/><circle cx="467.1" cy="114.0" r="0.8"/><circle cx="463.0" cy="94.1" r="0.8"/><circle cx="462.4" cy="114.0" r="0.8"/><circle cx="464.2" cy="112.2" r="0.8"/><circle cx="467.0" cy="110.5" r="0.8"/><circle cx="470.6" cy="109.2" r="0.8"/><circle cx="463.6" cy="114.0" r="0.8"/><circle cx="465.5" cy="105.2" r="0.8"/><circle cx="467.8" cy="83.7" r="0.8"/><circle cx="464.2" cy="98.7" r="0.8"/><circle cx="470.3" cy="110.1" r="0.8"/><circle cx="469.9" cy="111.8" r="0.8"/><circle cx="462.3" cy="112.1" r="0.8"/><circle cx="468.1" cy="114.0" r="0.8"/><circle cx="467.9" cy="93.6" r="0.8"/><circle cx="472.7" cy="103.4" r="0.8"/><circle cx="473.3" cy="95.7" r="0.8"/><circle cx="465.4" cy="111.1" r="0.8"/><circle cx="469.2" cy="112.4" r="0.8"/><circle cx="476.2" cy="96.1" r="0.8"/><circle cx="469.6" cy="107.0" r="0.8"/><circle cx="466.8" cy="109.3" r="0.8"/><circle cx="472.2" cy="86.5" r="0.8"/><circle cx="465.9" cy="113.3" r="0.8"/><circle cx="466.7" cy="113.3" r="0.8"/><circle cx="469.9" cy="84.1" r="0.8"/><circle cx="471.9" cy="94.1" r="0.8"/><circle cx="466.9" cy="113.8" r="0.8"/><circle cx="468.2" cy="110.6" r="0.8"/><circle cx="467.0" cy="101.2" r="0.8"/><circle cx="464.9" cy="106.9" r="0.8"/><circle cx="465.0" cy="107.0" r="0.8"/><circle cx="463.9" cy="97.8" r="0.8"/><circle cx="472.7" cy="105.1" r="0.8"/><circle cx="467.4" cy="113.9" r="0.8"/><circle cx="472.1" cy="76.9" r="0.8"/><circle cx="464.6" cy="108.1" r="0.8"/><circle cx="466.3" cy="107.9" r="0.8"/><circle cx="465.0" cy="113.8" r="0.8"/><circle cx="467.1" cy="113.0" r="0.8"/><circle cx="465.6" cy="107.2" r="0.8"/><circle cx="464.2" cy="110.7" r="0.8"/><circle cx="469.9" cy="110.4" r="0.8"/><circle cx="469.3" cy="102.4" r="0.8"/><circle cx="471.7" cy="107.7" r="0.8"/><circle cx="465.5" cy="95.5" r="0.8"/><circle cx="469.1" cy="114.1" r="0.8"/><circle cx="467.0" cy="87.4" r="0.8"/><circle cx="476.8" cy="76.2" r="0.8"/><circle cx="467.5" cy="111.3" r="0.8"/><circle cx="475.6" cy="99.2" r="0.8"/><circle cx="468.7" cy="107.4" r="0.8"/><circle cx="468.7" cy="113.1" r="0.8"/><circle cx="470.0" cy="77.7" r="0.8"/><circle cx="473.1" cy="103.4" r="0.8"/><circle cx="464.0" cy="113.8" r="0.8"/><circle cx="468.4" cy="112.9" r="0.8"/><circle cx="467.3" cy="87.5" r="0.8"/><circle cx="470.4" cy="99.8" r="0.8"/><circle cx="469.1" cy="104.0" r="0.8"/><circle cx="467.5" cy="97.5" r="0.8"/><circle cx="467.1" cy="112.0" r="0.8"/><circle cx="462.5" cy="111.6" r="0.8"/><circle cx="467.4" cy="113.9" r="0.8"/><circle cx="464.2" cy="112.6" r="0.8"/><circle cx="465.3" cy="99.9" r="0.8"/><circle cx="473.5" cy="91.1" r="0.8"/><circle cx="470.2" cy="107.1" r="0.8"/><circle cx="466.4" cy="108.1" r="0.8"/><circle cx="462.6" cy="113.8" r="0.8"/><circle cx="468.2" cy="99.1" r="0.8"/><circle cx="466.3" cy="109.4" r="0.8"/><circle cx="471.0" cy="109.0" r="0.8"/><circle cx="464.1" cy="102.2" r="0.8"/><circle cx="466.3" cy="87.3" r="0.8"/><circle cx="476.0" cy="87.0" r="0.8"/><circle cx="476.9" cy="95.1" r="0.8"/><circle cx="466.4" cy="105.4" r="0.8"/><circle cx="464.9" cy="109.1" r="0.8"/><circle cx="468.4" cy="112.4" r="0.8"/><circle cx="463.5" cy="111.4" r="0.8"/><circle cx="463.5" cy="98.9" r="0.8"/><circle cx="464.7" cy="104.5" r="0.8"/><circle cx="468.1" cy="114.0" r="0.8"/><circle cx="467.3" cy="73.7" r="0.8"/><circle cx="478.8" cy="80.5" r="0.8"/><circle cx="469.9" cy="112.4" r="0.8"/><circle cx="463.8" cy="103.4" r="0.8"/><circle cx="475.3" cy="101.7" r="0.8"/><circle cx="465.8" cy="110.9" r="0.8"/><circle cx="466.8" cy="108.7" r="0.8"/><circle cx="468.9" cy="96.9" r="0.8"/><circle cx="468.2" cy="104.1" r="0.8"/><circle cx="473.7" cy="101.0" r="0.8"/><circle cx="464.6" cy="112.0" r="0.8"/><circle cx="468.0" cy="112.5" r="0.8"/><circle cx="468.0" cy="112.7" r="0.8"/><circle cx="465.0" cy="96.8" r="0.8"/><circle cx="478.7" cy="86.6" r="0.8"/><circle cx="478.2" cy="84.7" r="0.8"/><circle cx="464.8" cy="112.1" r="0.8"/><circle cx="469.3" cy="109.2" r="0.8"/><circle cx="473.7" cy="72.1" r="0.8"/><circle cx="468.7" cy="76.8" r="0.8"/><circle cx="463.7" cy="91.1" r="0.8"/><circle cx="465.7" cy="113.8" r="0.8"/><circle cx="467.1" cy="112.8" r="0.8"/><circle cx="471.8" cy="104.4" r="0.8"/><circle cx="472.2" cy="107.5" r="0.8"/><circle cx="462.6" cy="112.9" r="0.8"/><circle cx="469.4" cy="100.4" r="0.8"/><circle cx="472.4" cy="103.3" r="0.8"/><circle cx="467.0" cy="91.9" r="0.8"/><circle cx="462.6" cy="106.2" r="0.8"/><circle cx="465.4" cy="102.4" r="0.8"/><circle cx="465.5" cy="108.3" r="0.8"/><circle cx="467.7" cy="103.6" r="0.8"/><circle cx="466.3" cy="112.7" r="0.8"/><circle cx="475.2" cy="99.5" r="0.8"/><circle cx="469.9" cy="101.2" r="0.8"/><circle cx="462.9" cy="100.6" r="0.8"/><circle cx="465.5" cy="86.2" r="0.8"/><circle cx="466.0" cy="114.1" r="0.8"/><circle cx="468.3" cy="109.7" r="0.8"/><circle cx="475.0" cy="94.0" r="0.8"/><circle cx="467.1" cy="99.2" r="0.8"/><circle cx="468.0" cy="113.5" r="0.8"/><circle cx="473.1" cy="102.4" r="0.8"/><circle cx="464.5" cy="113.1" r="0.8"/><circle cx="468.5" cy="112.9" r="0.8"/><circle cx="470.0" cy="102.8" r="0.8"/><circle cx="465.2" cy="113.8" r="0.8"/><circle cx="470.2" cy="105.2" r="0.8"/><circle cx="470.8" cy="110.3" r="0.8"/><circle cx="467.5" cy="107.4" r="0.8"/><circle cx="467.0" cy="101.7" r="0.8"/><circle cx="462.2" cy="113.7" r="0.8"/><circle cx="463.5" cy="112.6" r="0.8"/><circle cx="462.6" cy="107.7" r="0.8"/><circle cx="465.2" cy="106.9" r="0.8"/><circle cx="470.7" cy="107.4" r="0.8"/><circle cx="467.6" cy="113.6" r="0.8"/><circle cx="465.8" cy="82.7" r="0.8"/><circle cx="472.0" cy="97.2" r="0.8"/><circle cx="468.2" cy="103.5" r="0.8"/><circle cx="463.6" cy="89.5" r="0.8"/><circle cx="463.2" cy="113.8" r="0.8"/><circle cx="474.9" cy="100.9" r="0.8"/><circle cx="468.9" cy="92.9" r="0.8"/><circle cx="463.0" cy="110.0" r="0.8"/><circle cx="476.2" cy="87.8" r="0.8"/><circle cx="470.1" cy="104.8" r="0.8"/><circle cx="464.4" cy="110.9" r="0.8"/><circle cx="478.3" cy="73.8" r="0.8"/><circle cx="469.2" cy="89.2" r="0.8"/><circle cx="473.1" cy="104.2" r="0.8"/><circle cx="465.2" cy="89.0" r="0.8"/><circle cx="465.1" cy="114.1" r="0.8"/><circle cx="465.5" cy="111.3" r="0.8"/><circle cx="474.0" cy="91.5" r="0.8"/><circle cx="469.8" cy="109.8" r="0.8"/><circle cx="474.2" cy="84.1" r="0.8"/><circle cx="484.6" cy="61.0" r="0.8"/><circle cx="491.1" cy="95.2" r="0.8"/><circle cx="499.4" cy="103.8" r="0.8"/><circle cx="495.2" cy="106.4" r="0.8"/><circle cx="491.1" cy="108.9" r="0.8"/><circle cx="489.3" cy="112.4" r="0.8"/><circle cx="483.4" cy="105.5" r="0.8"/><circle cx="476.3" cy="110.7" r="0.8"/><circle cx="486.3" cy="96.1" r="0.8"/><circle cx="481.6" cy="86.7" r="0.8"/><circle cx="484.0" cy="100.4" r="0.8"/><circle cx="487.5" cy="106.4" r="0.8"/><circle cx="480.4" cy="110.7" r="0.8"/><circle cx="472.7" cy="69.6" r="0.8"/><circle cx="471.5" cy="70.4" r="0.8"/></g>
<g fill="#e9b040"><circle cx="451.9" cy="108.0" r="0.8"/><circle cx="448.8" cy="83.4" r="0.8"/><circle cx="455.9" cy="83.4" r="0.8"/><circle cx="459.1" cy="112.0" r="0.8"/><circle cx="449.8" cy="98.6" r="0.8"/><circle cx="450.8" cy="96.6" r="0.8"/><circle cx="454.0" cy="90.8" r="0.8"/><circle cx="455.0" cy="78.2" r="0.8"/><circle cx="454.8" cy="89.1" r="0.8"/><circle cx="455.6" cy="110.6" r="0.8"/><circle cx="452.6" cy="96.7" r="0.8"/><circle cx="450.7" cy="99.2" r="0.8"/><circle cx="454.7" cy="103.0" r="0.8"/><circle cx="454.1" cy="84.0" r="0.8"/><circle cx="451.4" cy="113.1" r="0.8"/><circle cx="456.2" cy="99.9" r="0.8"/><circle cx="456.7" cy="108.6" r="0.8"/><circle cx="452.3" cy="110.1" r="0.8"/><circle cx="448.2" cy="77.0" r="0.8"/><circle cx="448.8" cy="96.4" r="0.8"/><circle cx="454.0" cy="100.6" r="0.8"/><circle cx="453.2" cy="112.7" r="0.8"/><circle cx="453.3" cy="99.8" r="0.8"/><circle cx="448.4" cy="71.6" r="0.8"/><circle cx="456.7" cy="108.0" r="0.8"/><circle cx="455.3" cy="112.0" r="0.8"/><circle cx="455.2" cy="84.4" r="0.8"/><circle cx="457.2" cy="113.8" r="0.8"/><circle cx="459.4" cy="112.0" r="0.8"/><circle cx="457.8" cy="107.6" r="0.8"/><circle cx="459.6" cy="111.8" r="0.8"/><circle cx="450.7" cy="97.1" r="0.8"/><circle cx="452.4" cy="72.1" r="0.8"/><circle cx="451.1" cy="102.5" r="0.8"/><circle cx="456.1" cy="91.5" r="0.8"/><circle cx="454.3" cy="85.0" r="0.8"/><circle cx="454.2" cy="113.6" r="0.8"/><circle cx="454.5" cy="108.1" r="0.8"/><circle cx="453.6" cy="89.5" r="0.8"/><circle cx="452.5" cy="114.1" r="0.8"/><circle cx="453.4" cy="108.3" r="0.8"/><circle cx="451.0" cy="108.3" r="0.8"/><circle cx="454.2" cy="110.3" r="0.8"/><circle cx="447.7" cy="74.6" r="0.8"/><circle cx="456.3" cy="89.8" r="0.8"/><circle cx="452.6" cy="74.4" r="0.8"/><circle cx="455.8" cy="111.1" r="0.8"/><circle cx="450.6" cy="105.5" r="0.8"/><circle cx="455.7" cy="108.6" r="0.8"/><circle cx="450.3" cy="112.5" r="0.8"/><circle cx="449.1" cy="110.9" r="0.8"/><circle cx="457.9" cy="97.4" r="0.8"/><circle cx="455.3" cy="112.1" r="0.8"/><circle cx="455.9" cy="102.0" r="0.8"/><circle cx="455.2" cy="94.2" r="0.8"/><circle cx="459.6" cy="113.0" r="0.8"/><circle cx="448.8" cy="81.7" r="0.8"/><circle cx="458.0" cy="114.1" r="0.8"/><circle cx="451.2" cy="82.4" r="0.8"/><circle cx="450.3" cy="71.1" r="0.8"/><circle cx="454.4" cy="113.9" r="0.8"/><circle cx="453.3" cy="104.7" r="0.8"/><circle cx="457.6" cy="106.1" r="0.8"/><circle cx="449.9" cy="105.1" r="0.8"/><circle cx="457.8" cy="109.4" r="0.8"/><circle cx="452.0" cy="98.2" r="0.8"/><circle cx="452.6" cy="112.4" r="0.8"/><circle cx="458.5" cy="112.9" r="0.8"/><circle cx="451.0" cy="86.7" r="0.8"/><circle cx="456.0" cy="90.7" r="0.8"/><circle cx="452.3" cy="90.8" r="0.8"/><circle cx="452.9" cy="97.6" r="0.8"/><circle cx="454.5" cy="103.4" r="0.8"/><circle cx="451.8" cy="104.0" r="0.8"/><circle cx="456.6" cy="103.1" r="0.8"/><circle cx="454.2" cy="112.0" r="0.8"/><circle cx="458.8" cy="110.0" r="0.8"/><circle cx="453.0" cy="114.1" r="0.8"/><circle cx="452.4" cy="85.2" r="0.8"/><circle cx="450.3" cy="113.2" r="0.8"/><circle cx="452.3" cy="113.8" r="0.8"/><circle cx="458.5" cy="103.4" r="0.8"/><circle cx="450.6" cy="74.1" r="0.8"/><circle cx="455.8" cy="92.4" r="0.8"/><circle cx="455.4" cy="105.1" r="0.8"/><circle cx="451.5" cy="110.4" r="0.8"/><circle cx="453.2" cy="108.9" r="0.8"/><circle cx="455.2" cy="107.9" r="0.8"/><circle cx="452.6" cy="113.9" r="0.8"/><circle cx="455.7" cy="93.3" r="0.8"/><circle cx="451.6" cy="81.6" r="0.8"/><circle cx="448.6" cy="92.2" r="0.8"/><circle cx="450.8" cy="71.4" r="0.8"/><circle cx="453.6" cy="113.0" r="0.8"/><circle cx="457.7" cy="107.8" r="0.8"/><circle cx="449.3" cy="83.5" r="0.8"/><circle cx="452.6" cy="95.8" r="0.8"/><circle cx="444.7" cy="69.0" r="0.8"/><circle cx="450.9" cy="86.6" r="0.8"/><circle cx="456.7" cy="112.1" r="0.8"/><circle cx="452.4" cy="113.9" r="0.8"/><circle cx="452.9" cy="113.4" r="0.8"/><circle cx="448.6" cy="65.8" r="0.8"/><circle cx="454.0" cy="90.9" r="0.8"/><circle cx="455.0" cy="81.7" r="0.8"/><circle cx="448.7" cy="90.6" r="0.8"/><circle cx="454.8" cy="75.1" r="0.8"/><circle cx="454.5" cy="109.2" r="0.8"/><circle cx="454.0" cy="113.7" r="0.8"/><circle cx="452.5" cy="105.7" r="0.8"/><circle cx="452.2" cy="106.5" r="0.8"/><circle cx="456.1" cy="113.5" r="0.8"/><circle cx="454.6" cy="99.5" r="0.8"/><circle cx="458.2" cy="106.8" r="0.8"/><circle cx="452.7" cy="82.5" r="0.8"/><circle cx="457.4" cy="104.5" r="0.8"/><circle cx="452.9" cy="102.2" r="0.8"/><circle cx="449.1" cy="95.4" r="0.8"/><circle cx="449.5" cy="99.3" r="0.8"/><circle cx="456.1" cy="110.6" r="0.8"/><circle cx="452.4" cy="96.8" r="0.8"/><circle cx="451.1" cy="103.5" r="0.8"/><circle cx="449.3" cy="103.4" r="0.8"/><circle cx="451.7" cy="113.6" r="0.8"/><circle cx="451.8" cy="114.0" r="0.8"/><circle cx="452.8" cy="111.0" r="0.8"/><circle cx="457.6" cy="94.0" r="0.8"/><circle cx="455.4" cy="87.2" r="0.8"/><circle cx="455.7" cy="95.9" r="0.8"/><circle cx="448.4" cy="91.7" r="0.8"/><circle cx="450.2" cy="105.2" r="0.8"/><circle cx="451.5" cy="88.4" r="0.8"/><circle cx="450.3" cy="102.3" r="0.8"/><circle cx="452.1" cy="105.0" r="0.8"/><circle cx="456.5" cy="111.2" r="0.8"/><circle cx="448.9" cy="102.4" r="0.8"/><circle cx="445.4" cy="69.5" r="0.8"/><circle cx="447.2" cy="66.4" r="0.8"/><circle cx="451.4" cy="114.1" r="0.8"/><circle cx="449.8" cy="108.9" r="0.8"/><circle cx="453.2" cy="95.5" r="0.8"/><circle cx="454.6" cy="109.1" r="0.8"/><circle cx="457.0" cy="114.1" r="0.8"/><circle cx="454.8" cy="94.0" r="0.8"/><circle cx="450.8" cy="82.6" r="0.8"/><circle cx="451.1" cy="84.0" r="0.8"/><circle cx="452.3" cy="82.2" r="0.8"/><circle cx="456.8" cy="95.1" r="0.8"/><circle cx="454.4" cy="111.5" r="0.8"/><circle cx="449.6" cy="106.0" r="0.8"/><circle cx="449.6" cy="82.2" r="0.8"/><circle cx="450.6" cy="111.8" r="0.8"/><circle cx="454.0" cy="82.2" r="0.8"/><circle cx="453.9" cy="106.7" r="0.8"/><circle cx="453.9" cy="105.6" r="0.8"/><circle cx="452.3" cy="113.9" r="0.8"/><circle cx="446.7" cy="68.7" r="0.8"/><circle cx="452.7" cy="92.4" r="0.8"/><circle cx="454.7" cy="92.4" r="0.8"/><circle cx="455.8" cy="95.0" r="0.8"/><circle cx="451.4" cy="107.8" r="0.8"/><circle cx="456.4" cy="101.0" r="0.8"/><circle cx="448.7" cy="99.2" r="0.8"/><circle cx="457.5" cy="100.9" r="0.8"/><circle cx="455.2" cy="111.7" r="0.8"/><circle cx="454.6" cy="108.3" r="0.8"/><circle cx="450.8" cy="83.3" r="0.8"/><circle cx="453.9" cy="111.6" r="0.8"/><circle cx="454.1" cy="110.4" r="0.8"/><circle cx="452.7" cy="81.7" r="0.8"/><circle cx="450.6" cy="94.3" r="0.8"/><circle cx="455.7" cy="97.4" r="0.8"/><circle cx="449.1" cy="106.6" r="0.8"/><circle cx="447.6" cy="67.8" r="0.8"/><circle cx="451.6" cy="93.0" r="0.8"/><circle cx="459.0" cy="111.5" r="0.8"/><circle cx="452.9" cy="83.3" r="0.8"/><circle cx="452.5" cy="114.0" r="0.8"/><circle cx="449.7" cy="102.8" r="0.8"/><circle cx="453.3" cy="100.5" r="0.8"/><circle cx="454.6" cy="110.8" r="0.8"/><circle cx="451.1" cy="69.2" r="0.8"/><circle cx="451.4" cy="107.6" r="0.8"/><circle cx="457.8" cy="100.2" r="0.8"/><circle cx="449.9" cy="110.6" r="0.8"/><circle cx="446.5" cy="77.0" r="0.8"/><circle cx="456.7" cy="107.7" r="0.8"/><circle cx="449.0" cy="88.8" r="0.8"/><circle cx="453.4" cy="101.0" r="0.8"/><circle cx="450.5" cy="111.8" r="0.8"/><circle cx="453.1" cy="107.4" r="0.8"/><circle cx="446.9" cy="69.1" r="0.8"/><circle cx="454.3" cy="114.0" r="0.8"/><circle cx="449.8" cy="112.1" r="0.8"/><circle cx="456.2" cy="108.1" r="0.8"/><circle cx="451.1" cy="93.2" r="0.8"/><circle cx="454.3" cy="85.7" r="0.8"/><circle cx="456.1" cy="81.9" r="0.8"/><circle cx="450.6" cy="75.8" r="0.8"/><circle cx="457.1" cy="101.2" r="0.8"/><circle cx="453.2" cy="92.8" r="0.8"/><circle cx="459.4" cy="112.0" r="0.8"/><circle cx="450.9" cy="94.5" r="0.8"/><circle cx="446.1" cy="69.3" r="0.8"/><circle cx="445.1" cy="65.8" r="0.8"/><circle cx="450.0" cy="104.5" r="0.8"/><circle cx="456.9" cy="98.8" r="0.8"/><circle cx="458.1" cy="107.9" r="0.8"/><circle cx="453.9" cy="109.0" r="0.8"/><circle cx="455.6" cy="89.9" r="0.8"/><circle cx="454.9" cy="83.5" r="0.8"/><circle cx="450.1" cy="81.4" r="0.8"/><circle cx="453.1" cy="83.2" r="0.8"/><circle cx="456.3" cy="106.5" r="0.8"/><circle cx="457.2" cy="113.6" r="0.8"/><circle cx="456.4" cy="103.0" r="0.8"/><circle cx="451.8" cy="94.3" r="0.8"/><circle cx="454.1" cy="107.2" r="0.8"/><circle cx="451.9" cy="112.5" r="0.8"/><circle cx="450.1" cy="91.4" r="0.8"/><circle cx="452.1" cy="111.5" r="0.8"/><circle cx="450.2" cy="104.0" r="0.8"/><circle cx="458.9" cy="107.5" r="0.8"/><circle cx="452.3" cy="70.4" r="0.8"/><circle cx="456.7" cy="87.3" r="0.8"/><circle cx="452.1" cy="91.2" r="0.8"/><circle cx="456.1" cy="111.7" r="0.8"/><circle cx="450.9" cy="68.2" r="0.8"/><circle cx="455.5" cy="101.9" r="0.8"/><circle cx="447.6" cy="65.3" r="0.8"/><circle cx="451.1" cy="75.6" r="0.8"/><circle cx="457.3" cy="105.8" r="0.8"/><circle cx="450.9" cy="102.3" r="0.8"/><circle cx="454.0" cy="78.7" r="0.8"/><circle cx="451.3" cy="100.5" r="0.8"/><circle cx="452.6" cy="77.6" r="0.8"/><circle cx="447.4" cy="79.2" r="0.8"/><circle cx="448.5" cy="75.9" r="0.8"/><circle cx="458.6" cy="113.7" r="0.8"/><circle cx="450.2" cy="76.3" r="0.8"/><circle cx="457.7" cy="112.1" r="0.8"/><circle cx="455.8" cy="107.8" r="0.8"/><circle cx="451.2" cy="78.3" r="0.8"/><circle cx="454.4" cy="101.3" r="0.8"/><circle cx="451.1" cy="108.3" r="0.8"/><circle cx="452.5" cy="108.0" r="0.8"/><circle cx="450.1" cy="98.1" r="0.8"/><circle cx="452.2" cy="101.5" r="0.8"/><circle cx="452.5" cy="104.4" r="0.8"/><circle cx="458.7" cy="113.8" r="0.8"/><circle cx="456.7" cy="107.7" r="0.8"/><circle cx="456.7" cy="89.0" r="0.8"/><circle cx="454.7" cy="97.3" r="0.8"/><circle cx="452.5" cy="113.0" r="0.8"/><circle cx="455.1" cy="101.3" r="0.8"/><circle cx="456.3" cy="104.6" r="0.8"/><circle cx="448.9" cy="77.9" r="0.8"/><circle cx="452.6" cy="113.1" r="0.8"/><circle cx="456.2" cy="94.9" r="0.8"/><circle cx="457.6" cy="111.1" r="0.8"/><circle cx="455.7" cy="90.0" r="0.8"/><circle cx="454.8" cy="113.6" r="0.8"/><circle cx="457.4" cy="112.3" r="0.8"/><circle cx="450.3" cy="88.9" r="0.8"/><circle cx="457.2" cy="110.5" r="0.8"/><circle cx="457.7" cy="106.3" r="0.8"/><circle cx="457.9" cy="108.5" r="0.8"/><circle cx="454.9" cy="105.8" r="0.8"/><circle cx="455.3" cy="107.2" r="0.8"/><circle cx="453.1" cy="113.7" r="0.8"/><circle cx="454.9" cy="105.8" r="0.8"/><circle cx="451.8" cy="80.5" r="0.8"/><circle cx="456.9" cy="112.0" r="0.8"/><circle cx="451.0" cy="103.9" r="0.8"/><circle cx="452.8" cy="106.5" r="0.8"/><circle cx="453.4" cy="99.7" r="0.8"/><circle cx="453.1" cy="82.9" r="0.8"/><circle cx="458.1" cy="113.9" r="0.8"/><circle cx="451.6" cy="74.5" r="0.8"/><circle cx="454.3" cy="72.6" r="0.8"/><circle cx="454.8" cy="113.7" r="0.8"/><circle cx="454.0" cy="110.8" r="0.8"/><circle cx="450.5" cy="93.5" r="0.8"/><circle cx="454.5" cy="113.6" r="0.8"/><circle cx="452.9" cy="88.7" r="0.8"/><circle cx="456.0" cy="79.6" r="0.8"/><circle cx="453.5" cy="106.4" r="0.8"/><circle cx="450.5" cy="94.9" r="0.8"/><circle cx="450.9" cy="70.2" r="0.8"/><circle cx="453.9" cy="104.4" r="0.8"/><circle cx="449.6" cy="98.0" r="0.8"/><circle cx="455.9" cy="109.2" r="0.8"/><circle cx="452.6" cy="98.6" r="0.8"/><circle cx="450.8" cy="109.0" r="0.8"/><circle cx="449.6" cy="107.4" r="0.8"/><circle cx="449.7" cy="108.4" r="0.8"/><circle cx="455.9" cy="107.0" r="0.8"/><circle cx="457.4" cy="106.2" r="0.8"/><circle cx="448.7" cy="77.4" r="0.8"/><circle cx="458.8" cy="105.4" r="0.8"/><circle cx="449.5" cy="109.9" r="0.8"/><circle cx="459.0" cy="110.3" r="0.8"/><circle cx="455.1" cy="92.4" r="0.8"/><circle cx="455.5" cy="99.6" r="0.8"/><circle cx="454.0" cy="102.5" r="0.8"/><circle cx="455.5" cy="90.6" r="0.8"/><circle cx="449.8" cy="70.1" r="0.8"/><circle cx="451.3" cy="111.9" r="0.8"/><circle cx="454.8" cy="109.7" r="0.8"/><circle cx="458.3" cy="107.7" r="0.8"/><circle cx="458.0" cy="113.1" r="0.8"/><circle cx="447.4" cy="68.9" r="0.8"/><circle cx="450.5" cy="92.6" r="0.8"/><circle cx="449.8" cy="98.0" r="0.8"/><circle cx="449.7" cy="107.5" r="0.8"/><circle cx="458.5" cy="111.4" r="0.8"/><circle cx="456.9" cy="98.6" r="0.8"/><circle cx="451.7" cy="101.1" r="0.8"/><circle cx="452.2" cy="99.6" r="0.8"/><circle cx="454.4" cy="110.4" r="0.8"/><circle cx="450.1" cy="104.3" r="0.8"/><circle cx="456.5" cy="93.0" r="0.8"/><circle cx="451.8" cy="96.6" r="0.8"/><circle cx="451.0" cy="99.1" r="0.8"/><circle cx="452.5" cy="113.8" r="0.8"/><circle cx="456.7" cy="104.6" r="0.8"/><circle cx="457.5" cy="103.4" r="0.8"/><circle cx="452.5" cy="112.8" r="0.8"/><circle cx="457.5" cy="111.5" r="0.8"/><circle cx="455.1" cy="111.8" r="0.8"/><circle cx="455.7" cy="98.8" r="0.8"/><circle cx="451.4" cy="97.7" r="0.8"/><circle cx="453.4" cy="96.7" r="0.8"/><circle cx="449.6" cy="113.2" r="0.8"/><circle cx="455.6" cy="99.2" r="0.8"/><circle cx="455.4" cy="105.5" r="0.8"/><circle cx="456.6" cy="109.2" r="0.8"/><circle cx="452.3" cy="81.1" r="0.8"/><circle cx="452.6" cy="103.4" r="0.8"/><circle cx="453.3" cy="114.1" r="0.8"/><circle cx="454.6" cy="83.2" r="0.8"/><circle cx="453.2" cy="102.5" r="0.8"/><circle cx="448.9" cy="93.2" r="0.8"/><circle cx="456.7" cy="97.9" r="0.8"/><circle cx="450.0" cy="112.6" r="0.8"/><circle cx="454.5" cy="99.2" r="0.8"/><circle cx="453.1" cy="104.7" r="0.8"/><circle cx="453.1" cy="70.5" r="0.8"/><circle cx="452.5" cy="111.6" r="0.8"/><circle cx="458.5" cy="109.0" r="0.8"/><circle cx="453.5" cy="92.6" r="0.8"/><circle cx="457.7" cy="113.3" r="0.8"/><circle cx="458.3" cy="114.1" r="0.8"/><circle cx="450.8" cy="109.9" r="0.8"/><circle cx="459.0" cy="109.7" r="0.8"/><circle cx="456.4" cy="106.2" r="0.8"/><circle cx="451.9" cy="91.2" r="0.8"/><circle cx="449.5" cy="110.2" r="0.8"/><circle cx="457.9" cy="101.5" r="0.8"/><circle cx="451.1" cy="85.5" r="0.8"/><circle cx="457.3" cy="107.7" r="0.8"/><circle cx="457.5" cy="109.1" r="0.8"/><circle cx="455.2" cy="100.2" r="0.8"/><circle cx="455.4" cy="88.9" r="0.8"/><circle cx="448.8" cy="96.9" r="0.8"/><circle cx="450.5" cy="89.9" r="0.8"/><circle cx="451.6" cy="76.7" r="0.8"/><circle cx="455.8" cy="88.3" r="0.8"/><circle cx="455.3" cy="79.5" r="0.8"/><circle cx="456.8" cy="109.3" r="0.8"/><circle cx="456.5" cy="105.8" r="0.8"/><circle cx="453.9" cy="96.0" r="0.8"/><circle cx="451.1" cy="113.2" r="0.8"/><circle cx="450.2" cy="112.6" r="0.8"/><circle cx="454.4" cy="101.3" r="0.8"/><circle cx="448.9" cy="87.8" r="0.8"/><circle cx="451.0" cy="86.0" r="0.8"/><circle cx="453.4" cy="91.3" r="0.8"/><circle cx="453.7" cy="100.0" r="0.8"/><circle cx="450.8" cy="79.7" r="0.8"/><circle cx="456.7" cy="94.3" r="0.8"/><circle cx="452.4" cy="113.0" r="0.8"/><circle cx="449.5" cy="114.0" r="0.8"/><circle cx="452.9" cy="96.8" r="0.8"/><circle cx="450.8" cy="111.4" r="0.8"/><circle cx="458.5" cy="110.9" r="0.8"/><circle cx="452.4" cy="95.8" r="0.8"/><circle cx="452.6" cy="95.4" r="0.8"/><circle cx="449.4" cy="99.5" r="0.8"/><circle cx="447.5" cy="66.6" r="0.8"/><circle cx="450.9" cy="110.3" r="0.8"/><circle cx="453.3" cy="111.0" r="0.8"/><circle cx="452.2" cy="78.5" r="0.8"/><circle cx="457.6" cy="99.1" r="0.8"/><circle cx="447.0" cy="74.9" r="0.8"/><circle cx="450.7" cy="69.2" r="0.8"/><circle cx="449.7" cy="104.0" r="0.8"/><circle cx="450.0" cy="108.8" r="0.8"/><circle cx="457.6" cy="113.6" r="0.8"/><circle cx="452.2" cy="98.9" r="0.8"/><circle cx="450.9" cy="86.8" r="0.8"/><circle cx="459.1" cy="110.3" r="0.8"/><circle cx="447.5" cy="74.5" r="0.8"/><circle cx="456.7" cy="113.9" r="0.8"/><circle cx="451.0" cy="101.1" r="0.8"/><circle cx="450.5" cy="93.8" r="0.8"/><circle cx="455.7" cy="97.7" r="0.8"/><circle cx="457.7" cy="102.8" r="0.8"/><circle cx="453.0" cy="114.1" r="0.8"/><circle cx="452.5" cy="113.5" r="0.8"/><circle cx="454.3" cy="112.7" r="0.8"/><circle cx="458.7" cy="109.2" r="0.8"/><circle cx="450.7" cy="80.9" r="0.8"/><circle cx="449.9" cy="113.3" r="0.8"/><circle cx="451.3" cy="109.9" r="0.8"/><circle cx="451.4" cy="110.5" r="0.8"/><circle cx="446.7" cy="70.7" r="0.8"/><circle cx="458.8" cy="109.8" r="0.8"/><circle cx="450.2" cy="73.7" r="0.8"/><circle cx="456.0" cy="85.8" r="0.8"/><circle cx="449.4" cy="97.9" r="0.8"/><circle cx="458.2" cy="113.5" r="0.8"/><circle cx="447.3" cy="68.5" r="0.8"/><circle cx="448.1" cy="72.8" r="0.8"/><circle cx="453.7" cy="82.2" r="0.8"/><circle cx="449.6" cy="110.0" r="0.8"/><circle cx="451.7" cy="106.6" r="0.8"/><circle cx="452.0" cy="97.9" r="0.8"/><circle cx="452.0" cy="103.8" r="0.8"/><circle cx="452.1" cy="112.4" r="0.8"/><circle cx="450.8" cy="89.6" r="0.8"/><circle cx="455.7" cy="107.9" r="0.8"/><circle cx="449.6" cy="110.6" r="0.8"/><circle cx="450.5" cy="83.0" r="0.8"/><circle cx="448.2" cy="86.0" r="0.8"/><circle cx="449.1" cy="103.5" r="0.8"/><circle cx="449.7" cy="79.2" r="0.8"/><circle cx="448.9" cy="83.8" r="0.8"/><circle cx="457.2" cy="107.8" r="0.8"/><circle cx="452.0" cy="88.5" r="0.8"/><circle cx="451.0" cy="112.5" r="0.8"/><circle cx="453.9" cy="105.9" r="0.8"/><circle cx="456.1" cy="90.4" r="0.8"/><circle cx="453.1" cy="88.0" r="0.8"/><circle cx="454.4" cy="97.6" r="0.8"/><circle cx="449.7" cy="113.8" r="0.8"/><circle cx="452.6" cy="96.8" r="0.8"/><circle cx="455.9" cy="109.4" r="0.8"/><circle cx="454.8" cy="88.7" r="0.8"/><circle cx="449.4" cy="82.8" r="0.8"/><circle cx="452.1" cy="86.1" r="0.8"/><circle cx="447.4" cy="74.3" r="0.8"/><circle cx="452.7" cy="106.0" r="0.8"/><circle cx="454.2" cy="105.1" r="0.8"/><circle cx="448.3" cy="85.6" r="0.8"/><circle cx="449.9" cy="110.0" r="0.8"/><circle cx="454.9" cy="99.4" r="0.8"/><circle cx="454.1" cy="81.7" r="0.8"/><circle cx="459.7" cy="111.9" r="0.8"/><circle cx="451.3" cy="114.0" r="0.8"/><circle cx="454.2" cy="91.8" r="0.8"/><circle cx="455.7" cy="104.2" r="0.8"/><circle cx="451.8" cy="101.4" r="0.8"/><circle cx="453.4" cy="107.3" r="0.8"/><circle cx="456.8" cy="113.0" r="0.8"/><circle cx="455.3" cy="111.7" r="0.8"/><circle cx="452.0" cy="71.2" r="0.8"/><circle cx="457.6" cy="111.3" r="0.8"/><circle cx="451.7" cy="114.1" r="0.8"/><circle cx="456.0" cy="108.6" r="0.8"/><circle cx="456.5" cy="108.2" r="0.8"/><circle cx="459.0" cy="114.1" r="0.8"/><circle cx="450.8" cy="107.8" r="0.8"/><circle cx="453.5" cy="78.8" r="0.8"/><circle cx="452.4" cy="92.8" r="0.8"/><circle cx="455.5" cy="83.3" r="0.8"/><circle cx="448.4" cy="81.2" r="0.8"/><circle cx="449.2" cy="101.7" r="0.8"/><circle cx="449.1" cy="108.2" r="0.8"/><circle cx="450.0" cy="87.1" r="0.8"/><circle cx="458.3" cy="111.5" r="0.8"/><circle cx="456.1" cy="108.9" r="0.8"/><circle cx="454.0" cy="89.8" r="0.8"/><circle cx="451.5" cy="113.5" r="0.8"/><circle cx="449.0" cy="99.3" r="0.8"/><circle cx="455.0" cy="86.8" r="0.8"/><circle cx="446.4" cy="68.0" r="0.8"/><circle cx="448.4" cy="68.9" r="0.8"/><circle cx="450.2" cy="95.0" r="0.8"/><circle cx="453.9" cy="104.2" r="0.8"/><circle cx="452.7" cy="81.6" r="0.8"/><circle cx="458.8" cy="106.0" r="0.8"/><circle cx="451.1" cy="113.4" r="0.8"/><circle cx="458.9" cy="105.9" r="0.8"/><circle cx="452.6" cy="100.7" r="0.8"/><circle cx="449.1" cy="79.0" r="0.8"/><circle cx="455.6" cy="113.5" r="0.8"/><circle cx="457.6" cy="110.6" r="0.8"/><circle cx="458.7" cy="109.0" r="0.8"/><circle cx="449.8" cy="102.5" r="0.8"/><circle cx="454.6" cy="85.6" r="0.8"/><circle cx="448.3" cy="89.4" r="0.8"/><circle cx="453.8" cy="105.1" r="0.8"/><circle cx="455.3" cy="105.9" r="0.8"/><circle cx="451.9" cy="101.4" r="0.8"/><circle cx="454.0" cy="99.9" r="0.8"/><circle cx="452.7" cy="113.9" r="0.8"/><circle cx="451.9" cy="109.4" r="0.8"/><circle cx="451.7" cy="105.6" r="0.8"/><circle cx="455.8" cy="105.2" r="0.8"/><circle cx="459.0" cy="110.0" r="0.8"/><circle cx="452.4" cy="113.4" r="0.8"/><circle cx="453.8" cy="85.8" r="0.8"/><circle cx="451.9" cy="107.6" r="0.8"/><circle cx="451.4" cy="86.5" r="0.8"/><circle cx="450.3" cy="89.1" r="0.8"/><circle cx="456.9" cy="95.6" r="0.8"/><circle cx="456.3" cy="91.5" r="0.8"/><circle cx="451.8" cy="106.3" r="0.8"/><circle cx="452.0" cy="96.9" r="0.8"/><circle cx="451.0" cy="97.8" r="0.8"/><circle cx="455.5" cy="110.7" r="0.8"/><circle cx="451.6" cy="112.9" r="0.8"/><circle cx="456.6" cy="113.3" r="0.8"/><circle cx="452.1" cy="112.0" r="0.8"/><circle cx="454.2" cy="106.7" r="0.8"/><circle cx="451.0" cy="82.3" r="0.8"/><circle cx="451.1" cy="112.4" r="0.8"/><circle cx="452.4" cy="87.4" r="0.8"/><circle cx="446.6" cy="70.9" r="0.8"/><circle cx="451.7" cy="104.2" r="0.8"/><circle cx="450.9" cy="86.3" r="0.8"/><circle cx="453.8" cy="110.3" r="0.8"/><circle cx="449.6" cy="102.7" r="0.8"/><circle cx="450.7" cy="112.6" r="0.8"/><circle cx="449.9" cy="111.3" r="0.8"/><circle cx="454.7" cy="96.5" r="0.8"/><circle cx="448.8" cy="77.0" r="0.8"/><circle cx="448.5" cy="84.3" r="0.8"/><circle cx="451.2" cy="111.0" r="0.8"/><circle cx="450.8" cy="109.7" r="0.8"/><circle cx="452.3" cy="92.0" r="0.8"/><circle cx="454.2" cy="108.7" r="0.8"/><circle cx="456.7" cy="103.6" r="0.8"/><circle cx="458.3" cy="111.1" r="0.8"/><circle cx="452.1" cy="94.3" r="0.8"/><circle cx="446.6" cy="68.0" r="0.8"/><circle cx="450.6" cy="68.3" r="0.8"/><circle cx="456.4" cy="101.9" r="0.8"/><circle cx="448.9" cy="82.5" r="0.8"/><circle cx="454.6" cy="104.1" r="0.8"/><circle cx="449.1" cy="107.5" r="0.8"/><circle cx="454.2" cy="95.1" r="0.8"/><circle cx="449.8" cy="89.9" r="0.8"/><circle cx="449.7" cy="113.5" r="0.8"/><circle cx="448.9" cy="96.8" r="0.8"/><circle cx="454.4" cy="110.8" r="0.8"/><circle cx="455.8" cy="104.8" r="0.8"/><circle cx="454.7" cy="112.5" r="0.8"/><circle cx="450.7" cy="102.8" r="0.8"/><circle cx="453.8" cy="72.6" r="0.8"/><circle cx="449.3" cy="109.4" r="0.8"/><circle cx="456.2" cy="87.7" r="0.8"/><circle cx="451.9" cy="106.0" r="0.8"/><circle cx="452.3" cy="80.3" r="0.8"/><circle cx="452.7" cy="86.8" r="0.8"/><circle cx="452.0" cy="79.3" r="0.8"/><circle cx="454.4" cy="114.1" r="0.8"/><circle cx="449.7" cy="73.0" r="0.8"/><circle cx="457.4" cy="97.4" r="0.8"/><circle cx="452.2" cy="113.5" r="0.8"/><circle cx="458.4" cy="111.8" r="0.8"/><circle cx="455.4" cy="109.6" r="0.8"/><circle cx="450.4" cy="86.9" r="0.8"/><circle cx="453.5" cy="105.3" r="0.8"/><circle cx="449.6" cy="113.9" r="0.8"/><circle cx="449.6" cy="75.6" r="0.8"/><circle cx="450.3" cy="107.8" r="0.8"/><circle cx="457.1" cy="110.4" r="0.8"/><circle cx="454.9" cy="97.0" r="0.8"/><circle cx="453.1" cy="85.5" r="0.8"/><circle cx="450.0" cy="88.7" r="0.8"/><circle cx="453.7" cy="111.3" r="0.8"/><circle cx="448.7" cy="77.7" r="0.8"/><circle cx="457.8" cy="112.6" r="0.8"/><circle cx="449.3" cy="110.4" r="0.8"/><circle cx="454.9" cy="94.5" r="0.8"/><circle cx="453.4" cy="79.0" r="0.8"/><circle cx="458.3" cy="105.5" r="0.8"/><circle cx="453.7" cy="108.9" r="0.8"/><circle cx="455.3" cy="112.9" r="0.8"/><circle cx="452.8" cy="88.3" r="0.8"/><circle cx="449.3" cy="104.9" r="0.8"/><circle cx="448.7" cy="91.6" r="0.8"/><circle cx="453.3" cy="83.6" r="0.8"/><circle cx="452.2" cy="76.2" r="0.8"/><circle cx="458.7" cy="108.4" r="0.8"/><circle cx="453.6" cy="94.4" r="0.8"/><circle cx="457.3" cy="104.5" r="0.8"/><circle cx="453.4" cy="91.7" r="0.8"/><circle cx="455.6" cy="92.9" r="0.8"/><circle cx="445.0" cy="66.2" r="0.8"/><circle cx="453.5" cy="108.3" r="0.8"/><circle cx="455.2" cy="85.2" r="0.8"/><circle cx="452.1" cy="106.2" r="0.8"/><circle cx="453.2" cy="97.5" r="0.8"/><circle cx="451.8" cy="103.7" r="0.8"/><circle cx="459.3" cy="114.1" r="0.8"/><circle cx="458.2" cy="105.9" r="0.8"/><circle cx="449.4" cy="92.0" r="0.8"/><circle cx="453.1" cy="111.5" r="0.8"/><circle cx="450.2" cy="111.0" r="0.8"/><circle cx="452.2" cy="83.1" r="0.8"/><circle cx="454.6" cy="112.1" r="0.8"/><circle cx="455.7" cy="88.7" r="0.8"/><circle cx="450.9" cy="102.2" r="0.8"/><circle cx="455.6" cy="113.9" r="0.8"/><circle cx="458.1" cy="97.6" r="0.8"/><circle cx="449.6" cy="109.5" r="0.8"/><circle cx="455.2" cy="97.5" r="0.8"/><circle cx="436.0" cy="104.7" r="0.8"/><circle cx="439.6" cy="100.4" r="0.8"/><circle cx="438.4" cy="87.5" r="0.8"/><circle cx="442.5" cy="86.7" r="0.8"/><circle cx="446.1" cy="96.1" r="0.8"/><circle cx="440.8" cy="91.8" r="0.8"/><circle cx="443.1" cy="67.0" r="0.8"/><circle cx="444.9" cy="66.1" r="0.8"/></g>
<circle cx="384.9" cy="61.3" r="1.5" fill="#5eb3cc"/><circle cx="384.9" cy="66.6" r="1.5" fill="#e8b040"/>
<text x="387.20" y="62.81" font-size="4.2" textLength="8.60" lengthAdjust="spacingAndGlyphs" style="stroke-width:0.05px">&#8593; 137</text>
<text x="387.20" y="68.11" font-size="4.2" textLength="7.00" lengthAdjust="spacingAndGlyphs" style="stroke-width:0.05px">&#8595; 48</text>
<text x="381.60" y="73.41" font-size="4.2" textLength="19.50" lengthAdjust="spacingAndGlyphs" style="stroke-width:0.05px">FDR &lt; 0.01</text>
<circle cx="498" cy="61.5" r="1.5" fill="#5eb3cc"/><circle cx="498" cy="67.3" r="1.5" fill="#e8b040"/>
<text x="500.30" y="63.01" font-size="4.2" textLength="9.30" lengthAdjust="spacingAndGlyphs" style="stroke-width:0.05px">&#8593; 759</text>
<text x="500.30" y="68.81" font-size="4.2" textLength="9.30" lengthAdjust="spacingAndGlyphs" style="stroke-width:0.05px">&#8595; 599</text>
<defs><clipPath id="c268"><circle cx="26.8" cy="226.8" r="14.3"/></clipPath></defs>
<circle cx="26.8" cy="226.8" r="14.3" fill="#e4ece0"/>
<circle cx="26.4" cy="247.3" r="19.45" fill="#c8e0e7"/>
<circle cx="26.4" cy="247.3" r="19.45" fill="#a8cad5" clip-path="url(#c268)"/>
<circle cx="26.8" cy="226.8" r="14.3" fill="none" stroke="#333" stroke-width="0.7"/>
<circle cx="26.4" cy="247.3" r="19.45" fill="none" stroke="#333" stroke-width="0.7"/>
<text x="26.80" y="222.24" font-size="5.4" text-anchor="middle">1,238</text>
<text x="26.80" y="235.24" font-size="5.4" text-anchor="middle">894</text>
<text x="26.80" y="250.24" font-size="5.4" text-anchor="middle">1,656</text>
<defs><clipPath id="c679"><circle cx="67.9" cy="229.0" r="13.4"/></clipPath></defs>
<circle cx="67.9" cy="229.0" r="13.4" fill="#e4ece0"/>
<circle cx="68.1" cy="242.9" r="20.4" fill="#c8e0e7"/>
<circle cx="68.1" cy="242.9" r="20.4" fill="#a8cad5" clip-path="url(#c679)"/>
<circle cx="67.9" cy="229.0" r="13.4" fill="none" stroke="#333" stroke-width="0.7"/>
<circle cx="68.1" cy="242.9" r="20.4" fill="none" stroke="#333" stroke-width="0.7"/>
<text x="67.90" y="221.74" font-size="5.4" text-anchor="middle">297</text>
<text x="67.90" y="233.94" font-size="5.4" text-anchor="middle">655</text>
<text x="68.00" y="252.34" font-size="5.4" text-anchor="middle">371</text>
<text x="26.20" y="201.28" font-size="5.5" text-anchor="middle" textLength="32.40" lengthAdjust="spacingAndGlyphs">Condition #1:</text>
<line x1="9.60" y1="203.80" x2="42.80" y2="203.80" stroke="#333" stroke-width="0.8"/>
<text x="26.20" y="209.38" font-size="5.5" text-anchor="middle" textLength="27.70" lengthAdjust="spacingAndGlyphs">2,132 sites</text>
<text x="68.10" y="201.28" font-size="5.5" text-anchor="middle" textLength="32.40" lengthAdjust="spacingAndGlyphs">Condition #1:</text>
<line x1="51.50" y1="203.80" x2="84.70" y2="203.80" stroke="#333" stroke-width="0.8"/>
<text x="68.10" y="209.38" font-size="5.5" text-anchor="middle" textLength="30.20" lengthAdjust="spacingAndGlyphs">952 proteins</text>
<text x="26.20" y="274.48" font-size="5.5" text-anchor="middle" textLength="32.40" lengthAdjust="spacingAndGlyphs">Condition #2:</text>
<line x1="9.60" y1="276.40" x2="42.80" y2="276.40" stroke="#333" stroke-width="0.8"/>
<text x="26.20" y="282.58" font-size="5.5" text-anchor="middle" textLength="25.40" lengthAdjust="spacingAndGlyphs">2,550 sites</text>
<text x="68.10" y="270.28" font-size="5.5" text-anchor="middle" textLength="32.40" lengthAdjust="spacingAndGlyphs">Condition #2:</text>
<line x1="51.50" y1="272.20" x2="84.70" y2="272.20" stroke="#333" stroke-width="0.8"/>
<text x="68.10" y="278.38" font-size="5.5" text-anchor="middle" textLength="34.00" lengthAdjust="spacingAndGlyphs">1,026 proteins</text>
<rect x="103.10" y="197.10" width="133.80" height="8.70" fill="#c9c9c9"/>
<rect x="103.10" y="205.80" width="133.80" height="14.90" fill="#e4ece0"/>
<rect x="103.10" y="220.70" width="133.80" height="46.80" fill="#a9cad5"/>
<rect x="103.10" y="267.50" width="133.80" height="41.20" fill="#c8e0e7"/>
<text x="129.2" y="203.62" font-size="5.9" text-decoration="underline" textLength="69" lengthAdjust="spacingAndGlyphs">GO term (Biological Process)</text>
<text x="222.3" y="203.62" font-size="5.9" text-anchor="middle" text-decoration="underline">No.</text>
<text x="129.20" y="212.22" font-size="5.9" textLength="76.65" lengthAdjust="spacingAndGlyphs">Cell component morphogenesis</text>
<text x="222.30" y="212.22" font-size="5.9" text-anchor="middle" textLength="6.06" lengthAdjust="spacingAndGlyphs">73</text>
<text x="129.20" y="218.32" font-size="5.9" textLength="63.92" lengthAdjust="spacingAndGlyphs">Actin filament organization</text>
<text x="222.30" y="218.32" font-size="5.9" text-anchor="middle" textLength="6.06" lengthAdjust="spacingAndGlyphs">37</text>
<text x="129.20" y="227.22" font-size="5.9" textLength="64.52" lengthAdjust="spacingAndGlyphs">Vesicle-mediated transport</text>
<text x="212.60" y="227.22" font-size="5.9" textLength="21.21" lengthAdjust="spacingAndGlyphs">180, 213</text>
<text x="129.20" y="233.42" font-size="5.9" textLength="62.71" lengthAdjust="spacingAndGlyphs">Cytoskeleton organization</text>
<text x="212.60" y="233.42" font-size="5.9" textLength="21.21" lengthAdjust="spacingAndGlyphs">108, 123</text>
<text x="129.20" y="239.72" font-size="5.9" textLength="79.08" lengthAdjust="spacingAndGlyphs">Regulation of signal transduction</text>
<text x="212.60" y="239.72" font-size="5.9" textLength="21.21" lengthAdjust="spacingAndGlyphs">193, 240</text>
<text x="129.20" y="246.02" font-size="5.9" textLength="26.05" lengthAdjust="spacingAndGlyphs">Exocytosis</text>
<text x="212.60" y="246.02" font-size="5.9" textLength="15.15" lengthAdjust="spacingAndGlyphs">78, 87</text>
<text x="129.20" y="252.32" font-size="5.9" textLength="51.19" lengthAdjust="spacingAndGlyphs">Intracellular transport</text>
<text x="212.60" y="252.32" font-size="5.9" textLength="18.18" lengthAdjust="spacingAndGlyphs">106, 87</text>
<text x="129.20" y="258.72" font-size="5.9" textLength="65.74" lengthAdjust="spacingAndGlyphs">Cell projection organization</text>
<text x="212.60" y="258.72" font-size="5.9" textLength="18.18" lengthAdjust="spacingAndGlyphs">93, 106</text>
<text x="129.20" y="265.02" font-size="5.9" textLength="37.26" lengthAdjust="spacingAndGlyphs">MAPK cascade</text>
<text x="212.60" y="265.02" font-size="5.9" textLength="15.15" lengthAdjust="spacingAndGlyphs">41, 44</text>
<text x="129.20" y="274.02" font-size="5.9" textLength="71.79" lengthAdjust="spacingAndGlyphs">Regulation of GTPase activity</text>
<text x="218.40" y="274.02" font-size="5.9" textLength="6.06" lengthAdjust="spacingAndGlyphs">82</text>
<text x="129.20" y="280.42" font-size="5.9" textLength="75.43" lengthAdjust="spacingAndGlyphs">Regulation of hydrolase activity</text>
<text x="218.40" y="280.42" font-size="5.9" textLength="9.09" lengthAdjust="spacingAndGlyphs">131</text>
<text x="129.20" y="286.82" font-size="5.9" textLength="79.07" lengthAdjust="spacingAndGlyphs">Regulation of transferase activity</text>
<text x="218.40" y="286.82" font-size="5.9" textLength="9.09" lengthAdjust="spacingAndGlyphs">104</text>
<text x="129.20" y="293.12" font-size="5.9" textLength="48.48" lengthAdjust="spacingAndGlyphs">Vesicle organization</text>
<text x="218.40" y="293.12" font-size="5.9" textLength="6.06" lengthAdjust="spacingAndGlyphs">47</text>
<text x="129.20" y="299.42" font-size="5.9" textLength="50.29" lengthAdjust="spacingAndGlyphs">Endosomal transport</text>
<text x="218.40" y="299.42" font-size="5.9" textLength="6.06" lengthAdjust="spacingAndGlyphs">35</text>
<text x="129.20" y="305.82" font-size="5.9" textLength="67.25" lengthAdjust="spacingAndGlyphs">Regulation of MAPK activity</text>
<text x="218.40" y="305.82" font-size="5.9" textLength="6.06" lengthAdjust="spacingAndGlyphs">61</text>
<text x="116.20" y="212.12" font-size="5.9" text-anchor="middle" textLength="14.54" lengthAdjust="spacingAndGlyphs">Cond.</text>
<text x="116.20" y="218.32" font-size="5.9" text-anchor="middle" textLength="6.06" lengthAdjust="spacingAndGlyphs">#1</text>
<text x="116.20" y="242.92" font-size="5.9" text-anchor="middle" textLength="14.54" lengthAdjust="spacingAndGlyphs">Cond.</text>
<text x="116.20" y="249.02" font-size="5.9" text-anchor="middle" textLength="18.34" lengthAdjust="spacingAndGlyphs">#1 + #2</text>
<text x="116.20" y="287.02" font-size="5.9" text-anchor="middle" textLength="14.54" lengthAdjust="spacingAndGlyphs">Cond.</text>
<text x="116.20" y="293.02" font-size="5.9" text-anchor="middle" textLength="6.06" lengthAdjust="spacingAndGlyphs">#2</text>
<rect x="6.90" y="326.50" width="183.10" height="8.50" fill="#c9c9c9"/>
<rect x="6.90" y="335.00" width="183.10" height="46.30" fill="#a9cad5"/>
<text x="33.5" y="332.82" font-size="5.9" text-decoration="underline" textLength="46.65" lengthAdjust="spacingAndGlyphs">Reactome pathway</text>
<text x="151.5" y="332.82" font-size="5.9" text-anchor="middle" text-decoration="underline">No.</text>
<text x="173.8" y="332.82" font-size="5.9" text-anchor="middle" text-decoration="underline">FDR</text>
<text x="20.00" y="344.52" font-size="5.9" text-anchor="middle" textLength="23.03" lengthAdjust="spacingAndGlyphs">Condition</text>
<text x="20.00" y="350.92" font-size="5.9" text-anchor="middle" textLength="18.34" lengthAdjust="spacingAndGlyphs">#1 + #2</text>
<text x="33.50" y="340.92" font-size="5.9" textLength="52.30" lengthAdjust="spacingAndGlyphs">Membrane Trafficking</text>
<text x="155.70" y="340.92" font-size="5.9" text-anchor="end" textLength="9.09" lengthAdjust="spacingAndGlyphs">157</text>
<text x="161.4" y="340.92" font-size="5.9"><tspan textLength="19.85" lengthAdjust="spacingAndGlyphs">3.43&#215;10</tspan><tspan font-size="2.6" dy="-2.2">-38</tspan></text>
<text x="33.50" y="347.22" font-size="5.9" textLength="107.30" lengthAdjust="spacingAndGlyphs">Platelet activation, signaling and aggregation</text>
<text x="155.70" y="347.22" font-size="5.9" text-anchor="end" textLength="6.06" lengthAdjust="spacingAndGlyphs">87</text>
<text x="161.4" y="347.22" font-size="5.9"><tspan textLength="19.85" lengthAdjust="spacingAndGlyphs">1.07&#215;10</tspan><tspan font-size="2.6" dy="-2.2">-27</tspan></text>
<text x="33.50" y="353.62" font-size="5.9" textLength="65.43" lengthAdjust="spacingAndGlyphs">Signaling by Rho GTPases</text>
<text x="155.70" y="353.62" font-size="5.9" text-anchor="end" textLength="9.09" lengthAdjust="spacingAndGlyphs">106</text>
<text x="161.4" y="353.62" font-size="5.9"><tspan textLength="19.85" lengthAdjust="spacingAndGlyphs">2.28&#215;10</tspan><tspan font-size="2.6" dy="-2.2">-26</tspan></text>
<text x="33.50" y="359.92" font-size="5.9" textLength="47.87" lengthAdjust="spacingAndGlyphs">Signal Transduction</text>
<text x="155.70" y="359.92" font-size="5.9" text-anchor="end" textLength="9.09" lengthAdjust="spacingAndGlyphs">319</text>
<text x="161.4" y="359.92" font-size="5.9"><tspan textLength="19.85" lengthAdjust="spacingAndGlyphs">5.00&#215;10</tspan><tspan font-size="2.6" dy="-2.2">-23</tspan></text>
<text x="33.50" y="366.32" font-size="5.9" textLength="90.87" lengthAdjust="spacingAndGlyphs">Fc epsilon receptor (FCERI) signaling</text>
<text x="155.70" y="366.32" font-size="5.9" text-anchor="end" textLength="6.06" lengthAdjust="spacingAndGlyphs">36</text>
<text x="161.4" y="366.32" font-size="5.9"><tspan textLength="19.85" lengthAdjust="spacingAndGlyphs">9.15&#215;10</tspan><tspan font-size="2.6" dy="-2.2">-10</tspan></text>
<text x="33.50" y="372.72" font-size="5.9" textLength="95.11" lengthAdjust="spacingAndGlyphs">Signaling by the B Cell Receptor (BCR)</text>
<text x="155.70" y="372.72" font-size="5.9" text-anchor="end" textLength="6.06" lengthAdjust="spacingAndGlyphs">27</text>
<text x="161.4" y="372.72" font-size="5.9"><tspan textLength="19.85" lengthAdjust="spacingAndGlyphs">1.33&#215;10</tspan><tspan font-size="2.6" dy="-2.2">-6</tspan></text>
<text x="33.50" y="379.12" font-size="5.9" textLength="83.61" lengthAdjust="spacingAndGlyphs">GPVI-mediated activation cascade</text>
<text x="155.70" y="379.12" font-size="5.9" text-anchor="end" textLength="6.06" lengthAdjust="spacingAndGlyphs">14</text>
<text x="161.4" y="379.12" font-size="5.9"><tspan textLength="19.85" lengthAdjust="spacingAndGlyphs">1.53&#215;10</tspan><tspan font-size="2.6" dy="-2.2">-5</tspan></text>
<line x1="274.30" y1="201.30" x2="274.30" y2="243.80" stroke="#333" stroke-width="0.9"/>
<line x1="272.30" y1="243.80" x2="274.30" y2="243.80" stroke="#333" stroke-width="0.7"/>
<text x="271.40" y="245.60" font-size="5.0" text-anchor="end">0</text>
<line x1="272.30" y1="235.80" x2="274.30" y2="235.80" stroke="#333" stroke-width="0.7"/>
<text x="271.40" y="237.60" font-size="5.0" text-anchor="end">20</text>
<line x1="272.30" y1="227.80" x2="274.30" y2="227.80" stroke="#333" stroke-width="0.7"/>
<text x="271.40" y="229.60" font-size="5.0" text-anchor="end">40</text>
<line x1="272.30" y1="219.80" x2="274.30" y2="219.80" stroke="#333" stroke-width="0.7"/>
<text x="271.40" y="221.60" font-size="5.0" text-anchor="end">60</text>
<line x1="272.30" y1="211.80" x2="274.30" y2="211.80" stroke="#333" stroke-width="0.7"/>
<text x="271.40" y="213.60" font-size="5.0" text-anchor="end">80</text>
<line x1="272.30" y1="203.80" x2="274.30" y2="203.80" stroke="#333" stroke-width="0.7"/>
<text x="271.40" y="205.60" font-size="5.0" text-anchor="end">100</text>
<text transform="translate(254.6,221.90) rotate(-90)" x="0" y="2.3" font-size="6.6" text-anchor="middle" textLength="50.5" lengthAdjust="spacingAndGlyphs">Pixel intensity (a.u.)</text>
<line x1="281.05" y1="241.60" x2="281.05" y2="243.00" stroke="#555" stroke-width="0.8"/>
<line x1="279.75" y1="241.60" x2="282.35" y2="241.60" stroke="#555" stroke-width="0.8"/>
<rect x="278.35" y="243.00" width="5.40" height="0.80" fill="#fbefa1"/>
<line x1="288.85" y1="235.30" x2="288.85" y2="238.30" stroke="#555" stroke-width="0.8"/>
<line x1="287.55" y1="235.30" x2="290.15" y2="235.30" stroke="#555" stroke-width="0.8"/>
<rect x="286.15" y="238.30" width="5.40" height="5.50" fill="#99cbb5"/>
<line x1="296.65" y1="229.20" x2="296.65" y2="234.20" stroke="#555" stroke-width="0.8"/>
<line x1="295.35" y1="229.20" x2="297.95" y2="229.20" stroke="#555" stroke-width="0.8"/>
<rect x="293.95" y="234.20" width="5.40" height="9.60" fill="#5fa9c3"/>
<line x1="288.85" y1="243.80" x2="288.85" y2="245.30" stroke="#333" stroke-width="0.7"/>
<line x1="310.73" y1="242.60" x2="310.73" y2="243.00" stroke="#555" stroke-width="0.8"/>
<line x1="309.43" y1="242.60" x2="312.03" y2="242.60" stroke="#555" stroke-width="0.8"/>
<rect x="308.03" y="243.00" width="5.40" height="0.80" fill="#fbefa1"/>
<line x1="318.53" y1="234.00" x2="318.53" y2="237.90" stroke="#555" stroke-width="0.8"/>
<line x1="317.23" y1="234.00" x2="319.83" y2="234.00" stroke="#555" stroke-width="0.8"/>
<rect x="315.83" y="237.90" width="5.40" height="5.90" fill="#99cbb5"/>
<line x1="326.33" y1="233.30" x2="326.33" y2="236.90" stroke="#555" stroke-width="0.8"/>
<line x1="325.03" y1="233.30" x2="327.63" y2="233.30" stroke="#555" stroke-width="0.8"/>
<rect x="323.63" y="236.90" width="5.40" height="6.90" fill="#5fa9c3"/>
<line x1="318.53" y1="243.80" x2="318.53" y2="245.30" stroke="#333" stroke-width="0.7"/>
<line x1="340.41" y1="240.20" x2="340.41" y2="242.70" stroke="#555" stroke-width="0.8"/>
<line x1="339.11" y1="240.20" x2="341.71" y2="240.20" stroke="#555" stroke-width="0.8"/>
<rect x="337.71" y="242.70" width="5.40" height="1.10" fill="#fbefa1"/>
<line x1="348.21" y1="235.00" x2="348.21" y2="237.00" stroke="#555" stroke-width="0.8"/>
<line x1="346.91" y1="235.00" x2="349.51" y2="235.00" stroke="#555" stroke-width="0.8"/>
<rect x="345.51" y="237.00" width="5.40" height="6.80" fill="#99cbb5"/>
<line x1="356.01" y1="222.30" x2="356.01" y2="228.10" stroke="#555" stroke-width="0.8"/>
<line x1="354.71" y1="222.30" x2="357.31" y2="222.30" stroke="#555" stroke-width="0.8"/>
<rect x="353.31" y="228.10" width="5.40" height="15.70" fill="#5fa9c3"/>
<line x1="348.21" y1="243.80" x2="348.21" y2="245.30" stroke="#333" stroke-width="0.7"/>
<line x1="370.09" y1="239.60" x2="370.09" y2="242.40" stroke="#555" stroke-width="0.8"/>
<line x1="368.79" y1="239.60" x2="371.39" y2="239.60" stroke="#555" stroke-width="0.8"/>
<rect x="367.39" y="242.40" width="5.40" height="1.40" fill="#fbefa1"/>
<line x1="377.89" y1="228.80" x2="377.89" y2="231.50" stroke="#555" stroke-width="0.8"/>
<line x1="376.59" y1="228.80" x2="379.19" y2="228.80" stroke="#555" stroke-width="0.8"/>
<rect x="375.19" y="231.50" width="5.40" height="12.30" fill="#99cbb5"/>
<line x1="385.69" y1="218.40" x2="385.69" y2="223.20" stroke="#555" stroke-width="0.8"/>
<line x1="384.39" y1="218.40" x2="386.99" y2="218.40" stroke="#555" stroke-width="0.8"/>
<rect x="382.99" y="223.20" width="5.40" height="20.60" fill="#5fa9c3"/>
<line x1="377.89" y1="243.80" x2="377.89" y2="245.30" stroke="#333" stroke-width="0.7"/>
<line x1="399.77" y1="240.40" x2="399.77" y2="242.70" stroke="#555" stroke-width="0.8"/>
<line x1="398.47" y1="240.40" x2="401.07" y2="240.40" stroke="#555" stroke-width="0.8"/>
<rect x="397.07" y="242.70" width="5.40" height="1.10" fill="#fbefa1"/>
<line x1="407.57" y1="222.40" x2="407.57" y2="230.80" stroke="#555" stroke-width="0.8"/>
<line x1="406.27" y1="222.40" x2="408.87" y2="222.40" stroke="#555" stroke-width="0.8"/>
<rect x="404.87" y="230.80" width="5.40" height="13.00" fill="#99cbb5"/>
<line x1="415.37" y1="206.50" x2="415.37" y2="209.90" stroke="#555" stroke-width="0.8"/>
<line x1="414.07" y1="206.50" x2="416.67" y2="206.50" stroke="#555" stroke-width="0.8"/>
<rect x="412.67" y="209.90" width="5.40" height="33.90" fill="#5fa9c3"/>
<line x1="407.57" y1="243.80" x2="407.57" y2="245.30" stroke="#333" stroke-width="0.7"/>
<line x1="429.45" y1="236.20" x2="429.45" y2="238.70" stroke="#555" stroke-width="0.8"/>
<line x1="428.15" y1="236.20" x2="430.75" y2="236.20" stroke="#555" stroke-width="0.8"/>
<rect x="426.75" y="238.70" width="5.40" height="5.10" fill="#fbefa1"/>
<line x1="437.25" y1="220.10" x2="437.25" y2="225.20" stroke="#555" stroke-width="0.8"/>
<line x1="435.95" y1="220.10" x2="438.55" y2="220.10" stroke="#555" stroke-width="0.8"/>
<rect x="434.55" y="225.20" width="5.40" height="18.60" fill="#99cbb5"/>
<line x1="445.05" y1="213.90" x2="445.05" y2="215.30" stroke="#555" stroke-width="0.8"/>
<line x1="443.75" y1="213.90" x2="446.35" y2="213.90" stroke="#555" stroke-width="0.8"/>
<rect x="442.35" y="215.30" width="5.40" height="28.50" fill="#5fa9c3"/>
<line x1="437.25" y1="243.80" x2="437.25" y2="245.30" stroke="#333" stroke-width="0.7"/>
<line x1="459.13" y1="239.60" x2="459.13" y2="242.20" stroke="#555" stroke-width="0.8"/>
<line x1="457.83" y1="239.60" x2="460.43" y2="239.60" stroke="#555" stroke-width="0.8"/>
<rect x="456.43" y="242.20" width="5.40" height="1.60" fill="#fbefa1"/>
<line x1="466.93" y1="237.80" x2="466.93" y2="239.90" stroke="#555" stroke-width="0.8"/>
<line x1="465.63" y1="237.80" x2="468.23" y2="237.80" stroke="#555" stroke-width="0.8"/>
<rect x="464.23" y="239.90" width="5.40" height="3.90" fill="#99cbb5"/>
<line x1="474.73" y1="230.70" x2="474.73" y2="233.00" stroke="#555" stroke-width="0.8"/>
<line x1="473.43" y1="230.70" x2="476.03" y2="230.70" stroke="#555" stroke-width="0.8"/>
<rect x="472.03" y="233.00" width="5.40" height="10.80" fill="#5fa9c3"/>
<line x1="466.93" y1="243.80" x2="466.93" y2="245.30" stroke="#333" stroke-width="0.7"/>
<line x1="274.30" y1="243.80" x2="481.50" y2="243.80" stroke="#3a3a3a" stroke-width="1.0"/>
<path d="M377.4 223.5 V214.7 H385.7 V216.5" fill="none" stroke="#444" stroke-width="0.7"/>
<text x="381.55" y="215.11" font-size="4.8" text-anchor="middle" style="stroke-width:0.1px">*</text>
<path d="M466.5 231.0 V226.0 H475.0 V227.3" fill="none" stroke="#444" stroke-width="0.7"/>
<text x="470.75" y="226.41" font-size="4.8" text-anchor="middle" style="stroke-width:0.1px">*</text>
<clipPath id="bc00"><rect x="275.05" y="248.30" width="27.5" height="10.4"/></clipPath>
<rect x="275.05" y="248.30" width="27.50" height="10.40" fill="#ececec"/>
<g clip-path="url(#bc00)"><g filter="url(#blr)"><ellipse cx="288.90" cy="253.40" rx="3.25" ry="0.90" fill="#6f6f6f"/><ellipse cx="297.60" cy="253.40" rx="4.00" ry="0.90" fill="#646464"/></g></g>
<rect x="275.05" y="248.30" width="27.5" height="10.4" fill="none" stroke="#8c8c8c" stroke-width="0.55"/>
<clipPath id="bc01"><rect x="304.73" y="248.30" width="27.5" height="10.4"/></clipPath>
<rect x="304.73" y="248.30" width="27.50" height="10.40" fill="#ececec"/>
<g clip-path="url(#bc01)"><g filter="url(#blr)"><ellipse cx="318.60" cy="253.40" rx="3.25" ry="0.90" fill="#d3d3d3"/><ellipse cx="326.30" cy="253.40" rx="3.25" ry="1.00" fill="#989898"/></g></g>
<rect x="304.73" y="248.30" width="27.5" height="10.4" fill="none" stroke="#8c8c8c" stroke-width="0.55"/>
<clipPath id="bc02"><rect x="334.41" y="248.30" width="27.5" height="10.4"/></clipPath>
<rect x="334.41" y="248.30" width="27.50" height="10.40" fill="#ececec"/>
<g clip-path="url(#bc02)"><g filter="url(#blr)"><ellipse cx="347.60" cy="253.40" rx="3.50" ry="1.00" fill="#6f6f6f"/><ellipse cx="356.20" cy="253.40" rx="4.25" ry="1.40" fill="#2c2c2c"/></g></g>
<rect x="334.41" y="248.30" width="27.5" height="10.4" fill="none" stroke="#8c8c8c" stroke-width="0.55"/>
<clipPath id="bc03"><rect x="364.09" y="248.30" width="27.5" height="10.4"/></clipPath>
<rect x="364.09" y="248.30" width="27.50" height="10.40" fill="#ececec"/>
<g clip-path="url(#bc03)"><g filter="url(#blr)"><ellipse cx="377.50" cy="253.40" rx="4.00" ry="0.90" fill="#a3a3a3"/><ellipse cx="385.80" cy="253.40" rx="4.25" ry="1.10" fill="#6f6f6f"/></g></g>
<rect x="364.09" y="248.30" width="27.5" height="10.4" fill="none" stroke="#8c8c8c" stroke-width="0.55"/>
<clipPath id="bc04"><rect x="393.77" y="248.30" width="27.5" height="10.4"/></clipPath>
<rect x="393.77" y="248.30" width="27.50" height="10.40" fill="#ececec"/>
<g clip-path="url(#bc04)"><g filter="url(#blr)"><ellipse cx="406.30" cy="253.40" rx="3.00" ry="0.90" fill="#c2c2c2"/><ellipse cx="415.60" cy="253.40" rx="4.00" ry="1.40" fill="#222222"/></g></g>
<rect x="393.77" y="248.30" width="27.5" height="10.4" fill="none" stroke="#8c8c8c" stroke-width="0.55"/>
<clipPath id="bc05"><rect x="423.45" y="248.30" width="27.5" height="10.4"/></clipPath>
<rect x="423.45" y="248.30" width="27.50" height="10.40" fill="#ececec"/>
<g clip-path="url(#bc05)"><g filter="url(#blr)"><ellipse cx="428.50" cy="253.40" rx="2.00" ry="0.75" fill="#dbdbdb"/><ellipse cx="437.50" cy="253.70" rx="5.50" ry="1.50" fill="#303030"/><ellipse cx="444.80" cy="253.30" rx="5.25" ry="3.10" fill="#2c2c2c"/></g></g>
<rect x="423.45" y="248.30" width="27.5" height="10.4" fill="none" stroke="#8c8c8c" stroke-width="0.55"/>
<clipPath id="bc06"><rect x="453.13" y="248.30" width="27.5" height="10.4"/></clipPath>
<rect x="453.13" y="248.30" width="27.50" height="10.40" fill="#ececec"/>
<g clip-path="url(#bc06)"><g filter="url(#blr)"><ellipse cx="458.50" cy="253.40" rx="2.50" ry="0.70" fill="#dbdbdb"/><ellipse cx="466.40" cy="253.40" rx="3.00" ry="0.85" fill="#989898"/><ellipse cx="475.00" cy="253.40" rx="4.00" ry="1.00" fill="#454545"/></g></g>
<rect x="453.13" y="248.30" width="27.5" height="10.4" fill="none" stroke="#8c8c8c" stroke-width="0.55"/>
<text x="288.85" y="265.11" font-size="5.3" text-anchor="middle">Syk</text>
<text x="288.85" y="271.01" font-size="5.3" text-anchor="middle">Y323</text>
<text x="318.53" y="265.11" font-size="5.3" text-anchor="middle">Syk</text>
<text x="318.53" y="271.01" font-size="5.3" text-anchor="middle">Y525</text>
<text x="348.21" y="265.11" font-size="5.3" text-anchor="middle">DAPP1</text>
<text x="348.21" y="271.01" font-size="5.3" text-anchor="middle">Y139</text>
<text x="377.89" y="265.11" font-size="5.3" text-anchor="middle">PLC&#947;2</text>
<text x="377.89" y="271.01" font-size="5.3" text-anchor="middle">Y1217</text>
<text x="407.57" y="265.11" font-size="5.3" text-anchor="middle">PKC&#948;</text>
<text x="407.57" y="271.01" font-size="5.3" text-anchor="middle">Y311</text>
<text x="437.25" y="265.11" font-size="5.3" text-anchor="middle">p38</text>
<text x="437.25" y="271.01" font-size="5.3" text-anchor="middle">T180/Y182</text>
<text x="466.93" y="265.11" font-size="5.3" text-anchor="middle">STAT1</text>
<text x="466.93" y="271.01" font-size="5.3" text-anchor="middle">S727</text>
<text x="265.8" y="267.71" font-size="5.3" text-decoration="underline">WB:</text>
<line x1="274.30" y1="285.60" x2="274.30" y2="328.10" stroke="#333" stroke-width="0.9"/>
<line x1="272.30" y1="328.10" x2="274.30" y2="328.10" stroke="#333" stroke-width="0.7"/>
<text x="271.40" y="329.90" font-size="5.0" text-anchor="end">0</text>
<line x1="272.30" y1="320.10" x2="274.30" y2="320.10" stroke="#333" stroke-width="0.7"/>
<text x="271.40" y="321.90" font-size="5.0" text-anchor="end">20</text>
<line x1="272.30" y1="312.10" x2="274.30" y2="312.10" stroke="#333" stroke-width="0.7"/>
<text x="271.40" y="313.90" font-size="5.0" text-anchor="end">40</text>
<line x1="272.30" y1="304.10" x2="274.30" y2="304.10" stroke="#333" stroke-width="0.7"/>
<text x="271.40" y="305.90" font-size="5.0" text-anchor="end">60</text>
<line x1="272.30" y1="296.10" x2="274.30" y2="296.10" stroke="#333" stroke-width="0.7"/>
<text x="271.40" y="297.90" font-size="5.0" text-anchor="end">80</text>
<line x1="272.30" y1="288.10" x2="274.30" y2="288.10" stroke="#333" stroke-width="0.7"/>
<text x="271.40" y="289.90" font-size="5.0" text-anchor="end">100</text>
<text transform="translate(254.6,306.20) rotate(-90)" x="0" y="2.3" font-size="6.6" text-anchor="middle" textLength="50.5" lengthAdjust="spacingAndGlyphs">Pixel intensity (a.u.)</text>
<line x1="281.05" y1="326.40" x2="281.05" y2="327.30" stroke="#555" stroke-width="0.8"/>
<line x1="279.75" y1="326.40" x2="282.35" y2="326.40" stroke="#555" stroke-width="0.8"/>
<rect x="278.35" y="327.30" width="5.40" height="0.80" fill="#fbefa1"/>
<line x1="288.85" y1="319.50" x2="288.85" y2="321.80" stroke="#555" stroke-width="0.8"/>
<line x1="287.55" y1="319.50" x2="290.15" y2="319.50" stroke="#555" stroke-width="0.8"/>
<rect x="286.15" y="321.80" width="5.40" height="6.30" fill="#99cbb5"/>
<line x1="296.65" y1="310.30" x2="296.65" y2="312.30" stroke="#555" stroke-width="0.8"/>
<line x1="295.35" y1="310.30" x2="297.95" y2="310.30" stroke="#555" stroke-width="0.8"/>
<rect x="293.95" y="312.30" width="5.40" height="15.80" fill="#5fa9c3"/>
<line x1="288.85" y1="328.10" x2="288.85" y2="329.60" stroke="#333" stroke-width="0.7"/>
<line x1="310.73" y1="326.30" x2="310.73" y2="327.00" stroke="#555" stroke-width="0.8"/>
<line x1="309.43" y1="326.30" x2="312.03" y2="326.30" stroke="#555" stroke-width="0.8"/>
<rect x="308.03" y="327.00" width="5.40" height="1.10" fill="#fbefa1"/>
<line x1="318.53" y1="317.40" x2="318.53" y2="320.80" stroke="#555" stroke-width="0.8"/>
<line x1="317.23" y1="317.40" x2="319.83" y2="317.40" stroke="#555" stroke-width="0.8"/>
<rect x="315.83" y="320.80" width="5.40" height="7.30" fill="#99cbb5"/>
<line x1="326.33" y1="303.50" x2="326.33" y2="306.90" stroke="#555" stroke-width="0.8"/>
<line x1="325.03" y1="303.50" x2="327.63" y2="303.50" stroke="#555" stroke-width="0.8"/>
<rect x="323.63" y="306.90" width="5.40" height="21.20" fill="#5fa9c3"/>
<line x1="318.53" y1="328.10" x2="318.53" y2="329.60" stroke="#333" stroke-width="0.7"/>
<line x1="340.41" y1="325.90" x2="340.41" y2="326.60" stroke="#555" stroke-width="0.8"/>
<line x1="339.11" y1="325.90" x2="341.71" y2="325.90" stroke="#555" stroke-width="0.8"/>
<rect x="337.71" y="326.60" width="5.40" height="1.50" fill="#fbefa1"/>
<line x1="348.21" y1="319.20" x2="348.21" y2="321.50" stroke="#555" stroke-width="0.8"/>
<line x1="346.91" y1="319.20" x2="349.51" y2="319.20" stroke="#555" stroke-width="0.8"/>
<rect x="345.51" y="321.50" width="5.40" height="6.60" fill="#99cbb5"/>
<line x1="356.01" y1="314.20" x2="356.01" y2="316.90" stroke="#555" stroke-width="0.8"/>
<line x1="354.71" y1="314.20" x2="357.31" y2="314.20" stroke="#555" stroke-width="0.8"/>
<rect x="353.31" y="316.90" width="5.40" height="11.20" fill="#5fa9c3"/>
<line x1="348.21" y1="328.10" x2="348.21" y2="329.60" stroke="#333" stroke-width="0.7"/>
<line x1="370.09" y1="325.70" x2="370.09" y2="326.90" stroke="#555" stroke-width="0.8"/>
<line x1="368.79" y1="325.70" x2="371.39" y2="325.70" stroke="#555" stroke-width="0.8"/>
<rect x="367.39" y="326.90" width="5.40" height="1.20" fill="#fbefa1"/>
<line x1="377.89" y1="323.40" x2="377.89" y2="324.90" stroke="#555" stroke-width="0.8"/>
<line x1="376.59" y1="323.40" x2="379.19" y2="323.40" stroke="#555" stroke-width="0.8"/>
<rect x="375.19" y="324.90" width="5.40" height="3.20" fill="#99cbb5"/>
<line x1="385.69" y1="313.10" x2="385.69" y2="316.60" stroke="#555" stroke-width="0.8"/>
<line x1="384.39" y1="313.10" x2="386.99" y2="313.10" stroke="#555" stroke-width="0.8"/>
<rect x="382.99" y="316.60" width="5.40" height="11.50" fill="#5fa9c3"/>
<line x1="377.89" y1="328.10" x2="377.89" y2="329.60" stroke="#333" stroke-width="0.7"/>
<line x1="399.77" y1="317.40" x2="399.77" y2="322.80" stroke="#555" stroke-width="0.8"/>
<line x1="398.47" y1="317.40" x2="401.07" y2="317.40" stroke="#555" stroke-width="0.8"/>
<rect x="397.07" y="322.80" width="5.40" height="5.30" fill="#fbefa1"/>
<line x1="407.57" y1="311.20" x2="407.57" y2="316.20" stroke="#555" stroke-width="0.8"/>
<line x1="406.27" y1="311.20" x2="408.87" y2="311.20" stroke="#555" stroke-width="0.8"/>
<rect x="404.87" y="316.20" width="5.40" height="11.90" fill="#99cbb5"/>
<line x1="415.37" y1="289.50" x2="415.37" y2="291.50" stroke="#555" stroke-width="0.8"/>
<line x1="414.07" y1="289.50" x2="416.67" y2="289.50" stroke="#555" stroke-width="0.8"/>
<rect x="412.67" y="291.50" width="5.40" height="36.60" fill="#5fa9c3"/>
<line x1="407.57" y1="328.10" x2="407.57" y2="329.60" stroke="#333" stroke-width="0.7"/>
<line x1="429.45" y1="326.30" x2="429.45" y2="327.40" stroke="#555" stroke-width="0.8"/>
<line x1="428.15" y1="326.30" x2="430.75" y2="326.30" stroke="#555" stroke-width="0.8"/>
<rect x="426.75" y="327.40" width="5.40" height="0.70" fill="#fbefa1"/>
<line x1="437.25" y1="323.10" x2="437.25" y2="324.90" stroke="#555" stroke-width="0.8"/>
<line x1="435.95" y1="323.10" x2="438.55" y2="323.10" stroke="#555" stroke-width="0.8"/>
<rect x="434.55" y="324.90" width="5.40" height="3.20" fill="#99cbb5"/>
<line x1="445.05" y1="305.40" x2="445.05" y2="311.10" stroke="#555" stroke-width="0.8"/>
<line x1="443.75" y1="305.40" x2="446.35" y2="305.40" stroke="#555" stroke-width="0.8"/>
<rect x="442.35" y="311.10" width="5.40" height="17.00" fill="#5fa9c3"/>
<line x1="437.25" y1="328.10" x2="437.25" y2="329.60" stroke="#333" stroke-width="0.7"/>
<line x1="459.13" y1="316.50" x2="459.13" y2="321.10" stroke="#555" stroke-width="0.8"/>
<line x1="457.83" y1="316.50" x2="460.43" y2="316.50" stroke="#555" stroke-width="0.8"/>
<rect x="456.43" y="321.10" width="5.40" height="7.00" fill="#fbefa1"/>
<line x1="466.93" y1="322.60" x2="466.93" y2="324.30" stroke="#555" stroke-width="0.8"/>
<line x1="465.63" y1="322.60" x2="468.23" y2="322.60" stroke="#555" stroke-width="0.8"/>
<rect x="464.23" y="324.30" width="5.40" height="3.80" fill="#99cbb5"/>
<line x1="474.73" y1="293.50" x2="474.73" y2="298.90" stroke="#555" stroke-width="0.8"/>
<line x1="473.43" y1="293.50" x2="476.03" y2="293.50" stroke="#555" stroke-width="0.8"/>
<rect x="472.03" y="298.90" width="5.40" height="29.20" fill="#5fa9c3"/>
<line x1="466.93" y1="328.10" x2="466.93" y2="329.60" stroke="#333" stroke-width="0.7"/>
<line x1="274.30" y1="328.10" x2="481.50" y2="328.10" stroke="#3a3a3a" stroke-width="1.0"/>
<path d="M288.5 314.6 V307.2 H296.5 V308.8" fill="none" stroke="#444" stroke-width="0.7"/>
<text x="292.50" y="307.61" font-size="4.8" text-anchor="middle" style="stroke-width:0.1px">*</text>
<path d="M347.7 314.6 V310.0 H356.2 V311.5" fill="none" stroke="#444" stroke-width="0.7"/>
<text x="351.95" y="310.41" font-size="4.8" text-anchor="middle" style="stroke-width:0.1px">*</text>
<path d="M377.4 316.9 V309.2 H385.7 V311.5" fill="none" stroke="#444" stroke-width="0.7"/>
<text x="381.55" y="309.61" font-size="4.8" text-anchor="middle" style="stroke-width:0.1px">*</text>
<path d="M407.2 300.0 V286.5 H415.4 V288.9" fill="none" stroke="#444" stroke-width="0.7"/>
<text x="411.30" y="286.91" font-size="4.8" text-anchor="middle" style="stroke-width:0.1px">*</text>
<path d="M437.3 316.9 V301.1 H445.5 V302.0" fill="none" stroke="#444" stroke-width="0.7"/>
<text x="441.40" y="301.51" font-size="4.8" text-anchor="middle" style="stroke-width:0.1px">*</text>
<path d="M466.5 311.5 V289.5 H475.0 V290.8" fill="none" stroke="#444" stroke-width="0.7"/>
<text x="470.75" y="289.91" font-size="4.8" text-anchor="middle" style="stroke-width:0.1px">*</text>
<clipPath id="bc10"><rect x="275.05" y="332.60" width="27.5" height="10.4"/></clipPath>
<rect x="275.05" y="332.60" width="27.50" height="10.40" fill="#ececec"/>
<g clip-path="url(#bc10)"><g filter="url(#blr)"><ellipse cx="279.20" cy="337.70" rx="1.50" ry="0.75" fill="#d7d7d7"/><ellipse cx="288.90" cy="337.70" rx="3.35" ry="1.10" fill="#3b3b3b"/><ellipse cx="297.20" cy="337.70" rx="3.75" ry="1.25" fill="#303030"/></g></g>
<rect x="275.05" y="332.60" width="27.5" height="10.4" fill="none" stroke="#8c8c8c" stroke-width="0.55"/>
<clipPath id="bc11"><rect x="304.73" y="332.60" width="27.5" height="10.4"/></clipPath>
<rect x="304.73" y="332.60" width="27.50" height="10.40" fill="#ececec"/>
<g clip-path="url(#bc11)"><g filter="url(#blr)"><ellipse cx="317.20" cy="337.70" rx="2.85" ry="1.00" fill="#848484"/><ellipse cx="326.00" cy="337.70" rx="3.65" ry="2.00" fill="#262626"/></g></g>
<rect x="304.73" y="332.60" width="27.5" height="10.4" fill="none" stroke="#8c8c8c" stroke-width="0.55"/>
<clipPath id="bc12"><rect x="334.41" y="332.60" width="27.5" height="10.4"/></clipPath>
<rect x="334.41" y="332.60" width="27.50" height="10.40" fill="#e2e2e2"/>
<g clip-path="url(#bc12)"><g filter="url(#blr)"><ellipse cx="345.60" cy="337.70" rx="2.00" ry="1.00" fill="#797979"/><ellipse cx="350.00" cy="337.70" rx="1.50" ry="0.90" fill="#adadad"/><ellipse cx="356.60" cy="337.70" rx="3.85" ry="1.30" fill="#454545"/><ellipse cx="359.80" cy="341.30" rx="0.60" ry="0.45" fill="#303030"/></g></g>
<rect x="334.41" y="332.60" width="27.5" height="10.4" fill="none" stroke="#8c8c8c" stroke-width="0.55"/>
<clipPath id="bc13"><rect x="364.09" y="332.60" width="27.5" height="10.4"/></clipPath>
<rect x="364.09" y="332.60" width="27.50" height="10.40" fill="#ececec"/>
<g clip-path="url(#bc13)"><g filter="url(#blr)"><ellipse cx="384.80" cy="337.70" rx="3.60" ry="1.10" fill="#3b3b3b"/></g></g>
<rect x="364.09" y="332.60" width="27.5" height="10.4" fill="none" stroke="#8c8c8c" stroke-width="0.55"/>
<clipPath id="bc14"><rect x="393.77" y="332.60" width="27.5" height="10.4"/></clipPath>
<rect x="393.77" y="332.60" width="27.50" height="10.40" fill="#ececec"/>
<g clip-path="url(#bc14)"><g filter="url(#blr)"><ellipse cx="405.60" cy="337.70" rx="3.65" ry="1.00" fill="#d3d3d3"/><ellipse cx="414.70" cy="337.70" rx="4.20" ry="1.50" fill="#2c2c2c"/></g></g>
<rect x="393.77" y="332.60" width="27.5" height="10.4" fill="none" stroke="#8c8c8c" stroke-width="0.55"/>
<clipPath id="bc15"><rect x="423.45" y="332.60" width="27.5" height="10.4"/></clipPath>
<rect x="423.45" y="332.60" width="27.50" height="10.40" fill="#ececec"/>
<g clip-path="url(#bc15)"><g filter="url(#blr)"><ellipse cx="435.70" cy="337.70" rx="2.40" ry="0.75" fill="#d7d7d7"/><ellipse cx="443.50" cy="337.70" rx="3.00" ry="1.10" fill="#343434"/></g></g>
<rect x="423.45" y="332.60" width="27.5" height="10.4" fill="none" stroke="#8c8c8c" stroke-width="0.55"/>
<clipPath id="bc16"><rect x="453.13" y="332.60" width="27.5" height="10.4"/></clipPath>
<rect x="453.13" y="332.60" width="27.50" height="10.40" fill="#e6e6e6"/>
<g clip-path="url(#bc16)"><g filter="url(#blr)"><ellipse cx="474.80" cy="337.70" rx="4.20" ry="1.50" fill="#8e8e8e"/></g></g>
<rect x="453.13" y="332.60" width="27.5" height="10.4" fill="none" stroke="#8c8c8c" stroke-width="0.55"/>
<text x="288.85" y="349.41" font-size="5.3" text-anchor="middle">GSK3&#945;</text>
<text x="288.85" y="355.31" font-size="5.3" text-anchor="middle">S21</text>
<text x="318.53" y="349.41" font-size="5.3" text-anchor="middle">PLC&#946;3</text>
<text x="318.53" y="355.31" font-size="5.3" text-anchor="middle">S1105</text>
<text x="348.21" y="349.41" font-size="5.3" text-anchor="middle">GEFH1</text>
<text x="348.21" y="355.31" font-size="5.3" text-anchor="middle">S886</text>
<text x="377.89" y="349.41" font-size="5.3" text-anchor="middle">PAK2</text>
<text x="377.89" y="355.31" font-size="5.3" text-anchor="middle">S192/S197</text>
<text x="407.57" y="349.41" font-size="5.3" text-anchor="middle">PKD</text>
<text x="407.57" y="355.31" font-size="5.3" text-anchor="middle">S744/S748</text>
<text x="437.25" y="349.41" font-size="5.3" text-anchor="middle">MLC2</text>
<text x="437.25" y="355.31" font-size="5.3" text-anchor="middle">T18/S19</text>
<text x="466.93" y="349.41" font-size="5.3" text-anchor="middle">RGS18</text>
<text x="466.93" y="355.31" font-size="5.3" text-anchor="middle">S49</text>
<text x="265.8" y="352.01" font-size="5.3" text-decoration="underline">WB:</text>
<line x1="274.30" y1="369.80" x2="274.30" y2="412.30" stroke="#333" stroke-width="0.9"/>
<line x1="272.30" y1="412.30" x2="274.30" y2="412.30" stroke="#333" stroke-width="0.7"/>
<text x="271.40" y="414.10" font-size="5.0" text-anchor="end">0</text>
<line x1="272.30" y1="404.30" x2="274.30" y2="404.30" stroke="#333" stroke-width="0.7"/>
<text x="271.40" y="406.10" font-size="5.0" text-anchor="end">20</text>
<line x1="272.30" y1="396.30" x2="274.30" y2="396.30" stroke="#333" stroke-width="0.7"/>
<text x="271.40" y="398.10" font-size="5.0" text-anchor="end">40</text>
<line x1="272.30" y1="388.30" x2="274.30" y2="388.30" stroke="#333" stroke-width="0.7"/>
<text x="271.40" y="390.10" font-size="5.0" text-anchor="end">60</text>
<line x1="272.30" y1="380.30" x2="274.30" y2="380.30" stroke="#333" stroke-width="0.7"/>
<text x="271.40" y="382.10" font-size="5.0" text-anchor="end">80</text>
<line x1="272.30" y1="372.30" x2="274.30" y2="372.30" stroke="#333" stroke-width="0.7"/>
<text x="271.40" y="374.10" font-size="5.0" text-anchor="end">100</text>
<text transform="translate(254.6,390.40) rotate(-90)" x="0" y="2.3" font-size="6.6" text-anchor="middle" textLength="50.5" lengthAdjust="spacingAndGlyphs">Pixel intensity (a.u.)</text>
<line x1="281.05" y1="391.50" x2="281.05" y2="398.40" stroke="#555" stroke-width="0.8"/>
<line x1="279.75" y1="391.50" x2="282.35" y2="391.50" stroke="#555" stroke-width="0.8"/>
<rect x="278.35" y="398.40" width="5.40" height="13.90" fill="#fbefa1"/>
<line x1="288.85" y1="386.50" x2="288.85" y2="389.90" stroke="#555" stroke-width="0.8"/>
<line x1="287.55" y1="386.50" x2="290.15" y2="386.50" stroke="#555" stroke-width="0.8"/>
<rect x="286.15" y="389.90" width="5.40" height="22.40" fill="#99cbb5"/>
<line x1="296.65" y1="407.00" x2="296.65" y2="408.80" stroke="#555" stroke-width="0.8"/>
<line x1="295.35" y1="407.00" x2="297.95" y2="407.00" stroke="#555" stroke-width="0.8"/>
<rect x="293.95" y="408.80" width="5.40" height="3.50" fill="#5fa9c3"/>
<line x1="288.85" y1="412.30" x2="288.85" y2="413.80" stroke="#333" stroke-width="0.7"/>
<line x1="310.73" y1="405.30" x2="310.73" y2="407.80" stroke="#555" stroke-width="0.8"/>
<line x1="309.43" y1="405.30" x2="312.03" y2="405.30" stroke="#555" stroke-width="0.8"/>
<rect x="308.03" y="407.80" width="5.40" height="4.50" fill="#fbefa1"/>
<line x1="318.53" y1="400.80" x2="318.53" y2="401.50" stroke="#555" stroke-width="0.8"/>
<line x1="317.23" y1="400.80" x2="319.83" y2="400.80" stroke="#555" stroke-width="0.8"/>
<rect x="315.83" y="401.50" width="5.40" height="10.80" fill="#99cbb5"/>
<line x1="326.33" y1="403.50" x2="326.33" y2="405.80" stroke="#555" stroke-width="0.8"/>
<line x1="325.03" y1="403.50" x2="327.63" y2="403.50" stroke="#555" stroke-width="0.8"/>
<rect x="323.63" y="405.80" width="5.40" height="6.50" fill="#5fa9c3"/>
<line x1="318.53" y1="412.30" x2="318.53" y2="413.80" stroke="#333" stroke-width="0.7"/>
<line x1="340.41" y1="379.90" x2="340.41" y2="383.80" stroke="#555" stroke-width="0.8"/>
<line x1="339.11" y1="379.90" x2="341.71" y2="379.90" stroke="#555" stroke-width="0.8"/>
<rect x="337.71" y="383.80" width="5.40" height="28.50" fill="#fbefa1"/>
<line x1="348.21" y1="380.40" x2="348.21" y2="385.80" stroke="#555" stroke-width="0.8"/>
<line x1="346.91" y1="380.40" x2="349.51" y2="380.40" stroke="#555" stroke-width="0.8"/>
<rect x="345.51" y="385.80" width="5.40" height="26.50" fill="#99cbb5"/>
<line x1="356.01" y1="385.00" x2="356.01" y2="389.90" stroke="#555" stroke-width="0.8"/>
<line x1="354.71" y1="385.00" x2="357.31" y2="385.00" stroke="#555" stroke-width="0.8"/>
<rect x="353.31" y="389.90" width="5.40" height="22.40" fill="#5fa9c3"/>
<line x1="348.21" y1="412.30" x2="348.21" y2="413.80" stroke="#333" stroke-width="0.7"/>
<line x1="370.09" y1="374.30" x2="370.09" y2="383.10" stroke="#555" stroke-width="0.8"/>
<line x1="368.79" y1="374.30" x2="371.39" y2="374.30" stroke="#555" stroke-width="0.8"/>
<rect x="367.39" y="383.10" width="5.40" height="29.20" fill="#fbefa1"/>
<line x1="377.89" y1="391.80" x2="377.89" y2="399.50" stroke="#555" stroke-width="0.8"/>
<line x1="376.59" y1="391.80" x2="379.19" y2="391.80" stroke="#555" stroke-width="0.8"/>
<rect x="375.19" y="399.50" width="5.40" height="12.80" fill="#99cbb5"/>
<line x1="385.69" y1="399.50" x2="385.69" y2="405.40" stroke="#555" stroke-width="0.8"/>
<line x1="384.39" y1="399.50" x2="386.99" y2="399.50" stroke="#555" stroke-width="0.8"/>
<rect x="382.99" y="405.40" width="5.40" height="6.90" fill="#5fa9c3"/>
<line x1="377.89" y1="412.30" x2="377.89" y2="413.80" stroke="#333" stroke-width="0.7"/>
<line x1="399.77" y1="378.80" x2="399.77" y2="383.80" stroke="#555" stroke-width="0.8"/>
<line x1="398.47" y1="378.80" x2="401.07" y2="378.80" stroke="#555" stroke-width="0.8"/>
<rect x="397.07" y="383.80" width="5.40" height="28.50" fill="#fbefa1"/>
<line x1="407.57" y1="378.80" x2="407.57" y2="383.80" stroke="#555" stroke-width="0.8"/>
<line x1="406.27" y1="378.80" x2="408.87" y2="378.80" stroke="#555" stroke-width="0.8"/>
<rect x="404.87" y="383.80" width="5.40" height="28.50" fill="#99cbb5"/>
<line x1="415.37" y1="378.20" x2="415.37" y2="381.10" stroke="#555" stroke-width="0.8"/>
<line x1="414.07" y1="378.20" x2="416.67" y2="378.20" stroke="#555" stroke-width="0.8"/>
<rect x="412.67" y="381.10" width="5.40" height="31.20" fill="#5fa9c3"/>
<line x1="407.57" y1="412.30" x2="407.57" y2="413.80" stroke="#333" stroke-width="0.7"/>
<line x1="429.45" y1="399.20" x2="429.45" y2="402.00" stroke="#555" stroke-width="0.8"/>
<line x1="428.15" y1="399.20" x2="430.75" y2="399.20" stroke="#555" stroke-width="0.8"/>
<rect x="426.75" y="402.00" width="5.40" height="10.30" fill="#fbefa1"/>
<line x1="437.25" y1="401.30" x2="437.25" y2="402.60" stroke="#555" stroke-width="0.8"/>
<line x1="435.95" y1="401.30" x2="438.55" y2="401.30" stroke="#555" stroke-width="0.8"/>
<rect x="434.55" y="402.60" width="5.40" height="9.70" fill="#99cbb5"/>
<line x1="445.05" y1="398.20" x2="445.05" y2="400.30" stroke="#555" stroke-width="0.8"/>
<line x1="443.75" y1="398.20" x2="446.35" y2="398.20" stroke="#555" stroke-width="0.8"/>
<rect x="442.35" y="400.30" width="5.40" height="12.00" fill="#5fa9c3"/>
<line x1="437.25" y1="412.30" x2="437.25" y2="413.80" stroke="#333" stroke-width="0.7"/>
<line x1="459.13" y1="383.10" x2="459.13" y2="387.40" stroke="#555" stroke-width="0.8"/>
<line x1="457.83" y1="383.10" x2="460.43" y2="383.10" stroke="#555" stroke-width="0.8"/>
<rect x="456.43" y="387.40" width="5.40" height="24.90" fill="#fbefa1"/>
<line x1="466.93" y1="382.80" x2="466.93" y2="387.70" stroke="#555" stroke-width="0.8"/>
<line x1="465.63" y1="382.80" x2="468.23" y2="382.80" stroke="#555" stroke-width="0.8"/>
<rect x="464.23" y="387.70" width="5.40" height="24.60" fill="#99cbb5"/>
<line x1="474.73" y1="391.20" x2="474.73" y2="392.30" stroke="#555" stroke-width="0.8"/>
<line x1="473.43" y1="391.20" x2="476.03" y2="391.20" stroke="#555" stroke-width="0.8"/>
<rect x="472.03" y="392.30" width="5.40" height="20.00" fill="#5fa9c3"/>
<line x1="466.93" y1="412.30" x2="466.93" y2="413.80" stroke="#333" stroke-width="0.7"/>
<line x1="274.30" y1="412.30" x2="481.50" y2="412.30" stroke="#3a3a3a" stroke-width="1.0"/>
<path d="M288.5 385.3 V383.5 H296.5 V392.4" fill="none" stroke="#444" stroke-width="0.7"/>
<text x="292.50" y="383.91" font-size="4.8" text-anchor="middle" style="stroke-width:0.1px">*</text>
<path d="M318.5 400.4 V396.5 H326.6 V399.6" fill="none" stroke="#444" stroke-width="0.7"/>
<text x="322.55" y="396.91" font-size="4.8" text-anchor="middle" style="stroke-width:0.1px">*</text>
<path d="M340.3 379.6 V375.5 H356.6 V382.2" fill="none" stroke="#444" stroke-width="0.7"/>
<text x="348.45" y="375.91" font-size="4.8" text-anchor="middle" style="stroke-width:0.1px">*</text>
<path d="M369.7 373.5 V371.1 H385.7 V383.8" fill="none" stroke="#444" stroke-width="0.7"/>
<text x="377.70" y="371.51" font-size="4.8" text-anchor="middle" style="stroke-width:0.1px">*</text>
<clipPath id="bc20"><rect x="275.05" y="416.80" width="27.5" height="10.4"/></clipPath>
<rect x="275.05" y="416.80" width="27.50" height="10.40" fill="#ececec"/>
<g clip-path="url(#bc20)"><g filter="url(#blr)"><ellipse cx="280.60" cy="420.70" rx="2.85" ry="0.70" fill="#b8b8b8"/><ellipse cx="280.60" cy="424.60" rx="2.85" ry="0.70" fill="#c2c2c2"/><ellipse cx="289.30" cy="420.70" rx="3.50" ry="1.20" fill="#1c1c1c"/><ellipse cx="289.30" cy="424.50" rx="3.50" ry="1.20" fill="#1c1c1c"/><ellipse cx="290.50" cy="422.60" rx="2.00" ry="1.50" fill="#1c1c1c"/><ellipse cx="297.50" cy="420.70" rx="3.35" ry="0.70" fill="#848484"/><ellipse cx="297.50" cy="424.60" rx="2.50" ry="0.60" fill="#c2c2c2"/></g></g>
<rect x="275.05" y="416.80" width="27.5" height="10.4" fill="none" stroke="#8c8c8c" stroke-width="0.55"/>
<clipPath id="bc21"><rect x="305.23" y="416.80" width="27.5" height="10.4"/></clipPath>
<rect x="305.23" y="416.80" width="27.50" height="10.40" fill="#ececec"/>
<g clip-path="url(#bc21)"><g filter="url(#blr)"><ellipse cx="318.10" cy="421.90" rx="3.35" ry="1.25" fill="#b1b1b1"/><ellipse cx="327.30" cy="421.90" rx="2.85" ry="1.25" fill="#d3d3d3"/></g></g>
<rect x="305.23" y="416.80" width="27.5" height="10.4" fill="none" stroke="#8c8c8c" stroke-width="0.55"/>
<clipPath id="bc22"><rect x="335.21" y="416.80" width="27.5" height="10.4"/></clipPath>
<rect x="335.21" y="416.80" width="27.50" height="10.40" fill="#dcdcdc"/>
<g clip-path="url(#bc22)"><g filter="url(#blr)"><ellipse cx="341.50" cy="421.90" rx="3.35" ry="1.10" fill="#3b3b3b"/><ellipse cx="349.70" cy="421.90" rx="2.90" ry="1.00" fill="#5a5a5a"/><ellipse cx="356.40" cy="421.90" rx="1.95" ry="1.00" fill="#797979"/></g></g>
<rect x="335.21" y="416.80" width="27.5" height="10.4" fill="none" stroke="#8c8c8c" stroke-width="0.55"/>
<clipPath id="bc23"><rect x="365.49" y="416.80" width="27.5" height="10.4"/></clipPath>
<rect x="365.49" y="416.80" width="27.50" height="10.40" fill="#ececec"/>
<g clip-path="url(#bc23)"><g filter="url(#blr)"><ellipse cx="371.60" cy="421.90" rx="4.20" ry="1.10" fill="#3b3b3b"/><ellipse cx="381.20" cy="421.90" rx="3.00" ry="0.90" fill="#bebebe"/><ellipse cx="389.00" cy="421.90" rx="2.40" ry="0.90" fill="#d3d3d3"/></g></g>
<rect x="365.49" y="416.80" width="27.5" height="10.4" fill="none" stroke="#8c8c8c" stroke-width="0.55"/>
<clipPath id="bc24"><rect x="395.17" y="416.80" width="27.5" height="10.4"/></clipPath>
<rect x="395.17" y="416.80" width="27.50" height="10.40" fill="#ececec"/>
<g clip-path="url(#bc24)"><g filter="url(#blr)"><ellipse cx="410.70" cy="421.90" rx="13.25" ry="0.90" fill="#565656"/></g></g>
<rect x="395.17" y="416.80" width="27.5" height="10.4" fill="none" stroke="#8c8c8c" stroke-width="0.55"/>
<clipPath id="bc25"><rect x="424.95" y="416.80" width="27.5" height="10.4"/></clipPath>
<rect x="424.95" y="416.80" width="27.50" height="10.40" fill="#d6d6d6"/>
<g clip-path="url(#bc25)"><g filter="url(#blr)"><ellipse cx="432.40" cy="421.90" rx="3.60" ry="2.00" fill="#6b6b6b"/><ellipse cx="440.80" cy="421.90" rx="3.65" ry="1.80" fill="#6f6f6f"/><ellipse cx="449.00" cy="421.90" rx="3.50" ry="1.60" fill="#989898"/></g></g>
<rect x="424.95" y="416.80" width="27.5" height="10.4" fill="none" stroke="#8c8c8c" stroke-width="0.55"/>
<clipPath id="bc26"><rect x="454.43" y="416.80" width="27.5" height="10.4"/></clipPath>
<rect x="454.43" y="416.80" width="27.50" height="10.40" fill="#e4e4e4"/>
<g clip-path="url(#bc26)"><g filter="url(#blr)"><ellipse cx="465.80" cy="421.90" rx="9.75" ry="2.30" fill="#222222"/><ellipse cx="478.30" cy="421.90" rx="3.50" ry="1.30" fill="#505050"/></g></g>
<rect x="454.43" y="416.80" width="27.5" height="10.4" fill="none" stroke="#8c8c8c" stroke-width="0.55"/>
<text x="288.85" y="433.61" font-size="5.3" text-anchor="middle">VASP</text>
<text x="288.85" y="439.51" font-size="5.3" text-anchor="middle">S239</text>
<text x="318.53" y="433.61" font-size="5.3" text-anchor="middle">RGS18</text>
<text x="318.53" y="439.51" font-size="5.3" text-anchor="middle">S216/S218</text>
<text x="348.21" y="433.61" font-size="5.3" text-anchor="middle">CTNND1</text>
<text x="348.21" y="439.51" font-size="5.3" text-anchor="middle">S252</text>
<text x="377.89" y="433.61" font-size="5.3" text-anchor="middle">STIM1</text>
<text x="377.89" y="439.51" font-size="5.3" text-anchor="middle">S575</text>
<text x="407.57" y="433.61" font-size="5.3" text-anchor="middle">Fyn</text>
<text x="407.57" y="439.51" font-size="5.3" text-anchor="middle">Y531</text>
<text x="437.25" y="433.61" font-size="5.3" text-anchor="middle">mTOR</text>
<text x="437.25" y="439.51" font-size="5.3" text-anchor="middle">S2448</text>
<text x="466.93" y="433.61" font-size="5.3" text-anchor="middle">FLNA</text>
<text x="466.93" y="439.51" font-size="5.3" text-anchor="middle">S2152</text>
<text x="265.8" y="436.21" font-size="5.3" text-decoration="underline">WB:</text>
<rect x="441.90" y="193.50" width="5.10" height="4.00" fill="#fbefa1"/>
<rect x="441.90" y="199.00" width="5.10" height="4.20" fill="#99cbb5"/>
<rect x="441.90" y="204.80" width="5.10" height="4.40" fill="#5fa9c3"/>
<text x="449.70" y="197.16" font-size="4.9" textLength="13.30" lengthAdjust="spacingAndGlyphs" style="stroke-width:0.08px">resting</text>
<text x="449.70" y="202.66" font-size="4.9" textLength="32.60" lengthAdjust="spacingAndGlyphs" style="stroke-width:0.08px">+CRP (+Apy, Indo)</text>
<text x="449.70" y="208.66" font-size="4.9" textLength="38.80" lengthAdjust="spacingAndGlyphs" style="stroke-width:0.08px">+CRP (no Apy, Indo)</text>
<path d="M0 0H520V448H0Z M1 1V446.7H518.7V1Z" fill="#000" fill-rule="evenodd"/></svg></body></html>
